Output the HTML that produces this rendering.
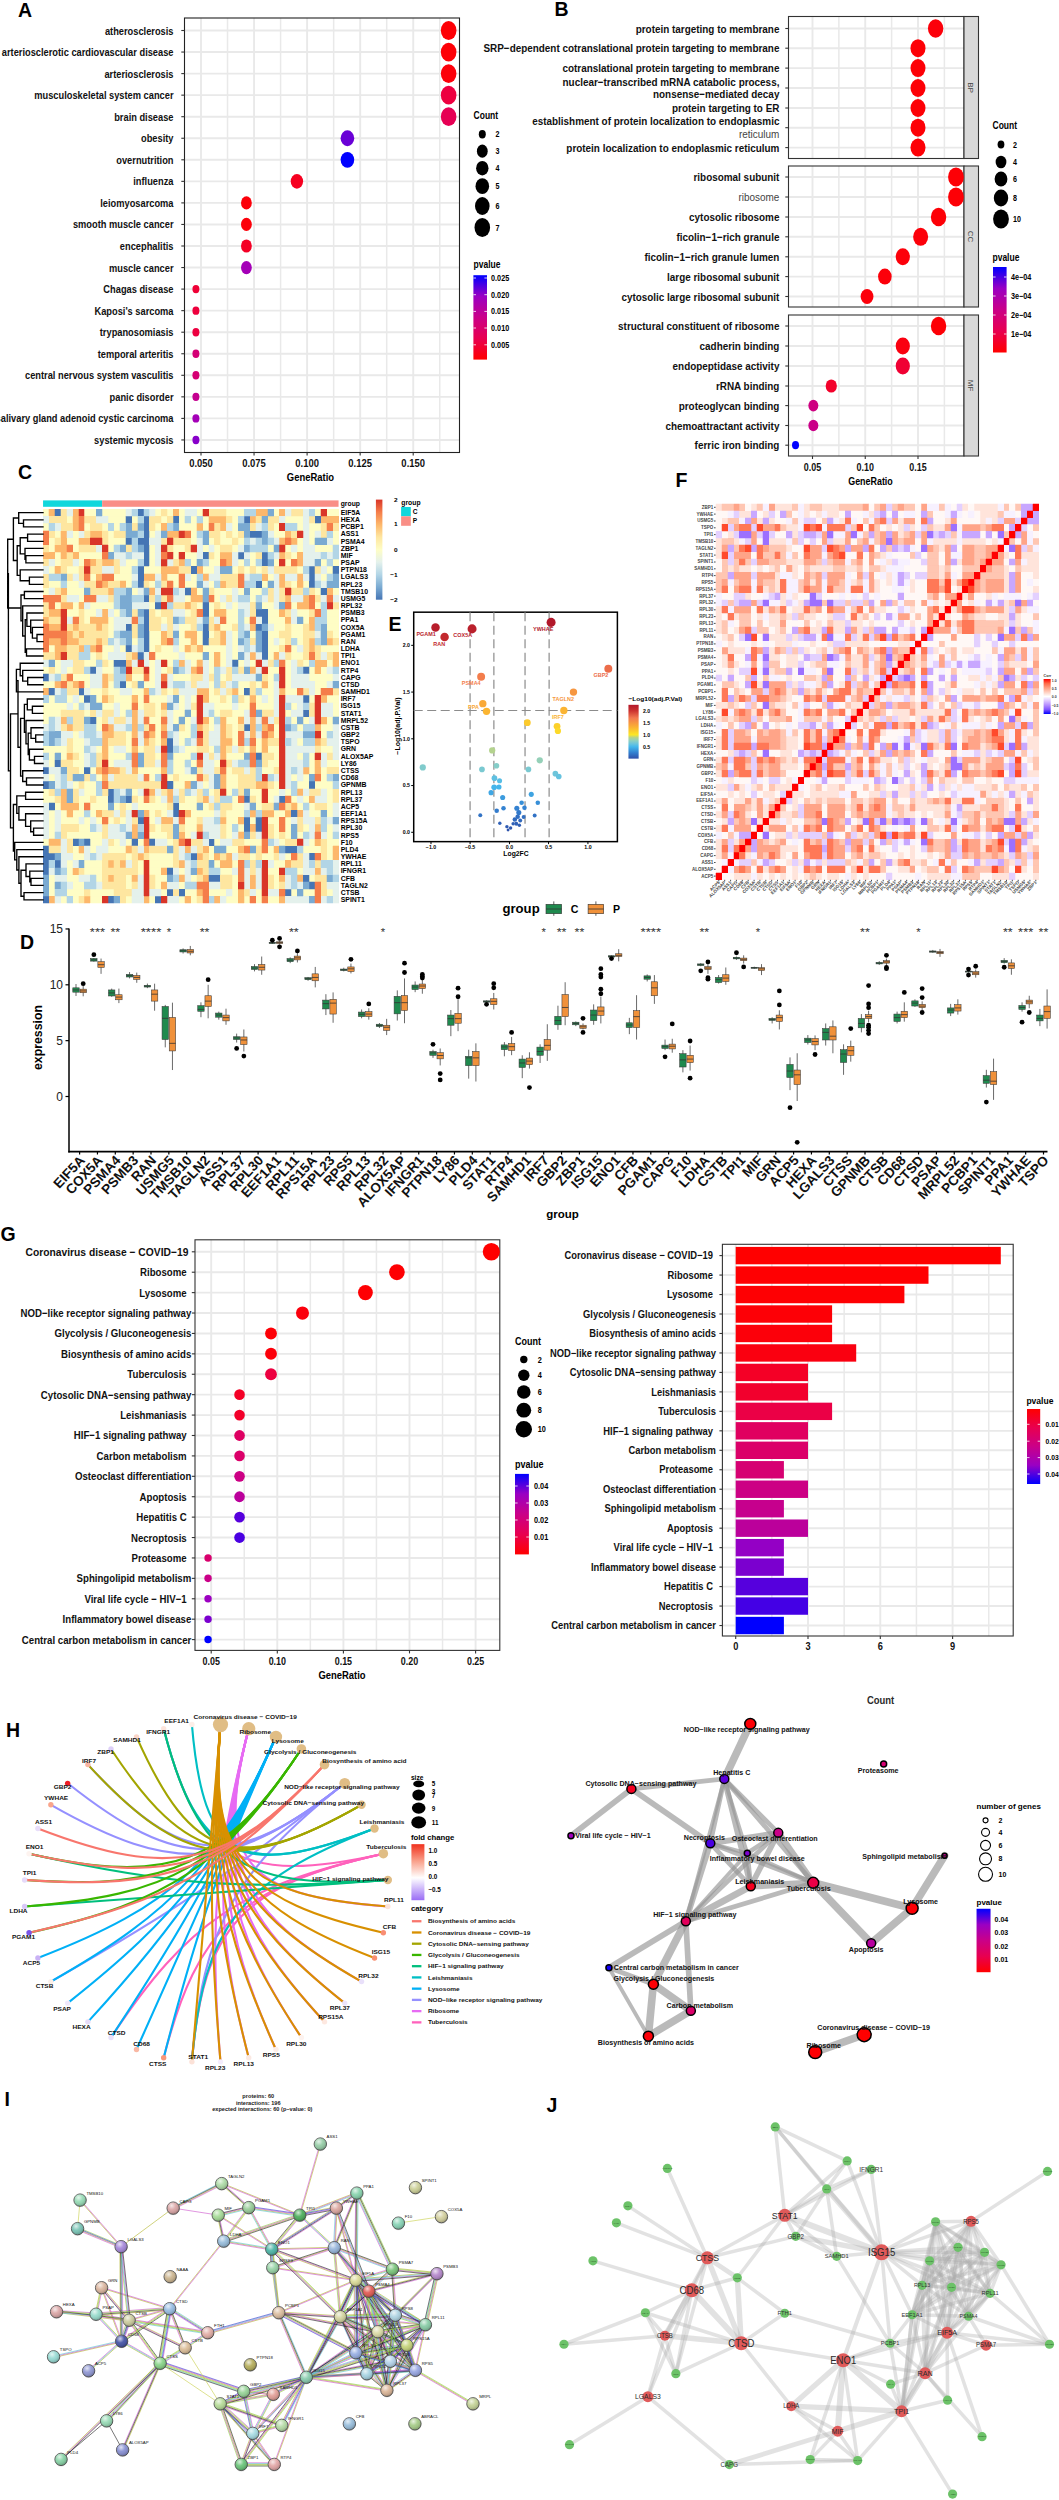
<!DOCTYPE html>
<html><head><meta charset="utf-8"><title>Figure</title>
<style>
html,body{margin:0;padding:0;background:#fff;}
body{width:1059px;height:2500px;overflow:hidden;font-family:"Liberation Sans",sans-serif;}
svg{display:block;font-family:"Liberation Sans",sans-serif;}
</style></head><body>
<svg width="1059" height="2500" viewBox="0 0 1059 2500">
<defs>
<linearGradient id="gpv" x1="0" y1="0" x2="0" y2="1"><stop offset="0" stop-color="#0000ff"/><stop offset="0.25" stop-color="#9a00c3"/><stop offset="0.5" stop-color="#ca0088"/><stop offset="0.75" stop-color="#e80050"/><stop offset="1" stop-color="#ff0000"/></linearGradient>
<linearGradient id="gpvr" x1="0" y1="0" x2="0" y2="1"><stop offset="0" stop-color="#ff0000"/><stop offset="0.25" stop-color="#e80050"/><stop offset="0.5" stop-color="#ca0088"/><stop offset="0.75" stop-color="#9a00c3"/><stop offset="1" stop-color="#0000ff"/></linearGradient>
<linearGradient id="ghm" x1="0" y1="1" x2="0" y2="0"><stop offset="0.0" stop-color="#4575b4"/><stop offset="0.125" stop-color="#7aaad2"/><stop offset="0.25" stop-color="#b2d5e6"/><stop offset="0.375" stop-color="#e4f1ec"/><stop offset="0.5" stop-color="#fefdc5"/><stop offset="0.625" stop-color="#fee6a0"/><stop offset="0.75" stop-color="#fdb76b"/><stop offset="0.875" stop-color="#f57d4a"/><stop offset="1.0" stop-color="#d93528"/></linearGradient>
<linearGradient id="gvol" x1="0" y1="1" x2="0" y2="0"><stop offset="0.000" stop-color="#2f4fa8"/><stop offset="0.111" stop-color="#3380d0"/><stop offset="0.222" stop-color="#45b8ec"/><stop offset="0.276" stop-color="#6cc4dc"/><stop offset="0.333" stop-color="#8fd0c0"/><stop offset="0.391" stop-color="#b5d38c"/><stop offset="0.444" stop-color="#fde725"/><stop offset="0.578" stop-color="#fbb432"/><stop offset="0.756" stop-color="#f2784f"/><stop offset="0.889" stop-color="#cc3230"/><stop offset="1.000" stop-color="#b2182b"/></linearGradient>
<linearGradient id="gcorr" x1="0" y1="1" x2="0" y2="0"><stop offset="0" stop-color="#0000ff"/><stop offset="0.125" stop-color="#7e52ff"/><stop offset="0.25" stop-color="#b38bff"/><stop offset="0.375" stop-color="#dcc4ff"/><stop offset="0.5" stop-color="#fff"/><stop offset="0.625" stop-color="#ffcfbf"/><stop offset="0.75" stop-color="#ff9e81"/><stop offset="0.875" stop-color="#ff6846"/><stop offset="1" stop-color="#ff0000"/></linearGradient>
<linearGradient id="gfc" x1="0" y1="0" x2="0" y2="1"><stop offset="0" stop-color="#f0321f"/><stop offset="0.3" stop-color="#f9a08a"/><stop offset="0.6" stop-color="#ffffff"/><stop offset="1" stop-color="#9a6cf5"/></linearGradient>
<radialGradient id="gloss" cx="0.38" cy="0.3" r="0.75"><stop offset="0" stop-color="#fff" stop-opacity="0.75"/><stop offset="0.45" stop-color="#fff" stop-opacity="0.12"/><stop offset="1" stop-color="#000" stop-opacity="0.28"/></radialGradient>
</defs>
<rect x="0" y="0" width="1059" height="2500" fill="#fff"/>
<!-- p_a.py -->
<text transform="translate(18.00,16.50)" text-anchor="start" font-size="19.5" font-weight="bold" fill="#000">A</text>
<rect x="184.50" y="18.00" width="275.00" height="434.50" fill="#fff" stroke="none" stroke-width="1" />
<line x1="184.50" y1="30.50" x2="459.50" y2="30.50" stroke="#e9e9e9" stroke-width="1.9" />
<line x1="184.50" y1="52.05" x2="459.50" y2="52.05" stroke="#e9e9e9" stroke-width="1.9" />
<line x1="184.50" y1="73.60" x2="459.50" y2="73.60" stroke="#e9e9e9" stroke-width="1.9" />
<line x1="184.50" y1="95.15" x2="459.50" y2="95.15" stroke="#e9e9e9" stroke-width="1.9" />
<line x1="184.50" y1="116.70" x2="459.50" y2="116.70" stroke="#e9e9e9" stroke-width="1.9" />
<line x1="184.50" y1="138.25" x2="459.50" y2="138.25" stroke="#e9e9e9" stroke-width="1.9" />
<line x1="184.50" y1="159.80" x2="459.50" y2="159.80" stroke="#e9e9e9" stroke-width="1.9" />
<line x1="184.50" y1="181.35" x2="459.50" y2="181.35" stroke="#e9e9e9" stroke-width="1.9" />
<line x1="184.50" y1="202.90" x2="459.50" y2="202.90" stroke="#e9e9e9" stroke-width="1.9" />
<line x1="184.50" y1="224.45" x2="459.50" y2="224.45" stroke="#e9e9e9" stroke-width="1.9" />
<line x1="184.50" y1="246.00" x2="459.50" y2="246.00" stroke="#e9e9e9" stroke-width="1.9" />
<line x1="184.50" y1="267.55" x2="459.50" y2="267.55" stroke="#e9e9e9" stroke-width="1.9" />
<line x1="184.50" y1="289.10" x2="459.50" y2="289.10" stroke="#e9e9e9" stroke-width="1.9" />
<line x1="184.50" y1="310.65" x2="459.50" y2="310.65" stroke="#e9e9e9" stroke-width="1.9" />
<line x1="184.50" y1="332.20" x2="459.50" y2="332.20" stroke="#e9e9e9" stroke-width="1.9" />
<line x1="184.50" y1="353.75" x2="459.50" y2="353.75" stroke="#e9e9e9" stroke-width="1.9" />
<line x1="184.50" y1="375.30" x2="459.50" y2="375.30" stroke="#e9e9e9" stroke-width="1.9" />
<line x1="184.50" y1="396.85" x2="459.50" y2="396.85" stroke="#e9e9e9" stroke-width="1.9" />
<line x1="184.50" y1="418.40" x2="459.50" y2="418.40" stroke="#e9e9e9" stroke-width="1.9" />
<line x1="184.50" y1="439.95" x2="459.50" y2="439.95" stroke="#e9e9e9" stroke-width="1.9" />
<line x1="201.00" y1="18.00" x2="201.00" y2="452.50" stroke="#e9e9e9" stroke-width="1.9" />
<line x1="227.53" y1="18.00" x2="227.53" y2="452.50" stroke="#e9e9e9" stroke-width="1.5" />
<line x1="254.06" y1="18.00" x2="254.06" y2="452.50" stroke="#e9e9e9" stroke-width="1.9" />
<line x1="280.59" y1="18.00" x2="280.59" y2="452.50" stroke="#e9e9e9" stroke-width="1.5" />
<line x1="307.12" y1="18.00" x2="307.12" y2="452.50" stroke="#e9e9e9" stroke-width="1.9" />
<line x1="333.65" y1="18.00" x2="333.65" y2="452.50" stroke="#e9e9e9" stroke-width="1.5" />
<line x1="360.18" y1="18.00" x2="360.18" y2="452.50" stroke="#e9e9e9" stroke-width="1.9" />
<line x1="386.71" y1="18.00" x2="386.71" y2="452.50" stroke="#e9e9e9" stroke-width="1.5" />
<line x1="413.24" y1="18.00" x2="413.24" y2="452.50" stroke="#e9e9e9" stroke-width="1.9" />
<line x1="439.77" y1="18.00" x2="439.77" y2="452.50" stroke="#e9e9e9" stroke-width="1.5" />
<rect x="184.50" y="18.00" width="275.00" height="434.50" fill="none" stroke="#222" stroke-width="1.1" />
<text transform="translate(173.50,34.50) scale(0.800,1)" text-anchor="end" font-size="11.6" font-weight="bold" fill="#111">atherosclerosis</text>
<line x1="181.30" y1="30.50" x2="184.50" y2="30.50" stroke="#333" stroke-width="1.1" />
<text transform="translate(173.50,56.05) scale(0.800,1)" text-anchor="end" font-size="11.6" font-weight="bold" fill="#111">arteriosclerotic cardiovascular disease</text>
<line x1="181.30" y1="52.05" x2="184.50" y2="52.05" stroke="#333" stroke-width="1.1" />
<text transform="translate(173.50,77.60) scale(0.800,1)" text-anchor="end" font-size="11.6" font-weight="bold" fill="#111">arteriosclerosis</text>
<line x1="181.30" y1="73.60" x2="184.50" y2="73.60" stroke="#333" stroke-width="1.1" />
<text transform="translate(173.50,99.15) scale(0.800,1)" text-anchor="end" font-size="11.6" font-weight="bold" fill="#111">musculoskeletal system cancer</text>
<line x1="181.30" y1="95.15" x2="184.50" y2="95.15" stroke="#333" stroke-width="1.1" />
<text transform="translate(173.50,120.70) scale(0.800,1)" text-anchor="end" font-size="11.6" font-weight="bold" fill="#111">brain disease</text>
<line x1="181.30" y1="116.70" x2="184.50" y2="116.70" stroke="#333" stroke-width="1.1" />
<text transform="translate(173.50,142.25) scale(0.800,1)" text-anchor="end" font-size="11.6" font-weight="bold" fill="#111">obesity</text>
<line x1="181.30" y1="138.25" x2="184.50" y2="138.25" stroke="#333" stroke-width="1.1" />
<text transform="translate(173.50,163.80) scale(0.800,1)" text-anchor="end" font-size="11.6" font-weight="bold" fill="#111">overnutrition</text>
<line x1="181.30" y1="159.80" x2="184.50" y2="159.80" stroke="#333" stroke-width="1.1" />
<text transform="translate(173.50,185.35) scale(0.800,1)" text-anchor="end" font-size="11.6" font-weight="bold" fill="#111">influenza </text>
<line x1="181.30" y1="181.35" x2="184.50" y2="181.35" stroke="#333" stroke-width="1.1" />
<text transform="translate(173.50,206.90) scale(0.800,1)" text-anchor="end" font-size="11.6" font-weight="bold" fill="#111">leiomyosarcoma</text>
<line x1="181.30" y1="202.90" x2="184.50" y2="202.90" stroke="#333" stroke-width="1.1" />
<text transform="translate(173.50,228.45) scale(0.800,1)" text-anchor="end" font-size="11.6" font-weight="bold" fill="#111">smooth muscle cancer</text>
<line x1="181.30" y1="224.45" x2="184.50" y2="224.45" stroke="#333" stroke-width="1.1" />
<text transform="translate(173.50,250.00) scale(0.800,1)" text-anchor="end" font-size="11.6" font-weight="bold" fill="#111">encephalitis</text>
<line x1="181.30" y1="246.00" x2="184.50" y2="246.00" stroke="#333" stroke-width="1.1" />
<text transform="translate(173.50,271.55) scale(0.800,1)" text-anchor="end" font-size="11.6" font-weight="bold" fill="#111">muscle cancer</text>
<line x1="181.30" y1="267.55" x2="184.50" y2="267.55" stroke="#333" stroke-width="1.1" />
<text transform="translate(173.50,293.10) scale(0.800,1)" text-anchor="end" font-size="11.6" font-weight="bold" fill="#111">Chagas disease</text>
<line x1="181.30" y1="289.10" x2="184.50" y2="289.10" stroke="#333" stroke-width="1.1" />
<text transform="translate(173.50,314.65) scale(0.800,1)" text-anchor="end" font-size="11.6" font-weight="bold" fill="#111">Kaposi's sarcoma</text>
<line x1="181.30" y1="310.65" x2="184.50" y2="310.65" stroke="#333" stroke-width="1.1" />
<text transform="translate(173.50,336.20) scale(0.800,1)" text-anchor="end" font-size="11.6" font-weight="bold" fill="#111">trypanosomiasis</text>
<line x1="181.30" y1="332.20" x2="184.50" y2="332.20" stroke="#333" stroke-width="1.1" />
<text transform="translate(173.50,357.75) scale(0.800,1)" text-anchor="end" font-size="11.6" font-weight="bold" fill="#111">temporal arteritis</text>
<line x1="181.30" y1="353.75" x2="184.50" y2="353.75" stroke="#333" stroke-width="1.1" />
<text transform="translate(173.50,379.30) scale(0.800,1)" text-anchor="end" font-size="11.6" font-weight="bold" fill="#111">central nervous system vasculitis</text>
<line x1="181.30" y1="375.30" x2="184.50" y2="375.30" stroke="#333" stroke-width="1.1" />
<text transform="translate(173.50,400.85) scale(0.800,1)" text-anchor="end" font-size="11.6" font-weight="bold" fill="#111">panic disorder</text>
<line x1="181.30" y1="396.85" x2="184.50" y2="396.85" stroke="#333" stroke-width="1.1" />
<text transform="translate(173.50,422.40) scale(0.800,1)" text-anchor="end" font-size="11.6" font-weight="bold" fill="#111">salivary gland adenoid cystic carcinoma</text>
<line x1="181.30" y1="418.40" x2="184.50" y2="418.40" stroke="#333" stroke-width="1.1" />
<text transform="translate(173.50,443.95) scale(0.800,1)" text-anchor="end" font-size="11.6" font-weight="bold" fill="#111">systemic mycosis</text>
<line x1="181.30" y1="439.95" x2="184.50" y2="439.95" stroke="#333" stroke-width="1.1" />
<ellipse cx="448.64" cy="30.50" rx="7.80" ry="9.40" fill="#fd0006" stroke="none" stroke-width="1" />
<ellipse cx="448.64" cy="52.05" rx="7.80" ry="9.40" fill="#fd0006" stroke="none" stroke-width="1" />
<ellipse cx="448.64" cy="73.60" rx="7.80" ry="9.40" fill="#fc000a" stroke="none" stroke-width="1" />
<ellipse cx="448.64" cy="95.15" rx="7.80" ry="9.40" fill="#ed0040" stroke="none" stroke-width="1" />
<ellipse cx="448.64" cy="116.70" rx="7.80" ry="9.40" fill="#e60054" stroke="none" stroke-width="1" />
<ellipse cx="347.42" cy="138.25" rx="6.80" ry="7.90" fill="#6900d6" stroke="none" stroke-width="1" />
<ellipse cx="347.42" cy="159.80" rx="6.80" ry="7.90" fill="#0000ff" stroke="none" stroke-width="1" />
<ellipse cx="296.91" cy="181.35" rx="6.20" ry="7.30" fill="#f60020" stroke="none" stroke-width="1" />
<ellipse cx="246.41" cy="202.90" rx="5.40" ry="6.60" fill="#fc000a" stroke="none" stroke-width="1" />
<ellipse cx="246.41" cy="224.45" rx="5.40" ry="6.60" fill="#fc000a" stroke="none" stroke-width="1" />
<ellipse cx="246.41" cy="246.00" rx="5.40" ry="6.60" fill="#f40026" stroke="none" stroke-width="1" />
<ellipse cx="246.41" cy="267.55" rx="5.40" ry="6.60" fill="#a400b7" stroke="none" stroke-width="1" />
<ellipse cx="195.91" cy="289.10" rx="3.50" ry="4.20" fill="#ef0036" stroke="none" stroke-width="1" />
<ellipse cx="195.91" cy="310.65" rx="3.50" ry="4.20" fill="#ee003d" stroke="none" stroke-width="1" />
<ellipse cx="195.91" cy="332.20" rx="3.50" ry="4.20" fill="#ed0040" stroke="none" stroke-width="1" />
<ellipse cx="195.91" cy="353.75" rx="3.50" ry="4.20" fill="#d40076" stroke="none" stroke-width="1" />
<ellipse cx="195.91" cy="375.30" rx="3.50" ry="4.20" fill="#d50074" stroke="none" stroke-width="1" />
<ellipse cx="195.91" cy="396.85" rx="3.50" ry="4.20" fill="#c4008f" stroke="none" stroke-width="1" />
<ellipse cx="195.91" cy="418.40" rx="3.50" ry="4.20" fill="#a400b7" stroke="none" stroke-width="1" />
<ellipse cx="195.91" cy="439.95" rx="3.50" ry="4.20" fill="#8800ca" stroke="none" stroke-width="1" />
<line x1="201.00" y1="452.50" x2="201.00" y2="455.50" stroke="#333" stroke-width="1.1" />
<text transform="translate(201.00,466.80) scale(0.860,1)" text-anchor="middle" font-size="11" font-weight="bold" fill="#111">0.050</text>
<line x1="254.05" y1="452.50" x2="254.05" y2="455.50" stroke="#333" stroke-width="1.1" />
<text transform="translate(254.05,466.80) scale(0.860,1)" text-anchor="middle" font-size="11" font-weight="bold" fill="#111">0.075</text>
<line x1="307.10" y1="452.50" x2="307.10" y2="455.50" stroke="#333" stroke-width="1.1" />
<text transform="translate(307.10,466.80) scale(0.860,1)" text-anchor="middle" font-size="11" font-weight="bold" fill="#111">0.100</text>
<line x1="360.15" y1="452.50" x2="360.15" y2="455.50" stroke="#333" stroke-width="1.1" />
<text transform="translate(360.15,466.80) scale(0.860,1)" text-anchor="middle" font-size="11" font-weight="bold" fill="#111">0.125</text>
<line x1="413.20" y1="452.50" x2="413.20" y2="455.50" stroke="#333" stroke-width="1.1" />
<text transform="translate(413.20,466.80) scale(0.860,1)" text-anchor="middle" font-size="11" font-weight="bold" fill="#111">0.150</text>
<text transform="translate(310.50,481.30) scale(0.860,1)" text-anchor="middle" font-size="11" font-weight="bold" fill="#000">GeneRatio</text>
<text transform="translate(473.60,119.00) scale(0.850,1)" text-anchor="start" font-size="10" font-weight="bold" fill="#000">Count</text>
<ellipse cx="482.30" cy="134.30" rx="3.50" ry="4.20" fill="#000" stroke="none" stroke-width="1" />
<text transform="translate(495.50,137.30) scale(0.830,1)" text-anchor="start" font-size="8.6" font-weight="bold" fill="#000">2</text>
<ellipse cx="482.30" cy="151.20" rx="5.40" ry="6.60" fill="#000" stroke="none" stroke-width="1" />
<text transform="translate(495.50,154.20) scale(0.830,1)" text-anchor="start" font-size="8.6" font-weight="bold" fill="#000">3</text>
<ellipse cx="482.30" cy="168.20" rx="6.20" ry="7.30" fill="#000" stroke="none" stroke-width="1" />
<text transform="translate(495.50,171.20) scale(0.830,1)" text-anchor="start" font-size="8.6" font-weight="bold" fill="#000">4</text>
<ellipse cx="482.30" cy="186.20" rx="6.80" ry="7.90" fill="#000" stroke="none" stroke-width="1" />
<text transform="translate(495.50,189.20) scale(0.830,1)" text-anchor="start" font-size="8.6" font-weight="bold" fill="#000">5</text>
<ellipse cx="482.30" cy="206.00" rx="7.30" ry="9.00" fill="#000" stroke="none" stroke-width="1" />
<text transform="translate(495.50,209.00) scale(0.830,1)" text-anchor="start" font-size="8.6" font-weight="bold" fill="#000">6</text>
<ellipse cx="482.30" cy="227.50" rx="7.80" ry="9.40" fill="#000" stroke="none" stroke-width="1" />
<text transform="translate(495.50,230.50) scale(0.830,1)" text-anchor="start" font-size="8.6" font-weight="bold" fill="#000">7</text>
<text transform="translate(473.60,268.20) scale(0.850,1)" text-anchor="start" font-size="10" font-weight="bold" fill="#000">pvalue</text>
<rect x="473.40" y="275.20" width="13.60" height="84.40" fill="url(#gpv)" stroke="none" stroke-width="1" />
<line x1="473.40" y1="278.00" x2="476.00" y2="278.00" stroke="#fff" stroke-width="0.8" />
<line x1="484.40" y1="278.00" x2="487.00" y2="278.00" stroke="#fff" stroke-width="0.8" />
<text transform="translate(491.10,281.00) scale(0.840,1)" text-anchor="start" font-size="8.6" font-weight="bold" fill="#000">0.025</text>
<line x1="473.40" y1="294.70" x2="476.00" y2="294.70" stroke="#fff" stroke-width="0.8" />
<line x1="484.40" y1="294.70" x2="487.00" y2="294.70" stroke="#fff" stroke-width="0.8" />
<text transform="translate(491.10,297.70) scale(0.840,1)" text-anchor="start" font-size="8.6" font-weight="bold" fill="#000">0.020</text>
<line x1="473.40" y1="311.40" x2="476.00" y2="311.40" stroke="#fff" stroke-width="0.8" />
<line x1="484.40" y1="311.40" x2="487.00" y2="311.40" stroke="#fff" stroke-width="0.8" />
<text transform="translate(491.10,314.40) scale(0.840,1)" text-anchor="start" font-size="8.6" font-weight="bold" fill="#000">0.015</text>
<line x1="473.40" y1="328.00" x2="476.00" y2="328.00" stroke="#fff" stroke-width="0.8" />
<line x1="484.40" y1="328.00" x2="487.00" y2="328.00" stroke="#fff" stroke-width="0.8" />
<text transform="translate(491.10,331.00) scale(0.840,1)" text-anchor="start" font-size="8.6" font-weight="bold" fill="#000">0.010</text>
<line x1="473.40" y1="344.80" x2="476.00" y2="344.80" stroke="#fff" stroke-width="0.8" />
<line x1="484.40" y1="344.80" x2="487.00" y2="344.80" stroke="#fff" stroke-width="0.8" />
<text transform="translate(491.10,347.80) scale(0.840,1)" text-anchor="start" font-size="8.6" font-weight="bold" fill="#000">0.005</text>
<!-- p_b.py -->
<text transform="translate(554.50,16.30)" text-anchor="start" font-size="19.5" font-weight="bold" fill="#000">B</text>
<rect x="788.50" y="16.50" width="175.50" height="142.00" fill="#fff" stroke="none" stroke-width="1" />
<line x1="812.50" y1="16.50" x2="812.50" y2="158.50" stroke="#e9e9e9" stroke-width="1.9" />
<line x1="838.88" y1="16.50" x2="838.88" y2="158.50" stroke="#e9e9e9" stroke-width="1.5" />
<line x1="865.25" y1="16.50" x2="865.25" y2="158.50" stroke="#e9e9e9" stroke-width="1.9" />
<line x1="891.62" y1="16.50" x2="891.62" y2="158.50" stroke="#e9e9e9" stroke-width="1.5" />
<line x1="918.00" y1="16.50" x2="918.00" y2="158.50" stroke="#e9e9e9" stroke-width="1.9" />
<line x1="944.38" y1="16.50" x2="944.38" y2="158.50" stroke="#e9e9e9" stroke-width="1.5" />
<line x1="788.50" y1="28.50" x2="964.00" y2="28.50" stroke="#e9e9e9" stroke-width="1.9" />
<line x1="788.50" y1="48.20" x2="964.00" y2="48.20" stroke="#e9e9e9" stroke-width="1.9" />
<line x1="788.50" y1="68.10" x2="964.00" y2="68.10" stroke="#e9e9e9" stroke-width="1.9" />
<line x1="788.50" y1="88.00" x2="964.00" y2="88.00" stroke="#e9e9e9" stroke-width="1.9" />
<line x1="788.50" y1="108.00" x2="964.00" y2="108.00" stroke="#e9e9e9" stroke-width="1.9" />
<line x1="788.50" y1="127.70" x2="964.00" y2="127.70" stroke="#e9e9e9" stroke-width="1.9" />
<line x1="788.50" y1="147.60" x2="964.00" y2="147.60" stroke="#e9e9e9" stroke-width="1.9" />
<rect x="788.50" y="16.50" width="175.50" height="142.00" fill="none" stroke="#333" stroke-width="1.1" />
<rect x="964.00" y="16.50" width="14.50" height="142.00" fill="#d9d9d9" stroke="#333" stroke-width="1.1" />
<text transform="translate(968.20,87.50) rotate(90)" text-anchor="middle" font-size="8" fill="#444">BP</text>
<rect x="788.50" y="166.00" width="175.50" height="141.00" fill="#fff" stroke="none" stroke-width="1" />
<line x1="812.50" y1="166.00" x2="812.50" y2="307.00" stroke="#e9e9e9" stroke-width="1.9" />
<line x1="838.88" y1="166.00" x2="838.88" y2="307.00" stroke="#e9e9e9" stroke-width="1.5" />
<line x1="865.25" y1="166.00" x2="865.25" y2="307.00" stroke="#e9e9e9" stroke-width="1.9" />
<line x1="891.62" y1="166.00" x2="891.62" y2="307.00" stroke="#e9e9e9" stroke-width="1.5" />
<line x1="918.00" y1="166.00" x2="918.00" y2="307.00" stroke="#e9e9e9" stroke-width="1.9" />
<line x1="944.38" y1="166.00" x2="944.38" y2="307.00" stroke="#e9e9e9" stroke-width="1.5" />
<line x1="788.50" y1="177.00" x2="964.00" y2="177.00" stroke="#e9e9e9" stroke-width="1.9" />
<line x1="788.50" y1="197.00" x2="964.00" y2="197.00" stroke="#e9e9e9" stroke-width="1.9" />
<line x1="788.50" y1="217.00" x2="964.00" y2="217.00" stroke="#e9e9e9" stroke-width="1.9" />
<line x1="788.50" y1="236.80" x2="964.00" y2="236.80" stroke="#e9e9e9" stroke-width="1.9" />
<line x1="788.50" y1="256.80" x2="964.00" y2="256.80" stroke="#e9e9e9" stroke-width="1.9" />
<line x1="788.50" y1="276.60" x2="964.00" y2="276.60" stroke="#e9e9e9" stroke-width="1.9" />
<line x1="788.50" y1="296.50" x2="964.00" y2="296.50" stroke="#e9e9e9" stroke-width="1.9" />
<rect x="788.50" y="166.00" width="175.50" height="141.00" fill="none" stroke="#333" stroke-width="1.1" />
<rect x="964.00" y="166.00" width="14.50" height="141.00" fill="#d9d9d9" stroke="#333" stroke-width="1.1" />
<text transform="translate(968.20,236.50) rotate(90)" text-anchor="middle" font-size="8" fill="#444">CC</text>
<rect x="788.50" y="315.00" width="175.50" height="141.00" fill="#fff" stroke="none" stroke-width="1" />
<line x1="812.50" y1="315.00" x2="812.50" y2="456.00" stroke="#e9e9e9" stroke-width="1.9" />
<line x1="838.88" y1="315.00" x2="838.88" y2="456.00" stroke="#e9e9e9" stroke-width="1.5" />
<line x1="865.25" y1="315.00" x2="865.25" y2="456.00" stroke="#e9e9e9" stroke-width="1.9" />
<line x1="891.62" y1="315.00" x2="891.62" y2="456.00" stroke="#e9e9e9" stroke-width="1.5" />
<line x1="918.00" y1="315.00" x2="918.00" y2="456.00" stroke="#e9e9e9" stroke-width="1.9" />
<line x1="944.38" y1="315.00" x2="944.38" y2="456.00" stroke="#e9e9e9" stroke-width="1.5" />
<line x1="788.50" y1="326.00" x2="964.00" y2="326.00" stroke="#e9e9e9" stroke-width="1.9" />
<line x1="788.50" y1="346.00" x2="964.00" y2="346.00" stroke="#e9e9e9" stroke-width="1.9" />
<line x1="788.50" y1="366.00" x2="964.00" y2="366.00" stroke="#e9e9e9" stroke-width="1.9" />
<line x1="788.50" y1="386.00" x2="964.00" y2="386.00" stroke="#e9e9e9" stroke-width="1.9" />
<line x1="788.50" y1="405.60" x2="964.00" y2="405.60" stroke="#e9e9e9" stroke-width="1.9" />
<line x1="788.50" y1="425.50" x2="964.00" y2="425.50" stroke="#e9e9e9" stroke-width="1.9" />
<line x1="788.50" y1="445.20" x2="964.00" y2="445.20" stroke="#e9e9e9" stroke-width="1.9" />
<rect x="788.50" y="315.00" width="175.50" height="141.00" fill="none" stroke="#333" stroke-width="1.1" />
<rect x="964.00" y="315.00" width="14.50" height="141.00" fill="#d9d9d9" stroke="#333" stroke-width="1.1" />
<text transform="translate(968.20,385.50) rotate(90)" text-anchor="middle" font-size="8" fill="#444">MF</text>
<text transform="translate(779.40,32.50) scale(0.855,1)" text-anchor="end" font-size="11.6" font-weight="bold" fill="#111">protein targeting to membrane</text>
<line x1="785.30" y1="28.50" x2="788.50" y2="28.50" stroke="#333" stroke-width="1.1" />
<ellipse cx="935.62" cy="28.50" rx="7.70" ry="9.20" fill="#fc000a" stroke="none" stroke-width="1" />
<text transform="translate(779.40,52.20) scale(0.855,1)" text-anchor="end" font-size="11.6" font-weight="bold" fill="#111">SRP−dependent cotranslational protein targeting to membrane</text>
<line x1="785.30" y1="48.20" x2="788.50" y2="48.20" stroke="#333" stroke-width="1.1" />
<ellipse cx="918.00" cy="48.20" rx="7.50" ry="9.00" fill="#fd0006" stroke="none" stroke-width="1" />
<text transform="translate(779.40,72.10) scale(0.855,1)" text-anchor="end" font-size="11.6" font-weight="bold" fill="#111">cotranslational protein targeting to membrane</text>
<line x1="785.30" y1="68.10" x2="788.50" y2="68.10" stroke="#333" stroke-width="1.1" />
<ellipse cx="918.00" cy="68.10" rx="7.50" ry="9.00" fill="#fd0006" stroke="none" stroke-width="1" />
<text transform="translate(779.40,85.70) scale(0.855,1)" text-anchor="end" font-size="11.6" font-weight="bold" fill="#111">nuclear−transcribed mRNA catabolic process,</text>
<text transform="translate(779.40,98.30) scale(0.855,1)" text-anchor="end" font-size="11.6" font-weight="bold" fill="#111">nonsense−mediated decay</text>
<line x1="785.30" y1="88.00" x2="788.50" y2="88.00" stroke="#333" stroke-width="1.1" />
<ellipse cx="918.00" cy="88.00" rx="7.50" ry="9.00" fill="#fd0006" stroke="none" stroke-width="1" />
<text transform="translate(779.40,112.00) scale(0.855,1)" text-anchor="end" font-size="11.6" font-weight="bold" fill="#111">protein targeting to ER</text>
<line x1="785.30" y1="108.00" x2="788.50" y2="108.00" stroke="#333" stroke-width="1.1" />
<ellipse cx="918.00" cy="108.00" rx="7.50" ry="9.00" fill="#fd0006" stroke="none" stroke-width="1" />
<text transform="translate(779.40,125.40) scale(0.855,1)" text-anchor="end" font-size="11.6" font-weight="bold" fill="#111">establishment of protein localization to endoplasmic</text>
<text transform="translate(779.40,138.00) scale(0.860,1)" text-anchor="end" font-size="11.6" fill="#444">reticulum</text>
<line x1="785.30" y1="127.70" x2="788.50" y2="127.70" stroke="#333" stroke-width="1.1" />
<ellipse cx="918.00" cy="127.70" rx="7.50" ry="9.00" fill="#fd0006" stroke="none" stroke-width="1" />
<text transform="translate(779.40,151.60) scale(0.855,1)" text-anchor="end" font-size="11.6" font-weight="bold" fill="#111">protein localization to endoplasmic reticulum</text>
<line x1="785.30" y1="147.60" x2="788.50" y2="147.60" stroke="#333" stroke-width="1.1" />
<ellipse cx="918.00" cy="147.60" rx="7.50" ry="9.00" fill="#fd0006" stroke="none" stroke-width="1" />
<text transform="translate(779.40,181.00) scale(0.855,1)" text-anchor="end" font-size="11.6" font-weight="bold" fill="#111">ribosomal subunit</text>
<line x1="785.30" y1="177.00" x2="788.50" y2="177.00" stroke="#333" stroke-width="1.1" />
<ellipse cx="955.98" cy="177.00" rx="7.90" ry="9.40" fill="#fd0006" stroke="none" stroke-width="1" />
<text transform="translate(779.40,201.00) scale(0.860,1)" text-anchor="end" font-size="11.6" fill="#444">ribosome</text>
<line x1="785.30" y1="197.00" x2="788.50" y2="197.00" stroke="#333" stroke-width="1.1" />
<ellipse cx="955.98" cy="197.00" rx="7.90" ry="9.40" fill="#fd0006" stroke="none" stroke-width="1" />
<text transform="translate(779.40,221.00) scale(0.855,1)" text-anchor="end" font-size="11.6" font-weight="bold" fill="#111">cytosolic ribosome</text>
<line x1="785.30" y1="217.00" x2="788.50" y2="217.00" stroke="#333" stroke-width="1.1" />
<ellipse cx="938.57" cy="217.00" rx="7.70" ry="9.20" fill="#fd0006" stroke="none" stroke-width="1" />
<text transform="translate(779.40,240.80) scale(0.855,1)" text-anchor="end" font-size="11.6" font-weight="bold" fill="#111">ficolin−1−rich granule</text>
<line x1="785.30" y1="236.80" x2="788.50" y2="236.80" stroke="#333" stroke-width="1.1" />
<ellipse cx="920.64" cy="236.80" rx="7.50" ry="9.00" fill="#fc000a" stroke="none" stroke-width="1" />
<text transform="translate(779.40,260.80) scale(0.855,1)" text-anchor="end" font-size="11.6" font-weight="bold" fill="#111">ficolin−1−rich granule lumen</text>
<line x1="785.30" y1="256.80" x2="788.50" y2="256.80" stroke="#333" stroke-width="1.1" />
<ellipse cx="902.81" cy="256.80" rx="7.10" ry="8.50" fill="#fc000a" stroke="none" stroke-width="1" />
<text transform="translate(779.40,280.60) scale(0.855,1)" text-anchor="end" font-size="11.6" font-weight="bold" fill="#111">large ribosomal subunit</text>
<line x1="785.30" y1="276.60" x2="788.50" y2="276.60" stroke="#333" stroke-width="1.1" />
<ellipse cx="884.87" cy="276.60" rx="6.80" ry="8.00" fill="#fc000a" stroke="none" stroke-width="1" />
<text transform="translate(779.40,300.50) scale(0.855,1)" text-anchor="end" font-size="11.6" font-weight="bold" fill="#111">cytosolic large ribosomal subunit</text>
<line x1="785.30" y1="296.50" x2="788.50" y2="296.50" stroke="#333" stroke-width="1.1" />
<ellipse cx="867.04" cy="296.50" rx="6.40" ry="7.60" fill="#fc000a" stroke="none" stroke-width="1" />
<text transform="translate(779.40,330.00) scale(0.855,1)" text-anchor="end" font-size="11.6" font-weight="bold" fill="#111">structural constituent of ribosome</text>
<line x1="785.30" y1="326.00" x2="788.50" y2="326.00" stroke="#333" stroke-width="1.1" />
<ellipse cx="938.57" cy="326.00" rx="7.70" ry="9.20" fill="#fd0006" stroke="none" stroke-width="1" />
<text transform="translate(779.40,350.00) scale(0.855,1)" text-anchor="end" font-size="11.6" font-weight="bold" fill="#111">cadherin binding</text>
<line x1="785.30" y1="346.00" x2="788.50" y2="346.00" stroke="#333" stroke-width="1.1" />
<ellipse cx="902.81" cy="346.00" rx="7.10" ry="8.50" fill="#fa0010" stroke="none" stroke-width="1" />
<text transform="translate(779.40,370.00) scale(0.855,1)" text-anchor="end" font-size="11.6" font-weight="bold" fill="#111">endopeptidase activity</text>
<line x1="785.30" y1="366.00" x2="788.50" y2="366.00" stroke="#333" stroke-width="1.1" />
<ellipse cx="902.81" cy="366.00" rx="7.10" ry="8.50" fill="#f00033" stroke="none" stroke-width="1" />
<text transform="translate(779.40,390.00) scale(0.855,1)" text-anchor="end" font-size="11.6" font-weight="bold" fill="#111">rRNA binding</text>
<line x1="785.30" y1="386.00" x2="788.50" y2="386.00" stroke="#333" stroke-width="1.1" />
<ellipse cx="831.28" cy="386.00" rx="5.60" ry="6.60" fill="#f3002a" stroke="none" stroke-width="1" />
<text transform="translate(779.40,409.60) scale(0.855,1)" text-anchor="end" font-size="11.6" font-weight="bold" fill="#111">proteoglycan binding</text>
<line x1="785.30" y1="405.60" x2="788.50" y2="405.60" stroke="#333" stroke-width="1.1" />
<ellipse cx="813.34" cy="405.60" rx="5.00" ry="5.80" fill="#ce0081" stroke="none" stroke-width="1" />
<text transform="translate(779.40,429.50) scale(0.855,1)" text-anchor="end" font-size="11.6" font-weight="bold" fill="#111">chemoattractant activity</text>
<line x1="785.30" y1="425.50" x2="788.50" y2="425.50" stroke="#333" stroke-width="1.1" />
<ellipse cx="813.34" cy="425.50" rx="5.00" ry="5.80" fill="#ca0088" stroke="none" stroke-width="1" />
<text transform="translate(779.40,449.20) scale(0.855,1)" text-anchor="end" font-size="11.6" font-weight="bold" fill="#111">ferric iron binding</text>
<line x1="785.30" y1="445.20" x2="788.50" y2="445.20" stroke="#333" stroke-width="1.1" />
<ellipse cx="795.51" cy="445.20" rx="3.50" ry="4.10" fill="#0000ff" stroke="none" stroke-width="1" />
<line x1="812.50" y1="456.00" x2="812.50" y2="459.00" stroke="#333" stroke-width="1.1" />
<text transform="translate(812.50,470.50) scale(0.850,1)" text-anchor="middle" font-size="10.5" font-weight="bold" fill="#111">0.05</text>
<line x1="865.25" y1="456.00" x2="865.25" y2="459.00" stroke="#333" stroke-width="1.1" />
<text transform="translate(865.25,470.50) scale(0.850,1)" text-anchor="middle" font-size="10.5" font-weight="bold" fill="#111">0.10</text>
<line x1="918.00" y1="456.00" x2="918.00" y2="459.00" stroke="#333" stroke-width="1.1" />
<text transform="translate(918.00,470.50) scale(0.850,1)" text-anchor="middle" font-size="10.5" font-weight="bold" fill="#111">0.15</text>
<text transform="translate(870.50,485.00) scale(0.850,1)" text-anchor="middle" font-size="10.5" font-weight="bold" fill="#000">GeneRatio</text>
<text transform="translate(992.50,129.00) scale(0.850,1)" text-anchor="start" font-size="10" font-weight="bold" fill="#000">Count</text>
<ellipse cx="1001.00" cy="144.50" rx="3.40" ry="4.00" fill="#000" stroke="none" stroke-width="1" />
<text transform="translate(1013.00,147.50) scale(0.830,1)" text-anchor="start" font-size="8.6" font-weight="bold" fill="#000">2</text>
<ellipse cx="1001.00" cy="162.00" rx="5.40" ry="6.30" fill="#000" stroke="none" stroke-width="1" />
<text transform="translate(1013.00,165.00) scale(0.830,1)" text-anchor="start" font-size="8.6" font-weight="bold" fill="#000">4</text>
<ellipse cx="1001.00" cy="179.00" rx="6.40" ry="7.50" fill="#000" stroke="none" stroke-width="1" />
<text transform="translate(1013.00,182.00) scale(0.830,1)" text-anchor="start" font-size="8.6" font-weight="bold" fill="#000">6</text>
<ellipse cx="1001.00" cy="198.00" rx="7.20" ry="8.50" fill="#000" stroke="none" stroke-width="1" />
<text transform="translate(1013.00,201.00) scale(0.830,1)" text-anchor="start" font-size="8.6" font-weight="bold" fill="#000">8</text>
<ellipse cx="1001.00" cy="219.00" rx="7.90" ry="9.40" fill="#000" stroke="none" stroke-width="1" />
<text transform="translate(1013.00,222.00) scale(0.830,1)" text-anchor="start" font-size="8.6" font-weight="bold" fill="#000">10</text>
<text transform="translate(992.50,261.00) scale(0.850,1)" text-anchor="start" font-size="10" font-weight="bold" fill="#000">pvalue</text>
<rect x="993.00" y="267.00" width="13.60" height="85.50" fill="url(#gpv)" stroke="none" stroke-width="1" />
<line x1="993.00" y1="277.00" x2="995.60" y2="277.00" stroke="#fff" stroke-width="0.8" />
<line x1="1004.00" y1="277.00" x2="1006.60" y2="277.00" stroke="#fff" stroke-width="0.8" />
<text transform="translate(1011.00,280.00) scale(0.840,1)" text-anchor="start" font-size="8.6" font-weight="bold" fill="#000">4e−04</text>
<line x1="993.00" y1="296.00" x2="995.60" y2="296.00" stroke="#fff" stroke-width="0.8" />
<line x1="1004.00" y1="296.00" x2="1006.60" y2="296.00" stroke="#fff" stroke-width="0.8" />
<text transform="translate(1011.00,299.00) scale(0.840,1)" text-anchor="start" font-size="8.6" font-weight="bold" fill="#000">3e−04</text>
<line x1="993.00" y1="315.00" x2="995.60" y2="315.00" stroke="#fff" stroke-width="0.8" />
<line x1="1004.00" y1="315.00" x2="1006.60" y2="315.00" stroke="#fff" stroke-width="0.8" />
<text transform="translate(1011.00,318.00) scale(0.840,1)" text-anchor="start" font-size="8.6" font-weight="bold" fill="#000">2e−04</text>
<line x1="993.00" y1="334.00" x2="995.60" y2="334.00" stroke="#fff" stroke-width="0.8" />
<line x1="1004.00" y1="334.00" x2="1006.60" y2="334.00" stroke="#fff" stroke-width="0.8" />
<text transform="translate(1011.00,337.00) scale(0.840,1)" text-anchor="start" font-size="8.6" font-weight="bold" fill="#000">1e−04</text>
<!-- p_c.py -->
<text transform="translate(18.00,479.00)" text-anchor="start" font-size="19.5" font-weight="bold" fill="#000">C</text>
<g transform="translate(43.06,509.00) scale(5.9100,7.1700)" shape-rendering="crispEdges" stroke-width="0.04"><path fill="#fefdc5" stroke="#fefdc5" d="M0 0h1v1h-1zM7 0h2v1h-2zM10 0h4v1h-4zM19 0h1v1h-1zM21 0h1v1h-1zM23 0h1v1h-1zM26 0h1v1h-1zM31 0h3v1h-3zM39 0h1v1h-1zM46 0h1v1h-1zM48 0h2v1h-2zM4 1h1v1h-1zM11 1h3v1h-3zM15 1h1v1h-1zM20 1h1v1h-1zM23 1h1v1h-1zM25 1h1v1h-1zM27 1h1v1h-1zM32 1h1v1h-1zM41 1h3v1h-3zM0 2h1v1h-1zM7 2h1v1h-1zM10 2h1v1h-1zM12 2h1v1h-1zM19 2h1v1h-1zM23 2h3v1h-3zM27 2h1v1h-1zM32 2h1v1h-1zM39 2h1v1h-1zM43 2h1v1h-1zM45 2h2v1h-2zM2 3h1v1h-1zM5 3h1v1h-1zM11 3h1v1h-1zM18 3h1v1h-1zM25 3h1v1h-1zM30 3h1v1h-1zM32 3h1v1h-1zM39 3h2v1h-2zM45 3h1v1h-1zM49 3h1v1h-1zM1 4h1v1h-1zM4 4h2v1h-2zM11 4h3v1h-3zM25 4h1v1h-1zM28 4h1v1h-1zM30 4h2v1h-2zM33 4h1v1h-1zM43 4h1v1h-1zM45 4h1v1h-1zM49 4h1v1h-1zM1 5h1v1h-1zM5 5h1v1h-1zM11 5h1v1h-1zM18 5h1v1h-1zM22 5h2v1h-2zM27 5h1v1h-1zM29 5h1v1h-1zM32 5h1v1h-1zM38 5h1v1h-1zM41 5h1v1h-1zM43 5h1v1h-1zM46 5h3v1h-3zM2 6h1v1h-1zM6 6h4v1h-4zM18 6h1v1h-1zM22 6h1v1h-1zM24 6h2v1h-2zM29 6h1v1h-1zM35 6h1v1h-1zM42 6h1v1h-1zM2 7h1v1h-1zM6 7h1v1h-1zM14 7h2v1h-2zM18 7h1v1h-1zM25 7h1v1h-1zM28 7h2v1h-2zM33 7h1v1h-1zM35 7h1v1h-1zM39 7h1v1h-1zM41 7h1v1h-1zM47 7h1v1h-1zM49 7h1v1h-1zM1 8h1v1h-1zM4 8h2v1h-2zM13 8h2v1h-2zM17 8h3v1h-3zM27 8h2v1h-2zM32 8h1v1h-1zM34 8h1v1h-1zM36 8h1v1h-1zM43 8h1v1h-1zM48 8h1v1h-1zM8 9h1v1h-1zM12 9h3v1h-3zM21 9h2v1h-2zM25 9h1v1h-1zM38 9h1v1h-1zM47 9h1v1h-1zM1 10h2v1h-2zM4 10h2v1h-2zM14 10h1v1h-1zM18 10h1v1h-1zM22 10h1v1h-1zM24 10h2v1h-2zM28 10h1v1h-1zM37 10h1v1h-1zM42 10h1v1h-1zM44 10h1v1h-1zM0 11h1v1h-1zM4 11h3v1h-3zM15 11h1v1h-1zM26 11h1v1h-1zM29 11h3v1h-3zM33 11h1v1h-1zM35 11h2v1h-2zM46 11h1v1h-1zM49 11h1v1h-1zM6 12h1v1h-1zM24 12h1v1h-1zM29 12h1v1h-1zM35 12h1v1h-1zM2 13h1v1h-1zM5 13h1v1h-1zM8 13h4v1h-4zM18 13h1v1h-1zM26 13h1v1h-1zM28 13h1v1h-1zM30 13h1v1h-1zM32 13h1v1h-1zM37 13h2v1h-2zM42 13h1v1h-1zM46 13h1v1h-1zM4 14h2v1h-2zM7 14h2v1h-2zM12 14h1v1h-1zM19 14h1v1h-1zM24 14h1v1h-1zM28 14h1v1h-1zM31 14h2v1h-2zM38 14h2v1h-2zM43 14h2v1h-2zM48 14h2v1h-2zM7 15h1v1h-1zM11 15h1v1h-1zM20 15h1v1h-1zM31 15h2v1h-2zM34 15h1v1h-1zM38 15h3v1h-3zM44 15h1v1h-1zM48 15h2v1h-2zM11 16h1v1h-1zM23 16h2v1h-2zM30 16h2v1h-2zM39 16h2v1h-2zM42 16h2v1h-2zM48 16h2v1h-2zM11 17h1v1h-1zM18 17h2v1h-2zM23 17h1v1h-1zM26 17h1v1h-1zM28 17h1v1h-1zM32 17h1v1h-1zM35 17h1v1h-1zM38 17h2v1h-2zM42 17h2v1h-2zM49 17h1v1h-1zM15 18h1v1h-1zM18 18h2v1h-2zM23 18h2v1h-2zM26 18h1v1h-1zM32 18h1v1h-1zM38 18h1v1h-1zM40 18h1v1h-1zM43 18h1v1h-1zM1 19h1v1h-1zM10 19h2v1h-2zM13 19h1v1h-1zM18 19h1v1h-1zM20 19h2v1h-2zM23 19h1v1h-1zM27 19h4v1h-4zM32 19h1v1h-1zM38 19h2v1h-2zM42 19h1v1h-1zM47 19h3v1h-3zM8 20h1v1h-1zM10 20h1v1h-1zM19 20h4v1h-4zM24 20h3v1h-3zM28 20h1v1h-1zM30 20h1v1h-1zM32 20h1v1h-1zM38 20h1v1h-1zM42 20h2v1h-2zM2 21h1v1h-1zM7 21h2v1h-2zM11 21h1v1h-1zM18 21h1v1h-1zM21 21h1v1h-1zM25 21h1v1h-1zM28 21h1v1h-1zM30 21h1v1h-1zM33 21h1v1h-1zM35 21h1v1h-1zM41 21h1v1h-1zM44 21h1v1h-1zM48 21h1v1h-1zM0 22h1v1h-1zM2 22h1v1h-1zM4 22h1v1h-1zM10 22h2v1h-2zM18 22h1v1h-1zM20 22h1v1h-1zM28 22h1v1h-1zM38 22h2v1h-2zM41 22h1v1h-1zM45 22h1v1h-1zM47 22h1v1h-1zM5 23h3v1h-3zM15 23h2v1h-2zM18 23h1v1h-1zM22 23h3v1h-3zM30 23h1v1h-1zM38 23h1v1h-1zM41 23h1v1h-1zM45 23h4v1h-4zM0 24h2v1h-2zM7 24h1v1h-1zM11 24h1v1h-1zM14 24h1v1h-1zM17 24h2v1h-2zM28 24h1v1h-1zM33 24h2v1h-2zM36 24h1v1h-1zM38 24h1v1h-1zM41 24h1v1h-1zM46 24h2v1h-2zM8 25h2v1h-2zM11 25h2v1h-2zM15 25h2v1h-2zM21 25h1v1h-1zM28 25h1v1h-1zM33 25h1v1h-1zM37 25h2v1h-2zM41 25h2v1h-2zM46 25h1v1h-1zM1 26h1v1h-1zM4 26h1v1h-1zM6 26h1v1h-1zM9 26h1v1h-1zM12 26h3v1h-3zM16 26h1v1h-1zM18 26h3v1h-3zM23 26h1v1h-1zM25 26h1v1h-1zM28 26h2v1h-2zM31 26h1v1h-1zM34 26h1v1h-1zM36 26h1v1h-1zM38 26h1v1h-1zM45 26h1v1h-1zM48 26h2v1h-2zM0 27h4v1h-4zM5 27h1v1h-1zM10 27h2v1h-2zM13 27h2v1h-2zM16 27h1v1h-1zM19 27h1v1h-1zM23 27h1v1h-1zM29 27h3v1h-3zM33 27h2v1h-2zM36 27h3v1h-3zM42 27h1v1h-1zM49 27h1v1h-1zM0 28h3v1h-3zM7 28h1v1h-1zM13 28h1v1h-1zM19 28h1v1h-1zM22 28h2v1h-2zM25 28h1v1h-1zM29 28h1v1h-1zM32 28h2v1h-2zM41 28h1v1h-1zM49 28h1v1h-1zM0 29h1v1h-1zM9 29h1v1h-1zM18 29h2v1h-2zM22 29h1v1h-1zM24 29h1v1h-1zM28 29h1v1h-1zM31 29h2v1h-2zM42 29h1v1h-1zM44 29h1v1h-1zM48 29h1v1h-1zM9 30h1v1h-1zM19 30h1v1h-1zM24 30h1v1h-1zM28 30h1v1h-1zM32 30h1v1h-1zM39 30h1v1h-1zM43 30h1v1h-1zM47 30h2v1h-2zM5 31h1v1h-1zM14 31h1v1h-1zM19 31h1v1h-1zM23 31h2v1h-2zM32 31h1v1h-1zM39 31h1v1h-1zM47 31h1v1h-1zM5 32h2v1h-2zM14 32h1v1h-1zM19 32h1v1h-1zM23 32h1v1h-1zM32 32h1v1h-1zM36 32h1v1h-1zM43 32h1v1h-1zM0 33h4v1h-4zM5 33h2v1h-2zM9 33h1v1h-1zM11 33h1v1h-1zM14 33h1v1h-1zM16 33h1v1h-1zM24 33h2v1h-2zM28 33h1v1h-1zM34 33h1v1h-1zM36 33h1v1h-1zM38 33h2v1h-2zM47 33h2v1h-2zM1 34h1v1h-1zM3 34h1v1h-1zM6 34h1v1h-1zM11 34h3v1h-3zM19 34h1v1h-1zM22 34h3v1h-3zM31 34h3v1h-3zM39 34h1v1h-1zM43 34h1v1h-1zM45 34h1v1h-1zM1 35h1v1h-1zM5 35h2v1h-2zM11 35h1v1h-1zM22 35h2v1h-2zM25 35h1v1h-1zM29 35h1v1h-1zM38 35h2v1h-2zM45 35h1v1h-1zM48 35h2v1h-2zM6 36h1v1h-1zM8 36h1v1h-1zM16 36h4v1h-4zM22 36h2v1h-2zM31 36h1v1h-1zM37 36h2v1h-2zM45 36h1v1h-1zM47 36h1v1h-1zM1 37h1v1h-1zM9 37h1v1h-1zM18 37h1v1h-1zM21 37h1v1h-1zM23 37h3v1h-3zM31 37h2v1h-2zM42 37h1v1h-1zM44 37h1v1h-1zM47 37h1v1h-1zM5 38h1v1h-1zM7 38h2v1h-2zM22 38h2v1h-2zM27 38h1v1h-1zM31 38h2v1h-2zM39 38h1v1h-1zM43 38h2v1h-2zM46 38h3v1h-3zM0 39h1v1h-1zM7 39h2v1h-2zM15 39h1v1h-1zM28 39h1v1h-1zM31 39h1v1h-1zM35 39h2v1h-2zM38 39h2v1h-2zM41 39h1v1h-1zM48 39h1v1h-1zM0 40h2v1h-2zM6 40h2v1h-2zM9 40h2v1h-2zM16 40h1v1h-1zM19 40h1v1h-1zM24 40h2v1h-2zM32 40h1v1h-1zM36 40h1v1h-1zM38 40h1v1h-1zM42 40h1v1h-1zM44 40h1v1h-1zM48 40h1v1h-1zM2 41h1v1h-1zM6 41h1v1h-1zM8 41h3v1h-3zM12 41h1v1h-1zM14 41h1v1h-1zM16 41h5v1h-5zM23 41h3v1h-3zM27 41h1v1h-1zM32 41h2v1h-2zM36 41h1v1h-1zM43 41h1v1h-1zM45 41h1v1h-1zM48 41h1v1h-1zM1 42h1v1h-1zM3 42h1v1h-1zM5 42h2v1h-2zM8 42h1v1h-1zM18 42h1v1h-1zM20 42h1v1h-1zM25 42h4v1h-4zM31 42h3v1h-3zM39 42h2v1h-2zM45 42h2v1h-2zM48 42h1v1h-1zM1 43h1v1h-1zM3 43h3v1h-3zM7 43h1v1h-1zM9 43h1v1h-1zM11 43h1v1h-1zM13 43h1v1h-1zM18 43h1v1h-1zM24 43h2v1h-2zM31 43h2v1h-2zM35 43h1v1h-1zM38 43h2v1h-2zM41 43h1v1h-1zM1 44h1v1h-1zM6 44h2v1h-2zM19 44h1v1h-1zM24 44h2v1h-2zM31 44h1v1h-1zM33 44h1v1h-1zM39 44h1v1h-1zM41 44h1v1h-1zM44 44h1v1h-1zM48 44h1v1h-1zM1 45h1v1h-1zM4 45h6v1h-6zM18 45h3v1h-3zM24 45h1v1h-1zM31 45h1v1h-1zM39 45h1v1h-1zM41 45h1v1h-1zM43 45h1v1h-1zM48 45h1v1h-1zM0 46h1v1h-1zM8 46h2v1h-2zM12 46h1v1h-1zM14 46h1v1h-1zM16 46h1v1h-1zM21 46h1v1h-1zM29 46h1v1h-1zM34 46h3v1h-3zM40 46h1v1h-1zM45 46h1v1h-1zM48 46h2v1h-2zM5 47h1v1h-1zM8 47h1v1h-1zM11 47h3v1h-3zM28 47h1v1h-1zM31 47h2v1h-2zM38 47h1v1h-1zM44 47h3v1h-3zM48 47h1v1h-1zM5 48h2v1h-2zM14 48h1v1h-1zM18 48h4v1h-4zM28 48h1v1h-1zM35 48h1v1h-1zM37 48h2v1h-2zM41 48h1v1h-1zM48 48h1v1h-1zM4 49h1v1h-1zM7 49h3v1h-3zM16 49h1v1h-1zM18 49h4v1h-4zM29 49h1v1h-1zM32 49h1v1h-1zM39 49h2v1h-2zM4 50h1v1h-1zM7 50h3v1h-3zM16 50h1v1h-1zM18 50h2v1h-2zM23 50h1v1h-1zM30 50h2v1h-2zM38 50h2v1h-2zM43 50h1v1h-1zM1 51h1v1h-1zM4 51h2v1h-2zM9 51h1v1h-1zM14 51h1v1h-1zM19 51h2v1h-2zM25 51h1v1h-1zM32 51h1v1h-1zM39 51h1v1h-1zM45 51h1v1h-1zM1 52h1v1h-1zM5 52h2v1h-2zM14 52h1v1h-1zM19 52h1v1h-1zM23 52h1v1h-1zM32 52h1v1h-1zM39 52h1v1h-1zM1 53h1v1h-1zM4 53h3v1h-3zM8 53h4v1h-4zM20 53h1v1h-1zM24 53h2v1h-2zM28 53h3v1h-3zM32 53h1v1h-1zM36 53h1v1h-1zM42 53h1v1h-1zM44 53h2v1h-2zM48 53h1v1h-1zM3 54h1v1h-1zM5 54h1v1h-1zM8 54h2v1h-2zM14 54h1v1h-1zM18 54h1v1h-1zM23 54h1v1h-1zM25 54h1v1h-1zM31 54h2v1h-2zM34 54h1v1h-1zM36 54h1v1h-1zM38 54h2v1h-2z"/><path fill="#fdb76b" stroke="#fdb76b" d="M1 0h1v1h-1zM5 0h1v1h-1zM22 0h1v1h-1zM36 0h2v1h-2zM40 0h1v1h-1zM5 1h1v1h-1zM28 1h3v1h-3zM35 1h1v1h-1zM47 1h3v1h-3zM5 2h1v1h-1zM20 2h1v1h-1zM26 2h1v1h-1zM30 2h1v1h-1zM3 3h1v1h-1zM8 3h2v1h-2zM21 3h2v1h-2zM41 3h1v1h-1zM3 4h1v1h-1zM6 4h2v1h-2zM40 4h1v1h-1zM42 4h1v1h-1zM2 5h2v1h-2zM0 6h2v1h-2zM3 6h1v1h-1zM5 6h1v1h-1zM30 6h2v1h-2zM40 6h1v1h-1zM43 6h1v1h-1zM8 7h1v1h-1zM10 7h2v1h-2zM23 7h1v1h-1zM31 7h1v1h-1zM43 7h1v1h-1zM2 8h1v1h-1zM20 8h3v1h-3zM26 8h1v1h-1zM9 9h1v1h-1zM17 9h2v1h-2zM20 9h1v1h-1zM27 9h1v1h-1zM37 9h1v1h-1zM40 9h1v1h-1zM43 9h1v1h-1zM10 10h1v1h-1zM13 10h1v1h-1zM30 10h1v1h-1zM40 10h1v1h-1zM43 10h1v1h-1zM3 11h1v1h-1zM11 11h1v1h-1zM18 11h1v1h-1zM25 11h1v1h-1zM48 11h1v1h-1zM25 12h2v1h-2zM41 12h1v1h-1zM44 12h1v1h-1zM3 13h2v1h-2zM6 13h1v1h-1zM24 13h1v1h-1zM43 13h2v1h-2zM1 14h2v1h-2zM10 14h1v1h-1zM29 14h2v1h-2zM40 14h1v1h-1zM0 15h1v1h-1zM8 15h3v1h-3zM41 15h1v1h-1zM45 15h1v1h-1zM1 16h2v1h-2zM5 16h1v1h-1zM9 16h1v1h-1zM29 16h1v1h-1zM35 16h1v1h-1zM45 16h1v1h-1zM4 17h1v1h-1zM6 17h1v1h-1zM20 17h1v1h-1zM24 17h2v1h-2zM30 17h1v1h-1zM1 18h2v1h-2zM4 18h2v1h-2zM9 18h1v1h-1zM20 18h1v1h-1zM25 18h1v1h-1zM30 18h1v1h-1zM45 18h1v1h-1zM48 18h1v1h-1zM2 19h2v1h-2zM6 19h1v1h-1zM8 19h1v1h-1zM24 19h1v1h-1zM26 19h1v1h-1zM45 19h1v1h-1zM2 20h1v1h-1zM15 20h1v1h-1zM29 20h1v1h-1zM35 20h1v1h-1zM39 20h1v1h-1zM49 20h1v1h-1zM14 21h1v1h-1zM23 21h1v1h-1zM26 21h1v1h-1zM29 21h1v1h-1zM46 21h2v1h-2zM49 21h1v1h-1zM25 22h1v1h-1zM35 22h1v1h-1zM46 22h1v1h-1zM10 23h1v1h-1zM14 23h1v1h-1zM2 24h1v1h-1zM5 24h1v1h-1zM10 24h1v1h-1zM37 24h1v1h-1zM0 25h1v1h-1zM17 25h1v1h-1zM26 25h2v1h-2zM32 25h1v1h-1zM40 25h1v1h-1zM10 26h1v1h-1zM15 26h1v1h-1zM27 26h1v1h-1zM35 26h1v1h-1zM47 26h1v1h-1zM20 27h1v1h-1zM15 28h1v1h-1zM3 29h1v1h-1zM15 29h1v1h-1zM27 29h1v1h-1zM30 29h1v1h-1zM33 29h1v1h-1zM35 29h1v1h-1zM47 29h1v1h-1zM4 30h1v1h-1zM11 30h1v1h-1zM15 30h1v1h-1zM20 30h1v1h-1zM26 30h1v1h-1zM30 30h1v1h-1zM35 30h1v1h-1zM37 30h1v1h-1zM46 30h1v1h-1zM10 31h2v1h-2zM15 31h1v1h-1zM18 31h1v1h-1zM30 31h1v1h-1zM35 31h1v1h-1zM38 31h1v1h-1zM10 32h1v1h-1zM17 32h1v1h-1zM20 32h1v1h-1zM30 32h2v1h-2zM37 32h1v1h-1zM46 32h1v1h-1zM10 33h1v1h-1zM15 33h1v1h-1zM30 33h1v1h-1zM35 33h1v1h-1zM37 33h1v1h-1zM4 34h1v1h-1zM10 34h1v1h-1zM30 34h1v1h-1zM46 35h1v1h-1zM9 36h1v1h-1zM11 36h2v1h-2zM15 36h1v1h-1zM20 36h1v1h-1zM44 36h1v1h-1zM46 36h1v1h-1zM10 37h1v1h-1zM30 37h1v1h-1zM24 38h1v1h-1zM30 38h1v1h-1zM36 38h2v1h-2zM3 39h1v1h-1zM18 39h1v1h-1zM21 39h1v1h-1zM43 39h1v1h-1zM3 40h1v1h-1zM21 40h1v1h-1zM27 40h1v1h-1zM45 40h1v1h-1zM3 41h3v1h-3zM42 41h1v1h-1zM4 42h1v1h-1zM9 42h1v1h-1zM17 42h1v1h-1zM24 42h1v1h-1zM35 42h1v1h-1zM37 42h2v1h-2zM41 42h1v1h-1zM43 42h1v1h-1zM20 43h2v1h-2zM30 43h1v1h-1zM33 43h1v1h-1zM15 44h1v1h-1zM26 44h1v1h-1zM35 44h1v1h-1zM46 44h1v1h-1zM15 45h1v1h-1zM23 45h1v1h-1zM33 45h1v1h-1zM1 46h2v1h-2zM46 46h1v1h-1zM6 47h1v1h-1zM14 47h1v1h-1zM17 47h1v1h-1zM24 47h1v1h-1zM27 47h1v1h-1zM33 47h1v1h-1zM39 47h1v1h-1zM49 47h1v1h-1zM16 48h1v1h-1zM26 48h1v1h-1zM29 48h1v1h-1zM31 48h1v1h-1zM49 48h1v1h-1zM11 49h1v1h-1zM13 49h1v1h-1zM23 49h1v1h-1zM30 49h2v1h-2zM41 49h1v1h-1zM5 50h1v1h-1zM20 50h1v1h-1zM26 50h1v1h-1zM46 50h1v1h-1zM11 51h1v1h-1zM15 51h1v1h-1zM23 51h1v1h-1zM27 51h1v1h-1zM35 51h1v1h-1zM40 51h1v1h-1zM43 51h1v1h-1zM20 52h1v1h-1zM35 52h1v1h-1zM26 53h1v1h-1zM33 53h1v1h-1zM1 54h1v1h-1zM7 54h1v1h-1zM17 54h1v1h-1zM24 54h1v1h-1zM29 54h1v1h-1zM33 54h1v1h-1zM40 54h1v1h-1z"/><path fill="#4575b4" stroke="#4575b4" d="M2 0h1v1h-1zM16 0h1v1h-1zM14 1h1v1h-1zM17 1h1v1h-1zM22 1h1v1h-1zM34 1h1v1h-1zM46 1h1v1h-1zM17 2h1v1h-1zM17 3h1v1h-1zM35 3h2v1h-2zM14 4h1v1h-1zM16 4h2v1h-2zM17 5h1v1h-1zM17 6h1v1h-1zM27 6h1v1h-1zM33 6h1v1h-1zM37 6h1v1h-1zM17 7h1v1h-1zM37 7h1v1h-1zM16 8h1v1h-1zM25 8h1v1h-1zM45 8h1v1h-1zM49 8h1v1h-1zM16 9h1v1h-1zM45 9h1v1h-1zM16 10h1v1h-1zM36 10h1v1h-1zM45 10h1v1h-1zM24 11h1v1h-1zM47 11h1v1h-1zM17 12h1v1h-1zM19 13h1v1h-1zM27 13h1v1h-1zM17 14h1v1h-1zM27 14h1v1h-1zM36 14h2v1h-2zM17 15h1v1h-1zM37 15h1v1h-1zM14 16h1v1h-1zM17 16h1v1h-1zM27 16h1v1h-1zM36 16h1v1h-1zM17 17h1v1h-1zM27 17h1v1h-1zM37 17h1v1h-1zM17 18h1v1h-1zM27 18h1v1h-1zM37 18h1v1h-1zM14 19h1v1h-1zM17 19h1v1h-1zM37 19h1v1h-1zM16 20h1v1h-1zM37 20h1v1h-1zM12 21h2v1h-2zM32 21h1v1h-1zM8 22h1v1h-1zM44 22h1v1h-1zM0 23h1v1h-1zM13 24h1v1h-1zM1 25h1v1h-1zM6 25h1v1h-1zM34 25h1v1h-1zM7 26h1v1h-1zM44 26h1v1h-1zM44 28h1v1h-1zM8 29h1v1h-1zM34 30h1v1h-1zM21 32h1v1h-1zM21 33h1v1h-1zM36 34h1v1h-1zM2 35h1v1h-1zM0 36h1v1h-1zM7 36h1v1h-1zM0 38h1v1h-1zM21 38h1v1h-1zM45 38h1v1h-1zM11 39h1v1h-1zM11 40h1v1h-1zM14 40h1v1h-1zM34 40h1v1h-1zM40 40h1v1h-1zM1 41h1v1h-1zM22 41h1v1h-1zM22 42h1v1h-1zM42 42h1v1h-1zM16 43h1v1h-1zM34 43h1v1h-1zM36 43h1v1h-1zM34 44h1v1h-1zM36 44h1v1h-1zM5 46h1v1h-1zM7 46h1v1h-1zM15 46h1v1h-1zM18 46h1v1h-1zM28 46h1v1h-1zM0 47h1v1h-1zM41 47h2v1h-2zM0 48h2v1h-2zM25 48h1v1h-1zM45 48h1v1h-1zM0 49h1v1h-1zM2 49h1v1h-1zM0 50h1v1h-1zM21 50h1v1h-1zM28 51h2v1h-2zM44 51h1v1h-1zM45 52h1v1h-1zM21 53h1v1h-1zM23 53h1v1h-1zM41 53h1v1h-1zM0 54h1v1h-1zM11 54h1v1h-1zM19 54h1v1h-1z"/><path fill="#fee6a0" stroke="#fee6a0" d="M3 0h1v1h-1zM20 0h1v1h-1zM28 0h3v1h-3zM42 0h2v1h-2zM1 1h3v1h-3zM7 1h2v1h-2zM18 1h2v1h-2zM21 1h1v1h-1zM31 1h1v1h-1zM36 1h1v1h-1zM38 1h2v1h-2zM45 1h1v1h-1zM3 2h2v1h-2zM8 2h2v1h-2zM15 2h1v1h-1zM18 2h1v1h-1zM29 2h1v1h-1zM35 2h1v1h-1zM38 2h1v1h-1zM47 2h1v1h-1zM49 2h1v1h-1zM1 3h1v1h-1zM7 3h1v1h-1zM10 3h1v1h-1zM12 3h2v1h-2zM28 3h2v1h-2zM31 3h1v1h-1zM33 3h1v1h-1zM42 3h1v1h-1zM47 3h1v1h-1zM2 4h1v1h-1zM10 4h1v1h-1zM20 4h1v1h-1zM22 4h3v1h-3zM29 4h1v1h-1zM32 4h1v1h-1zM0 5h1v1h-1zM6 5h3v1h-3zM14 5h1v1h-1zM21 5h1v1h-1zM24 5h1v1h-1zM30 5h2v1h-2zM4 6h1v1h-1zM28 6h1v1h-1zM36 6h1v1h-1zM41 6h1v1h-1zM0 7h1v1h-1zM3 7h2v1h-2zM9 7h1v1h-1zM12 7h1v1h-1zM22 7h1v1h-1zM3 8h1v1h-1zM6 8h1v1h-1zM8 8h2v1h-2zM12 8h1v1h-1zM23 8h2v1h-2zM33 8h1v1h-1zM35 8h1v1h-1zM37 8h1v1h-1zM39 8h4v1h-4zM46 8h1v1h-1zM0 9h1v1h-1zM4 9h1v1h-1zM6 9h1v1h-1zM30 9h3v1h-3zM0 10h1v1h-1zM7 10h2v1h-2zM11 10h2v1h-2zM17 10h1v1h-1zM20 10h1v1h-1zM31 10h2v1h-2zM41 10h1v1h-1zM2 11h1v1h-1zM8 11h3v1h-3zM28 11h1v1h-1zM38 11h1v1h-1zM40 11h1v1h-1zM42 11h2v1h-2zM45 11h1v1h-1zM3 12h1v1h-1zM11 12h1v1h-1zM18 12h1v1h-1zM20 12h1v1h-1zM31 12h1v1h-1zM38 12h1v1h-1zM40 12h1v1h-1zM46 12h1v1h-1zM0 13h1v1h-1zM22 13h2v1h-2zM25 13h1v1h-1zM29 13h1v1h-1zM35 13h1v1h-1zM49 13h1v1h-1zM0 14h1v1h-1zM6 14h1v1h-1zM15 14h1v1h-1zM18 14h1v1h-1zM20 14h2v1h-2zM25 14h1v1h-1zM35 14h1v1h-1zM41 14h1v1h-1zM45 14h1v1h-1zM1 15h2v1h-2zM6 15h1v1h-1zM18 15h2v1h-2zM21 15h1v1h-1zM24 15h2v1h-2zM28 15h1v1h-1zM4 16h1v1h-1zM6 16h3v1h-3zM10 16h1v1h-1zM15 16h1v1h-1zM18 16h2v1h-2zM21 16h1v1h-1zM25 16h1v1h-1zM28 16h1v1h-1zM32 16h1v1h-1zM41 16h1v1h-1zM44 16h1v1h-1zM5 17h1v1h-1zM7 17h4v1h-4zM15 17h1v1h-1zM21 17h1v1h-1zM29 17h1v1h-1zM40 17h2v1h-2zM44 17h2v1h-2zM48 17h1v1h-1zM6 18h3v1h-3zM10 18h1v1h-1zM28 18h2v1h-2zM35 18h1v1h-1zM41 18h1v1h-1zM44 18h1v1h-1zM49 18h1v1h-1zM4 19h2v1h-2zM19 19h1v1h-1zM25 19h1v1h-1zM40 19h1v1h-1zM44 19h1v1h-1zM46 19h1v1h-1zM0 20h2v1h-2zM4 20h2v1h-2zM9 20h1v1h-1zM14 20h1v1h-1zM41 20h1v1h-1zM44 20h1v1h-1zM46 20h1v1h-1zM48 20h1v1h-1zM5 21h2v1h-2zM10 21h1v1h-1zM38 21h1v1h-1zM43 21h1v1h-1zM1 22h1v1h-1zM5 22h2v1h-2zM15 22h2v1h-2zM21 22h1v1h-1zM31 22h1v1h-1zM33 22h1v1h-1zM3 23h1v1h-1zM11 23h1v1h-1zM25 23h2v1h-2zM28 23h1v1h-1zM31 23h1v1h-1zM37 23h1v1h-1zM4 24h1v1h-1zM15 24h1v1h-1zM25 24h1v1h-1zM30 24h1v1h-1zM35 24h1v1h-1zM4 25h2v1h-2zM10 25h1v1h-1zM20 25h1v1h-1zM22 25h1v1h-1zM29 25h1v1h-1zM31 25h1v1h-1zM35 25h1v1h-1zM44 25h1v1h-1zM49 25h1v1h-1zM11 26h1v1h-1zM30 26h1v1h-1zM33 26h1v1h-1zM17 27h2v1h-2zM25 27h1v1h-1zM45 27h1v1h-1zM3 28h4v1h-4zM8 28h1v1h-1zM10 28h2v1h-2zM17 28h2v1h-2zM20 28h1v1h-1zM30 28h2v1h-2zM37 28h2v1h-2zM45 28h1v1h-1zM5 29h2v1h-2zM10 29h1v1h-1zM12 29h2v1h-2zM39 29h1v1h-1zM3 30h1v1h-1zM5 30h2v1h-2zM17 30h1v1h-1zM23 30h1v1h-1zM27 30h1v1h-1zM31 30h1v1h-1zM33 30h1v1h-1zM12 31h2v1h-2zM27 31h1v1h-1zM31 31h1v1h-1zM4 32h1v1h-1zM11 32h3v1h-3zM18 32h1v1h-1zM27 32h1v1h-1zM38 32h2v1h-2zM47 32h1v1h-1zM4 33h1v1h-1zM17 33h2v1h-2zM26 33h2v1h-2zM31 33h1v1h-1zM33 33h1v1h-1zM46 33h1v1h-1zM5 34h1v1h-1zM9 34h1v1h-1zM17 34h2v1h-2zM28 34h1v1h-1zM37 34h2v1h-2zM48 34h1v1h-1zM3 35h2v1h-2zM9 35h1v1h-1zM17 35h2v1h-2zM31 35h1v1h-1zM37 35h1v1h-1zM4 36h2v1h-2zM13 36h1v1h-1zM26 36h1v1h-1zM29 36h1v1h-1zM32 36h2v1h-2zM35 36h1v1h-1zM39 36h1v1h-1zM48 36h2v1h-2zM4 37h1v1h-1zM7 37h1v1h-1zM12 37h4v1h-4zM22 37h1v1h-1zM27 37h1v1h-1zM33 37h3v1h-3zM6 38h1v1h-1zM11 38h9v1h-9zM33 38h3v1h-3zM38 38h1v1h-1zM1 39h1v1h-1zM5 39h1v1h-1zM10 39h1v1h-1zM20 39h1v1h-1zM23 39h1v1h-1zM26 39h1v1h-1zM29 39h1v1h-1zM33 39h1v1h-1zM45 39h2v1h-2zM49 39h1v1h-1zM2 40h1v1h-1zM5 40h1v1h-1zM8 40h1v1h-1zM15 40h1v1h-1zM18 40h1v1h-1zM23 40h1v1h-1zM26 40h1v1h-1zM29 40h1v1h-1zM35 40h1v1h-1zM49 40h1v1h-1zM13 41h1v1h-1zM21 41h1v1h-1zM28 41h1v1h-1zM30 41h2v1h-2zM37 41h2v1h-2zM41 41h1v1h-1zM46 41h2v1h-2zM10 42h2v1h-2zM13 42h1v1h-1zM19 42h1v1h-1zM30 42h1v1h-1zM12 43h1v1h-1zM15 43h1v1h-1zM26 43h1v1h-1zM43 43h1v1h-1zM46 43h1v1h-1zM3 44h3v1h-3zM10 44h1v1h-1zM18 44h1v1h-1zM20 44h2v1h-2zM23 44h1v1h-1zM30 44h1v1h-1zM38 44h1v1h-1zM43 44h1v1h-1zM3 45h1v1h-1zM10 45h1v1h-1zM21 45h1v1h-1zM30 45h1v1h-1zM35 45h1v1h-1zM38 45h1v1h-1zM40 45h1v1h-1zM4 46h1v1h-1zM11 46h1v1h-1zM22 46h1v1h-1zM25 46h2v1h-2zM32 46h2v1h-2zM41 46h2v1h-2zM47 46h1v1h-1zM1 47h2v1h-2zM4 47h1v1h-1zM15 47h1v1h-1zM18 47h3v1h-3zM22 47h1v1h-1zM26 47h1v1h-1zM36 47h1v1h-1zM47 47h1v1h-1zM10 48h4v1h-4zM15 48h1v1h-1zM17 48h1v1h-1zM22 48h1v1h-1zM27 48h1v1h-1zM30 48h1v1h-1zM33 48h2v1h-2zM36 48h1v1h-1zM39 48h1v1h-1zM43 48h1v1h-1zM47 48h1v1h-1zM10 49h1v1h-1zM12 49h1v1h-1zM15 49h1v1h-1zM22 49h1v1h-1zM26 49h2v1h-2zM35 49h1v1h-1zM42 49h2v1h-2zM46 49h1v1h-1zM6 50h1v1h-1zM10 50h6v1h-6zM27 50h1v1h-1zM35 50h1v1h-1zM10 51h1v1h-1zM12 51h2v1h-2zM18 51h1v1h-1zM26 51h1v1h-1zM30 51h2v1h-2zM38 51h1v1h-1zM46 51h2v1h-2zM10 52h4v1h-4zM15 52h1v1h-1zM18 52h1v1h-1zM30 52h2v1h-2zM38 52h1v1h-1zM40 52h1v1h-1zM47 52h1v1h-1zM7 53h1v1h-1zM12 53h3v1h-3zM22 53h1v1h-1zM34 53h1v1h-1zM47 53h1v1h-1zM6 54h1v1h-1zM13 54h1v1h-1zM26 54h1v1h-1z"/><path fill="#e4f1ec" stroke="#e4f1ec" d="M4 0h1v1h-1zM14 0h1v1h-1zM18 0h1v1h-1zM24 0h2v1h-2zM41 0h1v1h-1zM44 0h1v1h-1zM0 1h1v1h-1zM9 1h2v1h-2zM40 1h1v1h-1zM44 1h1v1h-1zM2 2h1v1h-1zM31 2h1v1h-1zM36 2h1v1h-1zM44 2h1v1h-1zM4 3h1v1h-1zM6 3h1v1h-1zM19 3h1v1h-1zM38 3h1v1h-1zM44 3h1v1h-1zM46 3h1v1h-1zM18 4h2v1h-2zM26 4h1v1h-1zM35 4h1v1h-1zM39 4h1v1h-1zM44 4h1v1h-1zM48 4h1v1h-1zM9 5h1v1h-1zM19 5h1v1h-1zM26 5h1v1h-1zM28 5h1v1h-1zM33 5h1v1h-1zM42 5h1v1h-1zM44 5h2v1h-2zM12 6h2v1h-2zM15 6h2v1h-2zM19 6h1v1h-1zM26 6h1v1h-1zM32 6h1v1h-1zM34 6h1v1h-1zM39 6h1v1h-1zM44 6h3v1h-3zM48 6h1v1h-1zM1 7h1v1h-1zM5 7h1v1h-1zM13 7h1v1h-1zM19 7h1v1h-1zM21 7h1v1h-1zM32 7h1v1h-1zM44 7h2v1h-2zM0 8h1v1h-1zM10 8h2v1h-2zM29 8h1v1h-1zM38 8h1v1h-1zM47 8h1v1h-1zM5 9h1v1h-1zM15 9h1v1h-1zM19 9h1v1h-1zM24 9h1v1h-1zM28 9h2v1h-2zM34 9h1v1h-1zM39 9h1v1h-1zM41 9h2v1h-2zM44 9h1v1h-1zM46 9h1v1h-1zM6 10h1v1h-1zM27 10h1v1h-1zM39 10h1v1h-1zM47 10h1v1h-1zM1 11h1v1h-1zM16 11h1v1h-1zM19 11h1v1h-1zM23 11h1v1h-1zM32 11h1v1h-1zM39 11h1v1h-1zM4 12h2v1h-2zM9 12h2v1h-2zM22 12h2v1h-2zM30 12h1v1h-1zM32 12h1v1h-1zM37 12h1v1h-1zM39 12h1v1h-1zM42 12h2v1h-2zM47 12h1v1h-1zM49 12h1v1h-1zM7 13h1v1h-1zM15 13h3v1h-3zM31 13h1v1h-1zM33 13h2v1h-2zM39 13h1v1h-1zM9 14h1v1h-1zM11 14h1v1h-1zM22 14h2v1h-2zM34 14h1v1h-1zM42 14h1v1h-1zM4 15h1v1h-1zM12 15h3v1h-3zM26 15h1v1h-1zM29 15h1v1h-1zM36 15h1v1h-1zM42 15h1v1h-1zM12 16h2v1h-2zM20 16h1v1h-1zM22 16h1v1h-1zM34 16h1v1h-1zM38 16h1v1h-1zM31 17h1v1h-1zM46 17h1v1h-1zM12 18h1v1h-1zM31 18h1v1h-1zM39 18h1v1h-1zM12 19h1v1h-1zM15 19h1v1h-1zM22 19h1v1h-1zM31 19h1v1h-1zM33 19h1v1h-1zM35 19h1v1h-1zM43 19h1v1h-1zM11 20h3v1h-3zM17 20h1v1h-1zM23 20h1v1h-1zM31 20h1v1h-1zM34 20h1v1h-1zM36 20h1v1h-1zM40 20h1v1h-1zM47 20h1v1h-1zM0 21h1v1h-1zM3 21h2v1h-2zM15 21h1v1h-1zM17 21h1v1h-1zM19 21h1v1h-1zM24 21h1v1h-1zM27 21h1v1h-1zM31 21h1v1h-1zM34 21h1v1h-1zM37 21h1v1h-1zM42 21h1v1h-1zM3 22h1v1h-1zM9 22h1v1h-1zM19 22h1v1h-1zM24 22h1v1h-1zM27 22h1v1h-1zM30 22h1v1h-1zM36 22h1v1h-1zM42 22h1v1h-1zM48 22h1v1h-1zM1 23h1v1h-1zM8 23h2v1h-2zM19 23h1v1h-1zM21 23h1v1h-1zM27 23h1v1h-1zM32 23h4v1h-4zM42 23h3v1h-3zM49 23h1v1h-1zM8 24h2v1h-2zM19 24h1v1h-1zM21 24h1v1h-1zM24 24h1v1h-1zM26 24h2v1h-2zM31 24h1v1h-1zM39 24h1v1h-1zM42 24h4v1h-4zM48 24h1v1h-1zM2 25h1v1h-1zM7 25h1v1h-1zM13 25h2v1h-2zM19 25h1v1h-1zM23 25h3v1h-3zM30 25h1v1h-1zM39 25h1v1h-1zM45 25h1v1h-1zM5 26h1v1h-1zM21 26h1v1h-1zM24 26h1v1h-1zM37 26h1v1h-1zM39 26h1v1h-1zM41 26h3v1h-3zM4 27h1v1h-1zM7 27h1v1h-1zM12 27h1v1h-1zM22 27h1v1h-1zM24 27h1v1h-1zM27 27h2v1h-2zM32 27h1v1h-1zM39 27h1v1h-1zM43 27h1v1h-1zM47 27h2v1h-2zM9 28h1v1h-1zM12 28h1v1h-1zM16 28h1v1h-1zM21 28h1v1h-1zM27 28h1v1h-1zM34 28h1v1h-1zM39 28h1v1h-1zM42 28h2v1h-2zM47 28h2v1h-2zM2 29h1v1h-1zM11 29h1v1h-1zM14 29h1v1h-1zM16 29h1v1h-1zM21 29h1v1h-1zM25 29h1v1h-1zM34 29h1v1h-1zM36 29h1v1h-1zM38 29h1v1h-1zM45 29h1v1h-1zM0 30h1v1h-1zM2 30h1v1h-1zM12 30h2v1h-2zM21 30h1v1h-1zM29 30h1v1h-1zM49 30h1v1h-1zM3 31h2v1h-2zM6 31h1v1h-1zM9 31h1v1h-1zM16 31h1v1h-1zM22 31h1v1h-1zM28 31h2v1h-2zM34 31h1v1h-1zM36 31h1v1h-1zM41 31h3v1h-3zM49 31h1v1h-1zM3 32h1v1h-1zM7 32h1v1h-1zM16 32h1v1h-1zM22 32h1v1h-1zM25 32h1v1h-1zM28 32h2v1h-2zM42 32h1v1h-1zM48 32h2v1h-2zM8 33h1v1h-1zM12 33h2v1h-2zM19 33h1v1h-1zM23 33h1v1h-1zM32 33h1v1h-1zM41 33h5v1h-5zM49 33h1v1h-1zM7 34h1v1h-1zM27 34h1v1h-1zM29 34h1v1h-1zM41 34h2v1h-2zM47 34h1v1h-1zM49 34h1v1h-1zM0 35h1v1h-1zM7 35h1v1h-1zM12 35h3v1h-3zM19 35h1v1h-1zM27 35h2v1h-2zM32 35h1v1h-1zM41 35h3v1h-3zM47 35h1v1h-1zM1 36h2v1h-2zM14 36h1v1h-1zM24 36h1v1h-1zM27 36h2v1h-2zM34 36h1v1h-1zM41 36h1v1h-1zM43 36h1v1h-1zM0 37h1v1h-1zM2 37h1v1h-1zM11 37h1v1h-1zM16 37h1v1h-1zM28 37h1v1h-1zM39 37h1v1h-1zM41 37h1v1h-1zM43 37h1v1h-1zM2 38h1v1h-1zM4 38h1v1h-1zM26 38h1v1h-1zM28 38h1v1h-1zM41 38h1v1h-1zM6 39h1v1h-1zM13 39h1v1h-1zM16 39h1v1h-1zM19 39h1v1h-1zM22 39h1v1h-1zM25 39h1v1h-1zM40 39h1v1h-1zM44 39h1v1h-1zM47 39h1v1h-1zM20 40h1v1h-1zM28 40h1v1h-1zM39 40h1v1h-1zM43 40h1v1h-1zM46 40h2v1h-2zM0 41h1v1h-1zM15 41h1v1h-1zM34 41h1v1h-1zM49 41h1v1h-1zM0 42h1v1h-1zM2 42h1v1h-1zM12 42h1v1h-1zM14 42h1v1h-1zM21 42h1v1h-1zM29 42h1v1h-1zM44 42h1v1h-1zM49 42h1v1h-1zM0 43h1v1h-1zM2 43h1v1h-1zM6 43h1v1h-1zM8 43h1v1h-1zM14 43h1v1h-1zM19 43h1v1h-1zM22 43h1v1h-1zM27 43h2v1h-2zM42 43h1v1h-1zM44 43h2v1h-2zM48 43h1v1h-1zM0 44h1v1h-1zM2 44h1v1h-1zM9 44h1v1h-1zM11 44h2v1h-2zM14 44h1v1h-1zM27 44h3v1h-3zM45 44h1v1h-1zM49 44h1v1h-1zM0 45h1v1h-1zM11 45h3v1h-3zM25 45h1v1h-1zM28 45h2v1h-2zM32 45h1v1h-1zM36 45h1v1h-1zM45 45h1v1h-1zM47 45h1v1h-1zM3 46h1v1h-1zM10 46h1v1h-1zM13 46h1v1h-1zM19 46h2v1h-2zM27 46h1v1h-1zM30 46h2v1h-2zM39 46h1v1h-1zM44 46h1v1h-1zM3 47h1v1h-1zM7 47h1v1h-1zM9 47h2v1h-2zM16 47h1v1h-1zM23 47h1v1h-1zM25 47h1v1h-1zM3 48h2v1h-2zM7 48h1v1h-1zM9 48h1v1h-1zM23 48h1v1h-1zM32 48h1v1h-1zM40 48h1v1h-1zM44 48h1v1h-1zM3 49h1v1h-1zM5 49h1v1h-1zM14 49h1v1h-1zM24 49h1v1h-1zM38 49h1v1h-1zM44 49h1v1h-1zM49 49h1v1h-1zM1 50h1v1h-1zM22 50h1v1h-1zM24 50h1v1h-1zM32 50h1v1h-1zM34 50h1v1h-1zM36 50h1v1h-1zM44 50h2v1h-2zM47 50h1v1h-1zM49 50h1v1h-1zM2 51h2v1h-2zM6 51h2v1h-2zM16 51h1v1h-1zM24 51h1v1h-1zM34 51h1v1h-1zM36 51h1v1h-1zM41 51h1v1h-1zM4 52h1v1h-1zM9 52h1v1h-1zM16 52h1v1h-1zM21 52h2v1h-2zM28 52h2v1h-2zM34 52h1v1h-1zM36 52h1v1h-1zM41 52h1v1h-1zM43 52h1v1h-1zM48 52h2v1h-2zM15 53h2v1h-2zM18 53h2v1h-2zM31 53h1v1h-1zM35 53h1v1h-1zM38 53h2v1h-2zM49 53h1v1h-1zM2 54h1v1h-1zM15 54h2v1h-2zM21 54h2v1h-2zM30 54h1v1h-1zM41 54h4v1h-4zM47 54h1v1h-1zM49 54h1v1h-1z"/><path fill="#d93528" stroke="#d93528" d="M6 0h1v1h-1zM27 0h1v1h-1zM47 0h1v1h-1zM40 2h1v1h-1zM23 3h1v1h-1zM43 3h1v1h-1zM8 4h2v1h-2zM21 4h1v1h-1zM10 5h1v1h-1zM20 5h1v1h-1zM25 5h1v1h-1zM40 5h1v1h-1zM21 6h1v1h-1zM23 6h1v1h-1zM20 7h1v1h-1zM40 7h1v1h-1zM7 8h1v1h-1zM20 11h2v1h-2zM41 11h1v1h-1zM20 13h1v1h-1zM48 13h1v1h-1zM3 14h1v1h-1zM3 15h1v1h-1zM3 16h1v1h-1zM3 20h1v1h-1zM16 21h1v1h-1zM20 21h1v1h-1zM36 21h1v1h-1zM14 22h1v1h-1zM17 22h1v1h-1zM37 22h1v1h-1zM40 22h1v1h-1zM40 23h1v1h-1zM20 24h1v1h-1zM40 24h1v1h-1zM26 26h1v1h-1zM40 26h1v1h-1zM46 26h1v1h-1zM26 27h1v1h-1zM40 27h1v1h-1zM46 27h1v1h-1zM26 28h1v1h-1zM40 28h1v1h-1zM46 28h1v1h-1zM26 29h1v1h-1zM40 29h1v1h-1zM46 29h1v1h-1zM40 30h1v1h-1zM26 31h1v1h-1zM40 31h1v1h-1zM46 31h1v1h-1zM40 32h1v1h-1zM20 33h1v1h-1zM40 33h1v1h-1zM26 34h1v1h-1zM40 34h1v1h-1zM46 34h1v1h-1zM10 35h1v1h-1zM30 35h1v1h-1zM40 35h1v1h-1zM40 36h1v1h-1zM20 37h1v1h-1zM37 37h1v1h-1zM40 37h1v1h-1zM20 38h1v1h-1zM40 38h1v1h-1zM17 39h1v1h-1zM30 39h1v1h-1zM37 39h1v1h-1zM37 40h1v1h-1zM15 42h1v1h-1zM23 42h1v1h-1zM17 43h1v1h-1zM37 43h1v1h-1zM17 44h1v1h-1zM37 44h1v1h-1zM17 45h1v1h-1zM26 45h1v1h-1zM37 45h1v1h-1zM24 46h1v1h-1zM43 46h1v1h-1zM17 49h1v1h-1zM37 49h1v1h-1zM17 50h1v1h-1zM37 50h1v1h-1zM40 50h1v1h-1zM17 51h1v1h-1zM37 51h1v1h-1zM17 52h1v1h-1zM33 52h1v1h-1zM37 52h1v1h-1zM17 53h1v1h-1zM37 53h1v1h-1zM10 54h1v1h-1zM20 54h1v1h-1z"/><path fill="#7aaad2" stroke="#7aaad2" d="M9 0h1v1h-1zM38 0h1v1h-1zM37 1h1v1h-1zM14 2h1v1h-1zM16 2h1v1h-1zM22 2h1v1h-1zM33 2h2v1h-2zM14 3h2v1h-2zM20 3h1v1h-1zM27 3h1v1h-1zM34 3h1v1h-1zM37 3h1v1h-1zM27 4h1v1h-1zM37 4h1v1h-1zM46 4h2v1h-2zM13 5h1v1h-1zM16 5h1v1h-1zM34 5h1v1h-1zM39 5h1v1h-1zM11 6h1v1h-1zM26 7h1v1h-1zM38 7h1v1h-1zM46 7h1v1h-1zM30 8h2v1h-2zM3 9h1v1h-1zM49 9h1v1h-1zM26 10h1v1h-1zM38 10h1v1h-1zM48 10h2v1h-2zM7 11h1v1h-1zM14 11h1v1h-1zM17 11h1v1h-1zM27 11h1v1h-1zM34 11h1v1h-1zM13 12h2v1h-2zM27 12h1v1h-1zM13 13h2v1h-2zM36 13h1v1h-1zM40 13h1v1h-1zM14 14h1v1h-1zM16 14h1v1h-1zM22 15h1v1h-1zM27 15h1v1h-1zM43 15h1v1h-1zM16 16h1v1h-1zM37 16h1v1h-1zM47 16h1v1h-1zM13 17h2v1h-2zM16 17h1v1h-1zM22 17h1v1h-1zM34 17h1v1h-1zM36 17h1v1h-1zM47 17h1v1h-1zM14 18h1v1h-1zM33 18h1v1h-1zM36 18h1v1h-1zM47 18h1v1h-1zM36 19h1v1h-1zM27 20h1v1h-1zM33 20h1v1h-1zM1 21h1v1h-1zM13 22h1v1h-1zM22 22h1v1h-1zM34 22h1v1h-1zM36 23h1v1h-1zM16 24h1v1h-1zM49 24h1v1h-1zM8 26h1v1h-1zM22 26h1v1h-1zM8 27h2v1h-2zM21 27h1v1h-1zM24 28h1v1h-1zM36 28h1v1h-1zM7 29h1v1h-1zM23 29h1v1h-1zM43 29h1v1h-1zM49 29h1v1h-1zM22 30h1v1h-1zM41 30h1v1h-1zM1 31h2v1h-2zM44 31h2v1h-2zM1 32h1v1h-1zM2 34h1v1h-1zM16 34h1v1h-1zM21 34h1v1h-1zM34 34h1v1h-1zM16 35h1v1h-1zM36 35h1v1h-1zM3 36h1v1h-1zM25 36h1v1h-1zM5 37h2v1h-2zM29 37h1v1h-1zM45 37h1v1h-1zM49 37h1v1h-1zM1 38h1v1h-1zM25 38h1v1h-1zM29 38h1v1h-1zM4 39h1v1h-1zM14 39h1v1h-1zM34 39h1v1h-1zM4 40h1v1h-1zM13 40h1v1h-1zM11 41h1v1h-1zM26 41h1v1h-1zM35 41h1v1h-1zM39 41h1v1h-1zM16 42h1v1h-1zM47 42h1v1h-1zM49 43h1v1h-1zM22 44h1v1h-1zM42 44h1v1h-1zM14 45h1v1h-1zM16 45h1v1h-1zM22 45h1v1h-1zM34 45h1v1h-1zM42 45h1v1h-1zM6 46h1v1h-1zM21 47h1v1h-1zM29 47h2v1h-2zM35 47h1v1h-1zM40 47h1v1h-1zM2 48h1v1h-1zM6 49h1v1h-1zM28 49h1v1h-1zM2 50h1v1h-1zM25 50h1v1h-1zM0 51h1v1h-1zM21 51h1v1h-1zM48 51h1v1h-1zM0 52h1v1h-1zM2 52h1v1h-1zM44 52h1v1h-1zM0 53h1v1h-1zM43 53h1v1h-1zM12 54h1v1h-1zM45 54h1v1h-1z"/><path fill="#b2d5e6" stroke="#b2d5e6" d="M15 0h1v1h-1zM17 0h1v1h-1zM34 0h2v1h-2zM45 0h1v1h-1zM16 1h1v1h-1zM24 1h1v1h-1zM26 1h1v1h-1zM33 1h1v1h-1zM1 2h1v1h-1zM11 2h1v1h-1zM13 2h1v1h-1zM21 2h1v1h-1zM37 2h1v1h-1zM41 2h2v1h-2zM16 3h1v1h-1zM26 3h1v1h-1zM48 3h1v1h-1zM15 4h1v1h-1zM34 4h1v1h-1zM36 4h1v1h-1zM38 4h1v1h-1zM12 5h1v1h-1zM15 5h1v1h-1zM35 5h3v1h-3zM49 5h1v1h-1zM14 6h1v1h-1zM38 6h1v1h-1zM47 6h1v1h-1zM49 6h1v1h-1zM16 7h1v1h-1zM24 7h1v1h-1zM27 7h1v1h-1zM34 7h1v1h-1zM36 7h1v1h-1zM48 7h1v1h-1zM15 8h1v1h-1zM44 8h1v1h-1zM1 9h2v1h-2zM26 9h1v1h-1zM35 9h2v1h-2zM48 9h1v1h-1zM3 10h1v1h-1zM15 10h1v1h-1zM19 10h1v1h-1zM29 10h1v1h-1zM34 10h2v1h-2zM46 10h1v1h-1zM12 11h2v1h-2zM22 11h1v1h-1zM37 11h1v1h-1zM44 11h1v1h-1zM12 12h1v1h-1zM15 12h2v1h-2zM19 12h1v1h-1zM33 12h2v1h-2zM36 12h1v1h-1zM12 13h1v1h-1zM21 13h1v1h-1zM47 13h1v1h-1zM13 14h1v1h-1zM33 14h1v1h-1zM47 14h1v1h-1zM16 15h1v1h-1zM23 15h1v1h-1zM33 15h1v1h-1zM46 15h2v1h-2zM26 16h1v1h-1zM33 16h1v1h-1zM46 16h1v1h-1zM12 17h1v1h-1zM33 17h1v1h-1zM11 18h1v1h-1zM13 18h1v1h-1zM16 18h1v1h-1zM22 18h1v1h-1zM34 18h1v1h-1zM42 18h1v1h-1zM46 18h1v1h-1zM7 19h1v1h-1zM16 19h1v1h-1zM34 19h1v1h-1zM6 20h2v1h-2zM9 21h1v1h-1zM22 21h1v1h-1zM39 21h1v1h-1zM45 21h1v1h-1zM7 22h1v1h-1zM12 22h1v1h-1zM23 22h1v1h-1zM29 22h1v1h-1zM32 22h1v1h-1zM43 22h1v1h-1zM49 22h1v1h-1zM2 23h1v1h-1zM12 23h2v1h-2zM29 23h1v1h-1zM39 23h1v1h-1zM12 24h1v1h-1zM22 24h2v1h-2zM29 24h1v1h-1zM32 24h1v1h-1zM3 25h1v1h-1zM18 25h1v1h-1zM36 25h1v1h-1zM0 26h1v1h-1zM2 26h2v1h-2zM32 26h1v1h-1zM6 27h1v1h-1zM41 27h1v1h-1zM44 27h1v1h-1zM14 28h1v1h-1zM28 28h1v1h-1zM1 29h1v1h-1zM4 29h1v1h-1zM29 29h1v1h-1zM41 29h1v1h-1zM1 30h1v1h-1zM7 30h2v1h-2zM14 30h1v1h-1zM16 30h1v1h-1zM25 30h1v1h-1zM36 30h1v1h-1zM42 30h1v1h-1zM44 30h2v1h-2zM0 31h1v1h-1zM7 31h2v1h-2zM21 31h1v1h-1zM25 31h1v1h-1zM48 31h1v1h-1zM0 32h1v1h-1zM2 32h1v1h-1zM8 32h2v1h-2zM24 32h1v1h-1zM34 32h1v1h-1zM41 32h1v1h-1zM44 32h2v1h-2zM7 33h1v1h-1zM22 33h1v1h-1zM29 33h1v1h-1zM0 34h1v1h-1zM8 34h1v1h-1zM14 34h1v1h-1zM25 34h1v1h-1zM44 34h1v1h-1zM8 35h1v1h-1zM21 35h1v1h-1zM24 35h1v1h-1zM33 35h2v1h-2zM44 35h1v1h-1zM21 36h1v1h-1zM36 36h1v1h-1zM42 36h1v1h-1zM3 37h1v1h-1zM8 37h1v1h-1zM19 37h1v1h-1zM36 37h1v1h-1zM38 37h1v1h-1zM48 37h1v1h-1zM3 38h1v1h-1zM9 38h1v1h-1zM42 38h1v1h-1zM49 38h1v1h-1zM2 39h1v1h-1zM9 39h1v1h-1zM12 39h1v1h-1zM24 39h1v1h-1zM27 39h1v1h-1zM32 39h1v1h-1zM42 39h1v1h-1zM12 40h1v1h-1zM22 40h1v1h-1zM30 40h2v1h-2zM29 41h1v1h-1zM44 41h1v1h-1zM7 42h1v1h-1zM34 42h1v1h-1zM36 42h1v1h-1zM29 43h1v1h-1zM47 43h1v1h-1zM8 44h1v1h-1zM13 44h1v1h-1zM16 44h1v1h-1zM32 44h1v1h-1zM47 44h1v1h-1zM2 45h1v1h-1zM27 45h1v1h-1zM44 45h1v1h-1zM49 45h1v1h-1zM38 46h1v1h-1zM43 47h1v1h-1zM8 48h1v1h-1zM24 48h1v1h-1zM1 49h1v1h-1zM25 49h1v1h-1zM34 49h1v1h-1zM36 49h1v1h-1zM45 49h1v1h-1zM47 49h2v1h-2zM3 50h1v1h-1zM28 50h2v1h-2zM41 50h2v1h-2zM48 50h1v1h-1zM8 51h1v1h-1zM22 51h1v1h-1zM42 51h1v1h-1zM49 51h1v1h-1zM3 52h1v1h-1zM7 52h2v1h-2zM24 52h2v1h-2zM42 52h1v1h-1zM2 53h2v1h-2zM4 54h1v1h-1zM28 54h1v1h-1zM48 54h1v1h-1z"/><path fill="#f57d4a" stroke="#f57d4a" d="M6 1h1v1h-1zM6 2h1v1h-1zM28 2h1v1h-1zM48 2h1v1h-1zM0 3h1v1h-1zM24 3h1v1h-1zM0 4h1v1h-1zM41 4h1v1h-1zM4 5h1v1h-1zM10 6h1v1h-1zM20 6h1v1h-1zM7 7h1v1h-1zM30 7h1v1h-1zM42 7h1v1h-1zM7 9h1v1h-1zM10 9h2v1h-2zM23 9h1v1h-1zM33 9h1v1h-1zM9 10h1v1h-1zM21 10h1v1h-1zM23 10h1v1h-1zM33 10h1v1h-1zM0 12h3v1h-3zM7 12h2v1h-2zM21 12h1v1h-1zM28 12h1v1h-1zM45 12h1v1h-1zM48 12h1v1h-1zM1 13h1v1h-1zM41 13h1v1h-1zM45 13h1v1h-1zM26 14h1v1h-1zM46 14h1v1h-1zM5 15h1v1h-1zM15 15h1v1h-1zM30 15h1v1h-1zM35 15h1v1h-1zM0 16h1v1h-1zM0 17h4v1h-4zM0 18h1v1h-1zM3 18h1v1h-1zM21 18h1v1h-1zM0 19h1v1h-1zM9 19h1v1h-1zM41 19h1v1h-1zM18 20h1v1h-1zM45 20h1v1h-1zM40 21h1v1h-1zM26 22h1v1h-1zM4 23h1v1h-1zM17 23h1v1h-1zM20 23h1v1h-1zM3 24h1v1h-1zM6 24h1v1h-1zM43 25h1v1h-1zM47 25h2v1h-2zM17 26h1v1h-1zM15 27h1v1h-1zM35 27h1v1h-1zM35 28h1v1h-1zM17 29h1v1h-1zM20 29h1v1h-1zM37 29h1v1h-1zM10 30h1v1h-1zM18 30h1v1h-1zM38 30h1v1h-1zM17 31h1v1h-1zM20 31h1v1h-1zM33 31h1v1h-1zM37 31h1v1h-1zM15 32h1v1h-1zM26 32h1v1h-1zM33 32h1v1h-1zM35 32h1v1h-1zM15 34h1v1h-1zM20 34h1v1h-1zM35 34h1v1h-1zM15 35h1v1h-1zM20 35h1v1h-1zM26 35h1v1h-1zM35 35h1v1h-1zM10 36h1v1h-1zM30 36h1v1h-1zM17 37h1v1h-1zM26 37h1v1h-1zM46 37h1v1h-1zM10 38h1v1h-1zM17 40h1v1h-1zM33 40h1v1h-1zM41 40h1v1h-1zM7 41h1v1h-1zM40 41h1v1h-1zM10 43h1v1h-1zM23 43h1v1h-1zM40 43h1v1h-1zM40 44h1v1h-1zM46 45h1v1h-1zM17 46h1v1h-1zM23 46h1v1h-1zM37 46h1v1h-1zM34 47h1v1h-1zM37 47h1v1h-1zM42 48h1v1h-1zM46 48h1v1h-1zM33 49h1v1h-1zM33 50h1v1h-1zM33 51h1v1h-1zM26 52h2v1h-2zM46 52h1v1h-1zM27 53h1v1h-1zM40 53h1v1h-1zM46 53h1v1h-1zM27 54h1v1h-1zM35 54h1v1h-1zM37 54h1v1h-1zM46 54h1v1h-1z"/></g>
<rect x="43.06" y="500.40" width="59.10" height="6.40" fill="#10d7dc" stroke="none" stroke-width="1" />
<rect x="102.16" y="500.40" width="236.40" height="6.40" fill="#f98e86" stroke="none" stroke-width="1" />
<text transform="translate(340.70,506.40) scale(1.080,1)" text-anchor="start" font-size="6.3" font-weight="bold" fill="#000">group</text>
<text transform="translate(340.70,514.88) scale(1.100,1)" text-anchor="start" font-size="6.3" font-weight="bold" fill="#000">EIF5A</text>
<text transform="translate(340.70,522.05) scale(1.100,1)" text-anchor="start" font-size="6.3" font-weight="bold" fill="#000">HEXA</text>
<text transform="translate(340.70,529.22) scale(1.100,1)" text-anchor="start" font-size="6.3" font-weight="bold" fill="#000">PCBP1</text>
<text transform="translate(340.70,536.39) scale(1.100,1)" text-anchor="start" font-size="6.3" font-weight="bold" fill="#000">ASS1</text>
<text transform="translate(340.70,543.56) scale(1.100,1)" text-anchor="start" font-size="6.3" font-weight="bold" fill="#000">PSMA4</text>
<text transform="translate(340.70,550.73) scale(1.100,1)" text-anchor="start" font-size="6.3" font-weight="bold" fill="#000">ZBP1</text>
<text transform="translate(340.70,557.90) scale(1.100,1)" text-anchor="start" font-size="6.3" font-weight="bold" fill="#000">MIF</text>
<text transform="translate(340.70,565.07) scale(1.100,1)" text-anchor="start" font-size="6.3" font-weight="bold" fill="#000">PSAP</text>
<text transform="translate(340.70,572.25) scale(1.100,1)" text-anchor="start" font-size="6.3" font-weight="bold" fill="#000">PTPN18</text>
<text transform="translate(340.70,579.41) scale(1.100,1)" text-anchor="start" font-size="6.3" font-weight="bold" fill="#000">LGALS3</text>
<text transform="translate(340.70,586.58) scale(1.100,1)" text-anchor="start" font-size="6.3" font-weight="bold" fill="#000">RPL23</text>
<text transform="translate(340.70,593.75) scale(1.100,1)" text-anchor="start" font-size="6.3" font-weight="bold" fill="#000">TMSB10</text>
<text transform="translate(340.70,600.92) scale(1.100,1)" text-anchor="start" font-size="6.3" font-weight="bold" fill="#000">USMG5</text>
<text transform="translate(340.70,608.09) scale(1.100,1)" text-anchor="start" font-size="6.3" font-weight="bold" fill="#000">RPL32</text>
<text transform="translate(340.70,615.26) scale(1.100,1)" text-anchor="start" font-size="6.3" font-weight="bold" fill="#000">PSMB3</text>
<text transform="translate(340.70,622.43) scale(1.100,1)" text-anchor="start" font-size="6.3" font-weight="bold" fill="#000">PPA1</text>
<text transform="translate(340.70,629.60) scale(1.100,1)" text-anchor="start" font-size="6.3" font-weight="bold" fill="#000">COX5A</text>
<text transform="translate(340.70,636.77) scale(1.100,1)" text-anchor="start" font-size="6.3" font-weight="bold" fill="#000">PGAM1</text>
<text transform="translate(340.70,643.94) scale(1.100,1)" text-anchor="start" font-size="6.3" font-weight="bold" fill="#000">RAN</text>
<text transform="translate(340.70,651.12) scale(1.100,1)" text-anchor="start" font-size="6.3" font-weight="bold" fill="#000">LDHA</text>
<text transform="translate(340.70,658.28) scale(1.100,1)" text-anchor="start" font-size="6.3" font-weight="bold" fill="#000">TPI1</text>
<text transform="translate(340.70,665.45) scale(1.100,1)" text-anchor="start" font-size="6.3" font-weight="bold" fill="#000">ENO1</text>
<text transform="translate(340.70,672.62) scale(1.100,1)" text-anchor="start" font-size="6.3" font-weight="bold" fill="#000">RTP4</text>
<text transform="translate(340.70,679.79) scale(1.100,1)" text-anchor="start" font-size="6.3" font-weight="bold" fill="#000">CAPG</text>
<text transform="translate(340.70,686.96) scale(1.100,1)" text-anchor="start" font-size="6.3" font-weight="bold" fill="#000">CTSD</text>
<text transform="translate(340.70,694.13) scale(1.100,1)" text-anchor="start" font-size="6.3" font-weight="bold" fill="#000">SAMHD1</text>
<text transform="translate(340.70,701.30) scale(1.100,1)" text-anchor="start" font-size="6.3" font-weight="bold" fill="#000">IRF7</text>
<text transform="translate(340.70,708.47) scale(1.100,1)" text-anchor="start" font-size="6.3" font-weight="bold" fill="#000">ISG15</text>
<text transform="translate(340.70,715.64) scale(1.100,1)" text-anchor="start" font-size="6.3" font-weight="bold" fill="#000">STAT1</text>
<text transform="translate(340.70,722.81) scale(1.100,1)" text-anchor="start" font-size="6.3" font-weight="bold" fill="#000">MRPL52</text>
<text transform="translate(340.70,729.98) scale(1.100,1)" text-anchor="start" font-size="6.3" font-weight="bold" fill="#000">CSTB</text>
<text transform="translate(340.70,737.15) scale(1.100,1)" text-anchor="start" font-size="6.3" font-weight="bold" fill="#000">GBP2</text>
<text transform="translate(340.70,744.32) scale(1.100,1)" text-anchor="start" font-size="6.3" font-weight="bold" fill="#000">TSPO</text>
<text transform="translate(340.70,751.49) scale(1.100,1)" text-anchor="start" font-size="6.3" font-weight="bold" fill="#000">GRN</text>
<text transform="translate(340.70,758.66) scale(1.100,1)" text-anchor="start" font-size="6.3" font-weight="bold" fill="#000">ALOX5AP</text>
<text transform="translate(340.70,765.83) scale(1.100,1)" text-anchor="start" font-size="6.3" font-weight="bold" fill="#000">LY86</text>
<text transform="translate(340.70,773.00) scale(1.100,1)" text-anchor="start" font-size="6.3" font-weight="bold" fill="#000">CTSS</text>
<text transform="translate(340.70,780.17) scale(1.100,1)" text-anchor="start" font-size="6.3" font-weight="bold" fill="#000">CD68</text>
<text transform="translate(340.70,787.35) scale(1.100,1)" text-anchor="start" font-size="6.3" font-weight="bold" fill="#000">GPNMB</text>
<text transform="translate(340.70,794.51) scale(1.100,1)" text-anchor="start" font-size="6.3" font-weight="bold" fill="#000">RPL13</text>
<text transform="translate(340.70,801.68) scale(1.100,1)" text-anchor="start" font-size="6.3" font-weight="bold" fill="#000">RPL37</text>
<text transform="translate(340.70,808.86) scale(1.100,1)" text-anchor="start" font-size="6.3" font-weight="bold" fill="#000">ACP5</text>
<text transform="translate(340.70,816.02) scale(1.100,1)" text-anchor="start" font-size="6.3" font-weight="bold" fill="#000">EEF1A1</text>
<text transform="translate(340.70,823.19) scale(1.100,1)" text-anchor="start" font-size="6.3" font-weight="bold" fill="#000">RPS15A</text>
<text transform="translate(340.70,830.37) scale(1.100,1)" text-anchor="start" font-size="6.3" font-weight="bold" fill="#000">RPL30</text>
<text transform="translate(340.70,837.53) scale(1.100,1)" text-anchor="start" font-size="6.3" font-weight="bold" fill="#000">RPS5</text>
<text transform="translate(340.70,844.70) scale(1.100,1)" text-anchor="start" font-size="6.3" font-weight="bold" fill="#000">F10</text>
<text transform="translate(340.70,851.88) scale(1.100,1)" text-anchor="start" font-size="6.3" font-weight="bold" fill="#000">PLD4</text>
<text transform="translate(340.70,859.04) scale(1.100,1)" text-anchor="start" font-size="6.3" font-weight="bold" fill="#000">YWHAE</text>
<text transform="translate(340.70,866.21) scale(1.100,1)" text-anchor="start" font-size="6.3" font-weight="bold" fill="#000">RPL11</text>
<text transform="translate(340.70,873.38) scale(1.100,1)" text-anchor="start" font-size="6.3" font-weight="bold" fill="#000">IFNGR1</text>
<text transform="translate(340.70,880.55) scale(1.100,1)" text-anchor="start" font-size="6.3" font-weight="bold" fill="#000">CFB</text>
<text transform="translate(340.70,887.72) scale(1.100,1)" text-anchor="start" font-size="6.3" font-weight="bold" fill="#000">TAGLN2</text>
<text transform="translate(340.70,894.89) scale(1.100,1)" text-anchor="start" font-size="6.3" font-weight="bold" fill="#000">CTSB</text>
<text transform="translate(340.70,902.06) scale(1.100,1)" text-anchor="start" font-size="6.3" font-weight="bold" fill="#000">SPINT1</text>
<rect x="375.90" y="499.60" width="6.50" height="100.10" fill="url(#ghm)" stroke="none" stroke-width="1" />
<text transform="translate(397.60,502.20) scale(1.050,1)" text-anchor="end" font-size="6.2" font-weight="bold" fill="#000">2</text>
<text transform="translate(397.60,526.20) scale(1.050,1)" text-anchor="end" font-size="6.2" font-weight="bold" fill="#000">1</text>
<text transform="translate(397.60,551.90) scale(1.050,1)" text-anchor="end" font-size="6.2" font-weight="bold" fill="#000">0</text>
<text transform="translate(397.60,576.80) scale(1.050,1)" text-anchor="end" font-size="6.2" font-weight="bold" fill="#000">−1</text>
<text transform="translate(397.60,601.90) scale(1.050,1)" text-anchor="end" font-size="6.2" font-weight="bold" fill="#000">−2</text>
<text transform="translate(401.30,504.60) scale(1.080,1)" text-anchor="start" font-size="6.3" font-weight="bold" fill="#000">group</text>
<rect x="401.10" y="507.00" width="9.70" height="9.30" fill="#10d7dc" stroke="none" stroke-width="1" />
<rect x="401.10" y="516.30" width="9.70" height="9.50" fill="#f98e86" stroke="none" stroke-width="1" />
<text transform="translate(412.70,513.70) scale(1.050,1)" text-anchor="start" font-size="6.3" font-weight="bold" fill="#000">C</text>
<text transform="translate(412.70,523.00) scale(1.050,1)" text-anchor="start" font-size="6.3" font-weight="bold" fill="#000">P</text>
<path d="M23.5 519.8L43.0 519.8M23.5 526.9L43.0 526.9M23.5 519.8L23.5 526.9M18.7 512.6L43.0 512.6M18.7 523.3L23.5 523.3M18.7 512.6L18.7 523.3M27.6 534.1L43.0 534.1M27.6 541.3L43.0 541.3M27.6 534.1L27.6 541.3M25.9 555.6L43.0 555.6M25.9 562.8L43.0 562.8M25.9 555.6L25.9 562.8M25.0 548.4L43.0 548.4M25.0 559.2L25.9 559.2M25.0 548.4L25.0 559.2M20.2 537.7L27.6 537.7M20.2 553.8L25.0 553.8M20.2 537.7L20.2 553.8M29.4 577.1L43.0 577.1M29.4 584.3L43.0 584.3M29.4 577.1L29.4 584.3M20.2 569.9L43.0 569.9M20.2 580.7L29.4 580.7M20.2 569.9L20.2 580.7M17.2 545.7L20.2 545.7M17.2 575.3L20.2 575.3M17.2 545.7L17.2 575.3M13.4 518.0L18.7 518.0M13.4 560.5L17.2 560.5M13.4 518.0L13.4 560.5M24.4 591.5L43.0 591.5M24.4 598.6L43.0 598.6M24.4 591.5L24.4 598.6M37.0 634.5L43.0 634.5M37.0 641.6L43.0 641.6M37.0 634.5L37.0 641.6M32.4 627.3L43.0 627.3M32.4 638.1L37.0 638.1M32.4 627.3L32.4 638.1M30.7 620.1L43.0 620.1M30.7 632.7L32.4 632.7M30.7 620.1L30.7 632.7M26.9 613.0L43.0 613.0M26.9 626.4L30.7 626.4M26.9 613.0L26.9 626.4M26.5 648.8L43.0 648.8M26.5 656.0L43.0 656.0M26.5 648.8L26.5 656.0M25.2 619.7L26.9 619.7M25.2 652.4L26.5 652.4M25.2 619.7L25.2 652.4M22.7 605.8L43.0 605.8M22.7 636.0L25.2 636.0M22.7 605.8L22.7 636.0M21.0 595.0L24.4 595.0M21.0 620.9L22.7 620.9M21.0 595.0L21.0 620.9M7.7 539.2L13.4 539.2M7.7 608.0L21.0 608.0M7.7 539.2L7.7 608.0M27.7 677.5L43.0 677.5M27.7 684.7L43.0 684.7M27.7 677.5L27.7 684.7M22.7 670.3L43.0 670.3M22.7 681.1L27.7 681.1M22.7 670.3L22.7 681.1M20.2 663.2L43.0 663.2M20.2 675.7L22.7 675.7M20.2 663.2L20.2 675.7M16.4 669.4L20.2 669.4M16.4 691.8L43.0 691.8M16.4 669.4L16.4 691.8M32.4 706.2L43.0 706.2M32.4 713.3L43.0 713.3M32.4 706.2L32.4 713.3M27.3 699.0L43.0 699.0M27.3 709.8L32.4 709.8M27.3 699.0L27.3 709.8M35.7 734.9L43.0 734.9M35.7 742.0L43.0 742.0M35.7 734.9L35.7 742.0M31.0 727.7L43.0 727.7M31.0 738.4L35.7 738.4M31.0 727.7L31.0 738.4M34.5 756.4L43.0 756.4M34.5 763.5L43.0 763.5M34.5 756.4L34.5 763.5M29.4 749.2L43.0 749.2M29.4 760.0L34.5 760.0M29.4 749.2L29.4 760.0M28.2 733.1L31.0 733.1M28.2 754.6L29.4 754.6M28.2 733.1L28.2 754.6M26.0 720.5L43.0 720.5M26.0 743.8L28.2 743.8M26.0 720.5L26.0 743.8M24.4 704.4L27.3 704.4M24.4 732.2L26.0 732.2M24.4 704.4L24.4 732.2M26.5 777.9L43.0 777.9M26.5 785.0L43.0 785.0M26.5 777.9L26.5 785.0M22.7 770.7L43.0 770.7M22.7 781.5L26.5 781.5M22.7 770.7L22.7 781.5M20.6 718.3L24.4 718.3M20.6 776.1L22.7 776.1M20.6 718.3L20.6 776.1M18.0 680.6L16.4 680.6M18.0 747.2L20.6 747.2M18.0 680.6L18.0 747.2M25.6 792.2L43.0 792.2M25.6 799.4L43.0 799.4M25.6 792.2L25.6 799.4M33.6 828.1L43.0 828.1M33.6 835.2L43.0 835.2M33.6 828.1L33.6 835.2M30.7 820.9L43.0 820.9M30.7 831.7L33.6 831.7M30.7 820.9L30.7 831.7M25.6 813.7L43.0 813.7M25.6 826.3L30.7 826.3M25.6 813.7L25.6 826.3M18.9 806.6L43.0 806.6M18.9 820.0L25.6 820.0M18.9 806.6L18.9 820.0M16.8 795.8L25.6 795.8M16.8 813.3L18.9 813.3M16.8 795.8L16.8 813.3M31.0 878.3L43.0 878.3M31.0 885.4L43.0 885.4M31.0 878.3L31.0 885.4M29.8 871.1L43.0 871.1M29.8 881.8L31.0 881.8M29.8 871.1L29.8 881.8M26.0 863.9L43.0 863.9M26.0 876.5L29.8 876.5M26.0 863.9L26.0 876.5M24.0 892.6L43.0 892.6M24.0 899.8L43.0 899.8M24.0 892.6L24.0 899.8M21.0 870.2L26.0 870.2M21.0 896.2L24.0 896.2M21.0 870.2L21.0 896.2M18.9 856.7L43.0 856.7M18.9 883.2L21.0 883.2M18.9 856.7L18.9 883.2M16.8 849.6L43.0 849.6M16.8 870.0L18.9 870.0M16.8 849.6L16.8 870.0M14.7 842.4L43.0 842.4M14.7 859.8L16.8 859.8M14.7 842.4L14.7 859.8M13.4 804.5L16.8 804.5M13.4 851.1L14.7 851.1M13.4 804.5L13.4 851.1M10.5 713.9L18.0 713.9M10.5 827.8L13.4 827.8M10.5 713.9L10.5 827.8M8.4 573.6L7.7 573.6M8.4 770.9L10.5 770.9M8.4 573.6L8.4 770.9" stroke="#000" stroke-width="1.35" fill="none" stroke-linecap="square"/>
<!-- p_d.py -->
<text transform="translate(20.00,949.00)" text-anchor="start" font-size="19.5" font-weight="bold" fill="#000">D</text>
<line x1="76.00" y1="984.02" x2="76.00" y2="995.97" stroke="#444" stroke-width="0.8" />
<rect x="72.80" y="987.82" width="6.40" height="4.36" fill="#1f8a4e" stroke="#3a3a3a" stroke-width="0.55" />
<line x1="72.80" y1="989.94" x2="79.20" y2="989.94" stroke="#333" stroke-width="0.8" />
<line x1="83.20" y1="985.92" x2="83.20" y2="996.31" stroke="#444" stroke-width="0.8" />
<rect x="80.00" y="989.16" width="6.40" height="3.57" fill="#f0913a" stroke="#3a3a3a" stroke-width="0.55" />
<line x1="80.00" y1="990.94" x2="86.40" y2="990.94" stroke="#333" stroke-width="0.8" />
<circle cx="83.20" cy="983.68" r="2.40" fill="#000" stroke="none" stroke-width="1" />
<line x1="79.60" y1="1151.00" x2="79.60" y2="1154.50" stroke="#000" stroke-width="1.2" />
<text transform="translate(85.60,1161.00) rotate(-47)" text-anchor="end" font-size="13.6" font-weight="bold" fill="#111">EIF5A</text>
<line x1="93.85" y1="957.99" x2="93.85" y2="961.68" stroke="#444" stroke-width="0.8" />
<rect x="90.65" y="958.55" width="6.40" height="2.57" fill="#1f8a4e" stroke="#3a3a3a" stroke-width="0.55" />
<line x1="90.65" y1="959.89" x2="97.05" y2="959.89" stroke="#333" stroke-width="0.8" />
<circle cx="93.85" cy="954.64" r="2.40" fill="#000" stroke="none" stroke-width="1" />
<line x1="101.05" y1="958.55" x2="101.05" y2="973.85" stroke="#444" stroke-width="0.8" />
<rect x="97.85" y="961.68" width="6.40" height="5.81" fill="#f0913a" stroke="#3a3a3a" stroke-width="0.55" />
<line x1="97.85" y1="964.69" x2="104.25" y2="964.69" stroke="#333" stroke-width="0.8" />
<text transform="translate(97.45,935.50) scale(1.183,1)" text-anchor="middle" font-size="11" fill="#333">***</text>
<line x1="97.45" y1="1151.00" x2="97.45" y2="1154.50" stroke="#000" stroke-width="1.2" />
<text transform="translate(103.45,1161.00) rotate(-47)" text-anchor="end" font-size="13.6" font-weight="bold" fill="#111">COX5A</text>
<line x1="111.70" y1="988.60" x2="111.70" y2="996.75" stroke="#444" stroke-width="0.8" />
<rect x="108.50" y="989.94" width="6.40" height="6.03" fill="#1f8a4e" stroke="#3a3a3a" stroke-width="0.55" />
<line x1="108.50" y1="992.95" x2="114.90" y2="992.95" stroke="#333" stroke-width="0.8" />
<line x1="118.90" y1="988.60" x2="118.90" y2="1003.12" stroke="#444" stroke-width="0.8" />
<rect x="115.70" y="994.74" width="6.40" height="5.03" fill="#f0913a" stroke="#3a3a3a" stroke-width="0.55" />
<line x1="115.70" y1="997.09" x2="122.10" y2="997.09" stroke="#333" stroke-width="0.8" />
<text transform="translate(115.30,935.50) scale(1.144,1)" text-anchor="middle" font-size="11" fill="#333">**</text>
<line x1="115.30" y1="1151.00" x2="115.30" y2="1154.50" stroke="#000" stroke-width="1.2" />
<text transform="translate(121.30,1161.00) rotate(-47)" text-anchor="end" font-size="13.6" font-weight="bold" fill="#111">PSMA4</text>
<line x1="129.55" y1="972.07" x2="129.55" y2="978.43" stroke="#444" stroke-width="0.8" />
<rect x="126.35" y="974.41" width="6.40" height="2.57" fill="#1f8a4e" stroke="#3a3a3a" stroke-width="0.55" />
<line x1="126.35" y1="975.64" x2="132.75" y2="975.64" stroke="#333" stroke-width="0.8" />
<line x1="136.75" y1="972.62" x2="136.75" y2="982.79" stroke="#444" stroke-width="0.8" />
<rect x="133.55" y="975.42" width="6.40" height="4.02" fill="#f0913a" stroke="#3a3a3a" stroke-width="0.55" />
<line x1="133.55" y1="977.43" x2="139.95" y2="977.43" stroke="#333" stroke-width="0.8" />
<line x1="133.15" y1="1151.00" x2="133.15" y2="1154.50" stroke="#000" stroke-width="1.2" />
<text transform="translate(139.15,1161.00) rotate(-47)" text-anchor="end" font-size="13.6" font-weight="bold" fill="#111">PSMB3</text>
<line x1="147.40" y1="983.57" x2="147.40" y2="988.15" stroke="#444" stroke-width="0.8" />
<rect x="144.20" y="985.36" width="6.40" height="1.68" fill="#1f8a4e" stroke="#3a3a3a" stroke-width="0.55" />
<line x1="144.20" y1="986.14" x2="150.60" y2="986.14" stroke="#333" stroke-width="0.8" />
<line x1="154.60" y1="983.68" x2="154.60" y2="1010.71" stroke="#444" stroke-width="0.8" />
<rect x="151.40" y="989.94" width="6.40" height="11.17" fill="#f0913a" stroke="#3a3a3a" stroke-width="0.55" />
<line x1="151.40" y1="994.18" x2="157.80" y2="994.18" stroke="#333" stroke-width="0.8" />
<text transform="translate(151.00,935.50) scale(1.203,1)" text-anchor="middle" font-size="11" fill="#333">****</text>
<line x1="151.00" y1="1151.00" x2="151.00" y2="1154.50" stroke="#000" stroke-width="1.2" />
<text transform="translate(157.00,1161.00) rotate(-47)" text-anchor="end" font-size="13.6" font-weight="bold" fill="#111">RAN</text>
<line x1="165.25" y1="1004.91" x2="165.25" y2="1047.35" stroke="#444" stroke-width="0.8" />
<rect x="162.05" y="1006.47" width="6.40" height="33.06" fill="#1f8a4e" stroke="#3a3a3a" stroke-width="0.55" />
<line x1="162.05" y1="1018.31" x2="168.45" y2="1018.31" stroke="#333" stroke-width="0.8" />
<line x1="172.45" y1="1002.67" x2="172.45" y2="1070.03" stroke="#444" stroke-width="0.8" />
<rect x="169.25" y="1017.42" width="6.40" height="33.51" fill="#f0913a" stroke="#3a3a3a" stroke-width="0.55" />
<line x1="169.25" y1="1043.33" x2="175.65" y2="1043.33" stroke="#333" stroke-width="0.8" />
<text transform="translate(168.85,935.50) scale(1.028,1)" text-anchor="middle" font-size="11" fill="#333">*</text>
<line x1="168.85" y1="1151.00" x2="168.85" y2="1154.50" stroke="#000" stroke-width="1.2" />
<text transform="translate(174.85,1161.00) rotate(-47)" text-anchor="end" font-size="13.6" font-weight="bold" fill="#111">USMG5</text>
<line x1="183.10" y1="948.39" x2="183.10" y2="953.52" stroke="#444" stroke-width="0.8" />
<rect x="179.90" y="949.73" width="6.40" height="2.23" fill="#1f8a4e" stroke="#3a3a3a" stroke-width="0.55" />
<line x1="179.90" y1="950.73" x2="186.30" y2="950.73" stroke="#333" stroke-width="0.8" />
<line x1="190.30" y1="945.93" x2="190.30" y2="955.31" stroke="#444" stroke-width="0.8" />
<rect x="187.10" y="949.39" width="6.40" height="3.57" fill="#f0913a" stroke="#3a3a3a" stroke-width="0.55" />
<line x1="187.10" y1="951.29" x2="193.50" y2="951.29" stroke="#333" stroke-width="0.8" />
<line x1="186.70" y1="1151.00" x2="186.70" y2="1154.50" stroke="#000" stroke-width="1.2" />
<text transform="translate(192.70,1161.00) rotate(-47)" text-anchor="end" font-size="13.6" font-weight="bold" fill="#111">TMSB10</text>
<line x1="200.95" y1="1002.34" x2="200.95" y2="1017.19" stroke="#444" stroke-width="0.8" />
<rect x="197.75" y="1005.69" width="6.40" height="5.59" fill="#1f8a4e" stroke="#3a3a3a" stroke-width="0.55" />
<line x1="197.75" y1="1009.37" x2="204.15" y2="1009.37" stroke="#333" stroke-width="0.8" />
<line x1="208.15" y1="984.80" x2="208.15" y2="1018.31" stroke="#444" stroke-width="0.8" />
<rect x="204.95" y="995.75" width="6.40" height="10.72" fill="#f0913a" stroke="#3a3a3a" stroke-width="0.55" />
<line x1="204.95" y1="1001.11" x2="211.35" y2="1001.11" stroke="#333" stroke-width="0.8" />
<circle cx="208.15" cy="979.66" r="2.40" fill="#000" stroke="none" stroke-width="1" />
<text transform="translate(204.55,935.50) scale(1.144,1)" text-anchor="middle" font-size="11" fill="#333">**</text>
<line x1="204.55" y1="1151.00" x2="204.55" y2="1154.50" stroke="#000" stroke-width="1.2" />
<text transform="translate(210.55,1161.00) rotate(-47)" text-anchor="end" font-size="13.6" font-weight="bold" fill="#111">TAGLN2</text>
<line x1="218.80" y1="1011.61" x2="218.80" y2="1019.65" stroke="#444" stroke-width="0.8" />
<rect x="215.60" y="1013.06" width="6.40" height="4.13" fill="#1f8a4e" stroke="#3a3a3a" stroke-width="0.55" />
<line x1="215.60" y1="1015.07" x2="222.00" y2="1015.07" stroke="#333" stroke-width="0.8" />
<line x1="226.00" y1="1008.70" x2="226.00" y2="1024.79" stroke="#444" stroke-width="0.8" />
<rect x="222.80" y="1015.07" width="6.40" height="5.81" fill="#f0913a" stroke="#3a3a3a" stroke-width="0.55" />
<line x1="222.80" y1="1017.64" x2="229.20" y2="1017.64" stroke="#333" stroke-width="0.8" />
<line x1="222.40" y1="1151.00" x2="222.40" y2="1154.50" stroke="#000" stroke-width="1.2" />
<text transform="translate(228.40,1161.00) rotate(-47)" text-anchor="end" font-size="13.6" font-weight="bold" fill="#111">ASS1</text>
<line x1="236.65" y1="1033.61" x2="236.65" y2="1042.55" stroke="#444" stroke-width="0.8" />
<rect x="233.45" y="1036.74" width="6.40" height="2.79" fill="#1f8a4e" stroke="#3a3a3a" stroke-width="0.55" />
<line x1="233.45" y1="1037.97" x2="239.85" y2="1037.97" stroke="#333" stroke-width="0.8" />
<circle cx="236.65" cy="1048.47" r="2.40" fill="#000" stroke="none" stroke-width="1" />
<line x1="243.85" y1="1029.48" x2="243.85" y2="1051.48" stroke="#444" stroke-width="0.8" />
<rect x="240.65" y="1036.96" width="6.40" height="7.60" fill="#f0913a" stroke="#3a3a3a" stroke-width="0.55" />
<line x1="240.65" y1="1039.98" x2="247.05" y2="1039.98" stroke="#333" stroke-width="0.8" />
<circle cx="243.85" cy="1056.06" r="2.40" fill="#000" stroke="none" stroke-width="1" />
<line x1="240.25" y1="1151.00" x2="240.25" y2="1154.50" stroke="#000" stroke-width="1.2" />
<text transform="translate(246.25,1161.00) rotate(-47)" text-anchor="end" font-size="13.6" font-weight="bold" fill="#111">RPL37</text>
<line x1="254.50" y1="964.14" x2="254.50" y2="971.40" stroke="#444" stroke-width="0.8" />
<rect x="251.30" y="966.48" width="6.40" height="3.02" fill="#1f8a4e" stroke="#3a3a3a" stroke-width="0.55" />
<line x1="251.30" y1="968.04" x2="257.70" y2="968.04" stroke="#333" stroke-width="0.8" />
<line x1="261.70" y1="956.54" x2="261.70" y2="974.75" stroke="#444" stroke-width="0.8" />
<rect x="258.50" y="964.47" width="6.40" height="5.59" fill="#f0913a" stroke="#3a3a3a" stroke-width="0.55" />
<line x1="258.50" y1="967.26" x2="264.90" y2="967.26" stroke="#333" stroke-width="0.8" />
<line x1="258.10" y1="1151.00" x2="258.10" y2="1154.50" stroke="#000" stroke-width="1.2" />
<text transform="translate(264.10,1161.00) rotate(-47)" text-anchor="end" font-size="13.6" font-weight="bold" fill="#111">RPL30</text>
<line x1="272.35" y1="941.24" x2="272.35" y2="943.92" stroke="#444" stroke-width="0.8" />
<rect x="269.15" y="942.35" width="6.40" height="1.12" fill="#1f8a4e" stroke="#3a3a3a" stroke-width="0.55" />
<line x1="269.15" y1="942.80" x2="275.55" y2="942.80" stroke="#333" stroke-width="0.8" />
<circle cx="272.35" cy="940.23" r="2.40" fill="#000" stroke="none" stroke-width="1" />
<line x1="279.55" y1="940.79" x2="279.55" y2="944.59" stroke="#444" stroke-width="0.8" />
<rect x="276.35" y="941.80" width="6.40" height="1.68" fill="#f0913a" stroke="#3a3a3a" stroke-width="0.55" />
<line x1="276.35" y1="942.58" x2="282.75" y2="942.58" stroke="#333" stroke-width="0.8" />
<circle cx="279.55" cy="938.44" r="2.40" fill="#000" stroke="none" stroke-width="1" />
<circle cx="279.55" cy="946.82" r="2.40" fill="#000" stroke="none" stroke-width="1" />
<line x1="275.95" y1="1151.00" x2="275.95" y2="1154.50" stroke="#000" stroke-width="1.2" />
<text transform="translate(281.95,1161.00) rotate(-47)" text-anchor="end" font-size="13.6" font-weight="bold" fill="#111">EEF1A1</text>
<line x1="290.20" y1="957.32" x2="290.20" y2="963.13" stroke="#444" stroke-width="0.8" />
<rect x="287.00" y="958.55" width="6.40" height="3.13" fill="#1f8a4e" stroke="#3a3a3a" stroke-width="0.55" />
<line x1="287.00" y1="960.23" x2="293.40" y2="960.23" stroke="#333" stroke-width="0.8" />
<line x1="297.40" y1="952.97" x2="297.40" y2="962.46" stroke="#444" stroke-width="0.8" />
<rect x="294.20" y="956.09" width="6.40" height="3.80" fill="#f0913a" stroke="#3a3a3a" stroke-width="0.55" />
<line x1="294.20" y1="957.88" x2="300.60" y2="957.88" stroke="#333" stroke-width="0.8" />
<circle cx="297.40" cy="950.95" r="2.40" fill="#000" stroke="none" stroke-width="1" />
<text transform="translate(293.80,935.50) scale(1.144,1)" text-anchor="middle" font-size="11" fill="#333">**</text>
<line x1="293.80" y1="1151.00" x2="293.80" y2="1154.50" stroke="#000" stroke-width="1.2" />
<text transform="translate(299.80,1161.00) rotate(-47)" text-anchor="end" font-size="13.6" font-weight="bold" fill="#111">RPL11</text>
<line x1="308.05" y1="976.98" x2="308.05" y2="980.78" stroke="#444" stroke-width="0.8" />
<rect x="304.85" y="977.65" width="6.40" height="2.01" fill="#1f8a4e" stroke="#3a3a3a" stroke-width="0.55" />
<line x1="304.85" y1="978.66" x2="311.25" y2="978.66" stroke="#333" stroke-width="0.8" />
<line x1="315.25" y1="966.93" x2="315.25" y2="987.37" stroke="#444" stroke-width="0.8" />
<rect x="312.05" y="973.85" width="6.40" height="6.93" fill="#f0913a" stroke="#3a3a3a" stroke-width="0.55" />
<line x1="312.05" y1="977.43" x2="318.45" y2="977.43" stroke="#333" stroke-width="0.8" />
<line x1="311.65" y1="1151.00" x2="311.65" y2="1154.50" stroke="#000" stroke-width="1.2" />
<text transform="translate(317.65,1161.00) rotate(-47)" text-anchor="end" font-size="13.6" font-weight="bold" fill="#111">RPS15A</text>
<line x1="325.90" y1="994.18" x2="325.90" y2="1015.07" stroke="#444" stroke-width="0.8" />
<rect x="322.70" y="1000.10" width="6.40" height="8.82" fill="#1f8a4e" stroke="#3a3a3a" stroke-width="0.55" />
<line x1="322.70" y1="1003.68" x2="329.10" y2="1003.68" stroke="#333" stroke-width="0.8" />
<line x1="333.10" y1="992.40" x2="333.10" y2="1022.78" stroke="#444" stroke-width="0.8" />
<rect x="329.90" y="999.32" width="6.40" height="14.74" fill="#f0913a" stroke="#3a3a3a" stroke-width="0.55" />
<line x1="329.90" y1="1003.12" x2="336.30" y2="1003.12" stroke="#333" stroke-width="0.8" />
<line x1="329.50" y1="1151.00" x2="329.50" y2="1154.50" stroke="#000" stroke-width="1.2" />
<text transform="translate(335.50,1161.00) rotate(-47)" text-anchor="end" font-size="13.6" font-weight="bold" fill="#111">RPL23</text>
<line x1="343.75" y1="967.71" x2="343.75" y2="971.40" stroke="#444" stroke-width="0.8" />
<rect x="340.55" y="969.05" width="6.40" height="1.45" fill="#1f8a4e" stroke="#3a3a3a" stroke-width="0.55" />
<line x1="340.55" y1="969.83" x2="346.95" y2="969.83" stroke="#333" stroke-width="0.8" />
<line x1="350.95" y1="963.58" x2="350.95" y2="973.41" stroke="#444" stroke-width="0.8" />
<rect x="347.75" y="966.93" width="6.40" height="4.69" fill="#f0913a" stroke="#3a3a3a" stroke-width="0.55" />
<line x1="347.75" y1="968.83" x2="354.15" y2="968.83" stroke="#333" stroke-width="0.8" />
<circle cx="350.95" cy="959.33" r="2.40" fill="#000" stroke="none" stroke-width="1" />
<line x1="347.35" y1="1151.00" x2="347.35" y2="1154.50" stroke="#000" stroke-width="1.2" />
<text transform="translate(353.35,1161.00) rotate(-47)" text-anchor="end" font-size="13.6" font-weight="bold" fill="#111">RPS5</text>
<line x1="361.60" y1="1009.49" x2="361.60" y2="1018.31" stroke="#444" stroke-width="0.8" />
<rect x="358.40" y="1012.05" width="6.40" height="4.58" fill="#1f8a4e" stroke="#3a3a3a" stroke-width="0.55" />
<line x1="358.40" y1="1014.29" x2="364.80" y2="1014.29" stroke="#333" stroke-width="0.8" />
<line x1="368.80" y1="1008.26" x2="368.80" y2="1019.65" stroke="#444" stroke-width="0.8" />
<rect x="365.60" y="1011.61" width="6.40" height="5.03" fill="#f0913a" stroke="#3a3a3a" stroke-width="0.55" />
<line x1="365.60" y1="1014.07" x2="372.00" y2="1014.07" stroke="#333" stroke-width="0.8" />
<circle cx="368.80" cy="1003.90" r="2.40" fill="#000" stroke="none" stroke-width="1" />
<line x1="365.20" y1="1151.00" x2="365.20" y2="1154.50" stroke="#000" stroke-width="1.2" />
<text transform="translate(371.20,1161.00) rotate(-47)" text-anchor="end" font-size="13.6" font-weight="bold" fill="#111">RPL13</text>
<line x1="379.45" y1="1023.00" x2="379.45" y2="1028.03" stroke="#444" stroke-width="0.8" />
<rect x="376.25" y="1024.23" width="6.40" height="2.35" fill="#1f8a4e" stroke="#3a3a3a" stroke-width="0.55" />
<line x1="376.25" y1="1025.46" x2="382.65" y2="1025.46" stroke="#333" stroke-width="0.8" />
<line x1="386.65" y1="1018.87" x2="386.65" y2="1035.07" stroke="#444" stroke-width="0.8" />
<rect x="383.45" y="1025.24" width="6.40" height="5.14" fill="#f0913a" stroke="#3a3a3a" stroke-width="0.55" />
<line x1="383.45" y1="1027.25" x2="389.85" y2="1027.25" stroke="#333" stroke-width="0.8" />
<text transform="translate(383.05,935.50) scale(1.028,1)" text-anchor="middle" font-size="11" fill="#333">*</text>
<line x1="383.05" y1="1151.00" x2="383.05" y2="1154.50" stroke="#000" stroke-width="1.2" />
<text transform="translate(389.05,1161.00) rotate(-47)" text-anchor="end" font-size="13.6" font-weight="bold" fill="#111">RPL32</text>
<line x1="397.30" y1="990.38" x2="397.30" y2="1020.54" stroke="#444" stroke-width="0.8" />
<rect x="394.10" y="996.31" width="6.40" height="17.54" fill="#1f8a4e" stroke="#3a3a3a" stroke-width="0.55" />
<line x1="394.10" y1="1002.67" x2="400.50" y2="1002.67" stroke="#333" stroke-width="0.8" />
<line x1="404.50" y1="978.43" x2="404.50" y2="1023.22" stroke="#444" stroke-width="0.8" />
<rect x="401.30" y="995.52" width="6.40" height="14.97" fill="#f0913a" stroke="#3a3a3a" stroke-width="0.55" />
<line x1="401.30" y1="1002.67" x2="407.70" y2="1002.67" stroke="#333" stroke-width="0.8" />
<circle cx="404.50" cy="963.13" r="2.40" fill="#000" stroke="none" stroke-width="1" />
<circle cx="404.50" cy="972.51" r="2.40" fill="#000" stroke="none" stroke-width="1" />
<line x1="400.90" y1="1151.00" x2="400.90" y2="1154.50" stroke="#000" stroke-width="1.2" />
<text transform="translate(406.90,1161.00) rotate(-47)" text-anchor="end" font-size="13.6" font-weight="bold" fill="#111">ALOX5AP</text>
<line x1="415.15" y1="981.45" x2="415.15" y2="992.17" stroke="#444" stroke-width="0.8" />
<rect x="411.95" y="985.02" width="6.40" height="4.58" fill="#1f8a4e" stroke="#3a3a3a" stroke-width="0.55" />
<line x1="411.95" y1="987.03" x2="418.35" y2="987.03" stroke="#333" stroke-width="0.8" />
<line x1="422.35" y1="980.33" x2="422.35" y2="993.74" stroke="#444" stroke-width="0.8" />
<rect x="419.15" y="984.02" width="6.40" height="4.58" fill="#f0913a" stroke="#3a3a3a" stroke-width="0.55" />
<line x1="419.15" y1="986.03" x2="425.55" y2="986.03" stroke="#333" stroke-width="0.8" />
<circle cx="422.35" cy="974.41" r="2.40" fill="#000" stroke="none" stroke-width="1" />
<circle cx="422.35" cy="976.42" r="2.40" fill="#000" stroke="none" stroke-width="1" />
<circle cx="422.35" cy="978.10" r="2.40" fill="#000" stroke="none" stroke-width="1" />
<line x1="418.75" y1="1151.00" x2="418.75" y2="1154.50" stroke="#000" stroke-width="1.2" />
<text transform="translate(424.75,1161.00) rotate(-47)" text-anchor="end" font-size="13.6" font-weight="bold" fill="#111">IFNGR1</text>
<line x1="433.00" y1="1049.70" x2="433.00" y2="1057.85" stroke="#444" stroke-width="0.8" />
<rect x="429.80" y="1051.48" width="6.40" height="3.80" fill="#1f8a4e" stroke="#3a3a3a" stroke-width="0.55" />
<line x1="429.80" y1="1052.94" x2="436.20" y2="1052.94" stroke="#333" stroke-width="0.8" />
<circle cx="433.00" cy="1044.34" r="2.40" fill="#000" stroke="none" stroke-width="1" />
<line x1="440.20" y1="1048.47" x2="440.20" y2="1065.45" stroke="#444" stroke-width="0.8" />
<rect x="437.00" y="1052.71" width="6.40" height="6.14" fill="#f0913a" stroke="#3a3a3a" stroke-width="0.55" />
<line x1="437.00" y1="1055.51" x2="443.40" y2="1055.51" stroke="#333" stroke-width="0.8" />
<circle cx="440.20" cy="1073.60" r="2.40" fill="#000" stroke="none" stroke-width="1" />
<circle cx="440.20" cy="1079.97" r="2.40" fill="#000" stroke="none" stroke-width="1" />
<line x1="436.60" y1="1151.00" x2="436.60" y2="1154.50" stroke="#000" stroke-width="1.2" />
<text transform="translate(442.60,1161.00) rotate(-47)" text-anchor="end" font-size="13.6" font-weight="bold" fill="#111">PTPN18</text>
<line x1="450.85" y1="1010.04" x2="450.85" y2="1036.18" stroke="#444" stroke-width="0.8" />
<rect x="447.65" y="1015.07" width="6.40" height="10.16" fill="#1f8a4e" stroke="#3a3a3a" stroke-width="0.55" />
<line x1="447.65" y1="1018.65" x2="454.05" y2="1018.65" stroke="#333" stroke-width="0.8" />
<line x1="458.05" y1="999.32" x2="458.05" y2="1031.16" stroke="#444" stroke-width="0.8" />
<rect x="454.85" y="1013.28" width="6.40" height="9.94" fill="#f0913a" stroke="#3a3a3a" stroke-width="0.55" />
<line x1="454.85" y1="1018.65" x2="461.25" y2="1018.65" stroke="#333" stroke-width="0.8" />
<circle cx="458.05" cy="988.15" r="2.40" fill="#000" stroke="none" stroke-width="1" />
<circle cx="458.05" cy="996.75" r="2.40" fill="#000" stroke="none" stroke-width="1" />
<line x1="454.45" y1="1151.00" x2="454.45" y2="1154.50" stroke="#000" stroke-width="1.2" />
<text transform="translate(460.45,1161.00) rotate(-47)" text-anchor="end" font-size="13.6" font-weight="bold" fill="#111">LY86</text>
<line x1="468.70" y1="1049.70" x2="468.70" y2="1078.63" stroke="#444" stroke-width="0.8" />
<rect x="465.50" y="1056.29" width="6.40" height="9.38" fill="#1f8a4e" stroke="#3a3a3a" stroke-width="0.55" />
<line x1="465.50" y1="1057.85" x2="471.90" y2="1057.85" stroke="#333" stroke-width="0.8" />
<line x1="475.90" y1="1043.33" x2="475.90" y2="1081.53" stroke="#444" stroke-width="0.8" />
<rect x="472.70" y="1051.48" width="6.40" height="14.19" fill="#f0913a" stroke="#3a3a3a" stroke-width="0.55" />
<line x1="472.70" y1="1057.85" x2="479.10" y2="1057.85" stroke="#333" stroke-width="0.8" />
<line x1="472.30" y1="1151.00" x2="472.30" y2="1154.50" stroke="#000" stroke-width="1.2" />
<text transform="translate(478.30,1161.00) rotate(-47)" text-anchor="end" font-size="13.6" font-weight="bold" fill="#111">PLD4</text>
<line x1="486.55" y1="1000.33" x2="486.55" y2="1002.67" stroke="#444" stroke-width="0.8" />
<rect x="483.35" y="1000.88" width="6.40" height="1.23" fill="#1f8a4e" stroke="#3a3a3a" stroke-width="0.55" />
<line x1="483.35" y1="1001.33" x2="489.75" y2="1001.33" stroke="#333" stroke-width="0.8" />
<circle cx="486.55" cy="1004.35" r="2.40" fill="#000" stroke="none" stroke-width="1" />
<line x1="493.75" y1="992.95" x2="493.75" y2="1009.49" stroke="#444" stroke-width="0.8" />
<rect x="490.55" y="998.76" width="6.40" height="5.92" fill="#f0913a" stroke="#3a3a3a" stroke-width="0.55" />
<line x1="490.55" y1="1001.33" x2="496.95" y2="1001.33" stroke="#333" stroke-width="0.8" />
<circle cx="493.75" cy="983.68" r="2.40" fill="#000" stroke="none" stroke-width="1" />
<circle cx="493.75" cy="987.82" r="2.40" fill="#000" stroke="none" stroke-width="1" />
<line x1="490.15" y1="1151.00" x2="490.15" y2="1154.50" stroke="#000" stroke-width="1.2" />
<text transform="translate(496.15,1161.00) rotate(-47)" text-anchor="end" font-size="13.6" font-weight="bold" fill="#111">STAT1</text>
<line x1="504.40" y1="1042.10" x2="504.40" y2="1056.29" stroke="#444" stroke-width="0.8" />
<rect x="501.20" y="1044.89" width="6.40" height="4.80" fill="#1f8a4e" stroke="#3a3a3a" stroke-width="0.55" />
<line x1="501.20" y1="1046.91" x2="507.60" y2="1046.91" stroke="#333" stroke-width="0.8" />
<line x1="511.60" y1="1036.96" x2="511.60" y2="1055.17" stroke="#444" stroke-width="0.8" />
<rect x="508.40" y="1043.55" width="6.40" height="6.93" fill="#f0913a" stroke="#3a3a3a" stroke-width="0.55" />
<line x1="508.40" y1="1046.68" x2="514.80" y2="1046.68" stroke="#333" stroke-width="0.8" />
<circle cx="511.60" cy="1032.38" r="2.40" fill="#000" stroke="none" stroke-width="1" />
<line x1="508.00" y1="1151.00" x2="508.00" y2="1154.50" stroke="#000" stroke-width="1.2" />
<text transform="translate(514.00,1161.00) rotate(-47)" text-anchor="end" font-size="13.6" font-weight="bold" fill="#111">RTP4</text>
<line x1="522.25" y1="1055.28" x2="522.25" y2="1078.18" stroke="#444" stroke-width="0.8" />
<rect x="519.05" y="1059.08" width="6.40" height="8.38" fill="#1f8a4e" stroke="#3a3a3a" stroke-width="0.55" />
<line x1="519.05" y1="1062.99" x2="525.45" y2="1062.99" stroke="#333" stroke-width="0.8" />
<line x1="529.45" y1="1052.27" x2="529.45" y2="1068.58" stroke="#444" stroke-width="0.8" />
<rect x="526.25" y="1058.08" width="6.40" height="6.59" fill="#f0913a" stroke="#3a3a3a" stroke-width="0.55" />
<line x1="526.25" y1="1061.09" x2="532.65" y2="1061.09" stroke="#333" stroke-width="0.8" />
<circle cx="529.45" cy="1087.56" r="2.40" fill="#000" stroke="none" stroke-width="1" />
<line x1="525.85" y1="1151.00" x2="525.85" y2="1154.50" stroke="#000" stroke-width="1.2" />
<text transform="translate(531.85,1161.00) rotate(-47)" text-anchor="end" font-size="13.6" font-weight="bold" fill="#111">SAMHD1</text>
<line x1="540.10" y1="1044.34" x2="540.10" y2="1062.99" stroke="#444" stroke-width="0.8" />
<rect x="536.90" y="1047.13" width="6.40" height="8.15" fill="#1f8a4e" stroke="#3a3a3a" stroke-width="0.55" />
<line x1="536.90" y1="1051.48" x2="543.30" y2="1051.48" stroke="#333" stroke-width="0.8" />
<line x1="547.30" y1="1024.23" x2="547.30" y2="1060.87" stroke="#444" stroke-width="0.8" />
<rect x="544.10" y="1039.53" width="6.40" height="10.61" fill="#f0913a" stroke="#3a3a3a" stroke-width="0.55" />
<line x1="544.10" y1="1045.34" x2="550.50" y2="1045.34" stroke="#333" stroke-width="0.8" />
<text transform="translate(543.70,935.50) scale(1.028,1)" text-anchor="middle" font-size="11" fill="#333">*</text>
<line x1="543.70" y1="1151.00" x2="543.70" y2="1154.50" stroke="#000" stroke-width="1.2" />
<text transform="translate(549.70,1161.00) rotate(-47)" text-anchor="end" font-size="13.6" font-weight="bold" fill="#111">IRF7</text>
<line x1="557.95" y1="1005.69" x2="557.95" y2="1029.82" stroke="#444" stroke-width="0.8" />
<rect x="554.75" y="1016.30" width="6.40" height="8.49" fill="#1f8a4e" stroke="#3a3a3a" stroke-width="0.55" />
<line x1="554.75" y1="1020.54" x2="561.15" y2="1020.54" stroke="#333" stroke-width="0.8" />
<line x1="565.15" y1="982.23" x2="565.15" y2="1025.24" stroke="#444" stroke-width="0.8" />
<rect x="561.95" y="994.52" width="6.40" height="22.12" fill="#f0913a" stroke="#3a3a3a" stroke-width="0.55" />
<line x1="561.95" y1="1007.48" x2="568.35" y2="1007.48" stroke="#333" stroke-width="0.8" />
<text transform="translate(561.55,935.50) scale(1.144,1)" text-anchor="middle" font-size="11" fill="#333">**</text>
<line x1="561.55" y1="1151.00" x2="561.55" y2="1154.50" stroke="#000" stroke-width="1.2" />
<text transform="translate(567.55,1161.00) rotate(-47)" text-anchor="end" font-size="13.6" font-weight="bold" fill="#111">GBP2</text>
<line x1="575.80" y1="1021.44" x2="575.80" y2="1026.13" stroke="#444" stroke-width="0.8" />
<rect x="572.60" y="1022.22" width="6.40" height="2.57" fill="#1f8a4e" stroke="#3a3a3a" stroke-width="0.55" />
<line x1="572.60" y1="1023.45" x2="579.00" y2="1023.45" stroke="#333" stroke-width="0.8" />
<line x1="583.00" y1="1023.45" x2="583.00" y2="1029.48" stroke="#444" stroke-width="0.8" />
<rect x="579.80" y="1025.24" width="6.40" height="3.13" fill="#f0913a" stroke="#3a3a3a" stroke-width="0.55" />
<line x1="579.80" y1="1026.80" x2="586.20" y2="1026.80" stroke="#333" stroke-width="0.8" />
<circle cx="583.00" cy="1018.31" r="2.40" fill="#000" stroke="none" stroke-width="1" />
<circle cx="583.00" cy="1032.38" r="2.40" fill="#000" stroke="none" stroke-width="1" />
<text transform="translate(579.40,935.50) scale(1.144,1)" text-anchor="middle" font-size="11" fill="#333">**</text>
<line x1="579.40" y1="1151.00" x2="579.40" y2="1154.50" stroke="#000" stroke-width="1.2" />
<text transform="translate(585.40,1161.00) rotate(-47)" text-anchor="end" font-size="13.6" font-weight="bold" fill="#111">ZBP1</text>
<line x1="593.65" y1="1004.35" x2="593.65" y2="1024.79" stroke="#444" stroke-width="0.8" />
<rect x="590.45" y="1010.04" width="6.40" height="10.61" fill="#1f8a4e" stroke="#3a3a3a" stroke-width="0.55" />
<line x1="590.45" y1="1015.07" x2="596.85" y2="1015.07" stroke="#333" stroke-width="0.8" />
<line x1="600.85" y1="996.75" x2="600.85" y2="1023.45" stroke="#444" stroke-width="0.8" />
<rect x="597.65" y="1006.92" width="6.40" height="8.38" fill="#f0913a" stroke="#3a3a3a" stroke-width="0.55" />
<line x1="597.65" y1="1011.05" x2="604.05" y2="1011.05" stroke="#333" stroke-width="0.8" />
<circle cx="600.85" cy="968.72" r="2.40" fill="#000" stroke="none" stroke-width="1" />
<circle cx="600.85" cy="974.41" r="2.40" fill="#000" stroke="none" stroke-width="1" />
<circle cx="600.85" cy="976.98" r="2.40" fill="#000" stroke="none" stroke-width="1" />
<circle cx="600.85" cy="989.27" r="2.40" fill="#000" stroke="none" stroke-width="1" />
<circle cx="600.85" cy="993.74" r="2.40" fill="#000" stroke="none" stroke-width="1" />
<line x1="597.25" y1="1151.00" x2="597.25" y2="1154.50" stroke="#000" stroke-width="1.2" />
<text transform="translate(603.25,1161.00) rotate(-47)" text-anchor="end" font-size="13.6" font-weight="bold" fill="#111">ISG15</text>
<line x1="611.50" y1="955.31" x2="611.50" y2="957.55" stroke="#444" stroke-width="0.8" />
<rect x="608.30" y="955.76" width="6.40" height="1.34" fill="#1f8a4e" stroke="#3a3a3a" stroke-width="0.55" />
<line x1="608.30" y1="956.32" x2="614.70" y2="956.32" stroke="#333" stroke-width="0.8" />
<circle cx="611.50" cy="958.55" r="2.40" fill="#000" stroke="none" stroke-width="1" />
<line x1="618.70" y1="949.17" x2="618.70" y2="961.34" stroke="#444" stroke-width="0.8" />
<rect x="615.50" y="953.75" width="6.40" height="2.79" fill="#f0913a" stroke="#3a3a3a" stroke-width="0.55" />
<line x1="615.50" y1="955.31" x2="621.90" y2="955.31" stroke="#333" stroke-width="0.8" />
<line x1="615.10" y1="1151.00" x2="615.10" y2="1154.50" stroke="#000" stroke-width="1.2" />
<text transform="translate(621.10,1161.00) rotate(-47)" text-anchor="end" font-size="13.6" font-weight="bold" fill="#111">ENO1</text>
<line x1="629.35" y1="1017.86" x2="629.35" y2="1034.17" stroke="#444" stroke-width="0.8" />
<rect x="626.15" y="1022.78" width="6.40" height="4.80" fill="#1f8a4e" stroke="#3a3a3a" stroke-width="0.55" />
<line x1="626.15" y1="1025.01" x2="632.55" y2="1025.01" stroke="#333" stroke-width="0.8" />
<line x1="636.55" y1="995.19" x2="636.55" y2="1039.53" stroke="#444" stroke-width="0.8" />
<rect x="633.35" y="1010.71" width="6.40" height="16.87" fill="#f0913a" stroke="#3a3a3a" stroke-width="0.55" />
<line x1="633.35" y1="1016.63" x2="639.75" y2="1016.63" stroke="#333" stroke-width="0.8" />
<line x1="632.95" y1="1151.00" x2="632.95" y2="1154.50" stroke="#000" stroke-width="1.2" />
<text transform="translate(638.95,1161.00) rotate(-47)" text-anchor="end" font-size="13.6" font-weight="bold" fill="#111">CFB</text>
<line x1="647.20" y1="974.41" x2="647.20" y2="981.45" stroke="#444" stroke-width="0.8" />
<rect x="644.00" y="975.86" width="6.40" height="3.35" fill="#1f8a4e" stroke="#3a3a3a" stroke-width="0.55" />
<line x1="644.00" y1="977.43" x2="650.40" y2="977.43" stroke="#333" stroke-width="0.8" />
<line x1="654.40" y1="975.08" x2="654.40" y2="1003.90" stroke="#444" stroke-width="0.8" />
<rect x="651.20" y="981.78" width="6.40" height="13.96" fill="#f0913a" stroke="#3a3a3a" stroke-width="0.55" />
<line x1="651.20" y1="987.82" x2="657.60" y2="987.82" stroke="#333" stroke-width="0.8" />
<text transform="translate(650.80,935.50) scale(1.203,1)" text-anchor="middle" font-size="11" fill="#333">****</text>
<line x1="650.80" y1="1151.00" x2="650.80" y2="1154.50" stroke="#000" stroke-width="1.2" />
<text transform="translate(656.80,1161.00) rotate(-47)" text-anchor="end" font-size="13.6" font-weight="bold" fill="#111">PGAM1</text>
<line x1="665.05" y1="1039.53" x2="665.05" y2="1050.14" stroke="#444" stroke-width="0.8" />
<rect x="661.85" y="1045.12" width="6.40" height="3.35" fill="#1f8a4e" stroke="#3a3a3a" stroke-width="0.55" />
<line x1="661.85" y1="1046.68" x2="668.25" y2="1046.68" stroke="#333" stroke-width="0.8" />
<circle cx="665.05" cy="1056.85" r="2.40" fill="#000" stroke="none" stroke-width="1" />
<line x1="672.25" y1="1038.75" x2="672.25" y2="1052.71" stroke="#444" stroke-width="0.8" />
<rect x="669.05" y="1044.11" width="6.40" height="4.80" fill="#f0913a" stroke="#3a3a3a" stroke-width="0.55" />
<line x1="669.05" y1="1046.23" x2="675.45" y2="1046.23" stroke="#333" stroke-width="0.8" />
<circle cx="672.25" cy="1023.89" r="2.40" fill="#000" stroke="none" stroke-width="1" />
<line x1="668.65" y1="1151.00" x2="668.65" y2="1154.50" stroke="#000" stroke-width="1.2" />
<text transform="translate(674.65,1161.00) rotate(-47)" text-anchor="end" font-size="13.6" font-weight="bold" fill="#111">CAPG</text>
<line x1="682.90" y1="1050.14" x2="682.90" y2="1072.37" stroke="#444" stroke-width="0.8" />
<rect x="679.70" y="1053.72" width="6.40" height="13.29" fill="#1f8a4e" stroke="#3a3a3a" stroke-width="0.55" />
<line x1="679.70" y1="1059.86" x2="686.10" y2="1059.86" stroke="#333" stroke-width="0.8" />
<line x1="690.10" y1="1045.56" x2="690.10" y2="1070.59" stroke="#444" stroke-width="0.8" />
<rect x="686.90" y="1055.28" width="6.40" height="7.37" fill="#f0913a" stroke="#3a3a3a" stroke-width="0.55" />
<line x1="686.90" y1="1059.08" x2="693.30" y2="1059.08" stroke="#333" stroke-width="0.8" />
<circle cx="690.10" cy="1040.99" r="2.40" fill="#000" stroke="none" stroke-width="1" />
<circle cx="690.10" cy="1078.18" r="2.40" fill="#000" stroke="none" stroke-width="1" />
<line x1="686.50" y1="1151.00" x2="686.50" y2="1154.50" stroke="#000" stroke-width="1.2" />
<text transform="translate(692.50,1161.00) rotate(-47)" text-anchor="end" font-size="13.6" font-weight="bold" fill="#111">F10</text>
<line x1="700.75" y1="963.13" x2="700.75" y2="966.26" stroke="#444" stroke-width="0.8" />
<rect x="697.55" y="963.91" width="6.40" height="1.56" fill="#1f8a4e" stroke="#3a3a3a" stroke-width="0.55" />
<line x1="697.55" y1="964.69" x2="703.95" y2="964.69" stroke="#333" stroke-width="0.8" />
<circle cx="700.75" cy="970.84" r="2.40" fill="#000" stroke="none" stroke-width="1" />
<line x1="707.95" y1="963.58" x2="707.95" y2="973.85" stroke="#444" stroke-width="0.8" />
<rect x="704.75" y="966.70" width="6.40" height="2.79" fill="#f0913a" stroke="#3a3a3a" stroke-width="0.55" />
<line x1="704.75" y1="968.04" x2="711.15" y2="968.04" stroke="#333" stroke-width="0.8" />
<circle cx="707.95" cy="961.90" r="2.40" fill="#000" stroke="none" stroke-width="1" />
<circle cx="707.95" cy="977.65" r="2.40" fill="#000" stroke="none" stroke-width="1" />
<circle cx="707.95" cy="979.22" r="2.40" fill="#000" stroke="none" stroke-width="1" />
<text transform="translate(704.35,935.50) scale(1.144,1)" text-anchor="middle" font-size="11" fill="#333">**</text>
<line x1="704.35" y1="1151.00" x2="704.35" y2="1154.50" stroke="#000" stroke-width="1.2" />
<text transform="translate(710.35,1161.00) rotate(-47)" text-anchor="end" font-size="13.6" font-weight="bold" fill="#111">LDHA</text>
<line x1="718.60" y1="975.08" x2="718.60" y2="983.57" stroke="#444" stroke-width="0.8" />
<rect x="715.40" y="977.43" width="6.40" height="5.14" fill="#1f8a4e" stroke="#3a3a3a" stroke-width="0.55" />
<line x1="715.40" y1="979.66" x2="721.80" y2="979.66" stroke="#333" stroke-width="0.8" />
<line x1="725.80" y1="967.49" x2="725.80" y2="984.80" stroke="#444" stroke-width="0.8" />
<rect x="722.60" y="974.75" width="6.40" height="6.70" fill="#f0913a" stroke="#3a3a3a" stroke-width="0.55" />
<line x1="722.60" y1="978.10" x2="729.00" y2="978.10" stroke="#333" stroke-width="0.8" />
<line x1="722.20" y1="1151.00" x2="722.20" y2="1154.50" stroke="#000" stroke-width="1.2" />
<text transform="translate(728.20,1161.00) rotate(-47)" text-anchor="end" font-size="13.6" font-weight="bold" fill="#111">CSTB</text>
<line x1="736.45" y1="956.54" x2="736.45" y2="959.89" stroke="#444" stroke-width="0.8" />
<rect x="733.25" y="957.32" width="6.40" height="1.56" fill="#1f8a4e" stroke="#3a3a3a" stroke-width="0.55" />
<line x1="733.25" y1="958.10" x2="739.65" y2="958.10" stroke="#333" stroke-width="0.8" />
<circle cx="736.45" cy="952.74" r="2.40" fill="#000" stroke="none" stroke-width="1" />
<line x1="743.65" y1="955.31" x2="743.65" y2="963.58" stroke="#444" stroke-width="0.8" />
<rect x="740.45" y="958.10" width="6.40" height="2.57" fill="#f0913a" stroke="#3a3a3a" stroke-width="0.55" />
<line x1="740.45" y1="959.33" x2="746.85" y2="959.33" stroke="#333" stroke-width="0.8" />
<circle cx="743.65" cy="966.93" r="2.40" fill="#000" stroke="none" stroke-width="1" />
<line x1="740.05" y1="1151.00" x2="740.05" y2="1154.50" stroke="#000" stroke-width="1.2" />
<text transform="translate(746.05,1161.00) rotate(-47)" text-anchor="end" font-size="13.6" font-weight="bold" fill="#111">TPI1</text>
<line x1="754.30" y1="966.70" x2="754.30" y2="968.72" stroke="#444" stroke-width="0.8" />
<rect x="751.10" y="967.26" width="6.40" height="1.01" fill="#1f8a4e" stroke="#3a3a3a" stroke-width="0.55" />
<line x1="751.10" y1="967.71" x2="757.50" y2="967.71" stroke="#333" stroke-width="0.8" />
<line x1="761.50" y1="964.14" x2="761.50" y2="975.08" stroke="#444" stroke-width="0.8" />
<rect x="758.30" y="967.71" width="6.40" height="2.79" fill="#f0913a" stroke="#3a3a3a" stroke-width="0.55" />
<line x1="758.30" y1="968.83" x2="764.70" y2="968.83" stroke="#333" stroke-width="0.8" />
<text transform="translate(757.90,935.50) scale(1.028,1)" text-anchor="middle" font-size="11" fill="#333">*</text>
<line x1="757.90" y1="1151.00" x2="757.90" y2="1154.50" stroke="#000" stroke-width="1.2" />
<text transform="translate(763.90,1161.00) rotate(-47)" text-anchor="end" font-size="13.6" font-weight="bold" fill="#111">MIF</text>
<line x1="772.15" y1="1017.19" x2="772.15" y2="1023.45" stroke="#444" stroke-width="0.8" />
<rect x="768.95" y="1018.42" width="6.40" height="2.01" fill="#1f8a4e" stroke="#3a3a3a" stroke-width="0.55" />
<line x1="768.95" y1="1019.43" x2="775.35" y2="1019.43" stroke="#333" stroke-width="0.8" />
<line x1="779.35" y1="1010.27" x2="779.35" y2="1029.48" stroke="#444" stroke-width="0.8" />
<rect x="776.15" y="1015.07" width="6.40" height="6.37" fill="#f0913a" stroke="#3a3a3a" stroke-width="0.55" />
<line x1="776.15" y1="1017.64" x2="782.55" y2="1017.64" stroke="#333" stroke-width="0.8" />
<circle cx="779.35" cy="990.94" r="2.40" fill="#000" stroke="none" stroke-width="1" />
<circle cx="779.35" cy="1004.91" r="2.40" fill="#000" stroke="none" stroke-width="1" />
<line x1="775.75" y1="1151.00" x2="775.75" y2="1154.50" stroke="#000" stroke-width="1.2" />
<text transform="translate(781.75,1161.00) rotate(-47)" text-anchor="end" font-size="13.6" font-weight="bold" fill="#111">GRN</text>
<line x1="790.00" y1="1057.40" x2="790.00" y2="1090.13" stroke="#444" stroke-width="0.8" />
<rect x="786.80" y="1064.44" width="6.40" height="13.07" fill="#1f8a4e" stroke="#3a3a3a" stroke-width="0.55" />
<line x1="786.80" y1="1071.03" x2="793.20" y2="1071.03" stroke="#333" stroke-width="0.8" />
<circle cx="790.00" cy="1107.67" r="2.40" fill="#000" stroke="none" stroke-width="1" />
<line x1="797.20" y1="1053.27" x2="797.20" y2="1100.97" stroke="#444" stroke-width="0.8" />
<rect x="794.00" y="1070.03" width="6.40" height="14.52" fill="#f0913a" stroke="#3a3a3a" stroke-width="0.55" />
<line x1="794.00" y1="1074.83" x2="800.40" y2="1074.83" stroke="#333" stroke-width="0.8" />
<circle cx="797.20" cy="1142.30" r="2.40" fill="#000" stroke="none" stroke-width="1" />
<line x1="793.60" y1="1151.00" x2="793.60" y2="1154.50" stroke="#000" stroke-width="1.2" />
<text transform="translate(799.60,1161.00) rotate(-47)" text-anchor="end" font-size="13.6" font-weight="bold" fill="#111">ACP5</text>
<line x1="807.85" y1="1035.07" x2="807.85" y2="1044.56" stroke="#444" stroke-width="0.8" />
<rect x="804.65" y="1038.19" width="6.40" height="4.36" fill="#1f8a4e" stroke="#3a3a3a" stroke-width="0.55" />
<line x1="804.65" y1="1039.98" x2="811.05" y2="1039.98" stroke="#333" stroke-width="0.8" />
<line x1="815.05" y1="1035.40" x2="815.05" y2="1050.14" stroke="#444" stroke-width="0.8" />
<rect x="811.85" y="1038.53" width="6.40" height="6.37" fill="#f0913a" stroke="#3a3a3a" stroke-width="0.55" />
<line x1="811.85" y1="1041.54" x2="818.25" y2="1041.54" stroke="#333" stroke-width="0.8" />
<circle cx="815.05" cy="1054.50" r="2.40" fill="#000" stroke="none" stroke-width="1" />
<line x1="811.45" y1="1151.00" x2="811.45" y2="1154.50" stroke="#000" stroke-width="1.2" />
<text transform="translate(817.45,1161.00) rotate(-47)" text-anchor="end" font-size="13.6" font-weight="bold" fill="#111">HEXA</text>
<line x1="825.70" y1="1023.45" x2="825.70" y2="1045.56" stroke="#444" stroke-width="0.8" />
<rect x="822.50" y="1028.59" width="6.40" height="11.39" fill="#1f8a4e" stroke="#3a3a3a" stroke-width="0.55" />
<line x1="822.50" y1="1032.38" x2="828.90" y2="1032.38" stroke="#333" stroke-width="0.8" />
<line x1="832.90" y1="1020.43" x2="832.90" y2="1053.27" stroke="#444" stroke-width="0.8" />
<rect x="829.70" y="1026.80" width="6.40" height="13.18" fill="#f0913a" stroke="#3a3a3a" stroke-width="0.55" />
<line x1="829.70" y1="1036.18" x2="836.10" y2="1036.18" stroke="#333" stroke-width="0.8" />
<line x1="829.30" y1="1151.00" x2="829.30" y2="1154.50" stroke="#000" stroke-width="1.2" />
<text transform="translate(835.30,1161.00) rotate(-47)" text-anchor="end" font-size="13.6" font-weight="bold" fill="#111">LGALS3</text>
<line x1="843.55" y1="1044.34" x2="843.55" y2="1074.83" stroke="#444" stroke-width="0.8" />
<rect x="840.35" y="1049.70" width="6.40" height="12.73" fill="#1f8a4e" stroke="#3a3a3a" stroke-width="0.55" />
<line x1="840.35" y1="1054.05" x2="846.75" y2="1054.05" stroke="#333" stroke-width="0.8" />
<line x1="850.75" y1="1040.65" x2="850.75" y2="1061.65" stroke="#444" stroke-width="0.8" />
<rect x="847.55" y="1046.35" width="6.40" height="8.94" fill="#f0913a" stroke="#3a3a3a" stroke-width="0.55" />
<line x1="847.55" y1="1050.70" x2="853.95" y2="1050.70" stroke="#333" stroke-width="0.8" />
<circle cx="850.75" cy="1028.59" r="2.40" fill="#000" stroke="none" stroke-width="1" />
<line x1="847.15" y1="1151.00" x2="847.15" y2="1154.50" stroke="#000" stroke-width="1.2" />
<text transform="translate(853.15,1161.00) rotate(-47)" text-anchor="end" font-size="13.6" font-weight="bold" fill="#111">CTSS</text>
<line x1="861.40" y1="1014.07" x2="861.40" y2="1032.38" stroke="#444" stroke-width="0.8" />
<rect x="858.20" y="1018.42" width="6.40" height="9.38" fill="#1f8a4e" stroke="#3a3a3a" stroke-width="0.55" />
<line x1="858.20" y1="1023.45" x2="864.60" y2="1023.45" stroke="#333" stroke-width="0.8" />
<line x1="868.60" y1="1010.71" x2="868.60" y2="1022.22" stroke="#444" stroke-width="0.8" />
<rect x="865.40" y="1014.62" width="6.40" height="4.02" fill="#f0913a" stroke="#3a3a3a" stroke-width="0.55" />
<line x1="865.40" y1="1016.63" x2="871.80" y2="1016.63" stroke="#333" stroke-width="0.8" />
<circle cx="868.60" cy="985.58" r="2.40" fill="#000" stroke="none" stroke-width="1" />
<circle cx="868.60" cy="1003.90" r="2.40" fill="#000" stroke="none" stroke-width="1" />
<circle cx="868.60" cy="1007.70" r="2.40" fill="#000" stroke="none" stroke-width="1" />
<circle cx="868.60" cy="1025.24" r="2.40" fill="#000" stroke="none" stroke-width="1" />
<circle cx="868.60" cy="1027.25" r="2.40" fill="#000" stroke="none" stroke-width="1" />
<circle cx="868.60" cy="1030.37" r="2.40" fill="#000" stroke="none" stroke-width="1" />
<circle cx="868.60" cy="1033.61" r="2.40" fill="#000" stroke="none" stroke-width="1" />
<text transform="translate(865.00,935.50) scale(1.144,1)" text-anchor="middle" font-size="11" fill="#333">**</text>
<line x1="865.00" y1="1151.00" x2="865.00" y2="1154.50" stroke="#000" stroke-width="1.2" />
<text transform="translate(871.00,1161.00) rotate(-47)" text-anchor="end" font-size="13.6" font-weight="bold" fill="#111">GPNMB</text>
<line x1="879.25" y1="961.12" x2="879.25" y2="964.92" stroke="#444" stroke-width="0.8" />
<rect x="876.05" y="962.46" width="6.40" height="1.45" fill="#1f8a4e" stroke="#3a3a3a" stroke-width="0.55" />
<line x1="876.05" y1="963.13" x2="882.45" y2="963.13" stroke="#333" stroke-width="0.8" />
<line x1="886.45" y1="958.55" x2="886.45" y2="965.81" stroke="#444" stroke-width="0.8" />
<rect x="883.25" y="960.67" width="6.40" height="2.46" fill="#f0913a" stroke="#3a3a3a" stroke-width="0.55" />
<line x1="883.25" y1="961.90" x2="889.65" y2="961.90" stroke="#333" stroke-width="0.8" />
<circle cx="886.45" cy="955.31" r="2.40" fill="#000" stroke="none" stroke-width="1" />
<circle cx="886.45" cy="967.49" r="2.40" fill="#000" stroke="none" stroke-width="1" />
<circle cx="886.45" cy="968.72" r="2.40" fill="#000" stroke="none" stroke-width="1" />
<line x1="882.85" y1="1151.00" x2="882.85" y2="1154.50" stroke="#000" stroke-width="1.2" />
<text transform="translate(888.85,1161.00) rotate(-47)" text-anchor="end" font-size="13.6" font-weight="bold" fill="#111">CTSB</text>
<line x1="897.10" y1="1011.61" x2="897.10" y2="1023.45" stroke="#444" stroke-width="0.8" />
<rect x="893.90" y="1014.07" width="6.40" height="7.37" fill="#1f8a4e" stroke="#3a3a3a" stroke-width="0.55" />
<line x1="893.90" y1="1017.64" x2="900.30" y2="1017.64" stroke="#333" stroke-width="0.8" />
<line x1="904.30" y1="1002.34" x2="904.30" y2="1021.66" stroke="#444" stroke-width="0.8" />
<rect x="901.10" y="1011.27" width="6.40" height="6.37" fill="#f0913a" stroke="#3a3a3a" stroke-width="0.55" />
<line x1="901.10" y1="1014.62" x2="907.50" y2="1014.62" stroke="#333" stroke-width="0.8" />
<circle cx="904.30" cy="992.40" r="2.40" fill="#000" stroke="none" stroke-width="1" />
<line x1="900.70" y1="1151.00" x2="900.70" y2="1154.50" stroke="#000" stroke-width="1.2" />
<text transform="translate(906.70,1161.00) rotate(-47)" text-anchor="end" font-size="13.6" font-weight="bold" fill="#111">CD68</text>
<line x1="914.95" y1="999.32" x2="914.95" y2="1006.92" stroke="#444" stroke-width="0.8" />
<rect x="911.75" y="1000.88" width="6.40" height="5.14" fill="#1f8a4e" stroke="#3a3a3a" stroke-width="0.55" />
<line x1="911.75" y1="1003.12" x2="918.15" y2="1003.12" stroke="#333" stroke-width="0.8" />
<line x1="922.15" y1="1001.33" x2="922.15" y2="1010.04" stroke="#444" stroke-width="0.8" />
<rect x="918.95" y="1004.35" width="6.40" height="3.35" fill="#f0913a" stroke="#3a3a3a" stroke-width="0.55" />
<line x1="918.95" y1="1006.13" x2="925.35" y2="1006.13" stroke="#333" stroke-width="0.8" />
<circle cx="922.15" cy="988.60" r="2.40" fill="#000" stroke="none" stroke-width="1" />
<circle cx="922.15" cy="997.53" r="2.40" fill="#000" stroke="none" stroke-width="1" />
<circle cx="922.15" cy="1012.50" r="2.40" fill="#000" stroke="none" stroke-width="1" />
<text transform="translate(918.55,935.50) scale(1.028,1)" text-anchor="middle" font-size="11" fill="#333">*</text>
<line x1="918.55" y1="1151.00" x2="918.55" y2="1154.50" stroke="#000" stroke-width="1.2" />
<text transform="translate(924.55,1161.00) rotate(-47)" text-anchor="end" font-size="13.6" font-weight="bold" fill="#111">CTSD</text>
<line x1="932.80" y1="949.95" x2="932.80" y2="952.74" stroke="#444" stroke-width="0.8" />
<rect x="929.60" y="950.95" width="6.40" height="1.23" fill="#1f8a4e" stroke="#3a3a3a" stroke-width="0.55" />
<line x1="929.60" y1="951.51" x2="936.00" y2="951.51" stroke="#333" stroke-width="0.8" />
<line x1="940.00" y1="948.94" x2="940.00" y2="956.88" stroke="#444" stroke-width="0.8" />
<rect x="936.80" y="951.51" width="6.40" height="2.23" fill="#f0913a" stroke="#3a3a3a" stroke-width="0.55" />
<line x1="936.80" y1="952.52" x2="943.20" y2="952.52" stroke="#333" stroke-width="0.8" />
<line x1="936.40" y1="1151.00" x2="936.40" y2="1154.50" stroke="#000" stroke-width="1.2" />
<text transform="translate(942.40,1161.00) rotate(-47)" text-anchor="end" font-size="13.6" font-weight="bold" fill="#111">PSAP</text>
<line x1="950.65" y1="1003.90" x2="950.65" y2="1016.08" stroke="#444" stroke-width="0.8" />
<rect x="947.45" y="1007.92" width="6.40" height="5.14" fill="#1f8a4e" stroke="#3a3a3a" stroke-width="0.55" />
<line x1="947.45" y1="1010.04" x2="953.85" y2="1010.04" stroke="#333" stroke-width="0.8" />
<line x1="957.85" y1="999.32" x2="957.85" y2="1014.62" stroke="#444" stroke-width="0.8" />
<rect x="954.65" y="1004.68" width="6.40" height="6.37" fill="#f0913a" stroke="#3a3a3a" stroke-width="0.55" />
<line x1="954.65" y1="1007.92" x2="961.05" y2="1007.92" stroke="#333" stroke-width="0.8" />
<line x1="954.25" y1="1151.00" x2="954.25" y2="1154.50" stroke="#000" stroke-width="1.2" />
<text transform="translate(960.25,1161.00) rotate(-47)" text-anchor="end" font-size="13.6" font-weight="bold" fill="#111">MRPL52</text>
<line x1="968.50" y1="970.50" x2="968.50" y2="972.62" stroke="#444" stroke-width="0.8" />
<rect x="965.30" y="971.06" width="6.40" height="1.01" fill="#1f8a4e" stroke="#3a3a3a" stroke-width="0.55" />
<line x1="965.30" y1="971.62" x2="971.70" y2="971.62" stroke="#333" stroke-width="0.8" />
<circle cx="968.50" cy="969.05" r="2.40" fill="#000" stroke="none" stroke-width="1" />
<circle cx="968.50" cy="975.08" r="2.40" fill="#000" stroke="none" stroke-width="1" />
<line x1="975.70" y1="969.50" x2="975.70" y2="977.65" stroke="#444" stroke-width="0.8" />
<rect x="972.50" y="971.62" width="6.40" height="3.13" fill="#f0913a" stroke="#3a3a3a" stroke-width="0.55" />
<line x1="972.50" y1="973.07" x2="978.90" y2="973.07" stroke="#333" stroke-width="0.8" />
<circle cx="975.70" cy="966.26" r="2.40" fill="#000" stroke="none" stroke-width="1" />
<line x1="972.10" y1="1151.00" x2="972.10" y2="1154.50" stroke="#000" stroke-width="1.2" />
<text transform="translate(978.10,1161.00) rotate(-47)" text-anchor="end" font-size="13.6" font-weight="bold" fill="#111">PCBP1</text>
<line x1="986.35" y1="1069.80" x2="986.35" y2="1087.56" stroke="#444" stroke-width="0.8" />
<rect x="983.15" y="1075.61" width="6.40" height="7.71" fill="#1f8a4e" stroke="#3a3a3a" stroke-width="0.55" />
<line x1="983.15" y1="1080.19" x2="989.55" y2="1080.19" stroke="#333" stroke-width="0.8" />
<circle cx="986.35" cy="1102.09" r="2.40" fill="#000" stroke="none" stroke-width="1" />
<line x1="993.55" y1="1058.63" x2="993.55" y2="1099.85" stroke="#444" stroke-width="0.8" />
<rect x="990.35" y="1071.59" width="6.40" height="12.96" fill="#f0913a" stroke="#3a3a3a" stroke-width="0.55" />
<line x1="990.35" y1="1081.20" x2="996.75" y2="1081.20" stroke="#333" stroke-width="0.8" />
<line x1="989.95" y1="1151.00" x2="989.95" y2="1154.50" stroke="#000" stroke-width="1.2" />
<text transform="translate(995.95,1161.00) rotate(-47)" text-anchor="end" font-size="13.6" font-weight="bold" fill="#111">SPINT1</text>
<line x1="1004.20" y1="958.10" x2="1004.20" y2="963.58" stroke="#444" stroke-width="0.8" />
<rect x="1001.00" y="960.34" width="6.40" height="2.35" fill="#1f8a4e" stroke="#3a3a3a" stroke-width="0.55" />
<line x1="1001.00" y1="961.45" x2="1007.40" y2="961.45" stroke="#333" stroke-width="0.8" />
<circle cx="1004.20" cy="967.26" r="2.40" fill="#000" stroke="none" stroke-width="1" />
<line x1="1011.40" y1="959.33" x2="1011.40" y2="974.75" stroke="#444" stroke-width="0.8" />
<rect x="1008.20" y="962.91" width="6.40" height="5.59" fill="#f0913a" stroke="#3a3a3a" stroke-width="0.55" />
<line x1="1008.20" y1="965.81" x2="1014.60" y2="965.81" stroke="#333" stroke-width="0.8" />
<text transform="translate(1007.80,935.50) scale(1.144,1)" text-anchor="middle" font-size="11" fill="#333">**</text>
<line x1="1007.80" y1="1151.00" x2="1007.80" y2="1154.50" stroke="#000" stroke-width="1.2" />
<text transform="translate(1013.80,1161.00) rotate(-47)" text-anchor="end" font-size="13.6" font-weight="bold" fill="#111">PPA1</text>
<line x1="1022.05" y1="1002.34" x2="1022.05" y2="1011.61" stroke="#444" stroke-width="0.8" />
<rect x="1018.85" y="1005.46" width="6.40" height="4.02" fill="#1f8a4e" stroke="#3a3a3a" stroke-width="0.55" />
<line x1="1018.85" y1="1007.48" x2="1025.25" y2="1007.48" stroke="#333" stroke-width="0.8" />
<circle cx="1022.05" cy="1022.22" r="2.40" fill="#000" stroke="none" stroke-width="1" />
<line x1="1029.25" y1="995.75" x2="1029.25" y2="1008.26" stroke="#444" stroke-width="0.8" />
<rect x="1026.05" y="1000.10" width="6.40" height="3.80" fill="#f0913a" stroke="#3a3a3a" stroke-width="0.55" />
<line x1="1026.05" y1="1001.89" x2="1032.45" y2="1001.89" stroke="#333" stroke-width="0.8" />
<circle cx="1029.25" cy="1012.50" r="2.40" fill="#000" stroke="none" stroke-width="1" />
<text transform="translate(1025.65,935.50) scale(1.183,1)" text-anchor="middle" font-size="11" fill="#333">***</text>
<line x1="1025.65" y1="1151.00" x2="1025.65" y2="1154.50" stroke="#000" stroke-width="1.2" />
<text transform="translate(1031.65,1161.00) rotate(-47)" text-anchor="end" font-size="13.6" font-weight="bold" fill="#111">YWHAE</text>
<line x1="1039.90" y1="1008.93" x2="1039.90" y2="1026.13" stroke="#444" stroke-width="0.8" />
<rect x="1036.70" y="1015.07" width="6.40" height="5.81" fill="#1f8a4e" stroke="#3a3a3a" stroke-width="0.55" />
<line x1="1036.70" y1="1018.42" x2="1043.10" y2="1018.42" stroke="#333" stroke-width="0.8" />
<line x1="1047.10" y1="989.38" x2="1047.10" y2="1028.59" stroke="#444" stroke-width="0.8" />
<rect x="1043.90" y="1006.02" width="6.40" height="12.40" fill="#f0913a" stroke="#3a3a3a" stroke-width="0.55" />
<line x1="1043.90" y1="1011.61" x2="1050.30" y2="1011.61" stroke="#333" stroke-width="0.8" />
<text transform="translate(1043.50,935.50) scale(1.144,1)" text-anchor="middle" font-size="11" fill="#333">**</text>
<line x1="1043.50" y1="1151.00" x2="1043.50" y2="1154.50" stroke="#000" stroke-width="1.2" />
<text transform="translate(1049.50,1161.00) rotate(-47)" text-anchor="end" font-size="13.6" font-weight="bold" fill="#111">TSPO</text>
<line x1="69.00" y1="928.50" x2="69.00" y2="1152.40" stroke="#000" stroke-width="1.5" />
<line x1="68.30" y1="1151.60" x2="1047.50" y2="1151.60" stroke="#000" stroke-width="1.6" />
<line x1="65.50" y1="928.95" x2="69.00" y2="928.95" stroke="#000" stroke-width="1.2" />
<text transform="translate(63.00,933.15)" text-anchor="end" font-size="12" fill="#222">15</text>
<line x1="65.50" y1="984.80" x2="69.00" y2="984.80" stroke="#000" stroke-width="1.2" />
<text transform="translate(63.00,989.00)" text-anchor="end" font-size="12" fill="#222">10</text>
<line x1="65.50" y1="1040.65" x2="69.00" y2="1040.65" stroke="#000" stroke-width="1.2" />
<text transform="translate(63.00,1044.85)" text-anchor="end" font-size="12" fill="#222">5</text>
<line x1="65.50" y1="1096.50" x2="69.00" y2="1096.50" stroke="#000" stroke-width="1.2" />
<text transform="translate(63.00,1100.70)" text-anchor="end" font-size="12" fill="#222">0</text>
<text transform="translate(41.50,1037.50) rotate(-90)" text-anchor="middle" font-size="12.3" font-weight="bold" fill="#000">expression</text>
<text transform="translate(562.50,1218.00)" text-anchor="middle" font-size="11.5" font-weight="bold" fill="#000">group</text>
<text transform="translate(502.40,913.30) scale(1.071,1)" text-anchor="start" font-size="12.3" font-weight="bold" fill="#000">group</text>
<line x1="553.80" y1="901.40" x2="553.80" y2="915.80" stroke="#333" stroke-width="0.8" />
<rect x="546.00" y="904.30" width="15.60" height="9.40" fill="#1f8a4e" stroke="#333" stroke-width="0.6" />
<line x1="546.00" y1="909.00" x2="561.60" y2="909.00" stroke="#333" stroke-width="0.8" />
<text transform="translate(570.80,913.30)" text-anchor="start" font-size="10.6" font-weight="bold" fill="#000">C</text>
<line x1="595.90" y1="901.40" x2="595.90" y2="915.80" stroke="#333" stroke-width="0.8" />
<rect x="588.10" y="904.30" width="15.60" height="9.40" fill="#f0913a" stroke="#333" stroke-width="0.6" />
<line x1="588.10" y1="909.00" x2="603.70" y2="909.00" stroke="#333" stroke-width="0.8" />
<text transform="translate(613.00,913.30)" text-anchor="start" font-size="10.6" font-weight="bold" fill="#000">P</text>
<!-- p_e.py -->
<text transform="translate(388.50,631.20)" text-anchor="start" font-size="19.5" font-weight="bold" fill="#000">E</text>
<rect x="413.71" y="612.18" width="203.68" height="229.46" fill="#fff" stroke="#000" stroke-width="1.5" />
<line x1="470.08" y1="612.18" x2="470.08" y2="841.64" stroke="#8c8c8c" stroke-width="1.2" stroke-dasharray="9 4.5"/>
<line x1="493.88" y1="612.18" x2="493.88" y2="841.64" stroke="#8c8c8c" stroke-width="1.2" stroke-dasharray="9 4.5"/>
<line x1="525.04" y1="612.18" x2="525.04" y2="841.64" stroke="#8c8c8c" stroke-width="1.2" stroke-dasharray="9 4.5"/>
<line x1="549.12" y1="612.18" x2="549.12" y2="841.64" stroke="#8c8c8c" stroke-width="1.2" stroke-dasharray="9 4.5"/>
<line x1="413.71" y1="710.48" x2="617.39" y2="710.48" stroke="#8c8c8c" stroke-width="1.2" stroke-dasharray="9 4.5"/>
<circle cx="435.52" cy="627.48" r="4.25" fill="#b81e2c" stroke="none" stroke-width="1" />
<circle cx="444.59" cy="637.11" r="4.25" fill="#c3292e" stroke="none" stroke-width="1" />
<circle cx="472.07" cy="628.90" r="4.53" fill="#ba202c" stroke="none" stroke-width="1" />
<circle cx="551.10" cy="622.38" r="4.53" fill="#b2182b" stroke="none" stroke-width="1" />
<circle cx="608.33" cy="668.84" r="3.97" fill="#ec6d4a" stroke="none" stroke-width="1" />
<circle cx="481.13" cy="676.77" r="3.97" fill="#f37d4c" stroke="none" stroke-width="1" />
<circle cx="573.48" cy="692.07" r="3.68" fill="#f69640" stroke="none" stroke-width="1" />
<circle cx="482.83" cy="703.68" r="3.68" fill="#f9a937" stroke="none" stroke-width="1" />
<circle cx="486.52" cy="711.33" r="3.68" fill="#fbb532" stroke="none" stroke-width="1" />
<circle cx="563.85" cy="710.48" r="3.68" fill="#fbb432" stroke="none" stroke-width="1" />
<circle cx="527.31" cy="722.66" r="3.40" fill="#fcca2c" stroke="none" stroke-width="1" />
<circle cx="557.05" cy="726.35" r="3.40" fill="#fcd02b" stroke="none" stroke-width="1" />
<circle cx="557.90" cy="730.88" r="3.12" fill="#fcd929" stroke="none" stroke-width="1" />
<circle cx="492.18" cy="750.42" r="3.12" fill="#b4d38e" stroke="none" stroke-width="1" />
<circle cx="539.77" cy="760.34" r="3.12" fill="#95d0b8" stroke="none" stroke-width="1" />
<circle cx="422.78" cy="767.42" r="3.12" fill="#80cbcc" stroke="none" stroke-width="1" />
<circle cx="481.98" cy="769.41" r="2.83" fill="#7ac9d1" stroke="none" stroke-width="1" />
<circle cx="496.43" cy="765.72" r="2.83" fill="#85cdc8" stroke="none" stroke-width="1" />
<circle cx="528.44" cy="769.41" r="2.83" fill="#7ac9d1" stroke="none" stroke-width="1" />
<circle cx="555.35" cy="773.65" r="2.83" fill="#6ec5da" stroke="none" stroke-width="1" />
<circle cx="558.75" cy="776.49" r="2.83" fill="#65c2df" stroke="none" stroke-width="1" />
<circle cx="494.45" cy="778.19" r="2.83" fill="#5fc0e1" stroke="none" stroke-width="1" />
<circle cx="499.55" cy="780.74" r="2.55" fill="#56bde5" stroke="none" stroke-width="1" />
<circle cx="494.16" cy="787.25" r="2.83" fill="#44b4ea" stroke="none" stroke-width="1" />
<circle cx="498.98" cy="786.97" r="2.55" fill="#44b5ea" stroke="none" stroke-width="1" />
<circle cx="491.05" cy="792.63" r="2.55" fill="#40a7e4" stroke="none" stroke-width="1" />
<circle cx="502.66" cy="797.45" r="2.55" fill="#3c9bde" stroke="none" stroke-width="1" />
<circle cx="531.27" cy="794.33" r="2.55" fill="#3ea3e1" stroke="none" stroke-width="1" />
<circle cx="537.79" cy="802.83" r="2.27" fill="#388fd7" stroke="none" stroke-width="1" />
<circle cx="521.64" cy="802.83" r="2.27" fill="#388fd7" stroke="none" stroke-width="1" />
<circle cx="503.51" cy="808.22" r="2.27" fill="#3482d1" stroke="none" stroke-width="1" />
<circle cx="496.71" cy="810.76" r="2.27" fill="#337ccd" stroke="none" stroke-width="1" />
<circle cx="480.28" cy="815.30" r="1.98" fill="#3273c5" stroke="none" stroke-width="1" />
<circle cx="516.83" cy="808.22" r="2.55" fill="#3482d1" stroke="none" stroke-width="1" />
<circle cx="524.48" cy="807.65" r="2.27" fill="#3483d2" stroke="none" stroke-width="1" />
<circle cx="518.81" cy="812.46" r="2.55" fill="#3279ca" stroke="none" stroke-width="1" />
<circle cx="534.67" cy="815.58" r="1.98" fill="#3272c5" stroke="none" stroke-width="1" />
<circle cx="517.68" cy="816.71" r="2.27" fill="#3270c3" stroke="none" stroke-width="1" />
<circle cx="523.63" cy="817.00" r="1.98" fill="#326fc2" stroke="none" stroke-width="1" />
<circle cx="514.84" cy="819.55" r="2.27" fill="#316abe" stroke="none" stroke-width="1" />
<circle cx="516.26" cy="823.80" r="1.98" fill="#3061b7" stroke="none" stroke-width="1" />
<circle cx="499.83" cy="823.23" r="1.70" fill="#3162b8" stroke="none" stroke-width="1" />
<circle cx="519.38" cy="825.21" r="1.70" fill="#305eb4" stroke="none" stroke-width="1" />
<circle cx="506.91" cy="826.63" r="1.70" fill="#305bb2" stroke="none" stroke-width="1" />
<circle cx="510.59" cy="828.05" r="1.70" fill="#3058af" stroke="none" stroke-width="1" />
<circle cx="508.05" cy="830.03" r="1.42" fill="#2f54ac" stroke="none" stroke-width="1" />
<circle cx="513.14" cy="823.80" r="1.70" fill="#3061b7" stroke="none" stroke-width="1" />
<circle cx="520.23" cy="820.40" r="1.98" fill="#3168bc" stroke="none" stroke-width="1" />
<text transform="translate(426.18,636.08) scale(1.050,1)" text-anchor="middle" font-size="5.2" font-weight="bold" fill="#b81e2c">PGAM1</text>
<text transform="translate(439.21,645.71) scale(1.050,1)" text-anchor="middle" font-size="5.2" font-weight="bold" fill="#c3292e">RAN</text>
<text transform="translate(462.72,637.49) scale(1.050,1)" text-anchor="middle" font-size="5.2" font-weight="bold" fill="#ba202c">COX5A</text>
<text transform="translate(543.17,630.98) scale(1.050,1)" text-anchor="middle" font-size="5.2" font-weight="bold" fill="#b2182b">YWHAE</text>
<text transform="translate(600.96,677.44) scale(1.050,1)" text-anchor="middle" font-size="5.2" font-weight="bold" fill="#ec6d4a">GBP2</text>
<text transform="translate(471.22,685.09) scale(1.050,1)" text-anchor="middle" font-size="5.2" font-weight="bold" fill="#f37d4c">PSMA4</text>
<text transform="translate(563.29,700.67) scale(1.050,1)" text-anchor="middle" font-size="5.2" font-weight="bold" fill="#f69640">TAGLN2</text>
<text transform="translate(473.48,709.45) scale(1.050,1)" text-anchor="middle" font-size="5.2" font-weight="bold" fill="#f9a937">PPA</text>
<text transform="translate(557.90,718.80) scale(1.050,1)" text-anchor="middle" font-size="5.2" font-weight="bold" fill="#fbb432">IRF7</text>
<line x1="430.99" y1="841.64" x2="430.99" y2="844.14" stroke="#000" stroke-width="1" />
<text transform="translate(430.99,848.83) scale(1.050,1)" text-anchor="middle" font-size="5" font-weight="bold" fill="#000">−1.0</text>
<line x1="470.08" y1="841.64" x2="470.08" y2="844.14" stroke="#000" stroke-width="1" />
<text transform="translate(470.08,848.83) scale(1.050,1)" text-anchor="middle" font-size="5" font-weight="bold" fill="#000">−0.5</text>
<line x1="509.46" y1="841.64" x2="509.46" y2="844.14" stroke="#000" stroke-width="1" />
<text transform="translate(509.46,848.83) scale(1.050,1)" text-anchor="middle" font-size="5" font-weight="bold" fill="#000">0.0</text>
<line x1="548.56" y1="841.64" x2="548.56" y2="844.14" stroke="#000" stroke-width="1" />
<text transform="translate(548.56,848.83) scale(1.050,1)" text-anchor="middle" font-size="5" font-weight="bold" fill="#000">0.5</text>
<line x1="587.93" y1="841.64" x2="587.93" y2="844.14" stroke="#000" stroke-width="1" />
<text transform="translate(587.93,848.83) scale(1.050,1)" text-anchor="middle" font-size="5" font-weight="bold" fill="#000">1.0</text>
<line x1="411.21" y1="645.33" x2="413.71" y2="645.33" stroke="#000" stroke-width="1" />
<text transform="translate(410.03,647.13) scale(1.050,1)" text-anchor="end" font-size="5" font-weight="bold" fill="#000">2.0</text>
<line x1="411.21" y1="692.07" x2="413.71" y2="692.07" stroke="#000" stroke-width="1" />
<text transform="translate(410.03,693.87) scale(1.050,1)" text-anchor="end" font-size="5" font-weight="bold" fill="#000">1.5</text>
<line x1="411.21" y1="738.81" x2="413.71" y2="738.81" stroke="#000" stroke-width="1" />
<text transform="translate(410.03,740.61) scale(1.050,1)" text-anchor="end" font-size="5" font-weight="bold" fill="#000">1.0</text>
<line x1="411.21" y1="785.55" x2="413.71" y2="785.55" stroke="#000" stroke-width="1" />
<text transform="translate(410.03,787.35) scale(1.050,1)" text-anchor="end" font-size="5" font-weight="bold" fill="#000">0.5</text>
<line x1="411.21" y1="832.29" x2="413.71" y2="832.29" stroke="#000" stroke-width="1" />
<text transform="translate(410.03,834.09) scale(1.050,1)" text-anchor="end" font-size="5" font-weight="bold" fill="#000">0.0</text>
<text transform="translate(515.98,856.02) scale(1.080,1)" text-anchor="middle" font-size="6.3" font-weight="bold" fill="#000">Log2FC</text>
<text transform="translate(399.96,726.06) rotate(-90) scale(1.080,1)" text-anchor="middle" font-size="6.5" font-weight="bold" fill="#000">−Log10(adj.P.Val)</text>
<text transform="translate(628.44,700.68) scale(1.080,1)" text-anchor="start" font-size="6.1" font-weight="bold" fill="#000">−Log10(adj.P.Val)</text>
<rect x="628.44" y="704.82" width="10.20" height="53.82" fill="url(#gvol)" stroke="none" stroke-width="1" />
<text transform="translate(642.89,712.56) scale(1.050,1)" text-anchor="start" font-size="5" font-weight="bold" fill="#000">2.0</text>
<text transform="translate(642.89,724.75) scale(1.050,1)" text-anchor="start" font-size="5" font-weight="bold" fill="#000">1.5</text>
<text transform="translate(642.89,736.93) scale(1.050,1)" text-anchor="start" font-size="5" font-weight="bold" fill="#000">1.0</text>
<text transform="translate(642.89,748.83) scale(1.050,1)" text-anchor="start" font-size="5" font-weight="bold" fill="#000">0.5</text>
<!-- p_f.py -->
<text transform="translate(675.50,487.20)" text-anchor="start" font-size="19.5" font-weight="bold" fill="#000">F</text>
<g transform="translate(715.90,503.90) scale(5.8700,6.8300)" shape-rendering="crispEdges" stroke-width="0.04"><path fill="#ffe4db" stroke="#ffe4db" d="M0 0h1v1h-1zM6 0h1v1h-1zM10 0h3v1h-3zM15 0h1v1h-1zM18 0h3v1h-3zM42 0h1v1h-1zM44 0h4v1h-4zM4 1h2v1h-2zM8 1h1v1h-1zM15 1h1v1h-1zM17 1h1v1h-1zM19 1h2v1h-2zM26 1h1v1h-1zM45 1h3v1h-3zM1 2h1v1h-1zM7 2h1v1h-1zM9 2h1v1h-1zM21 2h1v1h-1zM31 2h1v1h-1zM39 2h1v1h-1zM45 2h1v1h-1zM47 2h1v1h-1zM12 3h2v1h-2zM29 3h1v1h-1zM31 3h1v1h-1zM33 3h1v1h-1zM37 3h2v1h-2zM2 4h1v1h-1zM13 4h1v1h-1zM31 4h1v1h-1zM0 5h1v1h-1zM3 5h1v1h-1zM9 5h3v1h-3zM20 5h2v1h-2zM37 5h4v1h-4zM42 5h4v1h-4zM47 5h1v1h-1zM0 6h1v1h-1zM12 6h1v1h-1zM38 6h1v1h-1zM0 7h1v1h-1zM28 7h1v1h-1zM49 7h1v1h-1zM52 7h3v1h-3zM12 8h3v1h-3zM29 8h1v1h-1zM41 8h1v1h-1zM53 8h2v1h-2zM2 9h1v1h-1zM4 9h2v1h-2zM7 9h1v1h-1zM9 9h1v1h-1zM13 9h1v1h-1zM16 9h4v1h-4zM22 9h2v1h-2zM28 9h1v1h-1zM38 9h1v1h-1zM49 9h1v1h-1zM52 9h3v1h-3zM10 10h1v1h-1zM13 10h1v1h-1zM29 10h1v1h-1zM38 10h1v1h-1zM49 10h1v1h-1zM54 10h1v1h-1zM10 11h1v1h-1zM16 11h1v1h-1zM23 11h1v1h-1zM27 11h1v1h-1zM29 11h1v1h-1zM33 11h1v1h-1zM40 11h1v1h-1zM49 11h1v1h-1zM8 12h1v1h-1zM10 12h1v1h-1zM27 12h1v1h-1zM33 12h1v1h-1zM41 12h1v1h-1zM49 12h1v1h-1zM54 12h1v1h-1zM5 13h1v1h-1zM11 13h1v1h-1zM13 13h1v1h-1zM42 13h1v1h-1zM46 13h1v1h-1zM11 14h1v1h-1zM14 14h1v1h-1zM37 14h1v1h-1zM39 14h1v1h-1zM43 14h1v1h-1zM49 14h1v1h-1zM0 15h1v1h-1zM8 15h1v1h-1zM13 15h2v1h-2zM27 15h2v1h-2zM33 15h1v1h-1zM38 15h1v1h-1zM40 15h1v1h-1zM49 15h1v1h-1zM52 15h1v1h-1zM0 16h1v1h-1zM3 16h1v1h-1zM7 16h1v1h-1zM9 16h2v1h-2zM12 16h1v1h-1zM15 16h2v1h-2zM19 16h1v1h-1zM24 16h1v1h-1zM37 16h1v1h-1zM39 16h1v1h-1zM44 16h2v1h-2zM48 16h2v1h-2zM51 16h1v1h-1zM0 17h1v1h-1zM9 17h2v1h-2zM17 17h1v1h-1zM20 17h2v1h-2zM23 17h2v1h-2zM26 17h1v1h-1zM33 17h1v1h-1zM38 17h1v1h-1zM40 17h1v1h-1zM49 17h1v1h-1zM51 17h1v1h-1zM0 18h1v1h-1zM3 18h1v1h-1zM10 18h1v1h-1zM16 18h2v1h-2zM20 18h2v1h-2zM24 18h1v1h-1zM1 19h1v1h-1zM9 19h3v1h-3zM13 19h1v1h-1zM24 19h1v1h-1zM2 20h1v1h-1zM6 20h1v1h-1zM10 20h3v1h-3zM16 20h1v1h-1zM19 20h1v1h-1zM22 20h4v1h-4zM31 20h2v1h-2zM2 21h3v1h-3zM9 21h1v1h-1zM15 21h1v1h-1zM17 21h1v1h-1zM26 21h1v1h-1zM37 21h1v1h-1zM39 21h1v1h-1zM42 21h2v1h-2zM51 21h1v1h-1zM1 22h1v1h-1zM9 22h2v1h-2zM12 22h2v1h-2zM23 22h2v1h-2zM27 22h1v1h-1zM34 22h1v1h-1zM1 23h1v1h-1zM3 23h1v1h-1zM12 23h2v1h-2zM16 23h1v1h-1zM23 23h2v1h-2zM30 23h1v1h-1zM34 23h1v1h-1zM50 23h3v1h-3zM2 24h1v1h-1zM9 24h1v1h-1zM24 24h1v1h-1zM31 24h1v1h-1zM12 25h1v1h-1zM17 25h1v1h-1zM26 25h1v1h-1zM43 25h2v1h-2zM46 25h1v1h-1zM51 25h1v1h-1zM3 26h1v1h-1zM7 26h1v1h-1zM13 26h1v1h-1zM17 26h1v1h-1zM21 26h1v1h-1zM39 26h1v1h-1zM45 26h1v1h-1zM47 26h1v1h-1zM4 27h1v1h-1zM12 27h1v1h-1zM16 27h1v1h-1zM18 27h1v1h-1zM23 27h1v1h-1zM32 27h1v1h-1zM39 27h1v1h-1zM42 27h2v1h-2zM12 28h1v1h-1zM29 28h1v1h-1zM33 28h1v1h-1zM37 28h1v1h-1zM53 28h1v1h-1zM0 29h2v1h-2zM3 29h1v1h-1zM10 29h2v1h-2zM23 29h2v1h-2zM34 29h1v1h-1zM6 30h1v1h-1zM8 30h1v1h-1zM25 30h1v1h-1zM30 30h3v1h-3zM34 30h5v1h-5zM0 31h1v1h-1zM2 31h1v1h-1zM25 31h1v1h-1zM27 31h1v1h-1zM31 31h2v1h-2zM34 31h1v1h-1zM37 31h1v1h-1zM43 31h1v1h-1zM45 31h1v1h-1zM10 32h1v1h-1zM34 32h1v1h-1zM45 32h1v1h-1zM28 33h1v1h-1zM36 33h2v1h-2zM49 33h1v1h-1zM52 33h1v1h-1zM0 34h1v1h-1zM12 34h2v1h-2zM36 34h2v1h-2zM49 34h1v1h-1zM53 34h2v1h-2zM0 35h1v1h-1zM12 35h2v1h-2zM34 35h1v1h-1zM38 35h1v1h-1zM45 35h1v1h-1zM53 35h2v1h-2zM2 36h1v1h-1zM11 36h2v1h-2zM27 36h1v1h-1zM45 36h1v1h-1zM54 36h1v1h-1zM0 37h1v1h-1zM12 37h1v1h-1zM28 37h2v1h-2zM33 37h1v1h-1zM36 37h2v1h-2zM45 37h1v1h-1zM53 37h1v1h-1zM11 38h3v1h-3zM27 38h1v1h-1zM31 38h1v1h-1zM34 38h1v1h-1zM36 38h1v1h-1zM38 38h1v1h-1zM43 38h1v1h-1zM45 38h1v1h-1zM0 39h1v1h-1zM33 39h1v1h-1zM38 39h1v1h-1zM53 39h2v1h-2zM2 40h1v1h-1zM12 40h1v1h-1zM39 40h2v1h-2zM46 40h1v1h-1zM0 41h2v1h-2zM4 41h1v1h-1zM6 41h1v1h-1zM10 41h3v1h-3zM16 41h1v1h-1zM19 41h2v1h-2zM28 41h1v1h-1zM31 41h2v1h-2zM35 41h1v1h-1zM39 41h1v1h-1zM41 41h1v1h-1zM44 41h3v1h-3zM50 41h2v1h-2zM2 42h1v1h-1zM4 42h1v1h-1zM8 42h2v1h-2zM13 42h2v1h-2zM16 42h5v1h-5zM26 42h2v1h-2zM29 42h1v1h-1zM31 42h2v1h-2zM34 42h1v1h-1zM38 42h1v1h-1zM46 42h1v1h-1zM48 42h1v1h-1zM51 42h1v1h-1zM54 42h1v1h-1zM0 43h1v1h-1zM3 43h2v1h-2zM6 43h1v1h-1zM9 43h1v1h-1zM13 43h1v1h-1zM16 43h1v1h-1zM18 43h1v1h-1zM25 43h1v1h-1zM34 43h2v1h-2zM40 43h2v1h-2zM49 43h1v1h-1zM54 43h1v1h-1zM6 44h1v1h-1zM8 44h1v1h-1zM13 44h1v1h-1zM22 44h1v1h-1zM25 44h1v1h-1zM32 44h1v1h-1zM34 44h5v1h-5zM42 44h3v1h-3zM49 44h1v1h-1zM54 44h1v1h-1zM0 45h1v1h-1zM5 45h1v1h-1zM8 45h1v1h-1zM11 45h2v1h-2zM30 45h1v1h-1zM32 45h2v1h-2zM35 45h1v1h-1zM37 45h2v1h-2zM45 45h1v1h-1zM49 45h1v1h-1zM52 45h1v1h-1zM1 46h1v1h-1zM7 46h1v1h-1zM9 46h2v1h-2zM12 46h1v1h-1zM24 46h1v1h-1zM39 46h1v1h-1zM42 46h1v1h-1zM53 46h1v1h-1zM0 47h1v1h-1zM8 47h1v1h-1zM28 47h1v1h-1zM38 47h1v1h-1zM45 47h1v1h-1zM52 47h1v1h-1zM10 48h2v1h-2zM13 48h1v1h-1zM24 48h1v1h-1zM34 48h1v1h-1zM54 48h1v1h-1zM0 49h1v1h-1zM3 49h1v1h-1zM9 49h1v1h-1zM41 49h1v1h-1zM45 49h1v1h-1zM53 49h1v1h-1zM0 50h1v1h-1zM11 50h3v1h-3zM27 50h1v1h-1zM33 50h1v1h-1zM45 50h1v1h-1zM53 50h1v1h-1zM0 51h1v1h-1zM5 51h1v1h-1zM11 51h1v1h-1zM25 51h1v1h-1zM28 51h1v1h-1zM31 51h1v1h-1zM33 51h1v1h-1zM36 51h1v1h-1zM38 51h1v1h-1zM49 51h1v1h-1zM12 52h1v1h-1zM14 52h1v1h-1zM18 52h1v1h-1zM23 52h1v1h-1zM30 52h1v1h-1zM33 52h2v1h-2zM45 52h1v1h-1zM50 52h1v1h-1zM8 53h1v1h-1zM13 53h1v1h-1zM25 53h1v1h-1zM31 53h2v1h-2zM35 53h1v1h-1zM52 53h1v1h-1zM3 54h3v1h-3zM7 54h1v1h-1zM9 54h1v1h-1zM11 54h1v1h-1zM13 54h1v1h-1zM15 54h1v1h-1zM17 54h1v1h-1zM19 54h2v1h-2zM23 54h1v1h-1zM25 54h1v1h-1zM36 54h4v1h-4zM47 54h3v1h-3zM54 54h1v1h-1z"/><path fill="#ffc6b2" stroke="#ffc6b2" d="M1 0h2v1h-2zM4 0h1v1h-1zM7 0h1v1h-1zM13 0h1v1h-1zM16 0h2v1h-2zM21 0h4v1h-4zM27 0h1v1h-1zM30 0h1v1h-1zM32 0h2v1h-2zM38 0h1v1h-1zM49 0h1v1h-1zM51 0h1v1h-1zM12 1h1v1h-1zM36 1h1v1h-1zM48 1h1v1h-1zM2 2h2v1h-2zM13 2h1v1h-1zM18 2h1v1h-1zM25 2h1v1h-1zM11 3h1v1h-1zM23 3h1v1h-1zM27 3h1v1h-1zM36 3h1v1h-1zM45 3h1v1h-1zM54 3h1v1h-1zM25 4h1v1h-1zM27 4h1v1h-1zM32 4h1v1h-1zM40 4h1v1h-1zM49 4h1v1h-1zM1 5h2v1h-2zM13 5h1v1h-1zM24 5h1v1h-1zM27 5h1v1h-1zM31 5h1v1h-1zM50 5h1v1h-1zM54 5h1v1h-1zM3 6h1v1h-1zM9 6h3v1h-3zM29 6h1v1h-1zM37 6h1v1h-1zM44 6h2v1h-2zM53 6h1v1h-1zM8 7h2v1h-2zM11 7h1v1h-1zM13 7h1v1h-1zM27 7h1v1h-1zM33 7h1v1h-1zM36 7h2v1h-2zM44 7h2v1h-2zM1 8h1v1h-1zM3 8h1v1h-1zM5 8h1v1h-1zM9 8h3v1h-3zM17 8h1v1h-1zM19 8h1v1h-1zM23 8h1v1h-1zM36 8h2v1h-2zM44 8h1v1h-1zM1 9h1v1h-1zM3 9h1v1h-1zM10 9h1v1h-1zM15 9h1v1h-1zM20 9h2v1h-2zM24 9h1v1h-1zM26 9h2v1h-2zM36 9h2v1h-2zM39 9h1v1h-1zM42 9h3v1h-3zM47 9h2v1h-2zM51 9h1v1h-1zM0 10h2v1h-2zM16 10h1v1h-1zM36 10h2v1h-2zM45 10h4v1h-4zM0 11h1v1h-1zM3 11h1v1h-1zM8 11h2v1h-2zM14 11h1v1h-1zM21 11h1v1h-1zM24 11h1v1h-1zM38 11h1v1h-1zM45 11h1v1h-1zM0 12h1v1h-1zM9 12h1v1h-1zM14 12h1v1h-1zM20 12h2v1h-2zM45 12h1v1h-1zM36 13h1v1h-1zM2 14h1v1h-1zM18 14h1v1h-1zM22 14h1v1h-1zM25 14h1v1h-1zM30 14h1v1h-1zM32 14h2v1h-2zM50 14h1v1h-1zM10 15h1v1h-1zM16 15h1v1h-1zM23 15h1v1h-1zM45 15h1v1h-1zM4 16h2v1h-2zM11 16h1v1h-1zM14 16h1v1h-1zM25 16h1v1h-1zM34 16h1v1h-1zM43 16h1v1h-1zM54 16h1v1h-1zM1 17h1v1h-1zM4 17h2v1h-2zM7 17h1v1h-1zM15 17h1v1h-1zM19 17h1v1h-1zM44 17h5v1h-5zM1 18h1v1h-1zM7 18h2v1h-2zM11 18h1v1h-1zM26 18h1v1h-1zM41 18h1v1h-1zM44 18h4v1h-4zM51 18h1v1h-1zM53 18h1v1h-1zM2 19h1v1h-1zM31 19h1v1h-1zM38 20h1v1h-1zM11 21h1v1h-1zM13 21h1v1h-1zM18 21h1v1h-1zM20 21h1v1h-1zM25 21h1v1h-1zM31 21h2v1h-2zM40 21h1v1h-1zM47 21h1v1h-1zM54 21h1v1h-1zM30 22h1v1h-1zM33 22h1v1h-1zM40 22h1v1h-1zM50 22h1v1h-1zM54 22h1v1h-1zM9 23h2v1h-2zM17 23h2v1h-2zM22 23h1v1h-1zM27 23h1v1h-1zM33 23h1v1h-1zM35 23h1v1h-1zM49 23h1v1h-1zM10 24h2v1h-2zM25 24h1v1h-1zM27 24h1v1h-1zM32 24h1v1h-1zM40 24h1v1h-1zM54 24h1v1h-1zM5 25h1v1h-1zM8 25h1v1h-1zM15 25h2v1h-2zM23 25h1v1h-1zM48 25h1v1h-1zM1 26h2v1h-2zM24 26h1v1h-1zM27 26h1v1h-1zM3 27h1v1h-1zM13 27h1v1h-1zM15 27h1v1h-1zM25 27h2v1h-2zM28 27h1v1h-1zM30 27h2v1h-2zM45 27h1v1h-1zM47 27h1v1h-1zM49 27h3v1h-3zM54 27h1v1h-1zM3 28h1v1h-1zM11 28h1v1h-1zM23 28h1v1h-1zM27 28h1v1h-1zM36 28h1v1h-1zM45 28h1v1h-1zM2 29h1v1h-1zM6 29h1v1h-1zM9 29h1v1h-1zM13 29h1v1h-1zM18 29h1v1h-1zM22 29h1v1h-1zM27 29h1v1h-1zM30 29h1v1h-1zM33 29h1v1h-1zM38 29h1v1h-1zM40 29h1v1h-1zM50 29h1v1h-1zM52 29h1v1h-1zM11 30h1v1h-1zM23 30h1v1h-1zM28 30h1v1h-1zM43 30h1v1h-1zM45 30h1v1h-1zM49 30h1v1h-1zM54 30h1v1h-1zM1 31h1v1h-1zM3 31h1v1h-1zM7 31h1v1h-1zM9 31h3v1h-3zM15 31h3v1h-3zM19 31h1v1h-1zM24 31h1v1h-1zM26 31h1v1h-1zM29 31h1v1h-1zM39 31h1v1h-1zM46 31h1v1h-1zM51 31h1v1h-1zM54 31h1v1h-1zM2 32h1v1h-1zM18 32h1v1h-1zM25 32h1v1h-1zM31 32h1v1h-1zM40 32h1v1h-1zM54 32h1v1h-1zM5 33h1v1h-1zM8 33h1v1h-1zM11 33h1v1h-1zM13 33h1v1h-1zM16 33h1v1h-1zM42 33h2v1h-2zM45 33h1v1h-1zM54 33h1v1h-1zM11 34h1v1h-1zM16 34h1v1h-1zM33 34h1v1h-1zM42 34h1v1h-1zM45 34h1v1h-1zM11 35h1v1h-1zM23 35h1v1h-1zM37 35h1v1h-1zM46 35h1v1h-1zM6 36h1v1h-1zM22 36h1v1h-1zM25 36h1v1h-1zM31 36h1v1h-1zM33 36h1v1h-1zM40 36h1v1h-1zM52 36h1v1h-1zM11 37h1v1h-1zM13 37h1v1h-1zM23 37h1v1h-1zM31 37h1v1h-1zM46 37h1v1h-1zM54 37h1v1h-1zM0 38h1v1h-1zM5 38h1v1h-1zM8 38h1v1h-1zM20 38h2v1h-2zM23 38h1v1h-1zM29 38h1v1h-1zM39 38h1v1h-1zM44 38h1v1h-1zM54 38h1v1h-1zM8 39h1v1h-1zM11 39h1v1h-1zM23 39h1v1h-1zM27 39h1v1h-1zM29 39h1v1h-1zM37 39h1v1h-1zM45 39h1v1h-1zM38 40h1v1h-1zM42 40h2v1h-2zM7 41h1v1h-1zM9 41h1v1h-1zM17 41h1v1h-1zM21 41h1v1h-1zM25 41h1v1h-1zM27 41h1v1h-1zM33 41h1v1h-1zM47 41h1v1h-1zM49 41h1v1h-1zM52 41h1v1h-1zM54 41h1v1h-1zM53 42h1v1h-1zM10 43h1v1h-1zM15 43h1v1h-1zM17 43h1v1h-1zM19 43h3v1h-3zM23 43h2v1h-2zM26 43h1v1h-1zM30 43h1v1h-1zM33 43h1v1h-1zM36 43h1v1h-1zM38 43h1v1h-1zM46 43h3v1h-3zM51 43h1v1h-1zM5 44h1v1h-1zM11 44h1v1h-1zM23 44h1v1h-1zM30 44h2v1h-2zM39 44h1v1h-1zM45 44h2v1h-2zM48 44h1v1h-1zM13 45h1v1h-1zM23 45h1v1h-1zM25 45h1v1h-1zM31 45h1v1h-1zM42 45h2v1h-2zM46 45h3v1h-3zM3 46h1v1h-1zM5 46h1v1h-1zM15 46h2v1h-2zM21 46h1v1h-1zM29 46h1v1h-1zM36 46h1v1h-1zM43 46h1v1h-1zM47 46h1v1h-1zM13 47h1v1h-1zM23 47h1v1h-1zM36 47h2v1h-2zM54 47h1v1h-1zM2 48h1v1h-1zM18 48h1v1h-1zM25 48h1v1h-1zM8 49h1v1h-1zM10 49h1v1h-1zM16 49h1v1h-1zM21 49h1v1h-1zM29 49h1v1h-1zM37 49h2v1h-2zM46 49h1v1h-1zM37 50h2v1h-2zM54 50h1v1h-1zM8 51h1v1h-1zM23 51h1v1h-1zM26 51h2v1h-2zM43 51h1v1h-1zM45 51h2v1h-2zM48 51h1v1h-1zM52 51h1v1h-1zM6 52h1v1h-1zM22 52h1v1h-1zM25 52h1v1h-1zM28 52h1v1h-1zM35 52h1v1h-1zM40 52h1v1h-1zM49 52h1v1h-1zM52 52h1v1h-1zM54 52h1v1h-1zM23 53h1v1h-1zM28 53h1v1h-1zM36 53h2v1h-2zM44 53h3v1h-3zM49 53h1v1h-1zM54 53h1v1h-1zM16 54h1v1h-1zM42 54h3v1h-3z"/><path fill="#ffa488" stroke="#ffa488" d="M3 0h1v1h-1zM9 0h1v1h-1zM25 0h1v1h-1zM28 0h1v1h-1zM31 0h1v1h-1zM35 0h1v1h-1zM6 2h1v1h-1zM27 2h1v1h-1zM30 2h1v1h-1zM32 2h2v1h-2zM40 2h1v1h-1zM49 2h2v1h-2zM3 3h1v1h-1zM8 3h2v1h-2zM39 3h1v1h-1zM42 3h3v1h-3zM46 3h1v1h-1zM6 4h1v1h-1zM18 4h1v1h-1zM22 4h1v1h-1zM28 4h1v1h-1zM30 4h1v1h-1zM33 4h1v1h-1zM35 4h1v1h-1zM52 4h1v1h-1zM6 5h1v1h-1zM18 5h1v1h-1zM22 5h1v1h-1zM25 5h1v1h-1zM28 5h1v1h-1zM30 5h1v1h-1zM32 5h2v1h-2zM35 5h1v1h-1zM52 5h1v1h-1zM1 6h1v1h-1zM8 6h1v1h-1zM16 6h2v1h-2zM21 6h1v1h-1zM23 6h2v1h-2zM36 6h1v1h-1zM39 6h1v1h-1zM42 6h2v1h-2zM46 6h2v1h-2zM3 7h3v1h-3zM16 7h2v1h-2zM19 7h1v1h-1zM26 7h1v1h-1zM39 7h1v1h-1zM42 7h2v1h-2zM46 7h1v1h-1zM48 7h1v1h-1zM7 8h2v1h-2zM15 8h2v1h-2zM20 8h2v1h-2zM24 8h1v1h-1zM26 8h1v1h-1zM39 8h1v1h-1zM42 8h2v1h-2zM45 8h1v1h-1zM47 8h2v1h-2zM51 8h1v1h-1zM12 9h1v1h-1zM46 9h1v1h-1zM3 10h3v1h-3zM7 10h3v1h-3zM15 10h1v1h-1zM17 10h1v1h-1zM19 10h3v1h-3zM24 10h1v1h-1zM26 10h1v1h-1zM39 10h1v1h-1zM42 10h2v1h-2zM51 10h1v1h-1zM1 11h1v1h-1zM4 11h2v1h-2zM7 11h1v1h-1zM15 11h1v1h-1zM17 11h1v1h-1zM19 11h2v1h-2zM26 11h1v1h-1zM41 11h1v1h-1zM44 11h1v1h-1zM46 11h3v1h-3zM51 11h1v1h-1zM3 12h1v1h-1zM16 12h2v1h-2zM26 12h1v1h-1zM38 12h1v1h-1zM44 12h1v1h-1zM46 12h3v1h-3zM51 12h1v1h-1zM37 13h1v1h-1zM39 13h2v1h-2zM43 13h1v1h-1zM6 14h1v1h-1zM28 14h1v1h-1zM35 14h1v1h-1zM41 14h1v1h-1zM52 14h1v1h-1zM3 15h3v1h-3zM9 15h1v1h-1zM17 15h1v1h-1zM20 15h2v1h-2zM26 15h1v1h-1zM36 15h1v1h-1zM41 15h1v1h-1zM44 15h1v1h-1zM46 15h3v1h-3zM51 15h1v1h-1zM31 16h2v1h-2zM36 16h1v1h-1zM42 16h1v1h-1zM11 17h1v1h-1zM36 17h1v1h-1zM41 17h1v1h-1zM4 18h1v1h-1zM14 18h1v1h-1zM23 18h1v1h-1zM37 18h3v1h-3zM48 18h1v1h-1zM27 19h1v1h-1zM32 19h1v1h-1zM40 19h1v1h-1zM49 19h2v1h-2zM54 19h1v1h-1zM1 21h1v1h-1zM7 21h1v1h-1zM10 21h1v1h-1zM21 21h1v1h-1zM24 21h1v1h-1zM27 21h1v1h-1zM30 21h1v1h-1zM49 21h2v1h-2zM52 21h1v1h-1zM18 22h1v1h-1zM22 22h1v1h-1zM25 22h1v1h-1zM28 22h1v1h-1zM31 22h1v1h-1zM35 22h1v1h-1zM38 22h1v1h-1zM49 22h1v1h-1zM52 22h1v1h-1zM2 23h1v1h-1zM6 23h1v1h-1zM25 23h1v1h-1zM28 23h1v1h-1zM32 23h1v1h-1zM38 23h1v1h-1zM54 23h1v1h-1zM18 24h1v1h-1zM33 24h1v1h-1zM49 24h2v1h-2zM52 24h1v1h-1zM19 25h1v1h-1zM9 26h3v1h-3zM18 26h1v1h-1zM25 26h1v1h-1zM31 26h2v1h-2zM40 26h1v1h-1zM49 26h2v1h-2zM54 26h1v1h-1zM6 27h2v1h-2zM9 27h1v1h-1zM11 27h1v1h-1zM17 27h1v1h-1zM20 27h1v1h-1zM24 27h1v1h-1zM33 27h1v1h-1zM35 27h1v1h-1zM52 27h1v1h-1zM5 28h1v1h-1zM9 28h2v1h-2zM16 28h1v1h-1zM24 28h1v1h-1zM39 28h1v1h-1zM42 28h3v1h-3zM46 28h2v1h-2zM28 29h1v1h-1zM31 29h2v1h-2zM49 29h1v1h-1zM54 29h1v1h-1zM3 30h1v1h-1zM5 30h1v1h-1zM9 30h1v1h-1zM16 30h1v1h-1zM19 30h2v1h-2zM26 30h2v1h-2zM33 30h1v1h-1zM44 30h1v1h-1zM46 30h1v1h-1zM48 30h1v1h-1zM4 31h2v1h-2zM12 31h1v1h-1zM36 31h1v1h-1zM48 31h1v1h-1zM6 32h1v1h-1zM32 32h1v1h-1zM49 32h2v1h-2zM3 33h2v1h-2zM7 33h1v1h-1zM9 33h2v1h-2zM19 33h1v1h-1zM33 33h1v1h-1zM39 33h1v1h-1zM44 33h1v1h-1zM46 33h1v1h-1zM48 33h1v1h-1zM3 34h3v1h-3zM7 34h4v1h-4zM19 34h1v1h-1zM24 34h1v1h-1zM27 34h1v1h-1zM39 34h1v1h-1zM43 34h2v1h-2zM46 34h1v1h-1zM9 35h2v1h-2zM20 35h2v1h-2zM24 35h1v1h-1zM29 35h1v1h-1zM43 35h2v1h-2zM47 35h1v1h-1zM28 36h1v1h-1zM30 36h1v1h-1zM32 36h1v1h-1zM49 36h2v1h-2zM5 37h1v1h-1zM8 37h1v1h-1zM10 37h1v1h-1zM27 37h1v1h-1zM39 37h1v1h-1zM42 37h3v1h-3zM47 37h2v1h-2zM1 38h1v1h-1zM7 38h1v1h-1zM9 38h2v1h-2zM15 38h1v1h-1zM24 38h1v1h-1zM26 38h1v1h-1zM42 38h1v1h-1zM46 38h3v1h-3zM3 39h1v1h-1zM9 39h2v1h-2zM16 39h1v1h-1zM43 39h2v1h-2zM46 39h1v1h-1zM36 40h1v1h-1zM3 41h1v1h-1zM23 42h1v1h-1zM45 42h1v1h-1zM1 43h1v1h-1zM5 43h1v1h-1zM7 43h1v1h-1zM27 43h2v1h-2zM37 43h1v1h-1zM3 44h2v1h-2zM7 44h1v1h-1zM9 44h1v1h-1zM15 44h3v1h-3zM19 44h3v1h-3zM26 44h1v1h-1zM28 44h1v1h-1zM33 44h1v1h-1zM1 45h1v1h-1zM4 45h1v1h-1zM7 45h1v1h-1zM10 45h1v1h-1zM15 45h2v1h-2zM19 45h3v1h-3zM24 45h1v1h-1zM26 45h3v1h-3zM39 45h1v1h-1zM44 45h1v1h-1zM51 45h1v1h-1zM54 45h1v1h-1zM4 46h1v1h-1zM17 46h1v1h-1zM20 46h1v1h-1zM44 46h1v1h-1zM46 46h1v1h-1zM48 46h1v1h-1zM51 46h1v1h-1zM3 47h3v1h-3zM9 47h3v1h-3zM16 47h1v1h-1zM20 47h2v1h-2zM27 47h1v1h-1zM33 47h1v1h-1zM43 47h2v1h-2zM46 47h1v1h-1zM22 48h1v1h-1zM27 48h1v1h-1zM31 48h1v1h-1zM40 48h1v1h-1zM49 48h2v1h-2zM52 48h1v1h-1zM1 49h1v1h-1zM4 49h1v1h-1zM7 49h1v1h-1zM11 49h1v1h-1zM17 49h1v1h-1zM20 49h1v1h-1zM23 49h2v1h-2zM26 49h1v1h-1zM39 49h1v1h-1zM43 49h2v1h-2zM47 49h1v1h-1zM5 50h1v1h-1zM7 50h4v1h-4zM20 50h2v1h-2zM23 50h1v1h-1zM36 50h1v1h-1zM39 50h1v1h-1zM43 50h2v1h-2zM47 50h1v1h-1zM1 51h1v1h-1zM7 51h1v1h-1zM10 51h1v1h-1zM13 51h1v1h-1zM15 51h1v1h-1zM20 51h2v1h-2zM24 51h1v1h-1zM39 51h1v1h-1zM42 51h1v1h-1zM44 51h1v1h-1zM47 51h1v1h-1zM51 51h1v1h-1zM54 51h1v1h-1zM31 52h1v1h-1zM3 53h1v1h-1zM5 53h1v1h-1zM9 53h1v1h-1zM11 53h1v1h-1zM16 53h1v1h-1zM33 53h1v1h-1zM43 53h1v1h-1zM48 53h1v1h-1z"/><path fill="#fff8f6" stroke="#fff8f6" d="M5 0h1v1h-1zM26 0h1v1h-1zM34 0h1v1h-1zM40 0h1v1h-1zM43 0h1v1h-1zM50 0h1v1h-1zM0 1h2v1h-2zM7 1h1v1h-1zM10 1h1v1h-1zM13 1h1v1h-1zM16 1h1v1h-1zM21 1h1v1h-1zM23 1h2v1h-2zM29 1h1v1h-1zM31 1h1v1h-1zM34 1h1v1h-1zM37 1h2v1h-2zM42 1h1v1h-1zM44 1h1v1h-1zM51 1h1v1h-1zM0 2h1v1h-1zM10 2h2v1h-2zM17 2h1v1h-1zM24 2h1v1h-1zM34 2h1v1h-1zM37 2h2v1h-2zM41 2h4v1h-4zM0 3h1v1h-1zM25 3h1v1h-1zM28 3h1v1h-1zM30 3h1v1h-1zM34 3h1v1h-1zM49 3h1v1h-1zM53 3h1v1h-1zM1 4h1v1h-1zM10 4h2v1h-2zM45 4h1v1h-1zM47 4h1v1h-1zM54 4h1v1h-1zM7 5h1v1h-1zM15 5h1v1h-1zM17 5h1v1h-1zM23 5h1v1h-1zM34 5h1v1h-1zM46 5h1v1h-1zM51 5h1v1h-1zM13 6h2v1h-2zM27 6h1v1h-1zM34 6h1v1h-1zM41 6h1v1h-1zM6 7h1v1h-1zM14 7h1v1h-1zM22 7h2v1h-2zM25 7h1v1h-1zM30 7h3v1h-3zM35 7h1v1h-1zM38 7h1v1h-1zM50 7h1v1h-1zM0 8h1v1h-1zM25 8h1v1h-1zM27 8h1v1h-1zM33 8h2v1h-2zM38 8h1v1h-1zM49 8h1v1h-1zM0 9h1v1h-1zM6 9h1v1h-1zM8 9h1v1h-1zM11 9h1v1h-1zM14 9h1v1h-1zM25 9h1v1h-1zM32 9h4v1h-4zM40 9h2v1h-2zM50 9h1v1h-1zM14 10h1v1h-1zM23 10h1v1h-1zM27 10h1v1h-1zM33 10h1v1h-1zM41 10h1v1h-1zM52 10h2v1h-2zM28 11h1v1h-1zM34 11h2v1h-2zM52 11h1v1h-1zM54 11h1v1h-1zM2 12h1v1h-1zM28 12h2v1h-2zM32 12h1v1h-1zM34 12h2v1h-2zM40 12h1v1h-1zM52 12h2v1h-2zM1 13h2v1h-2zM6 13h2v1h-2zM14 13h2v1h-2zM18 13h3v1h-3zM22 13h1v1h-1zM24 13h1v1h-1zM26 13h1v1h-1zM28 13h3v1h-3zM32 13h4v1h-4zM38 13h1v1h-1zM44 13h2v1h-2zM48 13h1v1h-1zM52 13h1v1h-1zM27 14h1v1h-1zM34 14h1v1h-1zM38 14h1v1h-1zM42 14h1v1h-1zM45 14h1v1h-1zM54 14h1v1h-1zM6 15h1v1h-1zM12 15h1v1h-1zM18 15h1v1h-1zM25 15h1v1h-1zM29 15h2v1h-2zM34 15h2v1h-2zM1 16h1v1h-1zM6 16h1v1h-1zM17 16h2v1h-2zM22 16h1v1h-1zM26 16h1v1h-1zM28 16h1v1h-1zM33 16h1v1h-1zM35 16h1v1h-1zM40 16h2v1h-2zM46 16h2v1h-2zM52 16h2v1h-2zM3 17h1v1h-1zM6 17h1v1h-1zM8 17h1v1h-1zM12 17h3v1h-3zM16 17h1v1h-1zM18 17h1v1h-1zM25 17h1v1h-1zM27 17h4v1h-4zM32 17h1v1h-1zM34 17h2v1h-2zM52 17h2v1h-2zM2 18h1v1h-1zM9 18h1v1h-1zM12 18h1v1h-1zM29 18h1v1h-1zM34 18h1v1h-1zM0 19h1v1h-1zM3 19h1v1h-1zM7 19h1v1h-1zM34 19h1v1h-1zM37 19h3v1h-3zM41 19h3v1h-3zM45 19h1v1h-1zM47 19h1v1h-1zM1 20h1v1h-1zM3 20h3v1h-3zM7 20h1v1h-1zM9 20h1v1h-1zM14 20h2v1h-2zM17 20h2v1h-2zM26 20h5v1h-5zM35 20h3v1h-3zM39 20h5v1h-5zM45 20h2v1h-2zM48 20h2v1h-2zM51 20h4v1h-4zM0 21h1v1h-1zM16 21h1v1h-1zM23 21h1v1h-1zM38 21h1v1h-1zM41 21h1v1h-1zM44 21h3v1h-3zM0 22h1v1h-1zM3 22h2v1h-2zM11 22h1v1h-1zM14 22h1v1h-1zM37 22h1v1h-1zM41 22h2v1h-2zM45 22h1v1h-1zM47 22h1v1h-1zM0 23h1v1h-1zM4 23h1v1h-1zM7 23h1v1h-1zM11 23h1v1h-1zM15 23h1v1h-1zM21 23h1v1h-1zM47 23h1v1h-1zM53 23h1v1h-1zM0 24h2v1h-2zM3 24h1v1h-1zM13 24h1v1h-1zM17 24h1v1h-1zM20 24h2v1h-2zM34 24h1v1h-1zM37 24h1v1h-1zM39 24h1v1h-1zM41 24h1v1h-1zM47 24h1v1h-1zM51 24h1v1h-1zM1 25h1v1h-1zM3 25h2v1h-2zM7 25h1v1h-1zM11 25h1v1h-1zM13 25h2v1h-2zM20 25h2v1h-2zM24 25h1v1h-1zM34 25h1v1h-1zM36 25h2v1h-2zM39 25h1v1h-1zM41 25h2v1h-2zM53 25h1v1h-1zM0 26h1v1h-1zM4 26h1v1h-1zM20 26h1v1h-1zM34 26h1v1h-1zM37 26h2v1h-2zM41 26h3v1h-3zM51 26h1v1h-1zM0 27h1v1h-1zM2 27h1v1h-1zM5 27h1v1h-1zM19 27h1v1h-1zM34 27h1v1h-1zM37 27h1v1h-1zM40 27h1v1h-1zM44 27h1v1h-1zM46 27h1v1h-1zM48 27h1v1h-1zM0 28h1v1h-1zM13 28h2v1h-2zM34 28h1v1h-1zM38 28h1v1h-1zM41 28h1v1h-1zM54 28h1v1h-1zM4 29h1v1h-1zM7 29h1v1h-1zM12 29h1v1h-1zM16 29h2v1h-2zM21 29h1v1h-1zM37 29h1v1h-1zM39 29h1v1h-1zM45 29h3v1h-3zM51 29h1v1h-1zM0 30h1v1h-1zM12 30h2v1h-2zM18 30h1v1h-1zM22 30h1v1h-1zM29 30h1v1h-1zM41 30h1v1h-1zM52 30h2v1h-2zM8 31h1v1h-1zM13 31h1v1h-1zM20 31h2v1h-2zM33 31h1v1h-1zM44 31h1v1h-1zM47 31h1v1h-1zM49 31h1v1h-1zM53 31h1v1h-1zM1 32h1v1h-1zM3 32h1v1h-1zM7 32h1v1h-1zM9 32h1v1h-1zM11 32h1v1h-1zM13 32h1v1h-1zM21 32h1v1h-1zM24 32h1v1h-1zM38 32h1v1h-1zM41 32h1v1h-1zM47 32h1v1h-1zM0 33h1v1h-1zM6 33h1v1h-1zM14 33h1v1h-1zM22 33h2v1h-2zM25 33h1v1h-1zM29 33h3v1h-3zM53 33h1v1h-1zM14 34h1v1h-1zM23 34h1v1h-1zM28 34h3v1h-3zM41 34h1v1h-1zM14 35h1v1h-1zM27 35h1v1h-1zM41 35h1v1h-1zM0 36h2v1h-2zM7 36h1v1h-1zM9 36h2v1h-2zM13 36h1v1h-1zM24 36h1v1h-1zM34 36h1v1h-1zM37 36h3v1h-3zM41 36h1v1h-1zM25 37h1v1h-1zM30 37h1v1h-1zM34 37h1v1h-1zM38 37h1v1h-1zM49 37h1v1h-1zM52 37h1v1h-1zM14 38h1v1h-1zM25 38h1v1h-1zM33 38h1v1h-1zM37 38h1v1h-1zM53 38h1v1h-1zM12 39h3v1h-3zM31 39h1v1h-1zM34 39h1v1h-1zM41 39h1v1h-1zM49 39h1v1h-1zM0 40h1v1h-1zM3 40h3v1h-3zM8 40h1v1h-1zM11 40h1v1h-1zM15 40h2v1h-2zM19 40h3v1h-3zM26 40h1v1h-1zM29 40h1v1h-1zM32 40h1v1h-1zM34 40h1v1h-1zM37 40h1v1h-1zM41 40h1v1h-1zM44 40h2v1h-2zM47 40h2v1h-2zM8 41h1v1h-1zM15 41h1v1h-1zM18 41h1v1h-1zM22 41h3v1h-3zM26 41h1v1h-1zM29 41h2v1h-2zM37 41h1v1h-1zM48 41h1v1h-1zM53 41h1v1h-1zM0 42h2v1h-2zM3 42h1v1h-1zM5 42h1v1h-1zM7 42h1v1h-1zM10 42h1v1h-1zM15 42h1v1h-1zM24 42h2v1h-2zM36 42h2v1h-2zM39 42h1v1h-1zM2 43h1v1h-1zM14 43h1v1h-1zM22 43h1v1h-1zM29 43h1v1h-1zM31 43h2v1h-2zM45 43h1v1h-1zM50 43h1v1h-1zM52 43h1v1h-1zM0 44h1v1h-1zM2 44h1v1h-1zM12 44h1v1h-1zM18 44h1v1h-1zM50 44h1v1h-1zM52 44h2v1h-2zM6 45h1v1h-1zM18 45h1v1h-1zM22 45h1v1h-1zM34 45h1v1h-1zM36 45h1v1h-1zM0 46h1v1h-1zM13 46h2v1h-2zM23 46h1v1h-1zM37 46h1v1h-1zM45 46h1v1h-1zM6 47h1v1h-1zM12 47h1v1h-1zM18 47h1v1h-1zM22 47h1v1h-1zM25 47h1v1h-1zM29 47h1v1h-1zM31 47h1v1h-1zM34 47h2v1h-2zM41 47h1v1h-1zM49 47h1v1h-1zM53 47h1v1h-1zM1 48h1v1h-1zM7 48h1v1h-1zM9 48h1v1h-1zM21 48h1v1h-1zM37 48h3v1h-3zM41 48h1v1h-1zM45 48h1v1h-1zM47 48h1v1h-1zM12 49h1v1h-1zM14 49h1v1h-1zM27 49h1v1h-1zM34 49h1v1h-1zM54 49h1v1h-1zM14 50h1v1h-1zM25 50h1v1h-1zM28 50h2v1h-2zM31 50h2v1h-2zM34 50h1v1h-1zM12 51h1v1h-1zM14 51h1v1h-1zM22 51h1v1h-1zM29 51h2v1h-2zM32 51h1v1h-1zM34 51h2v1h-2zM37 51h1v1h-1zM0 52h1v1h-1zM10 52h2v1h-2zM27 52h1v1h-1zM36 52h1v1h-1zM41 52h2v1h-2zM0 53h1v1h-1zM6 53h1v1h-1zM12 53h1v1h-1zM18 53h1v1h-1zM22 53h1v1h-1zM29 53h2v1h-2zM34 53h1v1h-1zM38 53h1v1h-1zM41 53h1v1h-1zM50 53h1v1h-1zM53 53h1v1h-1zM1 54h2v1h-2zM8 54h1v1h-1zM10 54h1v1h-1zM12 54h1v1h-1zM14 54h1v1h-1zM18 54h1v1h-1zM21 54h1v1h-1zM24 54h1v1h-1zM26 54h3v1h-3zM30 54h4v1h-4zM35 54h1v1h-1zM45 54h2v1h-2zM51 54h3v1h-3z"/><path fill="#f7f1ff" stroke="#f7f1ff" d="M8 0h1v1h-1zM14 0h1v1h-1zM36 0h2v1h-2zM39 0h1v1h-1zM48 0h1v1h-1zM2 1h1v1h-1zM14 1h1v1h-1zM18 1h1v1h-1zM25 1h1v1h-1zM32 1h2v1h-2zM39 1h1v1h-1zM41 1h1v1h-1zM43 1h1v1h-1zM49 1h2v1h-2zM4 2h1v1h-1zM12 2h1v1h-1zM14 2h1v1h-1zM20 2h1v1h-1zM23 2h1v1h-1zM26 2h1v1h-1zM46 2h1v1h-1zM14 3h1v1h-1zM18 3h1v1h-1zM41 3h1v1h-1zM20 4h2v1h-2zM24 4h1v1h-1zM41 4h1v1h-1zM53 4h1v1h-1zM4 5h1v1h-1zM12 5h1v1h-1zM26 5h1v1h-1zM36 5h1v1h-1zM41 5h1v1h-1zM48 5h1v1h-1zM53 5h1v1h-1zM33 6h1v1h-1zM49 6h1v1h-1zM54 6h1v1h-1zM12 7h1v1h-1zM18 7h1v1h-1zM29 7h1v1h-1zM40 7h2v1h-2zM22 8h1v1h-1zM28 8h1v1h-1zM31 8h2v1h-2zM52 8h1v1h-1zM29 9h3v1h-3zM11 10h2v1h-2zM22 10h1v1h-1zM28 10h1v1h-1zM30 10h1v1h-1zM40 10h1v1h-1zM2 11h1v1h-1zM6 11h1v1h-1zM12 11h2v1h-2zM18 11h1v1h-1zM22 11h1v1h-1zM25 11h1v1h-1zM30 11h1v1h-1zM32 11h1v1h-1zM53 11h1v1h-1zM6 12h1v1h-1zM12 12h2v1h-2zM18 12h1v1h-1zM22 12h1v1h-1zM25 12h1v1h-1zM30 12h2v1h-2zM0 13h1v1h-1zM8 13h1v1h-1zM12 13h1v1h-1zM21 13h1v1h-1zM23 13h1v1h-1zM27 13h1v1h-1zM47 13h1v1h-1zM49 13h3v1h-3zM53 13h1v1h-1zM0 14h1v1h-1zM9 14h2v1h-2zM13 14h1v1h-1zM31 14h1v1h-1zM36 14h1v1h-1zM44 14h1v1h-1zM47 14h1v1h-1zM2 15h1v1h-1zM22 15h1v1h-1zM32 15h1v1h-1zM53 15h2v1h-2zM8 16h1v1h-1zM30 16h1v1h-1zM2 17h1v1h-1zM54 17h1v1h-1zM31 18h2v1h-2zM40 18h1v1h-1zM49 18h1v1h-1zM54 18h1v1h-1zM17 19h1v1h-1zM20 19h2v1h-2zM0 20h1v1h-1zM8 20h1v1h-1zM13 20h1v1h-1zM33 20h1v1h-1zM5 21h1v1h-1zM19 21h1v1h-1zM34 21h1v1h-1zM48 21h1v1h-1zM53 21h1v1h-1zM7 22h1v1h-1zM21 22h1v1h-1zM36 22h1v1h-1zM39 22h1v1h-1zM43 22h1v1h-1zM46 22h1v1h-1zM53 22h1v1h-1zM5 23h1v1h-1zM19 23h2v1h-2zM26 23h1v1h-1zM36 23h1v1h-1zM40 23h1v1h-1zM42 23h1v1h-1zM45 23h2v1h-2zM7 24h1v1h-1zM15 24h2v1h-2zM26 24h1v1h-1zM38 24h1v1h-1zM42 24h4v1h-4zM9 25h2v1h-2zM27 25h1v1h-1zM45 25h1v1h-1zM47 25h1v1h-1zM15 26h2v1h-2zM26 26h1v1h-1zM44 26h1v1h-1zM46 26h1v1h-1zM29 27h1v1h-1zM41 27h1v1h-1zM22 28h1v1h-1zM28 28h1v1h-1zM30 28h2v1h-2zM49 28h1v1h-1zM52 28h1v1h-1zM14 29h1v1h-1zM20 29h1v1h-1zM42 29h2v1h-2zM53 29h1v1h-1zM2 30h1v1h-1zM14 30h1v1h-1zM50 30h1v1h-1zM14 31h1v1h-1zM18 31h1v1h-1zM41 31h1v1h-1zM52 31h1v1h-1zM0 32h1v1h-1zM12 32h1v1h-1zM17 32h1v1h-1zM20 32h1v1h-1zM26 32h1v1h-1zM39 32h1v1h-1zM42 32h3v1h-3zM46 32h1v1h-1zM12 33h1v1h-1zM18 33h1v1h-1zM32 33h1v1h-1zM35 33h1v1h-1zM41 33h1v1h-1zM50 33h1v1h-1zM6 34h1v1h-1zM22 34h1v1h-1zM25 34h1v1h-1zM31 34h1v1h-1zM35 34h1v1h-1zM50 34h1v1h-1zM52 34h1v1h-1zM31 35h1v1h-1zM33 35h1v1h-1zM21 36h1v1h-1zM23 36h1v1h-1zM42 36h2v1h-2zM47 36h1v1h-1zM51 36h1v1h-1zM53 36h1v1h-1zM14 37h1v1h-1zM22 37h1v1h-1zM35 37h1v1h-1zM2 38h1v1h-1zM28 38h1v1h-1zM30 38h1v1h-1zM28 39h1v1h-1zM30 39h1v1h-1zM1 40h1v1h-1zM7 40h1v1h-1zM13 40h1v1h-1zM17 40h1v1h-1zM23 40h3v1h-3zM51 40h4v1h-4zM5 41h1v1h-1zM14 41h1v1h-1zM34 41h1v1h-1zM40 41h1v1h-1zM42 41h2v1h-2zM21 42h2v1h-2zM41 42h4v1h-4zM47 42h1v1h-1zM49 42h1v1h-1zM52 42h1v1h-1zM8 43h1v1h-1zM44 43h1v1h-1zM29 44h1v1h-1zM40 44h1v1h-1zM29 45h1v1h-1zM40 45h1v1h-1zM11 46h1v1h-1zM34 46h1v1h-1zM38 46h1v1h-1zM41 46h1v1h-1zM54 46h1v1h-1zM2 47h1v1h-1zM14 47h1v1h-1zM30 47h1v1h-1zM32 47h1v1h-1zM0 48h1v1h-1zM3 48h1v1h-1zM20 48h1v1h-1zM42 48h2v1h-2zM13 49h1v1h-1zM31 49h1v1h-1zM33 49h1v1h-1zM49 50h1v1h-1zM52 50h1v1h-1zM2 51h1v1h-1zM6 51h1v1h-1zM1 52h1v1h-1zM3 52h1v1h-1zM7 52h1v1h-1zM16 52h1v1h-1zM24 52h1v1h-1zM37 52h1v1h-1zM39 52h1v1h-1zM43 52h1v1h-1zM53 52h1v1h-1zM2 53h1v1h-1zM14 53h1v1h-1zM6 54h1v1h-1zM22 54h1v1h-1zM34 54h1v1h-1zM40 54h2v1h-2z"/><path fill="#e3d0ff" stroke="#e3d0ff" d="M29 0h1v1h-1zM41 0h1v1h-1zM3 1h1v1h-1zM9 1h1v1h-1zM27 1h1v1h-1zM15 2h2v1h-2zM29 2h1v1h-1zM48 2h1v1h-1zM51 2h1v1h-1zM2 3h1v1h-1zM6 3h1v1h-1zM22 3h1v1h-1zM32 3h1v1h-1zM35 3h1v1h-1zM52 3h1v1h-1zM0 4h1v1h-1zM3 4h1v1h-1zM7 4h1v1h-1zM9 4h1v1h-1zM14 4h1v1h-1zM17 4h1v1h-1zM34 4h1v1h-1zM37 4h1v1h-1zM39 4h1v1h-1zM5 5h1v1h-1zM14 5h1v1h-1zM16 5h1v1h-1zM19 5h1v1h-1zM18 6h1v1h-1zM31 6h1v1h-1zM52 6h1v1h-1zM2 7h1v1h-1zM34 7h1v1h-1zM2 8h1v1h-1zM6 8h1v1h-1zM18 8h1v1h-1zM30 8h1v1h-1zM35 8h1v1h-1zM6 10h1v1h-1zM18 10h1v1h-1zM25 10h1v1h-1zM32 10h1v1h-1zM34 10h2v1h-2zM3 13h2v1h-2zM9 13h1v1h-1zM17 13h1v1h-1zM25 13h1v1h-1zM54 13h1v1h-1zM1 14h1v1h-1zM3 14h1v1h-1zM7 14h1v1h-1zM12 14h1v1h-1zM20 14h2v1h-2zM23 14h2v1h-2zM31 15h1v1h-1zM50 15h1v1h-1zM13 16h1v1h-1zM20 16h2v1h-2zM27 16h1v1h-1zM22 17h1v1h-1zM31 17h1v1h-1zM50 17h1v1h-1zM6 18h1v1h-1zM25 18h1v1h-1zM33 18h1v1h-1zM4 19h1v1h-1zM12 19h1v1h-1zM14 19h1v1h-1zM23 19h1v1h-1zM26 19h1v1h-1zM44 19h1v1h-1zM46 19h1v1h-1zM51 19h1v1h-1zM20 20h2v1h-2zM44 20h1v1h-1zM47 20h1v1h-1zM50 20h1v1h-1zM12 21h1v1h-1zM14 21h1v1h-1zM36 21h1v1h-1zM16 22h2v1h-2zM26 22h1v1h-1zM44 22h1v1h-1zM51 22h1v1h-1zM14 23h1v1h-1zM37 23h1v1h-1zM39 23h1v1h-1zM48 23h1v1h-1zM4 24h2v1h-2zM23 24h1v1h-1zM29 24h1v1h-1zM46 24h1v1h-1zM0 25h1v1h-1zM30 25h1v1h-1zM52 25h1v1h-1zM54 25h1v1h-1zM12 26h1v1h-1zM14 26h1v1h-1zM23 26h1v1h-1zM8 27h1v1h-1zM38 27h1v1h-1zM53 27h1v1h-1zM6 28h1v1h-1zM18 28h1v1h-1zM25 28h1v1h-1zM32 28h1v1h-1zM35 28h1v1h-1zM5 29h1v1h-1zM15 29h1v1h-1zM26 29h1v1h-1zM36 29h1v1h-1zM41 29h1v1h-1zM44 29h1v1h-1zM40 30h1v1h-1zM6 31h1v1h-1zM22 31h1v1h-1zM28 31h1v1h-1zM30 31h1v1h-1zM35 31h1v1h-1zM40 31h1v1h-1zM4 32h1v1h-1zM14 32h2v1h-2zM23 32h1v1h-1zM37 32h1v1h-1zM51 32h1v1h-1zM2 33h1v1h-1zM34 33h1v1h-1zM38 33h1v1h-1zM40 33h1v1h-1zM2 34h1v1h-1zM18 34h1v1h-1zM34 34h1v1h-1zM38 34h1v1h-1zM40 34h1v1h-1zM2 35h1v1h-1zM49 35h1v1h-1zM3 36h1v1h-1zM5 36h1v1h-1zM15 36h1v1h-1zM17 36h1v1h-1zM20 36h1v1h-1zM26 36h1v1h-1zM44 36h1v1h-1zM46 36h1v1h-1zM48 36h1v1h-1zM2 37h1v1h-1zM6 37h1v1h-1zM18 37h1v1h-1zM32 37h1v1h-1zM41 37h1v1h-1zM50 37h1v1h-1zM6 38h1v1h-1zM32 38h1v1h-1zM49 38h1v1h-1zM52 38h1v1h-1zM6 39h1v1h-1zM18 39h1v1h-1zM22 39h1v1h-1zM25 39h1v1h-1zM52 39h1v1h-1zM6 40h1v1h-1zM9 40h2v1h-2zM22 40h1v1h-1zM28 40h1v1h-1zM31 40h1v1h-1zM33 40h1v1h-1zM35 40h1v1h-1zM49 40h2v1h-2zM2 41h1v1h-1zM38 41h1v1h-1zM6 42h1v1h-1zM11 42h1v1h-1zM28 42h1v1h-1zM33 42h1v1h-1zM35 42h1v1h-1zM40 42h1v1h-1zM12 43h1v1h-1zM14 44h1v1h-1zM2 45h1v1h-1zM14 45h1v1h-1zM41 45h1v1h-1zM50 45h1v1h-1zM53 45h1v1h-1zM27 46h1v1h-1zM40 47h1v1h-1zM50 47h1v1h-1zM12 48h1v1h-1zM14 48h4v1h-4zM23 48h1v1h-1zM26 48h1v1h-1zM36 48h1v1h-1zM44 48h1v1h-1zM46 48h1v1h-1zM51 48h1v1h-1zM2 49h1v1h-1zM18 49h1v1h-1zM25 49h1v1h-1zM30 49h1v1h-1zM49 49h1v1h-1zM2 50h1v1h-1zM22 50h1v1h-1zM30 50h1v1h-1zM35 50h1v1h-1zM41 50h1v1h-1zM18 51h1v1h-1zM40 51h2v1h-2zM50 51h1v1h-1zM53 51h1v1h-1zM4 52h2v1h-2zM9 52h1v1h-1zM13 52h1v1h-1zM17 52h1v1h-1zM19 52h3v1h-3zM46 52h2v1h-2zM51 52h1v1h-1zM40 53h1v1h-1zM29 54h1v1h-1zM50 54h1v1h-1z"/><path fill="#c8a7ff" stroke="#c8a7ff" d="M52 0h2v1h-2zM6 1h1v1h-1zM11 1h1v1h-1zM22 1h1v1h-1zM28 1h1v1h-1zM30 1h1v1h-1zM35 1h1v1h-1zM40 1h1v1h-1zM52 1h1v1h-1zM54 1h1v1h-1zM5 2h1v1h-1zM8 2h1v1h-1zM19 2h1v1h-1zM36 2h1v1h-1zM53 2h2v1h-2zM50 3h1v1h-1zM12 4h1v1h-1zM15 4h2v1h-2zM26 4h1v1h-1zM29 4h1v1h-1zM38 4h1v1h-1zM42 4h3v1h-3zM46 4h1v1h-1zM51 4h1v1h-1zM2 6h1v1h-1zM6 6h1v1h-1zM22 6h1v1h-1zM25 6h1v1h-1zM28 6h1v1h-1zM30 6h1v1h-1zM32 6h1v1h-1zM40 6h1v1h-1zM40 8h1v1h-1zM50 8h1v1h-1zM2 10h1v1h-1zM31 10h1v1h-1zM50 10h1v1h-1zM31 11h1v1h-1zM50 11h1v1h-1zM50 12h1v1h-1zM10 13h1v1h-1zM31 13h1v1h-1zM4 14h2v1h-2zM15 14h1v1h-1zM26 14h1v1h-1zM29 14h1v1h-1zM46 14h1v1h-1zM48 14h1v1h-1zM53 14h1v1h-1zM29 16h1v1h-1zM50 16h1v1h-1zM13 18h1v1h-1zM18 18h1v1h-1zM22 18h1v1h-1zM27 18h2v1h-2zM30 18h1v1h-1zM35 18h1v1h-1zM52 18h1v1h-1zM15 19h2v1h-2zM29 19h1v1h-1zM36 19h1v1h-1zM53 19h1v1h-1zM8 21h1v1h-1zM29 21h1v1h-1zM5 22h1v1h-1zM15 22h1v1h-1zM20 22h1v1h-1zM48 22h1v1h-1zM8 23h1v1h-1zM29 23h1v1h-1zM41 23h1v1h-1zM43 23h2v1h-2zM12 24h1v1h-1zM36 24h1v1h-1zM48 24h1v1h-1zM53 24h1v1h-1zM2 25h1v1h-1zM6 25h1v1h-1zM18 25h1v1h-1zM22 25h1v1h-1zM25 25h1v1h-1zM28 25h1v1h-1zM31 25h1v1h-1zM33 25h1v1h-1zM35 25h1v1h-1zM38 25h1v1h-1zM40 25h1v1h-1zM50 25h1v1h-1zM5 26h1v1h-1zM19 26h1v1h-1zM29 26h1v1h-1zM36 26h1v1h-1zM48 26h1v1h-1zM53 26h1v1h-1zM14 27h1v1h-1zM36 27h1v1h-1zM2 28h1v1h-1zM40 28h1v1h-1zM50 28h1v1h-1zM19 29h1v1h-1zM29 29h1v1h-1zM48 29h1v1h-1zM5 32h1v1h-1zM8 32h1v1h-1zM16 32h1v1h-1zM19 32h1v1h-1zM29 32h1v1h-1zM36 32h1v1h-1zM48 32h1v1h-1zM53 32h1v1h-1zM32 34h1v1h-1zM6 35h1v1h-1zM18 35h1v1h-1zM22 35h1v1h-1zM25 35h1v1h-1zM28 35h1v1h-1zM52 35h1v1h-1zM4 36h1v1h-1zM14 36h1v1h-1zM16 36h1v1h-1zM19 36h1v1h-1zM29 36h1v1h-1zM36 36h1v1h-1zM18 38h1v1h-1zM22 38h1v1h-1zM35 38h1v1h-1zM50 38h1v1h-1zM2 39h1v1h-1zM32 39h1v1h-1zM35 39h1v1h-1zM40 39h1v1h-1zM50 39h1v1h-1zM18 40h1v1h-1zM27 40h1v1h-1zM36 41h1v1h-1zM30 42h1v1h-1zM50 42h1v1h-1zM53 43h1v1h-1zM41 44h1v1h-1zM2 46h1v1h-1zM22 46h1v1h-1zM31 46h1v1h-1zM33 46h1v1h-1zM52 46h1v1h-1zM4 48h2v1h-2zM19 48h1v1h-1zM29 48h1v1h-1zM48 48h1v1h-1zM53 48h1v1h-1zM6 49h1v1h-1zM22 49h1v1h-1zM28 49h1v1h-1zM32 49h1v1h-1zM40 49h1v1h-1zM52 49h1v1h-1zM6 50h1v1h-1zM18 50h1v1h-1zM40 50h1v1h-1zM8 52h1v1h-1zM15 52h1v1h-1zM26 52h1v1h-1zM29 52h1v1h-1zM44 52h1v1h-1zM48 52h1v1h-1z"/><path fill="#ff0000" stroke="#ff0000" d="M54 0h1v1h-1zM53 1h1v1h-1zM52 2h1v1h-1zM51 3h1v1h-1zM50 4h1v1h-1zM49 5h1v1h-1zM48 6h1v1h-1zM47 7h1v1h-1zM46 8h1v1h-1zM45 9h1v1h-1zM44 10h1v1h-1zM43 11h1v1h-1zM42 12h1v1h-1zM41 13h1v1h-1zM40 14h1v1h-1zM39 15h1v1h-1zM38 16h1v1h-1zM37 17h1v1h-1zM36 18h1v1h-1zM35 19h1v1h-1zM34 20h1v1h-1zM33 21h1v1h-1zM32 22h1v1h-1zM31 23h1v1h-1zM30 24h1v1h-1zM29 25h1v1h-1zM28 26h1v1h-1zM27 27h1v1h-1zM26 28h1v1h-1zM25 29h1v1h-1zM24 30h1v1h-1zM23 31h1v1h-1zM22 32h1v1h-1zM21 33h1v1h-1zM20 34h1v1h-1zM19 35h1v1h-1zM18 36h1v1h-1zM17 37h1v1h-1zM16 38h1v1h-1zM15 39h1v1h-1zM14 40h1v1h-1zM13 41h1v1h-1zM12 42h1v1h-1zM11 43h1v1h-1zM10 44h1v1h-1zM9 45h1v1h-1zM8 46h1v1h-1zM7 47h1v1h-1zM6 48h1v1h-1zM5 49h1v1h-1zM4 50h1v1h-1zM3 51h1v1h-1zM2 52h1v1h-1zM1 53h1v1h-1zM0 54h1v1h-1z"/><path fill="#ff7857" stroke="#ff7857" d="M22 2h1v1h-1zM28 2h1v1h-1zM35 2h1v1h-1zM4 3h2v1h-2zM10 3h1v1h-1zM16 3h1v1h-1zM19 3h3v1h-3zM26 3h1v1h-1zM47 3h2v1h-2zM4 6h1v1h-1zM7 6h1v1h-1zM20 6h1v1h-1zM26 6h1v1h-1zM51 6h1v1h-1zM7 7h1v1h-1zM10 7h1v1h-1zM15 7h1v1h-1zM20 7h1v1h-1zM24 7h1v1h-1zM51 7h1v1h-1zM4 8h1v1h-1zM11 11h1v1h-1zM36 11h2v1h-2zM1 12h1v1h-1zM4 12h2v1h-2zM7 12h1v1h-1zM11 12h1v1h-1zM15 12h1v1h-1zM19 12h1v1h-1zM23 12h2v1h-2zM36 12h2v1h-2zM1 15h1v1h-1zM7 15h1v1h-1zM11 15h1v1h-1zM15 15h1v1h-1zM19 15h1v1h-1zM24 15h1v1h-1zM37 15h1v1h-1zM2 16h1v1h-1zM23 16h1v1h-1zM39 17h1v1h-1zM42 17h2v1h-2zM5 18h1v1h-1zM15 18h1v1h-1zM19 18h1v1h-1zM42 18h2v1h-2zM18 19h1v1h-1zM22 19h1v1h-1zM25 19h1v1h-1zM30 19h1v1h-1zM33 19h1v1h-1zM52 19h1v1h-1zM6 21h1v1h-1zM22 21h1v1h-1zM28 21h1v1h-1zM35 21h1v1h-1zM2 22h1v1h-1zM6 22h1v1h-1zM22 24h1v1h-1zM28 24h1v1h-1zM35 24h1v1h-1zM22 26h1v1h-1zM30 26h1v1h-1zM33 26h1v1h-1zM52 26h1v1h-1zM1 27h1v1h-1zM10 27h1v1h-1zM21 27h2v1h-2zM1 28h1v1h-1zM4 28h1v1h-1zM7 28h2v1h-2zM15 28h1v1h-1zM17 28h1v1h-1zM19 28h3v1h-3zM48 28h1v1h-1zM51 28h1v1h-1zM35 29h1v1h-1zM4 30h1v1h-1zM7 30h1v1h-1zM10 30h1v1h-1zM15 30h1v1h-1zM17 30h1v1h-1zM21 30h1v1h-1zM39 30h1v1h-1zM42 30h1v1h-1zM47 30h1v1h-1zM38 31h1v1h-1zM42 31h1v1h-1zM27 32h2v1h-2zM30 32h1v1h-1zM33 32h1v1h-1zM35 32h1v1h-1zM52 32h1v1h-1zM1 33h1v1h-1zM15 33h1v1h-1zM17 33h1v1h-1zM20 33h1v1h-1zM24 33h1v1h-1zM26 33h2v1h-2zM51 33h1v1h-1zM1 34h1v1h-1zM15 34h1v1h-1zM17 34h1v1h-1zM21 34h1v1h-1zM26 34h1v1h-1zM47 34h2v1h-2zM51 34h1v1h-1zM1 35h1v1h-1zM3 35h3v1h-3zM7 35h2v1h-2zM16 35h2v1h-2zM26 35h1v1h-1zM36 35h1v1h-1zM39 35h1v1h-1zM42 35h1v1h-1zM51 35h1v1h-1zM35 36h1v1h-1zM1 37h1v1h-1zM3 37h2v1h-2zM7 37h1v1h-1zM9 37h1v1h-1zM15 37h2v1h-2zM19 37h3v1h-3zM24 37h1v1h-1zM26 37h1v1h-1zM3 38h2v1h-2zM17 38h1v1h-1zM19 38h1v1h-1zM51 38h1v1h-1zM1 39h1v1h-1zM4 39h2v1h-2zM7 39h1v1h-1zM17 39h1v1h-1zM20 39h2v1h-2zM24 39h1v1h-1zM26 39h1v1h-1zM36 39h1v1h-1zM39 39h1v1h-1zM42 39h1v1h-1zM47 39h1v1h-1zM39 43h1v1h-1zM42 43h2v1h-2zM1 44h1v1h-1zM24 44h1v1h-1zM27 44h1v1h-1zM47 44h1v1h-1zM51 44h1v1h-1zM3 45h1v1h-1zM17 45h1v1h-1zM19 46h1v1h-1zM26 46h1v1h-1zM1 47h1v1h-1zM15 47h1v1h-1zM17 47h1v1h-1zM19 47h1v1h-1zM24 47h1v1h-1zM26 47h1v1h-1zM39 47h1v1h-1zM42 47h1v1h-1zM47 47h2v1h-2zM32 48h2v1h-2zM15 49h1v1h-1zM19 49h1v1h-1zM36 49h1v1h-1zM42 49h1v1h-1zM51 49h1v1h-1zM1 50h1v1h-1zM3 50h1v1h-1zM15 50h3v1h-3zM19 50h1v1h-1zM24 50h1v1h-1zM26 50h1v1h-1zM42 50h1v1h-1zM46 50h1v1h-1zM48 50h1v1h-1zM51 50h1v1h-1zM4 51h1v1h-1zM9 51h1v1h-1zM16 51h2v1h-2zM19 51h1v1h-1zM32 52h1v1h-1zM38 52h1v1h-1zM4 53h1v1h-1zM7 53h1v1h-1zM10 53h1v1h-1zM15 53h1v1h-1zM17 53h1v1h-1zM19 53h3v1h-3zM26 53h2v1h-2zM39 53h1v1h-1zM42 53h1v1h-1z"/><path fill="#ff4a2c" stroke="#ff4a2c" d="M1 3h1v1h-1zM7 3h1v1h-1zM15 3h1v1h-1zM17 3h1v1h-1zM24 3h1v1h-1zM5 6h1v1h-1zM15 6h1v1h-1zM19 6h1v1h-1zM1 7h1v1h-1zM21 7h1v1h-1zM39 11h1v1h-1zM42 11h1v1h-1zM39 12h1v1h-1zM43 12h1v1h-1zM42 15h2v1h-2zM6 19h1v1h-1zM28 19h1v1h-1zM6 24h1v1h-1zM6 26h1v1h-1zM35 26h1v1h-1zM1 30h1v1h-1zM51 30h1v1h-1zM47 33h1v1h-1zM15 35h1v1h-1zM48 35h1v1h-1zM51 37h1v1h-1zM19 39h1v1h-1zM48 39h1v1h-1zM51 39h1v1h-1zM51 47h1v1h-1zM28 48h1v1h-1zM30 48h1v1h-1zM35 48h1v1h-1zM48 49h1v1h-1zM24 53h1v1h-1zM47 53h1v1h-1zM51 53h1v1h-1z"/><path fill="#9c70ff" stroke="#9c70ff" d="M40 3h1v1h-1zM4 4h2v1h-2zM8 4h1v1h-1zM19 4h1v1h-1zM23 4h1v1h-1zM36 4h1v1h-1zM48 4h1v1h-1zM8 5h1v1h-1zM29 5h1v1h-1zM35 6h1v1h-1zM50 6h1v1h-1zM16 13h1v1h-1zM8 14h1v1h-1zM16 14h2v1h-2zM19 14h1v1h-1zM51 14h1v1h-1zM50 18h1v1h-1zM5 19h1v1h-1zM8 19h1v1h-1zM19 19h1v1h-1zM48 19h1v1h-1zM8 22h1v1h-1zM19 22h1v1h-1zM29 22h1v1h-1zM8 24h1v1h-1zM14 24h1v1h-1zM19 24h1v1h-1zM32 25h1v1h-1zM49 25h1v1h-1zM8 26h1v1h-1zM8 29h1v1h-1zM50 31h1v1h-1zM30 35h1v1h-1zM32 35h1v1h-1zM35 35h1v1h-1zM40 35h1v1h-1zM50 35h1v1h-1zM8 36h1v1h-1zM40 37h1v1h-1zM40 38h2v1h-2zM30 40h1v1h-1zM6 46h1v1h-1zM18 46h1v1h-1zM25 46h1v1h-1zM28 46h1v1h-1zM30 46h1v1h-1zM32 46h1v1h-1zM35 46h1v1h-1zM40 46h1v1h-1zM49 46h2v1h-2zM8 48h1v1h-1zM35 49h1v1h-1zM50 49h1v1h-1zM50 50h1v1h-1z"/></g>
<path d="M714 876.1h1.6M718.8 879.8v1.6M714 869.3h1.6M724.7 879.8v1.6M714 862.5h1.6M730.6 879.8v1.6M714 855.6h1.6M736.4 879.8v1.6M714 848.8h1.6M742.3 879.8v1.6M714 842.0h1.6M748.2 879.8v1.6M714 835.2h1.6M754.1 879.8v1.6M714 828.3h1.6M759.9 879.8v1.6M714 821.5h1.6M765.8 879.8v1.6M714 814.7h1.6M771.7 879.8v1.6M714 807.8h1.6M777.5 879.8v1.6M714 801.0h1.6M783.4 879.8v1.6M714 794.2h1.6M789.3 879.8v1.6M714 787.3h1.6M795.1 879.8v1.6M714 780.5h1.6M801.0 879.8v1.6M714 773.7h1.6M806.9 879.8v1.6M714 766.9h1.6M812.8 879.8v1.6M714 760.0h1.6M818.6 879.8v1.6M714 753.2h1.6M824.5 879.8v1.6M714 746.4h1.6M830.4 879.8v1.6M714 739.5h1.6M836.2 879.8v1.6M714 732.7h1.6M842.1 879.8v1.6M714 725.9h1.6M848.0 879.8v1.6M714 719.0h1.6M853.8 879.8v1.6M714 712.2h1.6M859.7 879.8v1.6M714 705.4h1.6M865.6 879.8v1.6M714 698.6h1.6M871.5 879.8v1.6M714 691.7h1.6M877.3 879.8v1.6M714 684.9h1.6M883.2 879.8v1.6M714 678.1h1.6M889.1 879.8v1.6M714 671.2h1.6M894.9 879.8v1.6M714 664.4h1.6M900.8 879.8v1.6M714 657.6h1.6M906.7 879.8v1.6M714 650.7h1.6M912.5 879.8v1.6M714 643.9h1.6M918.4 879.8v1.6M714 637.1h1.6M924.3 879.8v1.6M714 630.3h1.6M930.2 879.8v1.6M714 623.4h1.6M936.0 879.8v1.6M714 616.6h1.6M941.9 879.8v1.6M714 609.8h1.6M947.8 879.8v1.6M714 602.9h1.6M953.6 879.8v1.6M714 596.1h1.6M959.5 879.8v1.6M714 589.3h1.6M965.4 879.8v1.6M714 582.4h1.6M971.2 879.8v1.6M714 575.6h1.6M977.1 879.8v1.6M714 568.8h1.6M983.0 879.8v1.6M714 562.0h1.6M988.9 879.8v1.6M714 555.1h1.6M994.7 879.8v1.6M714 548.3h1.6M1000.6 879.8v1.6M714 541.5h1.6M1006.5 879.8v1.6M714 534.6h1.6M1012.3 879.8v1.6M714 527.8h1.6M1018.2 879.8v1.6M714 521.0h1.6M1024.1 879.8v1.6M714 514.1h1.6M1029.9 879.8v1.6M714 507.3h1.6M1035.8 879.8v1.6" stroke="#222" stroke-width="0.8" fill="none"/>
<text transform="translate(713.20,877.53)" text-anchor="end" font-size="4.5" font-weight="bold" fill="#444">ACP5</text>
<text transform="translate(720.03,882.75) rotate(-45)" text-anchor="end" font-size="4.5" font-weight="bold" fill="#444">ACP5</text>
<text transform="translate(713.20,870.71)" text-anchor="end" font-size="4.5" font-weight="bold" fill="#444">ALOX5AP</text>
<text transform="translate(725.90,882.75) rotate(-45)" text-anchor="end" font-size="4.5" font-weight="bold" fill="#444">ALOX5AP</text>
<text transform="translate(713.20,863.87)" text-anchor="end" font-size="4.5" font-weight="bold" fill="#444">ASS1</text>
<text transform="translate(731.77,882.75) rotate(-45)" text-anchor="end" font-size="4.5" font-weight="bold" fill="#444">ASS1</text>
<text transform="translate(713.20,857.04)" text-anchor="end" font-size="4.5" font-weight="bold" fill="#444">CAPG</text>
<text transform="translate(737.64,882.75) rotate(-45)" text-anchor="end" font-size="4.5" font-weight="bold" fill="#444">CAPG</text>
<text transform="translate(713.20,850.22)" text-anchor="end" font-size="4.5" font-weight="bold" fill="#444">CD68</text>
<text transform="translate(743.51,882.75) rotate(-45)" text-anchor="end" font-size="4.5" font-weight="bold" fill="#444">CD68</text>
<text transform="translate(713.20,843.38)" text-anchor="end" font-size="4.5" font-weight="bold" fill="#444">CFB</text>
<text transform="translate(749.38,882.75) rotate(-45)" text-anchor="end" font-size="4.5" font-weight="bold" fill="#444">CFB</text>
<text transform="translate(713.20,836.55)" text-anchor="end" font-size="4.5" font-weight="bold" fill="#444">COX5A</text>
<text transform="translate(755.25,882.75) rotate(-45)" text-anchor="end" font-size="4.5" font-weight="bold" fill="#444">COX5A</text>
<text transform="translate(713.20,829.73)" text-anchor="end" font-size="4.5" font-weight="bold" fill="#444">CSTB</text>
<text transform="translate(761.12,882.75) rotate(-45)" text-anchor="end" font-size="4.5" font-weight="bold" fill="#444">CSTB</text>
<text transform="translate(713.20,822.89)" text-anchor="end" font-size="4.5" font-weight="bold" fill="#444">CTSB</text>
<text transform="translate(767.00,882.75) rotate(-45)" text-anchor="end" font-size="4.5" font-weight="bold" fill="#444">CTSB</text>
<text transform="translate(713.20,816.06)" text-anchor="end" font-size="4.5" font-weight="bold" fill="#444">CTSD</text>
<text transform="translate(772.87,882.75) rotate(-45)" text-anchor="end" font-size="4.5" font-weight="bold" fill="#444">CTSD</text>
<text transform="translate(713.20,809.24)" text-anchor="end" font-size="4.5" font-weight="bold" fill="#444">CTSS</text>
<text transform="translate(778.74,882.75) rotate(-45)" text-anchor="end" font-size="4.5" font-weight="bold" fill="#444">CTSS</text>
<text transform="translate(713.20,802.40)" text-anchor="end" font-size="4.5" font-weight="bold" fill="#444">EEF1A1</text>
<text transform="translate(784.61,882.75) rotate(-45)" text-anchor="end" font-size="4.5" font-weight="bold" fill="#444">EEF1A1</text>
<text transform="translate(713.20,795.57)" text-anchor="end" font-size="4.5" font-weight="bold" fill="#444">EIF5A</text>
<text transform="translate(790.48,882.75) rotate(-45)" text-anchor="end" font-size="4.5" font-weight="bold" fill="#444">EIF5A</text>
<text transform="translate(713.20,788.75)" text-anchor="end" font-size="4.5" font-weight="bold" fill="#444">ENO1</text>
<text transform="translate(796.35,882.75) rotate(-45)" text-anchor="end" font-size="4.5" font-weight="bold" fill="#444">ENO1</text>
<text transform="translate(713.20,781.91)" text-anchor="end" font-size="4.5" font-weight="bold" fill="#444">F10</text>
<text transform="translate(802.22,882.75) rotate(-45)" text-anchor="end" font-size="4.5" font-weight="bold" fill="#444">F10</text>
<text transform="translate(713.20,775.08)" text-anchor="end" font-size="4.5" font-weight="bold" fill="#444">GBP2</text>
<text transform="translate(808.09,882.75) rotate(-45)" text-anchor="end" font-size="4.5" font-weight="bold" fill="#444">GBP2</text>
<text transform="translate(713.20,768.25)" text-anchor="end" font-size="4.5" font-weight="bold" fill="#444">GPNMB</text>
<text transform="translate(813.96,882.75) rotate(-45)" text-anchor="end" font-size="4.5" font-weight="bold" fill="#444">GPNMB</text>
<text transform="translate(713.20,761.42)" text-anchor="end" font-size="4.5" font-weight="bold" fill="#444">GRN</text>
<text transform="translate(819.83,882.75) rotate(-45)" text-anchor="end" font-size="4.5" font-weight="bold" fill="#444">GRN</text>
<text transform="translate(713.20,754.59)" text-anchor="end" font-size="4.5" font-weight="bold" fill="#444">HEXA</text>
<text transform="translate(825.70,882.75) rotate(-45)" text-anchor="end" font-size="4.5" font-weight="bold" fill="#444">HEXA</text>
<text transform="translate(713.20,747.76)" text-anchor="end" font-size="4.5" font-weight="bold" fill="#444">IFNGR1</text>
<text transform="translate(831.57,882.75) rotate(-45)" text-anchor="end" font-size="4.5" font-weight="bold" fill="#444">IFNGR1</text>
<text transform="translate(713.20,740.93)" text-anchor="end" font-size="4.5" font-weight="bold" fill="#444">IRF7</text>
<text transform="translate(837.44,882.75) rotate(-45)" text-anchor="end" font-size="4.5" font-weight="bold" fill="#444">IRF7</text>
<text transform="translate(713.20,734.10)" text-anchor="end" font-size="4.5" font-weight="bold" fill="#444">ISG15</text>
<text transform="translate(843.31,882.75) rotate(-45)" text-anchor="end" font-size="4.5" font-weight="bold" fill="#444">ISG15</text>
<text transform="translate(713.20,727.27)" text-anchor="end" font-size="4.5" font-weight="bold" fill="#444">LDHA</text>
<text transform="translate(849.17,882.75) rotate(-45)" text-anchor="end" font-size="4.5" font-weight="bold" fill="#444">LDHA</text>
<text transform="translate(713.20,720.44)" text-anchor="end" font-size="4.5" font-weight="bold" fill="#444">LGALS3</text>
<text transform="translate(855.05,882.75) rotate(-45)" text-anchor="end" font-size="4.5" font-weight="bold" fill="#444">LGALS3</text>
<text transform="translate(713.20,713.61)" text-anchor="end" font-size="4.5" font-weight="bold" fill="#444">LY86</text>
<text transform="translate(860.91,882.75) rotate(-45)" text-anchor="end" font-size="4.5" font-weight="bold" fill="#444">LY86</text>
<text transform="translate(713.20,706.78)" text-anchor="end" font-size="4.5" font-weight="bold" fill="#444">MIF</text>
<text transform="translate(866.79,882.75) rotate(-45)" text-anchor="end" font-size="4.5" font-weight="bold" fill="#444">MIF</text>
<text transform="translate(713.20,699.95)" text-anchor="end" font-size="4.5" font-weight="bold" fill="#444">MRPL52</text>
<text transform="translate(872.65,882.75) rotate(-45)" text-anchor="end" font-size="4.5" font-weight="bold" fill="#444">MRPL52</text>
<text transform="translate(713.20,693.12)" text-anchor="end" font-size="4.5" font-weight="bold" fill="#444">PCBP1</text>
<text transform="translate(878.53,882.75) rotate(-45)" text-anchor="end" font-size="4.5" font-weight="bold" fill="#444">PCBP1</text>
<text transform="translate(713.20,686.29)" text-anchor="end" font-size="4.5" font-weight="bold" fill="#444">PGAM1</text>
<text transform="translate(884.39,882.75) rotate(-45)" text-anchor="end" font-size="4.5" font-weight="bold" fill="#444">PGAM1</text>
<text transform="translate(713.20,679.46)" text-anchor="end" font-size="4.5" font-weight="bold" fill="#444">PLD4</text>
<text transform="translate(890.26,882.75) rotate(-45)" text-anchor="end" font-size="4.5" font-weight="bold" fill="#444">PLD4</text>
<text transform="translate(713.20,672.63)" text-anchor="end" font-size="4.5" font-weight="bold" fill="#444">PPA1</text>
<text transform="translate(896.13,882.75) rotate(-45)" text-anchor="end" font-size="4.5" font-weight="bold" fill="#444">PPA1</text>
<text transform="translate(713.20,665.80)" text-anchor="end" font-size="4.5" font-weight="bold" fill="#444">PSAP</text>
<text transform="translate(902.00,882.75) rotate(-45)" text-anchor="end" font-size="4.5" font-weight="bold" fill="#444">PSAP</text>
<text transform="translate(713.20,658.98)" text-anchor="end" font-size="4.5" font-weight="bold" fill="#444">PSMA4</text>
<text transform="translate(907.88,882.75) rotate(-45)" text-anchor="end" font-size="4.5" font-weight="bold" fill="#444">PSMA4</text>
<text transform="translate(713.20,652.14)" text-anchor="end" font-size="4.5" font-weight="bold" fill="#444">PSMB3</text>
<text transform="translate(913.75,882.75) rotate(-45)" text-anchor="end" font-size="4.5" font-weight="bold" fill="#444">PSMB3</text>
<text transform="translate(713.20,645.31)" text-anchor="end" font-size="4.5" font-weight="bold" fill="#444">PTPN18</text>
<text transform="translate(919.62,882.75) rotate(-45)" text-anchor="end" font-size="4.5" font-weight="bold" fill="#444">PTPN18</text>
<text transform="translate(713.20,638.49)" text-anchor="end" font-size="4.5" font-weight="bold" fill="#444">RAN</text>
<text transform="translate(925.49,882.75) rotate(-45)" text-anchor="end" font-size="4.5" font-weight="bold" fill="#444">RAN</text>
<text transform="translate(713.20,631.65)" text-anchor="end" font-size="4.5" font-weight="bold" fill="#444">RPL11</text>
<text transform="translate(931.36,882.75) rotate(-45)" text-anchor="end" font-size="4.5" font-weight="bold" fill="#444">RPL11</text>
<text transform="translate(713.20,624.82)" text-anchor="end" font-size="4.5" font-weight="bold" fill="#444">RPL13</text>
<text transform="translate(937.23,882.75) rotate(-45)" text-anchor="end" font-size="4.5" font-weight="bold" fill="#444">RPL13</text>
<text transform="translate(713.20,618.00)" text-anchor="end" font-size="4.5" font-weight="bold" fill="#444">RPL23</text>
<text transform="translate(943.10,882.75) rotate(-45)" text-anchor="end" font-size="4.5" font-weight="bold" fill="#444">RPL23</text>
<text transform="translate(713.20,611.16)" text-anchor="end" font-size="4.5" font-weight="bold" fill="#444">RPL30</text>
<text transform="translate(948.97,882.75) rotate(-45)" text-anchor="end" font-size="4.5" font-weight="bold" fill="#444">RPL30</text>
<text transform="translate(713.20,604.33)" text-anchor="end" font-size="4.5" font-weight="bold" fill="#444">RPL32</text>
<text transform="translate(954.84,882.75) rotate(-45)" text-anchor="end" font-size="4.5" font-weight="bold" fill="#444">RPL32</text>
<text transform="translate(713.20,597.50)" text-anchor="end" font-size="4.5" font-weight="bold" fill="#444">RPL37</text>
<text transform="translate(960.71,882.75) rotate(-45)" text-anchor="end" font-size="4.5" font-weight="bold" fill="#444">RPL37</text>
<text transform="translate(713.20,590.67)" text-anchor="end" font-size="4.5" font-weight="bold" fill="#444">RPS15A</text>
<text transform="translate(966.58,882.75) rotate(-45)" text-anchor="end" font-size="4.5" font-weight="bold" fill="#444">RPS15A</text>
<text transform="translate(713.20,583.84)" text-anchor="end" font-size="4.5" font-weight="bold" fill="#444">RPS5</text>
<text transform="translate(972.45,882.75) rotate(-45)" text-anchor="end" font-size="4.5" font-weight="bold" fill="#444">RPS5</text>
<text transform="translate(713.20,577.01)" text-anchor="end" font-size="4.5" font-weight="bold" fill="#444">RTP4</text>
<text transform="translate(978.32,882.75) rotate(-45)" text-anchor="end" font-size="4.5" font-weight="bold" fill="#444">RTP4</text>
<text transform="translate(713.20,570.18)" text-anchor="end" font-size="4.5" font-weight="bold" fill="#444">SAMHD1</text>
<text transform="translate(984.18,882.75) rotate(-45)" text-anchor="end" font-size="4.5" font-weight="bold" fill="#444">SAMHD1</text>
<text transform="translate(713.20,563.35)" text-anchor="end" font-size="4.5" font-weight="bold" fill="#444">SPINT1</text>
<text transform="translate(990.06,882.75) rotate(-45)" text-anchor="end" font-size="4.5" font-weight="bold" fill="#444">SPINT1</text>
<text transform="translate(713.20,556.52)" text-anchor="end" font-size="4.5" font-weight="bold" fill="#444">STAT1</text>
<text transform="translate(995.92,882.75) rotate(-45)" text-anchor="end" font-size="4.5" font-weight="bold" fill="#444">STAT1</text>
<text transform="translate(713.20,549.69)" text-anchor="end" font-size="4.5" font-weight="bold" fill="#444">TAGLN2</text>
<text transform="translate(1001.80,882.75) rotate(-45)" text-anchor="end" font-size="4.5" font-weight="bold" fill="#444">TAGLN2</text>
<text transform="translate(713.20,542.86)" text-anchor="end" font-size="4.5" font-weight="bold" fill="#444">TMSB10</text>
<text transform="translate(1007.66,882.75) rotate(-45)" text-anchor="end" font-size="4.5" font-weight="bold" fill="#444">TMSB10</text>
<text transform="translate(713.20,536.03)" text-anchor="end" font-size="4.5" font-weight="bold" fill="#444">TPI1</text>
<text transform="translate(1013.54,882.75) rotate(-45)" text-anchor="end" font-size="4.5" font-weight="bold" fill="#444">TPI1</text>
<text transform="translate(713.20,529.20)" text-anchor="end" font-size="4.5" font-weight="bold" fill="#444">TSPO</text>
<text transform="translate(1019.40,882.75) rotate(-45)" text-anchor="end" font-size="4.5" font-weight="bold" fill="#444">TSPO</text>
<text transform="translate(713.20,522.38)" text-anchor="end" font-size="4.5" font-weight="bold" fill="#444">USMG5</text>
<text transform="translate(1025.28,882.75) rotate(-45)" text-anchor="end" font-size="4.5" font-weight="bold" fill="#444">USMG5</text>
<text transform="translate(713.20,515.54)" text-anchor="end" font-size="4.5" font-weight="bold" fill="#444">YWHAE</text>
<text transform="translate(1031.14,882.75) rotate(-45)" text-anchor="end" font-size="4.5" font-weight="bold" fill="#444">YWHAE</text>
<text transform="translate(713.20,508.71)" text-anchor="end" font-size="4.5" font-weight="bold" fill="#444">ZBP1</text>
<text transform="translate(1037.02,882.75) rotate(-45)" text-anchor="end" font-size="4.5" font-weight="bold" fill="#444">ZBP1</text>
<text transform="translate(1043.60,677.20)" text-anchor="start" font-size="3.6" font-weight="bold" fill="#333">Corr</text>
<rect x="1043.60" y="679.00" width="7.10" height="35.00" fill="url(#gcorr)" stroke="none" stroke-width="1" />
<text transform="translate(1051.80,681.50)" text-anchor="start" font-size="3.4" font-weight="bold" fill="#333">1.0</text>
<text transform="translate(1051.80,689.90)" text-anchor="start" font-size="3.4" font-weight="bold" fill="#333">0.5</text>
<text transform="translate(1051.80,698.20)" text-anchor="start" font-size="3.4" font-weight="bold" fill="#333">0.0</text>
<text transform="translate(1051.80,706.50)" text-anchor="start" font-size="3.4" font-weight="bold" fill="#333">−0.5</text>
<text transform="translate(1051.80,714.80)" text-anchor="start" font-size="3.4" font-weight="bold" fill="#333">−1.0</text>
<!-- p_g.py -->
<text transform="translate(0.50,1241.00)" text-anchor="start" font-size="19.5" font-weight="bold" fill="#000">G</text>
<rect x="195.00" y="1239.80" width="304.80" height="410.60" fill="#fff" stroke="none" stroke-width="1" />
<line x1="195.00" y1="1251.80" x2="499.80" y2="1251.80" stroke="#e9e9e9" stroke-width="1.9" />
<line x1="195.00" y1="1272.21" x2="499.80" y2="1272.21" stroke="#e9e9e9" stroke-width="1.9" />
<line x1="195.00" y1="1292.62" x2="499.80" y2="1292.62" stroke="#e9e9e9" stroke-width="1.9" />
<line x1="195.00" y1="1313.03" x2="499.80" y2="1313.03" stroke="#e9e9e9" stroke-width="1.9" />
<line x1="195.00" y1="1333.44" x2="499.80" y2="1333.44" stroke="#e9e9e9" stroke-width="1.9" />
<line x1="195.00" y1="1353.85" x2="499.80" y2="1353.85" stroke="#e9e9e9" stroke-width="1.9" />
<line x1="195.00" y1="1374.26" x2="499.80" y2="1374.26" stroke="#e9e9e9" stroke-width="1.9" />
<line x1="195.00" y1="1394.67" x2="499.80" y2="1394.67" stroke="#e9e9e9" stroke-width="1.9" />
<line x1="195.00" y1="1415.08" x2="499.80" y2="1415.08" stroke="#e9e9e9" stroke-width="1.9" />
<line x1="195.00" y1="1435.49" x2="499.80" y2="1435.49" stroke="#e9e9e9" stroke-width="1.9" />
<line x1="195.00" y1="1455.90" x2="499.80" y2="1455.90" stroke="#e9e9e9" stroke-width="1.9" />
<line x1="195.00" y1="1476.31" x2="499.80" y2="1476.31" stroke="#e9e9e9" stroke-width="1.9" />
<line x1="195.00" y1="1496.72" x2="499.80" y2="1496.72" stroke="#e9e9e9" stroke-width="1.9" />
<line x1="195.00" y1="1517.13" x2="499.80" y2="1517.13" stroke="#e9e9e9" stroke-width="1.9" />
<line x1="195.00" y1="1537.54" x2="499.80" y2="1537.54" stroke="#e9e9e9" stroke-width="1.9" />
<line x1="195.00" y1="1557.95" x2="499.80" y2="1557.95" stroke="#e9e9e9" stroke-width="1.9" />
<line x1="195.00" y1="1578.36" x2="499.80" y2="1578.36" stroke="#e9e9e9" stroke-width="1.9" />
<line x1="195.00" y1="1598.77" x2="499.80" y2="1598.77" stroke="#e9e9e9" stroke-width="1.9" />
<line x1="195.00" y1="1619.18" x2="499.80" y2="1619.18" stroke="#e9e9e9" stroke-width="1.9" />
<line x1="195.00" y1="1639.59" x2="499.80" y2="1639.59" stroke="#e9e9e9" stroke-width="1.9" />
<line x1="211.20" y1="1239.80" x2="211.20" y2="1650.40" stroke="#e9e9e9" stroke-width="1.9" />
<line x1="244.25" y1="1239.80" x2="244.25" y2="1650.40" stroke="#e9e9e9" stroke-width="1.5" />
<line x1="277.30" y1="1239.80" x2="277.30" y2="1650.40" stroke="#e9e9e9" stroke-width="1.9" />
<line x1="310.35" y1="1239.80" x2="310.35" y2="1650.40" stroke="#e9e9e9" stroke-width="1.5" />
<line x1="343.40" y1="1239.80" x2="343.40" y2="1650.40" stroke="#e9e9e9" stroke-width="1.9" />
<line x1="376.45" y1="1239.80" x2="376.45" y2="1650.40" stroke="#e9e9e9" stroke-width="1.5" />
<line x1="409.50" y1="1239.80" x2="409.50" y2="1650.40" stroke="#e9e9e9" stroke-width="1.9" />
<line x1="442.55" y1="1239.80" x2="442.55" y2="1650.40" stroke="#e9e9e9" stroke-width="1.5" />
<line x1="475.60" y1="1239.80" x2="475.60" y2="1650.40" stroke="#e9e9e9" stroke-width="1.9" />
<rect x="195.00" y="1239.80" width="304.80" height="410.60" fill="none" stroke="#333" stroke-width="1.1" />
<text transform="translate(188.40,1255.80) scale(0.895,1)" text-anchor="end" font-size="11.5" font-weight="bold" fill="#111">Coronavirus disease − COVID−19</text>
<line x1="191.80" y1="1251.80" x2="195.00" y2="1251.80" stroke="#333" stroke-width="1.1" />
<ellipse cx="491.34" cy="1251.80" rx="8.60" ry="8.77" fill="#ff0000" stroke="none" stroke-width="1" />
<text transform="translate(186.70,1276.21) scale(0.840,1)" text-anchor="end" font-size="11.5" font-weight="bold" fill="#111">Ribosome</text>
<line x1="191.80" y1="1272.21" x2="195.00" y2="1272.21" stroke="#333" stroke-width="1.1" />
<ellipse cx="396.91" cy="1272.21" rx="7.80" ry="7.96" fill="#fe0003" stroke="none" stroke-width="1" />
<text transform="translate(186.70,1296.62) scale(0.840,1)" text-anchor="end" font-size="11.5" font-weight="bold" fill="#111">Lysosome</text>
<line x1="191.80" y1="1292.62" x2="195.00" y2="1292.62" stroke="#333" stroke-width="1.1" />
<ellipse cx="365.43" cy="1292.62" rx="7.40" ry="7.55" fill="#fe0003" stroke="none" stroke-width="1" />
<text transform="translate(191.30,1317.03) scale(0.840,1)" text-anchor="end" font-size="11.5" font-weight="bold" fill="#111">NOD−like receptor signaling pathway</text>
<line x1="191.80" y1="1313.03" x2="195.00" y2="1313.03" stroke="#333" stroke-width="1.1" />
<ellipse cx="302.48" cy="1313.03" rx="6.50" ry="6.63" fill="#fb000d" stroke="none" stroke-width="1" />
<text transform="translate(191.30,1337.44) scale(0.840,1)" text-anchor="end" font-size="11.5" font-weight="bold" fill="#111">Glycolysis / Gluconeogenesis</text>
<line x1="191.80" y1="1333.44" x2="195.00" y2="1333.44" stroke="#333" stroke-width="1.1" />
<ellipse cx="271.00" cy="1333.44" rx="5.90" ry="6.02" fill="#fd0006" stroke="none" stroke-width="1" />
<text transform="translate(191.30,1357.85) scale(0.840,1)" text-anchor="end" font-size="11.5" font-weight="bold" fill="#111">Biosynthesis of amino acids</text>
<line x1="191.80" y1="1353.85" x2="195.00" y2="1353.85" stroke="#333" stroke-width="1.1" />
<ellipse cx="271.00" cy="1353.85" rx="5.90" ry="6.02" fill="#fc000a" stroke="none" stroke-width="1" />
<text transform="translate(186.70,1378.26) scale(0.840,1)" text-anchor="end" font-size="11.5" font-weight="bold" fill="#111">Tuberculosis</text>
<line x1="191.80" y1="1374.26" x2="195.00" y2="1374.26" stroke="#333" stroke-width="1.1" />
<ellipse cx="271.00" cy="1374.26" rx="5.90" ry="6.02" fill="#ed0040" stroke="none" stroke-width="1" />
<text transform="translate(191.30,1398.67) scale(0.840,1)" text-anchor="end" font-size="11.5" font-weight="bold" fill="#111">Cytosolic DNA−sensing pathway</text>
<line x1="191.80" y1="1394.67" x2="195.00" y2="1394.67" stroke="#333" stroke-width="1.1" />
<ellipse cx="239.53" cy="1394.67" rx="5.30" ry="5.41" fill="#f40026" stroke="none" stroke-width="1" />
<text transform="translate(186.70,1419.08) scale(0.840,1)" text-anchor="end" font-size="11.5" font-weight="bold" fill="#111">Leishmaniasis</text>
<line x1="191.80" y1="1415.08" x2="195.00" y2="1415.08" stroke="#333" stroke-width="1.1" />
<ellipse cx="239.53" cy="1415.08" rx="5.30" ry="5.41" fill="#f3002a" stroke="none" stroke-width="1" />
<text transform="translate(186.70,1439.49) scale(0.840,1)" text-anchor="end" font-size="11.5" font-weight="bold" fill="#111">HIF−1 signaling pathway</text>
<line x1="191.80" y1="1435.49" x2="195.00" y2="1435.49" stroke="#333" stroke-width="1.1" />
<ellipse cx="239.53" cy="1435.49" rx="5.30" ry="5.41" fill="#de0062" stroke="none" stroke-width="1" />
<text transform="translate(186.70,1459.90) scale(0.840,1)" text-anchor="end" font-size="11.5" font-weight="bold" fill="#111">Carbon metabolism</text>
<line x1="191.80" y1="1455.90" x2="195.00" y2="1455.90" stroke="#333" stroke-width="1.1" />
<ellipse cx="239.53" cy="1455.90" rx="5.30" ry="5.41" fill="#db0069" stroke="none" stroke-width="1" />
<text transform="translate(191.30,1480.31) scale(0.840,1)" text-anchor="end" font-size="11.5" font-weight="bold" fill="#111">Osteoclast differentiation</text>
<line x1="191.80" y1="1476.31" x2="195.00" y2="1476.31" stroke="#333" stroke-width="1.1" />
<ellipse cx="239.53" cy="1476.31" rx="5.30" ry="5.41" fill="#cc0084" stroke="none" stroke-width="1" />
<text transform="translate(186.70,1500.72) scale(0.840,1)" text-anchor="end" font-size="11.5" font-weight="bold" fill="#111">Apoptosis</text>
<line x1="191.80" y1="1496.72" x2="195.00" y2="1496.72" stroke="#333" stroke-width="1.1" />
<ellipse cx="239.53" cy="1496.72" rx="5.30" ry="5.41" fill="#bb009b" stroke="none" stroke-width="1" />
<text transform="translate(186.70,1521.13) scale(0.840,1)" text-anchor="end" font-size="11.5" font-weight="bold" fill="#111">Hepatitis C</text>
<line x1="191.80" y1="1517.13" x2="195.00" y2="1517.13" stroke="#333" stroke-width="1.1" />
<ellipse cx="239.53" cy="1517.13" rx="5.30" ry="5.41" fill="#5600dd" stroke="none" stroke-width="1" />
<text transform="translate(186.70,1541.54) scale(0.840,1)" text-anchor="end" font-size="11.5" font-weight="bold" fill="#111">Necroptosis</text>
<line x1="191.80" y1="1537.54" x2="195.00" y2="1537.54" stroke="#333" stroke-width="1.1" />
<ellipse cx="239.53" cy="1537.54" rx="5.30" ry="5.41" fill="#4a00e2" stroke="none" stroke-width="1" />
<text transform="translate(186.70,1561.95) scale(0.840,1)" text-anchor="end" font-size="11.5" font-weight="bold" fill="#111">Proteasome</text>
<line x1="191.80" y1="1557.95" x2="195.00" y2="1557.95" stroke="#333" stroke-width="1.1" />
<ellipse cx="208.05" cy="1557.95" rx="3.70" ry="3.77" fill="#d8006d" stroke="none" stroke-width="1" />
<text transform="translate(191.30,1582.36) scale(0.840,1)" text-anchor="end" font-size="11.5" font-weight="bold" fill="#111">Sphingolipid metabolism</text>
<line x1="191.80" y1="1578.36" x2="195.00" y2="1578.36" stroke="#333" stroke-width="1.1" />
<ellipse cx="208.05" cy="1578.36" rx="3.70" ry="3.77" fill="#ca0088" stroke="none" stroke-width="1" />
<text transform="translate(186.70,1602.77) scale(0.840,1)" text-anchor="end" font-size="11.5" font-weight="bold" fill="#111">Viral life cycle − HIV−1</text>
<line x1="191.80" y1="1598.77" x2="195.00" y2="1598.77" stroke="#333" stroke-width="1.1" />
<ellipse cx="208.05" cy="1598.77" rx="3.70" ry="3.77" fill="#9c00c1" stroke="none" stroke-width="1" />
<text transform="translate(191.30,1623.18) scale(0.840,1)" text-anchor="end" font-size="11.5" font-weight="bold" fill="#111">Inflammatory bowel disease</text>
<line x1="191.80" y1="1619.18" x2="195.00" y2="1619.18" stroke="#333" stroke-width="1.1" />
<ellipse cx="208.05" cy="1619.18" rx="3.70" ry="3.77" fill="#7b00cf" stroke="none" stroke-width="1" />
<text transform="translate(191.30,1643.59) scale(0.840,1)" text-anchor="end" font-size="11.5" font-weight="bold" fill="#111">Central carbon metabolism in cancer</text>
<line x1="191.80" y1="1639.59" x2="195.00" y2="1639.59" stroke="#333" stroke-width="1.1" />
<ellipse cx="208.05" cy="1639.59" rx="3.70" ry="3.77" fill="#0000ff" stroke="none" stroke-width="1" />
<line x1="211.20" y1="1650.40" x2="211.20" y2="1653.40" stroke="#333" stroke-width="1.1" />
<text transform="translate(211.20,1664.50) scale(0.850,1)" text-anchor="middle" font-size="10.5" font-weight="bold" fill="#111">0.05</text>
<line x1="277.30" y1="1650.40" x2="277.30" y2="1653.40" stroke="#333" stroke-width="1.1" />
<text transform="translate(277.30,1664.50) scale(0.850,1)" text-anchor="middle" font-size="10.5" font-weight="bold" fill="#111">0.10</text>
<line x1="343.40" y1="1650.40" x2="343.40" y2="1653.40" stroke="#333" stroke-width="1.1" />
<text transform="translate(343.40,1664.50) scale(0.850,1)" text-anchor="middle" font-size="10.5" font-weight="bold" fill="#111">0.15</text>
<line x1="409.50" y1="1650.40" x2="409.50" y2="1653.40" stroke="#333" stroke-width="1.1" />
<text transform="translate(409.50,1664.50) scale(0.850,1)" text-anchor="middle" font-size="10.5" font-weight="bold" fill="#111">0.20</text>
<line x1="475.60" y1="1650.40" x2="475.60" y2="1653.40" stroke="#333" stroke-width="1.1" />
<text transform="translate(475.60,1664.50) scale(0.850,1)" text-anchor="middle" font-size="10.5" font-weight="bold" fill="#111">0.25</text>
<text transform="translate(342.00,1678.50) scale(0.900,1)" text-anchor="middle" font-size="10.5" font-weight="bold" fill="#000">GeneRatio</text>
<text transform="translate(515.00,1345.30) scale(0.900,1)" text-anchor="start" font-size="10" font-weight="bold" fill="#000">Count</text>
<circle cx="523.80" cy="1359.50" r="3.70" fill="#000" stroke="none" stroke-width="1" />
<text transform="translate(537.70,1362.50) scale(0.850,1)" text-anchor="start" font-size="8.6" font-weight="bold" fill="#000">2</text>
<circle cx="523.80" cy="1375.30" r="5.70" fill="#000" stroke="none" stroke-width="1" />
<text transform="translate(537.70,1378.30) scale(0.850,1)" text-anchor="start" font-size="8.6" font-weight="bold" fill="#000">4</text>
<circle cx="523.80" cy="1392.00" r="6.80" fill="#000" stroke="none" stroke-width="1" />
<text transform="translate(537.70,1395.00) scale(0.850,1)" text-anchor="start" font-size="8.6" font-weight="bold" fill="#000">6</text>
<circle cx="523.80" cy="1410.20" r="7.40" fill="#000" stroke="none" stroke-width="1" />
<text transform="translate(537.70,1413.20) scale(0.850,1)" text-anchor="start" font-size="8.6" font-weight="bold" fill="#000">8</text>
<circle cx="523.80" cy="1429.20" r="8.20" fill="#000" stroke="none" stroke-width="1" />
<text transform="translate(537.70,1432.20) scale(0.850,1)" text-anchor="start" font-size="8.6" font-weight="bold" fill="#000">10</text>
<text transform="translate(515.00,1468.00) scale(0.900,1)" text-anchor="start" font-size="10" font-weight="bold" fill="#000">pvalue</text>
<rect x="515.00" y="1473.90" width="13.90" height="80.50" fill="url(#gpv)" stroke="none" stroke-width="1" />
<line x1="515.00" y1="1486.00" x2="517.60" y2="1486.00" stroke="#fff" stroke-width="0.8" />
<line x1="526.30" y1="1486.00" x2="528.90" y2="1486.00" stroke="#fff" stroke-width="0.8" />
<text transform="translate(534.00,1489.00) scale(0.850,1)" text-anchor="start" font-size="8.6" font-weight="bold" fill="#000">0.04</text>
<line x1="515.00" y1="1503.00" x2="517.60" y2="1503.00" stroke="#fff" stroke-width="0.8" />
<line x1="526.30" y1="1503.00" x2="528.90" y2="1503.00" stroke="#fff" stroke-width="0.8" />
<text transform="translate(534.00,1506.00) scale(0.850,1)" text-anchor="start" font-size="8.6" font-weight="bold" fill="#000">0.03</text>
<line x1="515.00" y1="1520.00" x2="517.60" y2="1520.00" stroke="#fff" stroke-width="0.8" />
<line x1="526.30" y1="1520.00" x2="528.90" y2="1520.00" stroke="#fff" stroke-width="0.8" />
<text transform="translate(534.00,1523.00) scale(0.850,1)" text-anchor="start" font-size="8.6" font-weight="bold" fill="#000">0.02</text>
<line x1="515.00" y1="1537.00" x2="517.60" y2="1537.00" stroke="#fff" stroke-width="0.8" />
<line x1="526.30" y1="1537.00" x2="528.90" y2="1537.00" stroke="#fff" stroke-width="0.8" />
<text transform="translate(534.00,1540.00) scale(0.850,1)" text-anchor="start" font-size="8.6" font-weight="bold" fill="#000">0.01</text>
<rect x="722.40" y="1244.30" width="290.80" height="391.70" fill="#fff" stroke="none" stroke-width="1" />
<line x1="722.40" y1="1255.60" x2="1013.20" y2="1255.60" stroke="#e9e9e9" stroke-width="1.9" />
<line x1="722.40" y1="1275.07" x2="1013.20" y2="1275.07" stroke="#e9e9e9" stroke-width="1.9" />
<line x1="722.40" y1="1294.54" x2="1013.20" y2="1294.54" stroke="#e9e9e9" stroke-width="1.9" />
<line x1="722.40" y1="1314.01" x2="1013.20" y2="1314.01" stroke="#e9e9e9" stroke-width="1.9" />
<line x1="722.40" y1="1333.48" x2="1013.20" y2="1333.48" stroke="#e9e9e9" stroke-width="1.9" />
<line x1="722.40" y1="1352.95" x2="1013.20" y2="1352.95" stroke="#e9e9e9" stroke-width="1.9" />
<line x1="722.40" y1="1372.42" x2="1013.20" y2="1372.42" stroke="#e9e9e9" stroke-width="1.9" />
<line x1="722.40" y1="1391.89" x2="1013.20" y2="1391.89" stroke="#e9e9e9" stroke-width="1.9" />
<line x1="722.40" y1="1411.36" x2="1013.20" y2="1411.36" stroke="#e9e9e9" stroke-width="1.9" />
<line x1="722.40" y1="1430.83" x2="1013.20" y2="1430.83" stroke="#e9e9e9" stroke-width="1.9" />
<line x1="722.40" y1="1450.30" x2="1013.20" y2="1450.30" stroke="#e9e9e9" stroke-width="1.9" />
<line x1="722.40" y1="1469.77" x2="1013.20" y2="1469.77" stroke="#e9e9e9" stroke-width="1.9" />
<line x1="722.40" y1="1489.24" x2="1013.20" y2="1489.24" stroke="#e9e9e9" stroke-width="1.9" />
<line x1="722.40" y1="1508.71" x2="1013.20" y2="1508.71" stroke="#e9e9e9" stroke-width="1.9" />
<line x1="722.40" y1="1528.18" x2="1013.20" y2="1528.18" stroke="#e9e9e9" stroke-width="1.9" />
<line x1="722.40" y1="1547.65" x2="1013.20" y2="1547.65" stroke="#e9e9e9" stroke-width="1.9" />
<line x1="722.40" y1="1567.12" x2="1013.20" y2="1567.12" stroke="#e9e9e9" stroke-width="1.9" />
<line x1="722.40" y1="1586.59" x2="1013.20" y2="1586.59" stroke="#e9e9e9" stroke-width="1.9" />
<line x1="722.40" y1="1606.06" x2="1013.20" y2="1606.06" stroke="#e9e9e9" stroke-width="1.9" />
<line x1="722.40" y1="1625.53" x2="1013.20" y2="1625.53" stroke="#e9e9e9" stroke-width="1.9" />
<line x1="735.70" y1="1244.30" x2="735.70" y2="1636.00" stroke="#e9e9e9" stroke-width="1.9" />
<line x1="771.85" y1="1244.30" x2="771.85" y2="1636.00" stroke="#e9e9e9" stroke-width="1.5" />
<line x1="808.00" y1="1244.30" x2="808.00" y2="1636.00" stroke="#e9e9e9" stroke-width="1.9" />
<line x1="844.15" y1="1244.30" x2="844.15" y2="1636.00" stroke="#e9e9e9" stroke-width="1.5" />
<line x1="880.30" y1="1244.30" x2="880.30" y2="1636.00" stroke="#e9e9e9" stroke-width="1.9" />
<line x1="916.45" y1="1244.30" x2="916.45" y2="1636.00" stroke="#e9e9e9" stroke-width="1.5" />
<line x1="952.60" y1="1244.30" x2="952.60" y2="1636.00" stroke="#e9e9e9" stroke-width="1.9" />
<line x1="988.75" y1="1244.30" x2="988.75" y2="1636.00" stroke="#e9e9e9" stroke-width="1.5" />
<rect x="735.70" y="1246.90" width="265.10" height="17.40" fill="#ff0000" stroke="none" stroke-width="1" />
<text transform="translate(712.90,1259.30) scale(0.885,1)" text-anchor="end" font-size="10.6" font-weight="bold" fill="#111">Coronavirus disease − COVID−19</text>
<line x1="719.40" y1="1255.60" x2="722.40" y2="1255.60" stroke="#333" stroke-width="1.1" />
<rect x="735.70" y="1266.37" width="192.80" height="17.40" fill="#ff0002" stroke="none" stroke-width="1" />
<text transform="translate(712.90,1278.77) scale(0.885,1)" text-anchor="end" font-size="10.6" font-weight="bold" fill="#111">Ribosome</text>
<line x1="719.40" y1="1275.07" x2="722.40" y2="1275.07" stroke="#333" stroke-width="1.1" />
<rect x="735.70" y="1285.84" width="168.70" height="17.40" fill="#fe0003" stroke="none" stroke-width="1" />
<text transform="translate(712.90,1298.24) scale(0.885,1)" text-anchor="end" font-size="10.6" font-weight="bold" fill="#111">Lysosome</text>
<line x1="719.40" y1="1294.54" x2="722.40" y2="1294.54" stroke="#333" stroke-width="1.1" />
<rect x="735.70" y="1305.31" width="96.40" height="17.40" fill="#fd0006" stroke="none" stroke-width="1" />
<text transform="translate(715.90,1317.71) scale(0.885,1)" text-anchor="end" font-size="10.6" font-weight="bold" fill="#111">Glycolysis / Gluconeogenesis</text>
<line x1="719.40" y1="1314.01" x2="722.40" y2="1314.01" stroke="#333" stroke-width="1.1" />
<rect x="735.70" y="1324.78" width="96.40" height="17.40" fill="#fc000a" stroke="none" stroke-width="1" />
<text transform="translate(715.90,1337.18) scale(0.885,1)" text-anchor="end" font-size="10.6" font-weight="bold" fill="#111">Biosynthesis of amino acids</text>
<line x1="719.40" y1="1333.48" x2="722.40" y2="1333.48" stroke="#333" stroke-width="1.1" />
<rect x="735.70" y="1344.25" width="120.50" height="17.40" fill="#fa0010" stroke="none" stroke-width="1" />
<text transform="translate(715.90,1356.65) scale(0.885,1)" text-anchor="end" font-size="10.6" font-weight="bold" fill="#111">NOD−like receptor signaling pathway</text>
<line x1="719.40" y1="1352.95" x2="722.40" y2="1352.95" stroke="#333" stroke-width="1.1" />
<rect x="735.70" y="1363.72" width="72.30" height="17.40" fill="#f40026" stroke="none" stroke-width="1" />
<text transform="translate(715.90,1376.12) scale(0.885,1)" text-anchor="end" font-size="10.6" font-weight="bold" fill="#111">Cytosolic DNA−sensing pathway</text>
<line x1="719.40" y1="1372.42" x2="722.40" y2="1372.42" stroke="#333" stroke-width="1.1" />
<rect x="735.70" y="1383.19" width="72.30" height="17.40" fill="#f2002d" stroke="none" stroke-width="1" />
<text transform="translate(715.90,1395.59) scale(0.885,1)" text-anchor="end" font-size="10.6" font-weight="bold" fill="#111">Leishmaniasis</text>
<line x1="719.40" y1="1391.89" x2="722.40" y2="1391.89" stroke="#333" stroke-width="1.1" />
<rect x="735.70" y="1402.66" width="96.40" height="17.40" fill="#eb0046" stroke="none" stroke-width="1" />
<text transform="translate(715.90,1415.06) scale(0.885,1)" text-anchor="end" font-size="10.6" font-weight="bold" fill="#111">Tuberculosis</text>
<line x1="719.40" y1="1411.36" x2="722.40" y2="1411.36" stroke="#333" stroke-width="1.1" />
<rect x="735.70" y="1422.13" width="72.30" height="17.40" fill="#e00060" stroke="none" stroke-width="1" />
<text transform="translate(712.90,1434.53) scale(0.885,1)" text-anchor="end" font-size="10.6" font-weight="bold" fill="#111">HIF−1 signaling pathway</text>
<line x1="719.40" y1="1430.83" x2="722.40" y2="1430.83" stroke="#333" stroke-width="1.1" />
<rect x="735.70" y="1441.60" width="72.30" height="17.40" fill="#db0069" stroke="none" stroke-width="1" />
<text transform="translate(715.90,1454.00) scale(0.885,1)" text-anchor="end" font-size="10.6" font-weight="bold" fill="#111">Carbon metabolism</text>
<line x1="719.40" y1="1450.30" x2="722.40" y2="1450.30" stroke="#333" stroke-width="1.1" />
<rect x="735.70" y="1461.07" width="48.20" height="17.40" fill="#d60072" stroke="none" stroke-width="1" />
<text transform="translate(712.90,1473.47) scale(0.885,1)" text-anchor="end" font-size="10.6" font-weight="bold" fill="#111">Proteasome</text>
<line x1="719.40" y1="1469.77" x2="722.40" y2="1469.77" stroke="#333" stroke-width="1.1" />
<rect x="735.70" y="1480.54" width="72.30" height="17.40" fill="#cc0084" stroke="none" stroke-width="1" />
<text transform="translate(715.90,1492.94) scale(0.885,1)" text-anchor="end" font-size="10.6" font-weight="bold" fill="#111">Osteoclast differentiation</text>
<line x1="719.40" y1="1489.24" x2="722.40" y2="1489.24" stroke="#333" stroke-width="1.1" />
<rect x="735.70" y="1500.01" width="48.20" height="17.40" fill="#c6008d" stroke="none" stroke-width="1" />
<text transform="translate(715.90,1512.41) scale(0.885,1)" text-anchor="end" font-size="10.6" font-weight="bold" fill="#111">Sphingolipid metabolism</text>
<line x1="719.40" y1="1508.71" x2="722.40" y2="1508.71" stroke="#333" stroke-width="1.1" />
<rect x="735.70" y="1519.48" width="72.30" height="17.40" fill="#bb009b" stroke="none" stroke-width="1" />
<text transform="translate(712.90,1531.88) scale(0.885,1)" text-anchor="end" font-size="10.6" font-weight="bold" fill="#111">Apoptosis</text>
<line x1="719.40" y1="1528.18" x2="722.40" y2="1528.18" stroke="#333" stroke-width="1.1" />
<rect x="735.70" y="1538.95" width="48.20" height="17.40" fill="#9400c5" stroke="none" stroke-width="1" />
<text transform="translate(712.90,1551.35) scale(0.885,1)" text-anchor="end" font-size="10.6" font-weight="bold" fill="#111">Viral life cycle − HIV−1</text>
<line x1="719.40" y1="1547.65" x2="722.40" y2="1547.65" stroke="#333" stroke-width="1.1" />
<rect x="735.70" y="1558.42" width="48.20" height="17.40" fill="#7b00cf" stroke="none" stroke-width="1" />
<text transform="translate(715.90,1570.82) scale(0.885,1)" text-anchor="end" font-size="10.6" font-weight="bold" fill="#111">Inflammatory bowel disease</text>
<line x1="719.40" y1="1567.12" x2="722.40" y2="1567.12" stroke="#333" stroke-width="1.1" />
<rect x="735.70" y="1577.89" width="72.30" height="17.40" fill="#5600dd" stroke="none" stroke-width="1" />
<text transform="translate(712.90,1590.29) scale(0.885,1)" text-anchor="end" font-size="10.6" font-weight="bold" fill="#111">Hepatitis C</text>
<line x1="719.40" y1="1586.59" x2="722.40" y2="1586.59" stroke="#333" stroke-width="1.1" />
<rect x="735.70" y="1597.36" width="72.30" height="17.40" fill="#4400e5" stroke="none" stroke-width="1" />
<text transform="translate(712.90,1609.76) scale(0.885,1)" text-anchor="end" font-size="10.6" font-weight="bold" fill="#111">Necroptosis</text>
<line x1="719.40" y1="1606.06" x2="722.40" y2="1606.06" stroke="#333" stroke-width="1.1" />
<rect x="735.70" y="1616.83" width="48.20" height="17.40" fill="#0000ff" stroke="none" stroke-width="1" />
<text transform="translate(715.90,1629.23) scale(0.885,1)" text-anchor="end" font-size="10.6" font-weight="bold" fill="#111">Central carbon metabolism in cancer</text>
<line x1="719.40" y1="1625.53" x2="722.40" y2="1625.53" stroke="#333" stroke-width="1.1" />
<rect x="722.40" y="1244.30" width="290.80" height="391.70" fill="none" stroke="#333" stroke-width="1.1" />
<line x1="735.70" y1="1636.00" x2="735.70" y2="1639.00" stroke="#333" stroke-width="1.1" />
<text transform="translate(735.70,1649.50) scale(0.880,1)" text-anchor="middle" font-size="10.5" font-weight="bold" fill="#111">0</text>
<line x1="808.00" y1="1636.00" x2="808.00" y2="1639.00" stroke="#333" stroke-width="1.1" />
<text transform="translate(808.00,1649.50) scale(0.880,1)" text-anchor="middle" font-size="10.5" font-weight="bold" fill="#111">3</text>
<line x1="880.30" y1="1636.00" x2="880.30" y2="1639.00" stroke="#333" stroke-width="1.1" />
<text transform="translate(880.30,1649.50) scale(0.880,1)" text-anchor="middle" font-size="10.5" font-weight="bold" fill="#111">6</text>
<line x1="952.60" y1="1636.00" x2="952.60" y2="1639.00" stroke="#333" stroke-width="1.1" />
<text transform="translate(952.60,1649.50) scale(0.880,1)" text-anchor="middle" font-size="10.5" font-weight="bold" fill="#111">9</text>
<text transform="translate(880.50,1704.00) scale(0.900,1)" text-anchor="middle" font-size="10.5" font-weight="bold" fill="#2a2a2a">Count</text>
<text transform="translate(1026.40,1404.00) scale(0.900,1)" text-anchor="start" font-size="9.5" font-weight="bold" fill="#000">pvalue</text>
<rect x="1027.00" y="1409.00" width="13.20" height="75.00" fill="url(#gpvr)" stroke="none" stroke-width="1" />
<line x1="1027.00" y1="1424.30" x2="1029.50" y2="1424.30" stroke="#fff" stroke-width="0.8" />
<line x1="1037.70" y1="1424.30" x2="1040.20" y2="1424.30" stroke="#fff" stroke-width="0.8" />
<text transform="translate(1045.50,1427.10) scale(0.850,1)" text-anchor="start" font-size="8" font-weight="bold" fill="#000">0.01</text>
<line x1="1027.00" y1="1441.20" x2="1029.50" y2="1441.20" stroke="#fff" stroke-width="0.8" />
<line x1="1037.70" y1="1441.20" x2="1040.20" y2="1441.20" stroke="#fff" stroke-width="0.8" />
<text transform="translate(1045.50,1444.00) scale(0.850,1)" text-anchor="start" font-size="8" font-weight="bold" fill="#000">0.02</text>
<line x1="1027.00" y1="1457.60" x2="1029.50" y2="1457.60" stroke="#fff" stroke-width="0.8" />
<line x1="1037.70" y1="1457.60" x2="1040.20" y2="1457.60" stroke="#fff" stroke-width="0.8" />
<text transform="translate(1045.50,1460.40) scale(0.850,1)" text-anchor="start" font-size="8" font-weight="bold" fill="#000">0.03</text>
<line x1="1027.00" y1="1474.00" x2="1029.50" y2="1474.00" stroke="#fff" stroke-width="0.8" />
<line x1="1037.70" y1="1474.00" x2="1040.20" y2="1474.00" stroke="#fff" stroke-width="0.8" />
<text transform="translate(1045.50,1476.80) scale(0.850,1)" text-anchor="start" font-size="8" font-weight="bold" fill="#000">0.04</text>
<!-- p_h.py -->
<text transform="translate(6.00,1737.00)" text-anchor="start" font-size="19.5" font-weight="bold" fill="#000">H</text>
<path d="M383.4 1853.7C241.6 1885.3 197.7 1860.3 163.7 1728.7" stroke="#ff62bc" stroke-width="2.1" fill="none" stroke-linecap="round"/>
<path d="M383.4 1853.7C241.6 1885.3 203.3 1926.9 191.9 2061.9" stroke="#ff62bc" stroke-width="2.1" fill="none" stroke-linecap="round"/>
<path d="M383.4 1853.7C241.6 1885.3 187.2 1922.1 111.0 2037.5" stroke="#ff62bc" stroke-width="2.1" fill="none" stroke-linecap="round"/>
<path d="M383.4 1853.7C241.6 1885.3 197.7 1926.1 163.7 2057.7" stroke="#ff62bc" stroke-width="2.1" fill="none" stroke-linecap="round"/>
<path d="M248.7 1728.7C214.7 1860.3 242.5 1895.9 387.8 1906.5" stroke="#e76bf3" stroke-width="2.1" fill="none" stroke-linecap="round"/>
<path d="M248.7 1728.7C214.7 1860.3 237.3 1910.9 361.5 1981.6" stroke="#e76bf3" stroke-width="2.1" fill="none" stroke-linecap="round"/>
<path d="M248.7 1728.7C214.7 1860.3 233.9 1915.2 344.7 2003.1" stroke="#e76bf3" stroke-width="2.1" fill="none" stroke-linecap="round"/>
<path d="M248.7 1728.7C214.7 1860.3 229.9 1918.9 324.5 2021.9" stroke="#e76bf3" stroke-width="2.1" fill="none" stroke-linecap="round"/>
<path d="M248.7 1728.7C214.7 1860.3 225.2 1922.1 301.4 2037.5" stroke="#e76bf3" stroke-width="2.1" fill="none" stroke-linecap="round"/>
<path d="M248.7 1728.7C214.7 1860.3 220.1 1924.5 275.9 2049.5" stroke="#e76bf3" stroke-width="2.1" fill="none" stroke-linecap="round"/>
<path d="M248.7 1728.7C214.7 1860.3 214.7 1926.1 248.7 2057.7" stroke="#e76bf3" stroke-width="2.1" fill="none" stroke-linecap="round"/>
<path d="M248.7 1728.7C214.7 1860.3 209.1 1926.9 220.5 2061.9" stroke="#e76bf3" stroke-width="2.1" fill="none" stroke-linecap="round"/>
<path d="M344.7 1783.3C233.9 1871.2 178.5 1871.2 67.7 1783.3" stroke="#9590ff" stroke-width="2.1" fill="none" stroke-linecap="round"/>
<path d="M344.7 1783.3C233.9 1871.2 175.1 1875.5 50.9 1804.8" stroke="#9590ff" stroke-width="2.1" fill="none" stroke-linecap="round"/>
<path d="M344.7 1783.3C233.9 1871.2 182.5 1867.5 87.9 1764.6" stroke="#9590ff" stroke-width="2.1" fill="none" stroke-linecap="round"/>
<path d="M344.7 1783.3C233.9 1871.2 203.3 1926.9 191.9 2061.9" stroke="#9590ff" stroke-width="2.1" fill="none" stroke-linecap="round"/>
<path d="M344.7 1783.3C233.9 1871.2 175.1 1910.9 50.9 1981.6" stroke="#9590ff" stroke-width="2.1" fill="none" stroke-linecap="round"/>
<path d="M275.9 1736.9C220.1 1862.0 172.5 1906.2 37.9 1958.0" stroke="#00b0f6" stroke-width="2.1" fill="none" stroke-linecap="round"/>
<path d="M275.9 1736.9C220.1 1862.0 175.1 1910.9 50.9 1981.6" stroke="#00b0f6" stroke-width="2.1" fill="none" stroke-linecap="round"/>
<path d="M275.9 1736.9C220.1 1862.0 178.5 1915.2 67.7 2003.1" stroke="#00b0f6" stroke-width="2.1" fill="none" stroke-linecap="round"/>
<path d="M275.9 1736.9C220.1 1862.0 182.5 1918.9 87.9 2021.9" stroke="#00b0f6" stroke-width="2.1" fill="none" stroke-linecap="round"/>
<path d="M275.9 1736.9C220.1 1862.0 187.2 1922.1 111.0 2037.5" stroke="#00b0f6" stroke-width="2.1" fill="none" stroke-linecap="round"/>
<path d="M275.9 1736.9C220.1 1862.0 192.3 1924.5 136.5 2049.5" stroke="#00b0f6" stroke-width="2.1" fill="none" stroke-linecap="round"/>
<path d="M275.9 1736.9C220.1 1862.0 197.7 1926.1 163.7 2057.7" stroke="#00b0f6" stroke-width="2.1" fill="none" stroke-linecap="round"/>
<path d="M374.5 1828.5C239.9 1880.3 197.7 1860.3 163.7 1728.7" stroke="#00bfc4" stroke-width="2.1" fill="none" stroke-linecap="round"/>
<path d="M374.5 1828.5C239.9 1880.3 203.3 1926.9 191.9 2061.9" stroke="#00bfc4" stroke-width="2.1" fill="none" stroke-linecap="round"/>
<path d="M374.5 1828.5C239.9 1880.3 203.3 1859.5 191.9 1724.6" stroke="#00bfc4" stroke-width="2.1" fill="none" stroke-linecap="round"/>
<path d="M387.8 1879.9C242.5 1890.6 170.8 1885.3 29.1 1853.7" stroke="#00bf7d" stroke-width="2.1" fill="none" stroke-linecap="round"/>
<path d="M387.8 1879.9C242.5 1890.6 169.9 1895.9 24.6 1906.5" stroke="#00bf7d" stroke-width="2.1" fill="none" stroke-linecap="round"/>
<path d="M387.8 1879.9C242.5 1890.6 197.7 1860.3 163.7 1728.7" stroke="#00bf7d" stroke-width="2.1" fill="none" stroke-linecap="round"/>
<path d="M301.4 1749.0C225.2 1864.4 170.8 1885.3 29.1 1853.7" stroke="#39b600" stroke-width="2.1" fill="none" stroke-linecap="round"/>
<path d="M301.4 1749.0C225.2 1864.4 169.9 1890.6 24.6 1879.9" stroke="#39b600" stroke-width="2.1" fill="none" stroke-linecap="round"/>
<path d="M301.4 1749.0C225.2 1864.4 169.9 1895.9 24.6 1906.5" stroke="#39b600" stroke-width="2.1" fill="none" stroke-linecap="round"/>
<path d="M301.4 1749.0C225.2 1864.4 170.8 1901.1 29.1 1932.7" stroke="#39b600" stroke-width="2.1" fill="none" stroke-linecap="round"/>
<path d="M361.5 1804.8C237.3 1875.5 187.2 1864.4 111.0 1749.0" stroke="#a3a500" stroke-width="2.1" fill="none" stroke-linecap="round"/>
<path d="M361.5 1804.8C237.3 1875.5 182.5 1867.5 87.9 1764.6" stroke="#a3a500" stroke-width="2.1" fill="none" stroke-linecap="round"/>
<path d="M361.5 1804.8C237.3 1875.5 192.3 1862.0 136.5 1736.9" stroke="#a3a500" stroke-width="2.1" fill="none" stroke-linecap="round"/>
<path d="M220.5 1724.6C209.1 1859.5 242.5 1895.9 387.8 1906.5" stroke="#d89000" stroke-width="2.1" fill="none" stroke-linecap="round"/>
<path d="M220.5 1724.6C209.1 1859.5 237.3 1910.9 361.5 1981.6" stroke="#d89000" stroke-width="2.1" fill="none" stroke-linecap="round"/>
<path d="M220.5 1724.6C209.1 1859.5 233.9 1915.2 344.7 2003.1" stroke="#d89000" stroke-width="2.1" fill="none" stroke-linecap="round"/>
<path d="M220.5 1724.6C209.1 1859.5 229.9 1918.9 324.5 2021.9" stroke="#d89000" stroke-width="2.1" fill="none" stroke-linecap="round"/>
<path d="M220.5 1724.6C209.1 1859.5 225.2 1922.1 301.4 2037.5" stroke="#d89000" stroke-width="2.1" fill="none" stroke-linecap="round"/>
<path d="M220.5 1724.6C209.1 1859.5 220.1 1924.5 275.9 2049.5" stroke="#d89000" stroke-width="2.1" fill="none" stroke-linecap="round"/>
<path d="M220.5 1724.6C209.1 1859.5 214.7 1926.1 248.7 2057.7" stroke="#d89000" stroke-width="2.1" fill="none" stroke-linecap="round"/>
<path d="M220.5 1724.6C209.1 1859.5 209.1 1926.9 220.5 2061.9" stroke="#d89000" stroke-width="2.1" fill="none" stroke-linecap="round"/>
<path d="M220.5 1724.6C209.1 1859.5 203.3 1926.9 191.9 2061.9" stroke="#d89000" stroke-width="2.1" fill="none" stroke-linecap="round"/>
<path d="M220.5 1724.6C209.1 1859.5 239.9 1906.2 374.5 1958.0" stroke="#d89000" stroke-width="2.1" fill="none" stroke-linecap="round"/>
<path d="M220.5 1724.6C209.1 1859.5 241.6 1901.1 383.4 1932.7" stroke="#d89000" stroke-width="2.1" fill="none" stroke-linecap="round"/>
<path d="M324.5 1764.6C229.9 1867.5 170.8 1885.3 29.1 1853.7" stroke="#f8766d" stroke-width="2.1" fill="none" stroke-linecap="round"/>
<path d="M324.5 1764.6C229.9 1867.5 169.9 1890.6 24.6 1879.9" stroke="#f8766d" stroke-width="2.1" fill="none" stroke-linecap="round"/>
<path d="M324.5 1764.6C229.9 1867.5 170.8 1901.1 29.1 1932.7" stroke="#f8766d" stroke-width="2.1" fill="none" stroke-linecap="round"/>
<path d="M324.5 1764.6C229.9 1867.5 172.5 1880.3 37.9 1828.5" stroke="#f8766d" stroke-width="2.1" fill="none" stroke-linecap="round"/>
<circle cx="220.50" cy="1724.57" r="7.60" fill="#e0bd85" stroke="none" stroke-width="1" />
<circle cx="248.74" cy="1728.72" r="6.60" fill="#e0bd85" stroke="none" stroke-width="1" />
<circle cx="275.92" cy="1736.92" r="6.20" fill="#e0bd85" stroke="none" stroke-width="1" />
<circle cx="301.40" cy="1748.97" r="4.80" fill="#e0bd85" stroke="none" stroke-width="1" />
<circle cx="324.52" cy="1764.58" r="4.80" fill="#e0bd85" stroke="none" stroke-width="1" />
<circle cx="344.74" cy="1783.35" r="5.40" fill="#e0bd85" stroke="none" stroke-width="1" />
<circle cx="361.54" cy="1804.82" r="4.20" fill="#e0bd85" stroke="none" stroke-width="1" />
<circle cx="374.52" cy="1828.47" r="4.20" fill="#e0bd85" stroke="none" stroke-width="1" />
<circle cx="383.35" cy="1853.72" r="4.80" fill="#e0bd85" stroke="none" stroke-width="1" />
<circle cx="387.83" cy="1879.94" r="4.20" fill="#e0bd85" stroke="none" stroke-width="1" />
<circle cx="387.83" cy="1906.49" r="2.70" fill="#fde4db" stroke="none" stroke-width="1" />
<circle cx="383.35" cy="1932.70" r="2.70" fill="#f88e74" stroke="none" stroke-width="1" />
<circle cx="374.52" cy="1957.95" r="2.70" fill="#f78f70" stroke="none" stroke-width="1" />
<circle cx="361.54" cy="1981.60" r="2.70" fill="#e9e0fa" stroke="none" stroke-width="1" />
<circle cx="344.74" cy="2003.08" r="2.70" fill="#ece4fb" stroke="none" stroke-width="1" />
<circle cx="324.52" cy="2021.85" r="2.70" fill="#fde8e0" stroke="none" stroke-width="1" />
<circle cx="301.40" cy="2037.45" r="2.70" fill="#fdf3ef" stroke="none" stroke-width="1" />
<circle cx="275.92" cy="2049.51" r="2.70" fill="#fdeee8" stroke="none" stroke-width="1" />
<circle cx="248.74" cy="2057.71" r="2.70" fill="#fbe9e2" stroke="none" stroke-width="1" />
<circle cx="220.50" cy="2061.86" r="2.70" fill="#f3ecfc" stroke="none" stroke-width="1" />
<circle cx="191.91" cy="2061.86" r="2.70" fill="#fce2d8" stroke="none" stroke-width="1" />
<circle cx="163.68" cy="2057.71" r="2.70" fill="#f7977a" stroke="none" stroke-width="1" />
<circle cx="136.49" cy="2049.51" r="2.70" fill="#f9b8a4" stroke="none" stroke-width="1" />
<circle cx="111.02" cy="2037.45" r="2.70" fill="#e9e0fa" stroke="none" stroke-width="1" />
<circle cx="87.89" cy="2021.85" r="2.70" fill="#e6dcf9" stroke="none" stroke-width="1" />
<circle cx="67.67" cy="2003.08" r="2.70" fill="#efe8fb" stroke="none" stroke-width="1" />
<circle cx="50.87" cy="1981.60" r="2.70" fill="#fbefe9" stroke="none" stroke-width="1" />
<circle cx="37.89" cy="1957.95" r="2.70" fill="#c9b2f5" stroke="none" stroke-width="1" />
<circle cx="29.06" cy="1932.70" r="2.70" fill="#7a55e8" stroke="none" stroke-width="1" />
<circle cx="24.59" cy="1906.49" r="2.70" fill="#d9c8f8" stroke="none" stroke-width="1" />
<circle cx="24.59" cy="1879.94" r="2.70" fill="#e5daf9" stroke="none" stroke-width="1" />
<circle cx="29.06" cy="1853.72" r="2.70" fill="#fdf3ef" stroke="none" stroke-width="1" />
<circle cx="37.89" cy="1828.47" r="2.70" fill="#e8defa" stroke="none" stroke-width="1" />
<circle cx="50.87" cy="1804.82" r="2.70" fill="#f9a58c" stroke="none" stroke-width="1" />
<circle cx="67.67" cy="1783.35" r="2.70" fill="#ee1c25" stroke="none" stroke-width="1" />
<circle cx="87.89" cy="1764.58" r="2.70" fill="#f8b3a0" stroke="none" stroke-width="1" />
<circle cx="111.02" cy="1748.97" r="2.70" fill="#ddd0f8" stroke="none" stroke-width="1" />
<circle cx="136.49" cy="1736.92" r="2.70" fill="#fbd5c8" stroke="none" stroke-width="1" />
<circle cx="163.68" cy="1728.72" r="2.70" fill="#fde4db" stroke="none" stroke-width="1" />
<circle cx="191.91" cy="1724.57" r="2.70" fill="#fdeee8" stroke="none" stroke-width="1" />
<text transform="translate(245.25,1719.14) scale(1.080,1)" text-anchor="middle" font-size="6.05" font-weight="bold" fill="#111">Coronavirus disease − COVID−19</text>
<text transform="translate(255.26,1733.65) scale(1.080,1)" text-anchor="middle" font-size="6.05" font-weight="bold" fill="#111">Ribosome</text>
<text transform="translate(287.79,1743.16) scale(1.080,1)" text-anchor="middle" font-size="6.05" font-weight="bold" fill="#111">Lysosome</text>
<text transform="translate(310.31,1754.17) scale(1.080,1)" text-anchor="middle" font-size="6.05" font-weight="bold" fill="#111">Glycolysis / Gluconeogenesis</text>
<text transform="translate(364.36,1762.68) scale(1.080,1)" text-anchor="middle" font-size="6.05" font-weight="bold" fill="#111">Biosynthesis of amino acid</text>
<text transform="translate(341.84,1788.71) scale(1.080,1)" text-anchor="middle" font-size="6.05" font-weight="bold" fill="#111">NOD−like receptor signaling pathway</text>
<text transform="translate(313.31,1805.22) scale(1.080,1)" text-anchor="middle" font-size="6.05" font-weight="bold" fill="#111">Cytosolic DNA−sensing pathway</text>
<text transform="translate(381.88,1823.74) scale(1.080,1)" text-anchor="middle" font-size="6.05" font-weight="bold" fill="#111">Leishmaniasis</text>
<text transform="translate(386.39,1849.27) scale(1.080,1)" text-anchor="middle" font-size="6.05" font-weight="bold" fill="#111">Tuberculosis</text>
<text transform="translate(350.35,1880.80) scale(1.080,1)" text-anchor="middle" font-size="6.05" font-weight="bold" fill="#111">HIF−1 signaling pathway</text>
<text transform="translate(176.68,1723.14) scale(1.080,1)" text-anchor="middle" font-size="6.05" font-weight="bold" fill="#111">EEF1A1</text>
<text transform="translate(158.16,1733.65) scale(1.080,1)" text-anchor="middle" font-size="6.05" font-weight="bold" fill="#111">IFNGR1</text>
<text transform="translate(127.13,1742.16) scale(1.080,1)" text-anchor="middle" font-size="6.05" font-weight="bold" fill="#111">SAMHD1</text>
<text transform="translate(105.61,1754.17) scale(1.080,1)" text-anchor="middle" font-size="6.05" font-weight="bold" fill="#111">ZBP1</text>
<text transform="translate(89.09,1763.18) scale(1.080,1)" text-anchor="middle" font-size="6.05" font-weight="bold" fill="#111">IRF7</text>
<text transform="translate(62.56,1788.71) scale(1.080,1)" text-anchor="middle" font-size="6.05" font-weight="bold" fill="#111">GBP2</text>
<text transform="translate(56.06,1800.22) scale(1.080,1)" text-anchor="middle" font-size="6.05" font-weight="bold" fill="#111">YWHAE</text>
<text transform="translate(43.54,1823.74) scale(1.080,1)" text-anchor="middle" font-size="6.05" font-weight="bold" fill="#111">ASS1</text>
<text transform="translate(34.53,1849.27) scale(1.080,1)" text-anchor="middle" font-size="6.05" font-weight="bold" fill="#111">ENO1</text>
<text transform="translate(29.53,1875.29) scale(1.080,1)" text-anchor="middle" font-size="6.05" font-weight="bold" fill="#111">TPI1</text>
<text transform="translate(18.52,1912.83) scale(1.080,1)" text-anchor="middle" font-size="6.05" font-weight="bold" fill="#111">LDHA</text>
<text transform="translate(23.52,1939.36) scale(1.080,1)" text-anchor="middle" font-size="6.05" font-weight="bold" fill="#111">PGAM1</text>
<text transform="translate(31.53,1965.38) scale(1.080,1)" text-anchor="middle" font-size="6.05" font-weight="bold" fill="#111">ACP5</text>
<text transform="translate(44.54,1988.41) scale(1.080,1)" text-anchor="middle" font-size="6.05" font-weight="bold" fill="#111">CTSB</text>
<text transform="translate(62.06,2010.93) scale(1.080,1)" text-anchor="middle" font-size="6.05" font-weight="bold" fill="#111">PSAP</text>
<text transform="translate(81.58,2028.95) scale(1.080,1)" text-anchor="middle" font-size="6.05" font-weight="bold" fill="#111">HEXA</text>
<text transform="translate(116.62,2034.95) scale(1.080,1)" text-anchor="middle" font-size="6.05" font-weight="bold" fill="#111">CTSD</text>
<text transform="translate(141.64,2046.46) scale(1.080,1)" text-anchor="middle" font-size="6.05" font-weight="bold" fill="#111">CD68</text>
<text transform="translate(157.66,2065.98) scale(1.080,1)" text-anchor="middle" font-size="6.05" font-weight="bold" fill="#111">CTSS</text>
<text transform="translate(198.20,2058.98) scale(1.080,1)" text-anchor="middle" font-size="6.05" font-weight="bold" fill="#111">STAT1</text>
<text transform="translate(215.22,2069.99) scale(1.080,1)" text-anchor="middle" font-size="6.05" font-weight="bold" fill="#111">RPL23</text>
<text transform="translate(243.74,2065.98) scale(1.080,1)" text-anchor="middle" font-size="6.05" font-weight="bold" fill="#111">RPL13</text>
<text transform="translate(271.27,2057.48) scale(1.080,1)" text-anchor="middle" font-size="6.05" font-weight="bold" fill="#111">RPS5</text>
<text transform="translate(296.30,2045.96) scale(1.080,1)" text-anchor="middle" font-size="6.05" font-weight="bold" fill="#111">RPL30</text>
<text transform="translate(330.83,2018.94) scale(1.080,1)" text-anchor="middle" font-size="6.05" font-weight="bold" fill="#111">RPS15A</text>
<text transform="translate(339.84,2010.43) scale(1.080,1)" text-anchor="middle" font-size="6.05" font-weight="bold" fill="#111">RPL37</text>
<text transform="translate(368.37,1977.90) scale(1.080,1)" text-anchor="middle" font-size="6.05" font-weight="bold" fill="#111">RPL32</text>
<text transform="translate(380.88,1954.37) scale(1.080,1)" text-anchor="middle" font-size="6.05" font-weight="bold" fill="#111">ISG15</text>
<text transform="translate(389.39,1928.85) scale(1.080,1)" text-anchor="middle" font-size="6.05" font-weight="bold" fill="#111">CFB</text>
<text transform="translate(393.89,1902.32) scale(1.080,1)" text-anchor="middle" font-size="6.05" font-weight="bold" fill="#111">RPL11</text>
<text transform="translate(410.91,1780.10) scale(1.050,1)" text-anchor="start" font-size="6.3" font-weight="bold" fill="#000">size</text>
<ellipse cx="418.70" cy="1783.90" rx="5.50" ry="3.30" fill="#000" stroke="none" stroke-width="1" />
<ellipse cx="418.70" cy="1795.00" rx="6.40" ry="5.50" fill="#000" stroke="none" stroke-width="1" />
<ellipse cx="418.70" cy="1808.10" rx="6.80" ry="5.60" fill="#000" stroke="none" stroke-width="1" />
<ellipse cx="418.70" cy="1822.40" rx="7.40" ry="6.20" fill="#000" stroke="none" stroke-width="1" />
<text transform="translate(431.80,1786.20)" text-anchor="start" font-size="6.3" font-weight="bold" fill="#000">5</text>
<text transform="translate(431.80,1793.70)" text-anchor="start" font-size="6.3" font-weight="bold" fill="#000">3</text>
<text transform="translate(431.80,1798.00)" text-anchor="start" font-size="6.3" font-weight="bold" fill="#000">7</text>
<text transform="translate(431.80,1810.70)" text-anchor="start" font-size="6.3" font-weight="bold" fill="#000">9</text>
<text transform="translate(431.80,1824.70)" text-anchor="start" font-size="6.3" font-weight="bold" fill="#000">11</text>
<text transform="translate(410.91,1840.36) scale(1.140,1)" text-anchor="start" font-size="6.8" font-weight="bold" fill="#000">fold change</text>
<rect x="411.41" y="1844.16" width="13.00" height="56.06" fill="url(#gfc)" stroke="none" stroke-width="1" />
<text transform="translate(428.43,1853.37)" text-anchor="start" font-size="6.3" font-weight="bold" fill="#000">1.0</text>
<text transform="translate(428.43,1866.38)" text-anchor="start" font-size="6.3" font-weight="bold" fill="#000">0.5</text>
<text transform="translate(428.43,1878.90)" text-anchor="start" font-size="6.3" font-weight="bold" fill="#000">0.0</text>
<text transform="translate(428.43,1891.91)" text-anchor="start" font-size="6.3" font-weight="bold" fill="#000">−0.5</text>
<text transform="translate(410.91,1911.43) scale(1.140,1)" text-anchor="start" font-size="6.8" font-weight="bold" fill="#000">category</text>
<line x1="411.91" y1="1921.24" x2="421.42" y2="1921.24" stroke="#f8766d" stroke-width="2.3" />
<text transform="translate(427.93,1923.34) scale(1.080,1)" text-anchor="start" font-size="6.0" font-weight="bold" fill="#111">Biosynthesis of amino acids</text>
<line x1="411.91" y1="1932.48" x2="421.42" y2="1932.48" stroke="#d89000" stroke-width="2.3" />
<text transform="translate(427.93,1934.58) scale(1.080,1)" text-anchor="start" font-size="6.0" font-weight="bold" fill="#111">Coronavirus disease − COVID−19</text>
<line x1="411.91" y1="1943.71" x2="421.42" y2="1943.71" stroke="#a3a500" stroke-width="2.3" />
<text transform="translate(427.93,1945.81) scale(1.080,1)" text-anchor="start" font-size="6.0" font-weight="bold" fill="#111">Cytosolic DNA−sensing pathway</text>
<line x1="411.91" y1="1954.95" x2="421.42" y2="1954.95" stroke="#39b600" stroke-width="2.3" />
<text transform="translate(427.93,1957.05) scale(1.080,1)" text-anchor="start" font-size="6.0" font-weight="bold" fill="#111">Glycolysis / Gluconeogenesis</text>
<line x1="411.91" y1="1966.19" x2="421.42" y2="1966.19" stroke="#00bf7d" stroke-width="2.3" />
<text transform="translate(427.93,1968.29) scale(1.080,1)" text-anchor="start" font-size="6.0" font-weight="bold" fill="#111">HIF−1 signaling pathway</text>
<line x1="411.91" y1="1977.42" x2="421.42" y2="1977.42" stroke="#00bfc4" stroke-width="2.3" />
<text transform="translate(427.93,1979.52) scale(1.080,1)" text-anchor="start" font-size="6.0" font-weight="bold" fill="#111">Leishmaniasis</text>
<line x1="411.91" y1="1988.66" x2="421.42" y2="1988.66" stroke="#00b0f6" stroke-width="2.3" />
<text transform="translate(427.93,1990.76) scale(1.080,1)" text-anchor="start" font-size="6.0" font-weight="bold" fill="#111">Lysosome</text>
<line x1="411.91" y1="1999.89" x2="421.42" y2="1999.89" stroke="#9590ff" stroke-width="2.3" />
<text transform="translate(427.93,2001.99) scale(1.080,1)" text-anchor="start" font-size="6.0" font-weight="bold" fill="#111">NOD−like receptor signaling pathway</text>
<line x1="411.91" y1="2011.13" x2="421.42" y2="2011.13" stroke="#e76bf3" stroke-width="2.3" />
<text transform="translate(427.93,2013.23) scale(1.080,1)" text-anchor="start" font-size="6.0" font-weight="bold" fill="#111">Ribosome</text>
<line x1="411.91" y1="2022.37" x2="421.42" y2="2022.37" stroke="#ff62bc" stroke-width="2.3" />
<text transform="translate(427.93,2024.47) scale(1.080,1)" text-anchor="start" font-size="6.0" font-weight="bold" fill="#111">Tuberculosis</text>
<line x1="750.28" y1="1723.96" x2="724.31" y2="1778.90" stroke="#969696" stroke-width="7.6" stroke-linecap="round" stroke-opacity="0.66"/>
<line x1="724.31" y1="1778.90" x2="631.40" y2="1788.89" stroke="#969696" stroke-width="4.745254745254745" stroke-linecap="round" stroke-opacity="0.66"/>
<line x1="631.40" y1="1788.89" x2="570.96" y2="1835.84" stroke="#969696" stroke-width="5.694305694305695" stroke-linecap="round" stroke-opacity="0.66"/>
<line x1="631.40" y1="1788.89" x2="710.32" y2="1843.34" stroke="#969696" stroke-width="5.694305694305695" stroke-linecap="round" stroke-opacity="0.66"/>
<line x1="724.31" y1="1778.90" x2="710.32" y2="1843.34" stroke="#969696" stroke-width="4.745254745254745" stroke-linecap="round" stroke-opacity="0.66"/>
<line x1="724.31" y1="1778.90" x2="778.25" y2="1832.85" stroke="#969696" stroke-width="4.745254745254745" stroke-linecap="round" stroke-opacity="0.66"/>
<line x1="724.31" y1="1778.90" x2="747.28" y2="1853.33" stroke="#969696" stroke-width="3.7962037962037964" stroke-linecap="round" stroke-opacity="0.66"/>
<line x1="724.31" y1="1778.90" x2="750.78" y2="1886.29" stroke="#969696" stroke-width="5.694305694305695" stroke-linecap="round" stroke-opacity="0.66"/>
<line x1="724.31" y1="1778.90" x2="813.22" y2="1882.80" stroke="#969696" stroke-width="4.745254745254745" stroke-linecap="round" stroke-opacity="0.66"/>
<line x1="710.32" y1="1843.34" x2="778.25" y2="1832.85" stroke="#969696" stroke-width="5.694305694305695" stroke-linecap="round" stroke-opacity="0.66"/>
<line x1="710.32" y1="1843.34" x2="747.28" y2="1853.33" stroke="#969696" stroke-width="3.7962037962037964" stroke-linecap="round" stroke-opacity="0.66"/>
<line x1="710.32" y1="1843.34" x2="750.78" y2="1886.29" stroke="#969696" stroke-width="4.745254745254745" stroke-linecap="round" stroke-opacity="0.66"/>
<line x1="710.32" y1="1843.34" x2="813.22" y2="1882.80" stroke="#969696" stroke-width="4.745254745254745" stroke-linecap="round" stroke-opacity="0.66"/>
<line x1="710.32" y1="1843.34" x2="685.84" y2="1921.26" stroke="#969696" stroke-width="5.694305694305695" stroke-linecap="round" stroke-opacity="0.66"/>
<line x1="778.25" y1="1832.85" x2="747.28" y2="1853.33" stroke="#969696" stroke-width="4.745254745254745" stroke-linecap="round" stroke-opacity="0.66"/>
<line x1="778.25" y1="1832.85" x2="750.78" y2="1886.29" stroke="#969696" stroke-width="5.694305694305695" stroke-linecap="round" stroke-opacity="0.66"/>
<line x1="778.25" y1="1832.85" x2="813.22" y2="1882.80" stroke="#969696" stroke-width="6.643356643356643" stroke-linecap="round" stroke-opacity="0.66"/>
<line x1="778.25" y1="1832.85" x2="685.84" y2="1921.26" stroke="#969696" stroke-width="4.745254745254745" stroke-linecap="round" stroke-opacity="0.66"/>
<line x1="747.28" y1="1853.33" x2="750.78" y2="1886.29" stroke="#969696" stroke-width="4.745254745254745" stroke-linecap="round" stroke-opacity="0.66"/>
<line x1="747.28" y1="1853.33" x2="813.22" y2="1882.80" stroke="#969696" stroke-width="3.7962037962037964" stroke-linecap="round" stroke-opacity="0.66"/>
<line x1="747.28" y1="1853.33" x2="685.84" y2="1921.26" stroke="#969696" stroke-width="3.7962037962037964" stroke-linecap="round" stroke-opacity="0.66"/>
<line x1="750.78" y1="1886.29" x2="813.22" y2="1882.80" stroke="#969696" stroke-width="6.643356643356643" stroke-linecap="round" stroke-opacity="0.66"/>
<line x1="750.78" y1="1886.29" x2="685.84" y2="1921.26" stroke="#969696" stroke-width="6.643356643356643" stroke-linecap="round" stroke-opacity="0.66"/>
<line x1="813.22" y1="1882.80" x2="685.84" y2="1921.26" stroke="#969696" stroke-width="4.745254745254745" stroke-linecap="round" stroke-opacity="0.66"/>
<line x1="813.22" y1="1882.80" x2="912.12" y2="1908.27" stroke="#969696" stroke-width="7.592407592407593" stroke-linecap="round" stroke-opacity="0.66"/>
<line x1="813.22" y1="1882.80" x2="871.16" y2="1943.24" stroke="#969696" stroke-width="7.592407592407593" stroke-linecap="round" stroke-opacity="0.66"/>
<line x1="912.12" y1="1908.27" x2="871.16" y2="1943.24" stroke="#969696" stroke-width="7.6" stroke-linecap="round" stroke-opacity="0.66"/>
<line x1="912.12" y1="1908.27" x2="944.59" y2="1855.82" stroke="#969696" stroke-width="7.592407592407593" stroke-linecap="round" stroke-opacity="0.66"/>
<line x1="685.84" y1="1921.26" x2="608.92" y2="1967.71" stroke="#969696" stroke-width="5.694305694305695" stroke-linecap="round" stroke-opacity="0.66"/>
<line x1="685.84" y1="1921.26" x2="653.38" y2="1984.20" stroke="#969696" stroke-width="7.592407592407593" stroke-linecap="round" stroke-opacity="0.66"/>
<line x1="685.84" y1="1921.26" x2="690.84" y2="2010.67" stroke="#969696" stroke-width="5.694305694305695" stroke-linecap="round" stroke-opacity="0.66"/>
<line x1="608.92" y1="1967.71" x2="653.38" y2="1984.20" stroke="#969696" stroke-width="4.745254745254745" stroke-linecap="round" stroke-opacity="0.66"/>
<line x1="608.92" y1="1967.71" x2="648.38" y2="2036.14" stroke="#969696" stroke-width="3.7962037962037964" stroke-linecap="round" stroke-opacity="0.66"/>
<line x1="653.38" y1="1984.20" x2="690.84" y2="2010.67" stroke="#969696" stroke-width="7.6" stroke-linecap="round" stroke-opacity="0.66"/>
<line x1="653.38" y1="1984.20" x2="648.38" y2="2036.14" stroke="#969696" stroke-width="7.6" stroke-linecap="round" stroke-opacity="0.66"/>
<line x1="690.84" y1="2010.67" x2="648.38" y2="2036.14" stroke="#969696" stroke-width="7.6" stroke-linecap="round" stroke-opacity="0.66"/>
<line x1="864.17" y1="2034.65" x2="815.21" y2="2052.13" stroke="#969696" stroke-width="7.6" stroke-linecap="round" stroke-opacity="0.66"/>
<line x1="724.31" y1="1778.90" x2="685.84" y2="1921.26" stroke="#969696" stroke-width="3.7962037962037964" stroke-linecap="round" stroke-opacity="0.66"/>
<circle cx="750.28" cy="1723.96" r="5.49" fill="#fd0006" stroke="#000" stroke-width="1.5" />
<circle cx="724.31" cy="1778.90" r="4.50" fill="#5c00db" stroke="#000" stroke-width="1.5" />
<circle cx="631.40" cy="1788.89" r="4.50" fill="#f60020" stroke="#000" stroke-width="1.5" />
<circle cx="570.96" cy="1835.84" r="3.00" fill="#a000bc" stroke="#000" stroke-width="1.5" />
<circle cx="710.32" cy="1843.34" r="4.50" fill="#4a00e2" stroke="#000" stroke-width="1.5" />
<circle cx="778.25" cy="1832.85" r="4.50" fill="#ca0088" stroke="#000" stroke-width="1.5" />
<circle cx="747.28" cy="1853.33" r="3.00" fill="#7b00cf" stroke="#000" stroke-width="1.5" />
<circle cx="750.78" cy="1886.29" r="4.50" fill="#f60020" stroke="#000" stroke-width="1.5" />
<circle cx="813.22" cy="1882.80" r="5.49" fill="#eb0046" stroke="#000" stroke-width="1.5" />
<circle cx="685.84" cy="1921.26" r="4.50" fill="#e2005b" stroke="#000" stroke-width="1.5" />
<circle cx="912.12" cy="1908.27" r="5.99" fill="#fd0006" stroke="#000" stroke-width="1.5" />
<circle cx="871.16" cy="1943.24" r="4.50" fill="#b700a0" stroke="#000" stroke-width="1.5" />
<circle cx="944.59" cy="1855.82" r="2.50" fill="#c6008d" stroke="#000" stroke-width="1.5" />
<circle cx="883.65" cy="1763.92" r="3.00" fill="#d60072" stroke="#000" stroke-width="1.5" />
<circle cx="608.92" cy="1967.71" r="3.00" fill="#1200f8" stroke="#000" stroke-width="1.5" />
<circle cx="653.38" cy="1984.20" r="5.00" fill="#fd0006" stroke="#000" stroke-width="1.5" />
<circle cx="690.84" cy="2010.67" r="4.50" fill="#db0069" stroke="#000" stroke-width="1.5" />
<circle cx="648.38" cy="2036.14" r="5.00" fill="#fc000a" stroke="#000" stroke-width="1.5" />
<circle cx="864.17" cy="2034.65" r="6.99" fill="#ff0000" stroke="#000" stroke-width="1.5" />
<circle cx="815.21" cy="2052.13" r="6.49" fill="#fe0003" stroke="#000" stroke-width="1.5" />
<text transform="translate(746.78,1732.15) scale(1.080,1)" text-anchor="middle" font-size="6.6" font-weight="bold" fill="#111">NOD−like receptor signaling pathway</text>
<text transform="translate(731.80,1775.11) scale(1.080,1)" text-anchor="middle" font-size="6.6" font-weight="bold" fill="#111">Hepatitis C</text>
<text transform="translate(640.89,1786.10) scale(1.080,1)" text-anchor="middle" font-size="6.6" font-weight="bold" fill="#111">Cytosolic DNA−sensing pathway</text>
<text transform="translate(612.92,1838.04) scale(1.080,1)" text-anchor="middle" font-size="6.6" font-weight="bold" fill="#111">Viral life cycle − HIV−1</text>
<text transform="translate(704.33,1840.04) scale(1.080,1)" text-anchor="middle" font-size="6.6" font-weight="bold" fill="#111">Necroptosis</text>
<text transform="translate(774.76,1841.04) scale(1.080,1)" text-anchor="middle" font-size="6.6" font-weight="bold" fill="#111">Osteoclast differentiation</text>
<text transform="translate(757.27,1861.02) scale(1.080,1)" text-anchor="middle" font-size="6.6" font-weight="bold" fill="#111">Inflammatory bowel disease</text>
<text transform="translate(759.77,1883.50) scale(1.080,1)" text-anchor="middle" font-size="6.6" font-weight="bold" fill="#111">Leishmaniasis</text>
<text transform="translate(808.72,1891.49) scale(1.080,1)" text-anchor="middle" font-size="6.6" font-weight="bold" fill="#111">Tuberculosis</text>
<text transform="translate(694.84,1917.46) scale(1.080,1)" text-anchor="middle" font-size="6.6" font-weight="bold" fill="#111">HIF−1 signaling pathway</text>
<text transform="translate(920.61,1904.48) scale(1.080,1)" text-anchor="middle" font-size="6.6" font-weight="bold" fill="#111">Lysosome</text>
<text transform="translate(866.16,1951.93) scale(1.080,1)" text-anchor="middle" font-size="6.6" font-weight="bold" fill="#111">Apoptosis</text>
<text transform="translate(904.63,1858.52) scale(1.080,1)" text-anchor="middle" font-size="6.6" font-weight="bold" fill="#111">Sphingolipid metabolism</text>
<text transform="translate(878.15,1772.61) scale(1.080,1)" text-anchor="middle" font-size="6.6" font-weight="bold" fill="#111">Proteasome</text>
<text transform="translate(676.35,1969.91) scale(1.080,1)" text-anchor="middle" font-size="6.6" font-weight="bold" fill="#111">Central carbon metabolism in cancer</text>
<text transform="translate(663.87,1980.90) scale(1.080,1)" text-anchor="middle" font-size="6.6" font-weight="bold" fill="#111">Glycolysis / Gluconeogenesis</text>
<text transform="translate(699.83,2007.87) scale(1.080,1)" text-anchor="middle" font-size="6.6" font-weight="bold" fill="#111">Carbon metabolism</text>
<text transform="translate(645.88,2044.84) scale(1.080,1)" text-anchor="middle" font-size="6.6" font-weight="bold" fill="#111">Biosynthesis of amino acids</text>
<text transform="translate(873.66,2029.85) scale(1.080,1)" text-anchor="middle" font-size="6.6" font-weight="bold" fill="#111">Coronavirus disease − COVID−19</text>
<text transform="translate(823.71,2048.33) scale(1.080,1)" text-anchor="middle" font-size="6.6" font-weight="bold" fill="#111">Ribosome</text>
<text transform="translate(976.55,1808.57) scale(1.080,1)" text-anchor="start" font-size="7.4" font-weight="bold" fill="#000">number of genes</text>
<circle cx="985.54" cy="1820.36" r="2.50" fill="#fff" stroke="#000" stroke-width="1.1" />
<text transform="translate(998.53,1822.76)" text-anchor="start" font-size="7" font-weight="bold" fill="#000">2</text>
<circle cx="985.54" cy="1832.35" r="4.00" fill="#fff" stroke="#000" stroke-width="1.1" />
<text transform="translate(998.53,1834.75)" text-anchor="start" font-size="7" font-weight="bold" fill="#000">4</text>
<circle cx="985.54" cy="1845.33" r="5.00" fill="#fff" stroke="#000" stroke-width="1.1" />
<text transform="translate(998.53,1847.73)" text-anchor="start" font-size="7" font-weight="bold" fill="#000">6</text>
<circle cx="985.54" cy="1858.82" r="5.99" fill="#fff" stroke="#000" stroke-width="1.1" />
<text transform="translate(998.53,1861.22)" text-anchor="start" font-size="7" font-weight="bold" fill="#000">8</text>
<circle cx="985.54" cy="1874.31" r="6.99" fill="#fff" stroke="#000" stroke-width="1.1" />
<text transform="translate(998.53,1876.71)" text-anchor="start" font-size="7" font-weight="bold" fill="#000">10</text>
<text transform="translate(976.55,1904.98) scale(1.080,1)" text-anchor="start" font-size="7.4" font-weight="bold" fill="#000">pvalue</text>
<rect x="976.55" y="1908.77" width="14.00" height="63.44" fill="url(#gpv)" stroke="none" stroke-width="1" />
<text transform="translate(994.54,1921.66)" text-anchor="start" font-size="7" font-weight="bold" fill="#000">0.04</text>
<text transform="translate(994.54,1935.15)" text-anchor="start" font-size="7" font-weight="bold" fill="#000">0.03</text>
<text transform="translate(994.54,1948.63)" text-anchor="start" font-size="7" font-weight="bold" fill="#000">0.02</text>
<text transform="translate(994.54,1962.12)" text-anchor="start" font-size="7" font-weight="bold" fill="#000">0.01</text>
<!-- p_i.py -->
<text transform="translate(4.50,2106.00)" text-anchor="start" font-size="19.5" font-weight="bold" fill="#000">I</text>
<text transform="translate(258.26,2098.32) scale(1.080,1)" text-anchor="middle" font-size="5.2" font-weight="bold" fill="#222">proteins: 60</text>
<text transform="translate(258.26,2104.82) scale(1.080,1)" text-anchor="middle" font-size="5.2" font-weight="bold" fill="#222">interactions: 196</text>
<text transform="translate(262.26,2111.33) scale(1.080,1)" text-anchor="middle" font-size="5.2" font-weight="bold" fill="#222">expected interactions: 60 (p−value: 0)</text>
<path d="M79.8 2200.4L120.8 2246.9M77.4 2229.0L121.0 2247.0M121.1 2246.7L173.2 2208.1M119.9 2246.7L120.4 2341.3M119.9 2246.8L127.9 2320.4M173.4 2208.5L221.9 2184.0M221.2 2184.2L248.2 2208.2M221.9 2183.2L299.9 2214.8M248.8 2208.0L218.3 2215.5M249.4 2208.1L224.4 2241.6M248.7 2208.0L299.7 2215.5M248.7 2207.6L271.8 2249.2M217.4 2215.3L222.9 2241.3M218.4 2214.8L272.0 2248.8M223.7 2241.2L271.8 2249.2M223.9 2241.5L299.9 2215.5M223.4 2240.9L169.4 2308.5M299.5 2214.9L271.5 2248.9M300.2 2215.2L320.7 2144.2M299.6 2214.0L336.1 2206.9M300.3 2214.6L334.9 2247.1M299.5 2214.4L356.6 2192.4M272.6 2249.1L273.6 2267.6M271.8 2248.8L334.3 2247.3M271.1 2248.2L335.7 2207.1M272.6 2249.1L279.6 2312.6M271.5 2249.9L355.6 2281.0M272.1 2248.9L340.6 2316.5M337.1 2208.2L335.1 2247.7M335.9 2207.5L356.4 2192.5M336.0 2208.2L355.5 2280.3M334.0 2247.9L355.5 2280.4M334.5 2247.3L392.5 2268.8M335.1 2247.6L341.1 2316.7M335.1 2248.0L357.6 2193.4M357.3 2193.1L356.3 2280.2M272.0 2267.8L278.0 2312.8M272.8 2267.3L355.9 2279.8M272.8 2267.7L334.3 2247.7M278.8 2311.9L340.4 2315.9M278.6 2312.4L355.7 2279.8M279.1 2313.9L208.0 2333.9M278.4 2312.9L305.9 2377.5M279.5 2311.3L356.6 2351.4M278.9 2311.9L378.0 2331.0M392.5 2268.0L437.1 2272.5M392.1 2268.9L368.6 2290.9M436.7 2272.9L368.7 2290.4M392.4 2269.2L355.9 2280.2M438.5 2274.0L427.0 2325.1M436.4 2273.1L394.8 2314.7M392.4 2269.2L395.4 2315.2M368.1 2290.3L339.5 2315.8M100.8 2287.5L95.3 2314.1M102.2 2287.2L129.7 2319.7M101.5 2288.1L169.6 2309.1M101.2 2287.8L121.2 2341.4M56.5 2312.1L96.1 2314.6M56.5 2312.5L129.0 2321.0M96.0 2315.0L129.0 2321.0M96.7 2313.7L122.2 2340.7M96.2 2315.4L169.8 2309.9M129.2 2320.6L169.8 2309.1M127.6 2319.7L120.1 2340.7M128.8 2320.5L159.8 2363.5M129.5 2319.5L185.5 2347.0M129.2 2319.8L207.8 2332.4M169.4 2308.4L121.4 2340.9M168.5 2308.5L159.0 2363.1M169.7 2308.7L185.2 2347.8M169.9 2308.4L207.9 2332.4M121.2 2342.0L159.8 2364.0M121.8 2342.0L53.7 2357.6M122.2 2341.9L89.1 2371.4M159.9 2362.9L185.0 2347.4M159.0 2362.2L105.4 2419.8M160.9 2363.6L123.4 2450.2M160.3 2362.9L243.9 2390.9M159.6 2362.7L60.5 2458.8M185.6 2348.4L208.2 2333.4M244.1 2392.0L220.6 2404.5M243.7 2390.9L306.2 2376.9M243.8 2390.9L273.3 2393.9M243.4 2391.4L252.4 2433.4M220.5 2404.6L306.5 2378.1M220.2 2403.8L252.8 2433.4M220.4 2403.4L281.9 2425.0M220.6 2403.7L241.6 2464.3M220.1 2403.0L273.1 2393.5M219.3 2404.6L273.4 2465.2M272.7 2393.2L305.8 2376.2M274.0 2394.7L253.5 2433.7M306.3 2377.3L252.8 2433.4M305.2 2376.8L280.7 2424.8M306.7 2377.4L274.6 2464.5M306.6 2377.5L241.6 2464.6M252.0 2433.1L240.5 2464.1M252.4 2433.6L273.9 2464.6M252.8 2433.4L281.8 2425.3M241.2 2464.4L274.3 2464.4M304.9 2376.6L354.4 2279.5M415.4 2370.3L473.0 2403.8M335.2 2208.6L367.8 2291.6M334.3 2247.7L368.9 2291.2M356.9 2193.1L392.4 2269.2M334.6 2247.4L395.7 2315.0M355.8 2279.0L436.8 2272.5M340.3 2315.1L395.4 2313.6M340.3 2317.1L425.4 2325.1M340.5 2316.4L378.0 2331.4M340.8 2315.6L407.4 2344.2M340.7 2316.6L356.2 2352.6M340.3 2316.7L390.4 2361.3M341.4 2316.2L368.0 2373.3M340.3 2316.7L415.4 2370.3M340.3 2316.7L386.9 2390.3M339.6 2316.4L355.1 2279.9M340.1 2316.4L368.6 2290.9M395.6 2314.5L425.7 2324.0M394.8 2314.7L377.3 2331.2M395.0 2315.4L406.5 2345.4M394.8 2314.7L355.3 2352.2M395.8 2315.3L390.8 2361.3M395.4 2315.2L366.9 2373.8M394.3 2315.6L414.3 2370.7M394.6 2315.1L386.1 2390.2M394.6 2316.1L355.1 2281.1M395.4 2315.2L368.9 2291.2M425.5 2325.1L377.9 2332.1M424.8 2324.2L406.3 2344.7M425.6 2325.1L356.0 2353.1M425.1 2324.5L390.1 2361.0M425.2 2324.4L366.6 2373.5M425.8 2324.8L415.8 2370.4M424.4 2324.1L385.9 2389.7M426.1 2323.7L356.5 2279.2M426.0 2323.7L369.5 2290.2M377.7 2332.1L406.7 2345.6M377.6 2331.5L355.6 2352.5M377.1 2332.1L389.7 2361.6M379.0 2332.1L368.0 2374.1M378.2 2331.5L415.7 2370.0M378.3 2331.7L387.3 2390.2M378.6 2331.4L356.6 2279.9M378.7 2331.6L369.6 2291.0M406.9 2345.3L355.9 2352.8M406.1 2344.4L389.6 2360.4M406.9 2345.3L366.9 2373.8M406.9 2345.3L415.4 2370.3M406.9 2345.3L386.9 2390.3M407.2 2345.0L356.2 2280.0M406.6 2345.5L368.5 2291.4M355.9 2352.8L390.4 2361.3M356.2 2352.6L367.2 2373.6M356.3 2351.2L415.9 2368.8M354.9 2353.5L386.0 2391.1M354.3 2352.8L354.3 2280.2M355.9 2352.8L368.9 2291.2M391.0 2362.3L367.4 2374.9M390.5 2360.9L415.6 2369.9M391.2 2361.4L387.7 2390.4M390.0 2361.4L355.5 2280.4M390.0 2361.4L368.5 2291.3M366.8 2373.4L415.4 2369.9M366.9 2373.8L386.9 2390.3M366.9 2373.8L355.9 2280.2M366.1 2373.8L368.1 2291.2M416.1 2371.3L387.6 2391.3M415.4 2370.3L355.9 2280.2M415.8 2370.1L369.2 2291.0M386.1 2390.5L355.1 2280.4M386.5 2390.4L368.5 2291.3M355.9 2280.2L368.9 2291.2M306.0 2377.1L340.0 2316.5M306.7 2378.0L356.2 2353.5M306.3 2377.3L366.9 2373.8M306.3 2377.3L386.9 2390.3M306.4 2377.7L390.5 2361.7M306.5 2377.6L378.1 2332.1M306.5 2378.1L407.1 2346.0M306.4 2378.1L415.5 2371.1M306.0 2376.6L425.1 2324.0M307.0 2378.3L396.1 2316.2" stroke="#b3b62c" stroke-width="0.62" fill="none"/>
<path d="M80.4 2199.9L121.4 2246.4M77.1 2229.8L120.7 2247.8M122.3 2246.7L122.8 2341.3M121.5 2246.6L129.5 2320.2M173.7 2209.2L222.3 2184.7M173.2 2208.1L218.2 2215.1M222.3 2183.0L249.3 2207.0M221.6 2184.0L299.7 2215.5M248.7 2207.2L218.1 2214.7M248.1 2207.1L223.1 2240.7M248.8 2207.2L299.9 2214.7M249.4 2207.2L272.5 2248.8M219.0 2215.0L224.5 2241.0M218.0 2215.5L271.6 2249.5M223.6 2242.0L271.6 2250.0M223.6 2240.8L299.7 2214.8M224.0 2241.4L170.0 2309.0M300.7 2215.9L272.7 2249.9M299.4 2215.0L319.9 2144.0M299.9 2215.5L336.4 2208.5M299.3 2215.7L333.8 2248.2M299.8 2215.1L356.9 2193.1M271.0 2249.2L272.0 2267.7M271.8 2249.6L334.3 2248.1M272.4 2250.2L337.0 2209.1M271.8 2249.2L278.8 2312.7M271.8 2249.2L355.9 2280.2M271.5 2249.5L340.1 2317.0M336.3 2208.1L334.3 2247.7M336.8 2208.8L357.3 2193.8M336.7 2208.0L356.2 2280.1M334.7 2247.4L356.2 2280.0M334.2 2248.0L392.3 2269.6M334.3 2247.7L340.3 2316.7M333.6 2247.4L356.1 2192.8M355.7 2193.1L354.7 2280.2M272.8 2267.7L278.8 2312.7M272.7 2268.1L355.8 2280.6M273.0 2268.4L334.6 2248.4M278.8 2312.7L340.3 2316.7M278.9 2313.1L356.0 2280.6M278.9 2313.1L207.8 2333.1M277.7 2313.2L305.2 2377.8M278.4 2313.4L355.5 2353.5M278.8 2312.7L377.9 2331.8M392.4 2269.6L436.9 2274.1M392.7 2269.5L369.1 2291.5M437.1 2274.5L369.1 2292.0M392.2 2268.4L355.6 2279.4M437.7 2273.9L426.2 2324.9M437.5 2274.3L396.0 2315.8M393.2 2269.1L396.2 2315.2M369.1 2291.5L340.6 2317.0M102.4 2287.9L96.9 2314.4M101.6 2287.7L129.1 2320.2M101.7 2287.3L169.8 2308.3M102.0 2287.6L122.0 2341.1M56.6 2310.5L96.2 2313.0M56.6 2311.7L129.1 2320.2M96.2 2313.4L129.3 2319.5M95.5 2314.8L121.0 2341.8M96.0 2313.0L169.6 2307.5M129.0 2319.9L169.6 2308.3M130.6 2320.8L123.1 2341.8M128.2 2320.9L159.2 2364.0M129.1 2320.2L185.2 2347.8M129.3 2319.1L207.9 2331.6M169.0 2307.7L120.9 2340.3M171.6 2309.1L162.1 2363.6M168.9 2309.0L184.4 2348.1M169.0 2309.7L207.1 2333.8M122.0 2340.6L160.6 2362.6M121.6 2341.3L53.6 2356.8M121.1 2340.7L88.1 2370.2M160.8 2364.3L185.8 2348.8M160.2 2363.3L106.6 2420.8M159.4 2363.0L121.9 2449.6M160.5 2362.1L244.1 2390.2M160.2 2363.3L61.1 2459.4M184.7 2347.1L207.3 2332.1M243.7 2391.3L220.2 2403.8M244.0 2392.5L306.6 2378.5M243.7 2391.7L273.2 2394.7M244.9 2391.1L253.9 2433.1M220.2 2403.8L306.3 2377.3M221.3 2402.6L253.8 2432.2M219.8 2405.0L281.4 2426.5M219.8 2404.0L240.9 2464.5M220.2 2403.8L273.3 2394.3M221.1 2403.0L275.2 2463.6M273.5 2394.7L306.5 2377.7M272.6 2393.9L252.0 2433.0M305.7 2376.7L252.2 2432.8M306.0 2377.1L281.4 2425.2M305.9 2377.2L273.9 2464.2M306.0 2377.1L240.9 2464.1M252.8 2433.4L241.2 2464.4M253.1 2433.1L274.6 2464.2M253.0 2434.1L282.0 2426.1M241.2 2462.8L274.3 2462.8M307.7 2378.0L357.3 2280.9M415.0 2371.0L472.6 2404.5M336.0 2208.3L368.5 2291.4M333.7 2248.2L368.2 2291.7M355.4 2193.8L390.9 2269.9M335.2 2246.9L396.3 2314.4M355.9 2280.6L437.0 2274.1M340.4 2317.5L395.4 2316.0M340.4 2316.3L425.5 2324.3M340.2 2317.1L377.7 2332.1M339.9 2317.8L406.4 2346.4M340.0 2316.9L355.5 2352.9M339.8 2317.3L389.9 2361.9M340.7 2316.6L367.2 2373.6M340.8 2316.1L415.9 2369.6M341.0 2316.3L387.6 2389.9M340.3 2316.7L355.9 2280.2M340.6 2317.0L369.1 2291.5M395.4 2315.2L425.4 2324.7M395.4 2315.2L377.9 2331.8M396.5 2314.8L408.0 2344.8M394.3 2314.1L354.8 2351.6M395.0 2315.2L390.0 2361.2M394.7 2314.9L366.1 2373.4M395.0 2315.4L415.0 2370.4M396.2 2315.3L387.7 2390.4M395.1 2315.5L355.6 2280.5M395.9 2314.6L369.4 2290.6M425.6 2325.9L378.1 2332.9M426.0 2325.3L407.5 2345.8M425.0 2323.6L355.4 2351.7M426.3 2325.6L391.3 2362.1M426.2 2325.7L367.6 2374.7M425.0 2324.7L415.0 2370.2M426.5 2325.4L387.9 2390.9M425.2 2325.1L355.6 2280.5M425.2 2325.1L368.7 2291.6M377.4 2332.8L406.4 2346.4M378.7 2332.6L356.7 2353.6M378.6 2331.4L391.1 2361.0M378.3 2331.9L367.3 2373.9M378.7 2330.9L416.3 2369.5M377.5 2331.8L386.5 2390.4M377.9 2331.8L355.9 2280.2M377.9 2331.8L368.9 2291.2M406.7 2343.7L355.6 2351.2M407.2 2345.6L390.7 2361.6M406.4 2344.6L366.4 2373.1M408.4 2344.8L416.9 2369.8M406.2 2344.9L386.2 2390.0M406.0 2346.0L354.9 2280.9M405.9 2346.0L367.9 2291.9M356.0 2352.0L390.6 2360.5M355.5 2353.0L366.5 2374.0M356.1 2352.0L415.6 2369.5M356.2 2352.5L387.2 2390.1M355.1 2352.8L355.1 2280.2M355.1 2352.6L368.1 2291.0M389.8 2360.2L366.3 2372.7M390.3 2361.7L415.3 2370.7M389.6 2361.2L386.1 2390.2M390.8 2361.1L356.2 2280.0M389.2 2361.6L367.7 2291.6M366.8 2372.6L415.3 2369.1M367.4 2373.2L387.4 2389.7M366.1 2373.9L355.1 2280.3M367.7 2373.8L369.7 2291.2M415.2 2370.0L386.7 2390.0M416.8 2369.4L357.2 2279.3M414.4 2370.9L367.8 2291.8M386.9 2390.3L355.9 2280.2M388.1 2390.1L370.0 2291.0M355.3 2280.8L368.4 2291.8M305.3 2376.7L339.3 2316.1M306.3 2377.3L355.9 2352.8M306.4 2378.1L366.9 2374.6M306.2 2378.1L386.8 2391.1M306.1 2376.1L390.2 2360.1M306.1 2377.0L377.7 2331.4M306.1 2376.5L406.7 2344.5M306.3 2376.5L415.4 2369.5M306.6 2378.0L425.7 2325.5M305.6 2376.3L394.7 2314.3" stroke="#cc55cc" stroke-width="0.62" fill="none"/>
<path d="M121.5 2246.7L122.0 2341.3M120.7 2246.7L128.7 2320.3M172.6 2207.1L221.2 2182.5M249.0 2208.8L218.5 2216.3M248.6 2208.8L299.6 2216.3M248.0 2208.0L271.1 2249.6M223.9 2240.4L271.9 2248.4M299.8 2215.1L334.3 2247.7M300.1 2215.9L357.1 2193.9M271.8 2249.2L272.8 2267.7M271.0 2249.3L278.0 2312.8M335.5 2208.1L333.5 2247.6M333.9 2248.8L392.0 2270.3M358.1 2193.1L357.1 2280.2M278.7 2312.3L207.6 2332.4M279.9 2312.3L307.4 2376.8M393.2 2270.1L369.7 2292.1M392.6 2270.0L356.1 2281.0M436.2 2273.5L424.6 2324.6M368.6 2290.9L340.1 2316.4M56.5 2312.9L96.0 2315.4M96.1 2314.2L121.6 2341.3M128.4 2320.0L120.9 2341.0M128.9 2321.4L207.5 2333.9M170.1 2308.8L160.6 2363.4M170.3 2307.7L208.3 2331.7M121.6 2341.3L160.2 2363.3M121.4 2340.5L53.4 2356.0M121.6 2341.3L88.6 2370.8M160.4 2363.6L185.4 2348.1M159.6 2362.7L106.0 2420.3M159.8 2364.4L243.4 2392.4M185.2 2347.8L207.7 2332.8M244.1 2391.2L253.1 2433.3M220.0 2403.1L306.1 2376.5M220.5 2403.6L274.6 2464.1M273.3 2394.3L252.8 2433.4M307.4 2377.8L282.9 2425.9M241.2 2463.6L274.3 2463.6M336.7 2208.0L369.2 2291.1M335.0 2247.2L369.5 2290.7M356.1 2193.5L391.7 2269.5M355.8 2279.8L436.9 2273.3M340.3 2316.7L395.4 2315.2M340.8 2315.6L378.3 2330.6M340.2 2317.1L406.7 2345.6M340.9 2316.1L390.9 2360.7M339.3 2317.2L365.8 2374.3M341.1 2317.0L356.6 2280.5M395.2 2316.0L425.2 2325.5M395.9 2315.8L378.4 2332.3M395.8 2315.1L407.3 2345.1M396.5 2316.4L357.0 2353.9M396.6 2315.4L391.6 2361.4M395.4 2315.2L386.9 2390.3M394.9 2315.8L368.3 2291.8M425.4 2324.7L406.9 2345.3M425.8 2324.9L387.2 2390.5M425.6 2324.4L356.1 2279.9M425.6 2324.4L369.1 2290.9M378.0 2331.4L407.1 2344.9M377.0 2332.6L414.6 2371.1M376.7 2331.9L385.7 2390.5M377.1 2331.9L368.1 2291.4M406.8 2344.5L355.7 2352.0M406.6 2345.0L390.1 2361.0M407.9 2344.5L356.8 2279.5M356.9 2352.2L367.9 2373.2M355.4 2354.3L415.0 2371.8M355.5 2353.0L386.6 2390.6M355.9 2352.8L355.9 2280.2M356.6 2352.9L369.7 2291.4M390.6 2361.6L367.1 2374.1M390.8 2360.2L415.8 2369.2M390.4 2361.3L386.9 2390.3M390.8 2361.2L369.3 2291.1M367.0 2375.0L415.5 2371.5M414.7 2369.3L386.2 2389.3M416.1 2369.8L356.5 2279.8M416.4 2369.7L369.9 2290.6M387.3 2390.2L369.3 2291.1M356.4 2279.6L369.4 2290.6M307.4 2377.9L341.4 2317.3M306.0 2376.6L355.5 2352.1M306.5 2378.5L390.6 2362.5M307.0 2378.3L378.5 2332.8M305.8 2375.8L406.4 2343.7M306.3 2377.3L425.4 2324.7M306.5 2377.6L395.6 2315.6" stroke="#5cc4d2" stroke-width="0.62" fill="none"/>
<path d="M120.7 2246.7L121.2 2341.3M122.3 2246.5L130.3 2320.1M173.0 2207.8L221.5 2183.2M221.7 2183.6L248.7 2207.6M248.5 2206.5L217.9 2214.0M218.2 2215.1L223.7 2241.2M224.1 2242.3L300.2 2216.3M298.9 2214.4L270.8 2248.4M300.0 2216.3L336.6 2209.3M270.2 2249.3L271.2 2267.8M272.0 2249.5L336.6 2208.5M272.0 2248.4L356.1 2279.4M270.9 2250.0L339.5 2317.6M336.3 2208.1L356.9 2193.1M334.8 2246.5L392.8 2268.1M334.3 2247.7L356.9 2193.1M356.5 2193.1L355.5 2280.2M272.5 2266.9L334.1 2246.9M278.7 2313.5L340.3 2317.5M279.1 2312.6L306.7 2377.1M279.1 2312.0L356.2 2352.1M278.6 2313.5L377.7 2332.5M392.3 2270.4L436.8 2274.9M391.6 2268.3L368.0 2290.3M436.9 2273.7L368.9 2291.2M435.4 2273.3L423.9 2324.4M436.9 2273.7L395.4 2315.2M391.6 2269.2L394.6 2315.3M369.7 2292.1L341.1 2317.6M101.0 2288.2L128.5 2320.8M56.6 2310.9L129.2 2319.4M96.1 2314.6L169.7 2309.1M129.1 2320.2L121.6 2341.3M130.1 2319.5L161.1 2362.6M128.8 2321.0L184.8 2348.5M170.3 2309.7L122.3 2342.3M167.7 2308.4L158.2 2362.9M170.4 2308.4L185.9 2347.5M160.7 2363.8L107.2 2421.4M160.2 2363.3L122.6 2449.9M159.5 2365.2L243.1 2393.2M160.7 2363.9L61.6 2460.0M106.6 2420.8L61.1 2459.4M106.6 2420.8L122.6 2449.9M243.8 2391.7L306.4 2377.7M220.7 2405.4L306.8 2378.8M219.7 2404.4L252.2 2433.9M220.1 2404.2L281.6 2425.7M221.4 2403.4L242.4 2464.0M219.9 2404.1L274.0 2464.7M305.3 2376.6L240.3 2463.7M253.5 2433.6L242.0 2464.7M241.2 2466.0L274.3 2466.0M307.0 2377.7L356.6 2280.6M337.5 2207.7L370.0 2290.8M357.6 2192.8L393.1 2268.9M334.0 2247.9L395.1 2315.5M356.0 2281.4L437.0 2274.9M340.4 2318.3L395.4 2316.8M340.5 2316.4L407.1 2344.9M340.0 2316.9L366.5 2374.0M339.9 2317.4L415.0 2370.9M339.7 2317.2L386.2 2390.7M338.9 2316.1L354.4 2279.6M341.1 2317.6L369.7 2292.1M395.9 2313.7L425.9 2323.2M394.3 2315.7L405.8 2345.7M395.4 2315.2L355.9 2352.8M396.1 2315.6L367.6 2374.1M393.8 2315.1L385.3 2390.1M395.7 2314.9L356.1 2279.9M425.3 2323.6L377.7 2330.6M425.9 2325.9L356.3 2353.9M424.6 2323.9L389.5 2360.5M424.7 2323.8L366.1 2372.9M425.1 2324.5L386.5 2390.1M424.8 2325.8L355.2 2281.2M378.4 2330.7L407.4 2344.2M377.0 2330.9L355.0 2351.9M377.9 2331.8L390.4 2361.3M376.7 2331.4L365.7 2373.5M377.6 2332.0L415.1 2370.6M379.1 2331.6L388.1 2390.1M407.0 2346.1L356.0 2353.6M405.4 2345.8L413.9 2370.8M407.6 2345.6L387.6 2390.6M406.6 2345.5L355.5 2280.4M407.2 2345.0L369.2 2291.0M355.7 2353.5L390.2 2362.1M356.7 2352.8L356.7 2280.2M390.0 2362.4L415.0 2371.4M366.9 2374.2L415.4 2370.7M366.4 2374.4L386.4 2390.9M367.7 2373.7L356.7 2280.1M415.6 2370.6L387.1 2390.6M414.7 2370.7L355.2 2280.6M415.1 2370.5L368.5 2291.4M387.7 2390.1L356.6 2280.0M306.7 2377.5L340.7 2316.9M306.2 2376.9L390.3 2360.9M305.7 2376.3L377.2 2330.7M306.8 2378.8L407.4 2346.8M306.1 2377.0L395.2 2314.9" stroke="#222222" stroke-width="0.62" fill="none"/>
<path d="M78.0 2227.5L121.6 2245.6M248.7 2207.6L223.7 2241.2M223.3 2240.0L299.4 2214.0M300.1 2215.4L272.1 2249.4M273.4 2249.1L274.4 2267.6M272.6 2248.3L341.2 2315.9M333.5 2247.7L339.5 2316.8M273.6 2267.6L279.6 2312.6M278.8 2312.7L355.9 2352.8M392.4 2268.8L437.0 2273.3M436.9 2273.7L425.4 2324.7M101.6 2287.7L96.1 2314.2M56.6 2311.3L96.1 2313.8M96.1 2314.2L129.1 2320.2M96.1 2313.8L169.6 2308.3M129.5 2320.0L160.5 2363.0M129.1 2320.6L207.6 2333.1M169.9 2309.1L121.8 2341.6M169.3 2308.7L159.8 2363.2M159.5 2362.3L184.6 2346.7M161.3 2364.4L107.8 2421.9M160.0 2363.7L243.6 2391.7M219.7 2402.3L305.8 2375.8M220.8 2403.2L253.3 2432.8M220.6 2402.7L282.2 2424.2M219.1 2404.2L240.1 2464.8M220.4 2404.6L273.4 2395.1M273.8 2395.4L306.9 2378.4M307.3 2378.0L242.2 2465.1M252.5 2432.6L281.6 2424.6M241.2 2465.2L274.3 2465.2M305.6 2376.9L355.1 2279.8M415.8 2369.6L473.4 2403.1M358.3 2192.4L393.8 2268.5M340.3 2315.9L395.4 2314.4M339.9 2317.9L377.4 2332.9M341.8 2317.4L357.3 2280.8M339.5 2315.8L368.1 2290.3M394.9 2316.8L424.9 2326.3M395.9 2315.8L356.4 2353.4M394.2 2315.1L389.2 2361.2M396.5 2314.8L416.5 2369.9M397.0 2315.4L388.5 2390.5M396.2 2314.3L356.7 2279.3M425.4 2324.3L377.8 2331.4M425.3 2324.4L355.7 2352.4M378.2 2332.0L356.1 2353.1M377.5 2331.7L366.5 2373.7M407.1 2346.8L356.1 2354.4M407.4 2345.9L367.3 2374.4M407.7 2345.0L416.2 2370.0M355.9 2352.8L415.4 2370.3M356.8 2352.0L387.8 2389.5M391.5 2360.9L370.0 2290.9M366.9 2373.8L368.9 2291.2M414.1 2371.2L354.5 2281.1M385.7 2390.5L367.7 2291.4M306.3 2376.5L366.8 2373.0M306.4 2376.5L387.0 2389.5M306.3 2377.3L406.9 2345.3" stroke="#8fcf3f" stroke-width="0.62" fill="none"/>
<path d="M77.7 2228.3L121.3 2246.3M248.9 2206.4L300.0 2213.9M299.7 2214.7L336.3 2207.7M271.6 2248.8L336.1 2207.8M278.5 2311.6L207.4 2331.6M278.0 2314.2L355.1 2354.2M129.9 2320.5L122.4 2341.5M170.9 2308.9L161.3 2363.5M169.5 2309.1L207.5 2333.1M160.8 2361.4L244.4 2389.4M243.4 2390.6L219.8 2403.1M243.5 2390.1L306.0 2376.1M242.6 2391.6L251.6 2433.6M219.1 2405.0L251.7 2434.5M273.1 2394.0L306.1 2376.9M306.9 2377.8L253.3 2433.9M306.7 2377.5L282.1 2425.5M306.3 2377.3L355.9 2280.2M333.4 2248.5L394.5 2316.0M395.8 2315.1L415.8 2370.2M425.7 2325.0L390.7 2361.6M425.7 2325.1L367.1 2374.1M424.8 2325.8L368.3 2292.2M377.1 2332.1L355.1 2280.5M407.7 2346.1L391.2 2362.1M406.1 2345.5L414.7 2370.5M407.9 2344.6L369.9 2290.5M354.8 2353.3L365.8 2374.4M355.6 2353.5L415.2 2371.1M357.5 2352.8L357.5 2280.2M390.2 2360.9L366.7 2373.4M306.3 2377.3L415.4 2370.3" stroke="#3a3ad0" stroke-width="0.62" fill="none"/>
<path d="M80.1 2200.1L77.6 2228.6M398.4 2223.1L441.4 2216.6M160.2 2363.3L220.2 2403.8M185.2 2347.8L220.2 2403.8" stroke="#c9d04a" stroke-width="0.62" fill="none"/>
<circle cx="320.32" cy="2144.86" r="6.30" fill="#000" stroke="none" stroke-width="0" opacity="0.12"/>
<circle cx="320.32" cy="2144.06" r="6.20" fill="#8fc9a0" stroke="#4f4f4f" stroke-width="0.9" />
<circle cx="320.32" cy="2144.06" r="6.20" fill="url(#gloss)" stroke="none" stroke-width="1" />
<text transform="translate(326.62,2138.46)" text-anchor="start" font-size="4.3" fill="#111">ASS1</text>
<circle cx="221.72" cy="2184.40" r="6.30" fill="#000" stroke="none" stroke-width="0" opacity="0.12"/>
<circle cx="221.72" cy="2183.60" r="6.20" fill="#a8d8a0" stroke="#4f4f4f" stroke-width="0.9" />
<circle cx="221.72" cy="2183.60" r="6.20" fill="url(#gloss)" stroke="none" stroke-width="1" />
<text transform="translate(228.02,2178.00)" text-anchor="start" font-size="4.3" fill="#111">TAGLN2</text>
<circle cx="80.08" cy="2200.92" r="6.30" fill="#000" stroke="none" stroke-width="0" opacity="0.12"/>
<circle cx="80.08" cy="2200.12" r="6.20" fill="#8fd8b0" stroke="#4f4f4f" stroke-width="0.9" />
<circle cx="80.08" cy="2200.12" r="6.20" fill="url(#gloss)" stroke="none" stroke-width="1" />
<text transform="translate(86.38,2194.52)" text-anchor="start" font-size="4.3" fill="#111">TMSB10</text>
<circle cx="356.86" cy="2193.91" r="6.30" fill="#000" stroke="none" stroke-width="0" opacity="0.12"/>
<circle cx="356.86" cy="2193.11" r="6.20" fill="#80d0a8" stroke="#4f4f4f" stroke-width="0.9" />
<circle cx="356.86" cy="2193.11" r="6.20" fill="url(#gloss)" stroke="none" stroke-width="1" />
<text transform="translate(363.16,2187.51)" text-anchor="start" font-size="4.3" fill="#111">PPA1</text>
<circle cx="415.42" cy="2188.41" r="6.30" fill="#000" stroke="none" stroke-width="0" opacity="0.12"/>
<circle cx="415.42" cy="2187.61" r="6.20" fill="#c8cc90" stroke="#4f4f4f" stroke-width="0.9" />
<circle cx="415.42" cy="2187.61" r="6.20" fill="url(#gloss)" stroke="none" stroke-width="1" />
<text transform="translate(421.72,2182.01)" text-anchor="start" font-size="4.3" fill="#111">SPINT1</text>
<circle cx="173.17" cy="2208.93" r="6.30" fill="#000" stroke="none" stroke-width="0" opacity="0.12"/>
<circle cx="173.17" cy="2208.13" r="6.20" fill="#d8a0a0" stroke="#4f4f4f" stroke-width="0.9" />
<circle cx="173.17" cy="2208.13" r="6.20" fill="url(#gloss)" stroke="none" stroke-width="1" />
<text transform="translate(179.47,2202.53)" text-anchor="start" font-size="4.3" fill="#111">CAPG</text>
<circle cx="248.75" cy="2208.43" r="6.30" fill="#000" stroke="none" stroke-width="0" opacity="0.12"/>
<circle cx="248.75" cy="2207.63" r="6.20" fill="#90c890" stroke="#4f4f4f" stroke-width="0.9" />
<circle cx="248.75" cy="2207.63" r="6.20" fill="url(#gloss)" stroke="none" stroke-width="1" />
<text transform="translate(255.05,2202.03)" text-anchor="start" font-size="4.3" fill="#111">PGAM1</text>
<circle cx="299.80" cy="2215.94" r="6.30" fill="#000" stroke="none" stroke-width="0" opacity="0.12"/>
<circle cx="299.80" cy="2215.14" r="6.20" fill="#40a850" stroke="#4f4f4f" stroke-width="0.9" />
<circle cx="299.80" cy="2215.14" r="6.20" fill="url(#gloss)" stroke="none" stroke-width="1" />
<text transform="translate(306.10,2209.54)" text-anchor="start" font-size="4.3" fill="#111">TPI1</text>
<circle cx="336.34" cy="2208.93" r="6.30" fill="#000" stroke="none" stroke-width="0" opacity="0.12"/>
<circle cx="336.34" cy="2208.13" r="6.20" fill="#d8a098" stroke="#4f4f4f" stroke-width="0.9" />
<circle cx="336.34" cy="2208.13" r="6.20" fill="url(#gloss)" stroke="none" stroke-width="1" />
<text transform="translate(342.64,2202.53)" text-anchor="start" font-size="4.3" fill="#111">YWHAE</text>
<circle cx="441.44" cy="2217.44" r="6.30" fill="#000" stroke="none" stroke-width="0" opacity="0.12"/>
<circle cx="441.44" cy="2216.64" r="6.20" fill="#d0cc98" stroke="#4f4f4f" stroke-width="0.9" />
<circle cx="441.44" cy="2216.64" r="6.20" fill="url(#gloss)" stroke="none" stroke-width="1" />
<text transform="translate(447.74,2211.04)" text-anchor="start" font-size="4.3" fill="#111">COX5A</text>
<circle cx="398.40" cy="2223.94" r="6.30" fill="#000" stroke="none" stroke-width="0" opacity="0.12"/>
<circle cx="398.40" cy="2223.14" r="6.20" fill="#80d0b0" stroke="#4f4f4f" stroke-width="0.9" />
<circle cx="398.40" cy="2223.14" r="6.20" fill="url(#gloss)" stroke="none" stroke-width="1" />
<text transform="translate(404.70,2217.54)" text-anchor="start" font-size="4.3" fill="#111">F10</text>
<circle cx="218.22" cy="2215.94" r="6.30" fill="#000" stroke="none" stroke-width="0" opacity="0.12"/>
<circle cx="218.22" cy="2215.14" r="6.20" fill="#a0d890" stroke="#4f4f4f" stroke-width="0.9" />
<circle cx="218.22" cy="2215.14" r="6.20" fill="url(#gloss)" stroke="none" stroke-width="1" />
<text transform="translate(224.52,2209.54)" text-anchor="start" font-size="4.3" fill="#111">MIF</text>
<circle cx="77.58" cy="2229.45" r="6.30" fill="#000" stroke="none" stroke-width="0" opacity="0.12"/>
<circle cx="77.58" cy="2228.65" r="6.20" fill="#70c0b0" stroke="#4f4f4f" stroke-width="0.9" />
<circle cx="77.58" cy="2228.65" r="6.20" fill="url(#gloss)" stroke="none" stroke-width="1" />
<text transform="translate(83.88,2223.05)" text-anchor="start" font-size="4.3" fill="#111">GPNMB</text>
<circle cx="121.12" cy="2247.47" r="6.30" fill="#000" stroke="none" stroke-width="0" opacity="0.12"/>
<circle cx="121.12" cy="2246.67" r="6.20" fill="#a080d8" stroke="#4f4f4f" stroke-width="0.9" />
<circle cx="121.12" cy="2246.67" r="6.20" fill="url(#gloss)" stroke="none" stroke-width="1" />
<text transform="translate(127.42,2241.07)" text-anchor="start" font-size="4.3" fill="#111">LGALS3</text>
<circle cx="223.72" cy="2241.96" r="6.30" fill="#000" stroke="none" stroke-width="0" opacity="0.12"/>
<circle cx="223.72" cy="2241.16" r="6.20" fill="#90b8d8" stroke="#4f4f4f" stroke-width="0.9" />
<circle cx="223.72" cy="2241.16" r="6.20" fill="url(#gloss)" stroke="none" stroke-width="1" />
<text transform="translate(230.02,2235.56)" text-anchor="start" font-size="4.3" fill="#111">LDHA</text>
<circle cx="271.77" cy="2249.97" r="6.30" fill="#000" stroke="none" stroke-width="0" opacity="0.12"/>
<circle cx="271.77" cy="2249.17" r="6.20" fill="#40b0a0" stroke="#4f4f4f" stroke-width="0.9" />
<circle cx="271.77" cy="2249.17" r="6.20" fill="url(#gloss)" stroke="none" stroke-width="1" />
<text transform="translate(278.07,2243.57)" text-anchor="start" font-size="4.3" fill="#111">ENO1</text>
<circle cx="334.33" cy="2248.47" r="6.30" fill="#000" stroke="none" stroke-width="0" opacity="0.12"/>
<circle cx="334.33" cy="2247.67" r="6.20" fill="#90b0d8" stroke="#4f4f4f" stroke-width="0.9" />
<circle cx="334.33" cy="2247.67" r="6.20" fill="url(#gloss)" stroke="none" stroke-width="1" />
<text transform="translate(340.63,2242.07)" text-anchor="start" font-size="4.3" fill="#111">RAN</text>
<circle cx="272.77" cy="2268.49" r="6.30" fill="#000" stroke="none" stroke-width="0" opacity="0.12"/>
<circle cx="272.77" cy="2267.69" r="6.20" fill="#90d0a0" stroke="#4f4f4f" stroke-width="0.9" />
<circle cx="272.77" cy="2267.69" r="6.20" fill="url(#gloss)" stroke="none" stroke-width="1" />
<text transform="translate(279.07,2262.09)" text-anchor="start" font-size="4.3" fill="#111">SRSF3</text>
<circle cx="170.17" cy="2277.50" r="6.30" fill="#000" stroke="none" stroke-width="0" opacity="0.12"/>
<circle cx="170.17" cy="2276.70" r="6.20" fill="#c8b088" stroke="#4f4f4f" stroke-width="0.9" />
<circle cx="170.17" cy="2276.70" r="6.20" fill="url(#gloss)" stroke="none" stroke-width="1" />
<text transform="translate(176.47,2271.10)" text-anchor="start" font-size="4.3" fill="#111">NAAA</text>
<circle cx="392.39" cy="2269.99" r="6.30" fill="#000" stroke="none" stroke-width="0" opacity="0.12"/>
<circle cx="392.39" cy="2269.19" r="6.20" fill="#70c070" stroke="#4f4f4f" stroke-width="0.9" />
<circle cx="392.39" cy="2269.19" r="6.20" fill="url(#gloss)" stroke="none" stroke-width="1" />
<text transform="translate(398.69,2263.59)" text-anchor="start" font-size="4.3" fill="#111">PSMA7</text>
<circle cx="436.94" cy="2274.49" r="6.30" fill="#000" stroke="none" stroke-width="0" opacity="0.12"/>
<circle cx="436.94" cy="2273.69" r="6.20" fill="#b080c8" stroke="#4f4f4f" stroke-width="0.9" />
<circle cx="436.94" cy="2273.69" r="6.20" fill="url(#gloss)" stroke="none" stroke-width="1" />
<text transform="translate(443.24,2268.09)" text-anchor="start" font-size="4.3" fill="#111">PSMB3</text>
<circle cx="355.86" cy="2281.00" r="6.30" fill="#000" stroke="none" stroke-width="0" opacity="0.12"/>
<circle cx="355.86" cy="2280.20" r="6.20" fill="#d8d890" stroke="#4f4f4f" stroke-width="0.9" />
<circle cx="355.86" cy="2280.20" r="6.20" fill="url(#gloss)" stroke="none" stroke-width="1" />
<text transform="translate(362.16,2274.60)" text-anchor="start" font-size="4.3" fill="#111">EIF5A</text>
<circle cx="368.87" cy="2292.01" r="6.30" fill="#000" stroke="none" stroke-width="0" opacity="0.12"/>
<circle cx="368.87" cy="2291.21" r="6.20" fill="#e05048" stroke="#4f4f4f" stroke-width="0.9" />
<circle cx="368.87" cy="2291.21" r="6.20" fill="url(#gloss)" stroke="none" stroke-width="1" />
<text transform="translate(375.17,2285.61)" text-anchor="start" font-size="4.3" fill="#111">PSMA4</text>
<circle cx="101.60" cy="2288.51" r="6.30" fill="#000" stroke="none" stroke-width="0" opacity="0.12"/>
<circle cx="101.60" cy="2287.71" r="6.20" fill="#d8b098" stroke="#4f4f4f" stroke-width="0.9" />
<circle cx="101.60" cy="2287.71" r="6.20" fill="url(#gloss)" stroke="none" stroke-width="1" />
<text transform="translate(107.90,2282.11)" text-anchor="start" font-size="4.3" fill="#111">GRN</text>
<circle cx="169.67" cy="2309.53" r="6.30" fill="#000" stroke="none" stroke-width="0" opacity="0.12"/>
<circle cx="169.67" cy="2308.73" r="6.20" fill="#90b8e0" stroke="#4f4f4f" stroke-width="0.9" />
<circle cx="169.67" cy="2308.73" r="6.20" fill="url(#gloss)" stroke="none" stroke-width="1" />
<text transform="translate(175.97,2303.13)" text-anchor="start" font-size="4.3" fill="#111">CTSD</text>
<circle cx="56.56" cy="2312.53" r="6.30" fill="#000" stroke="none" stroke-width="0" opacity="0.12"/>
<circle cx="56.56" cy="2311.73" r="6.20" fill="#d8a0a0" stroke="#4f4f4f" stroke-width="0.9" />
<circle cx="56.56" cy="2311.73" r="6.20" fill="url(#gloss)" stroke="none" stroke-width="1" />
<text transform="translate(62.86,2306.13)" text-anchor="start" font-size="4.3" fill="#111">HEXA</text>
<circle cx="96.10" cy="2315.03" r="6.30" fill="#000" stroke="none" stroke-width="0" opacity="0.12"/>
<circle cx="96.10" cy="2314.23" r="6.20" fill="#90d8c8" stroke="#4f4f4f" stroke-width="0.9" />
<circle cx="96.10" cy="2314.23" r="6.20" fill="url(#gloss)" stroke="none" stroke-width="1" />
<text transform="translate(102.40,2308.63)" text-anchor="start" font-size="4.3" fill="#111">PSAP</text>
<circle cx="129.13" cy="2321.04" r="6.30" fill="#000" stroke="none" stroke-width="0" opacity="0.12"/>
<circle cx="129.13" cy="2320.24" r="6.20" fill="#c8c898" stroke="#4f4f4f" stroke-width="0.9" />
<circle cx="129.13" cy="2320.24" r="6.20" fill="url(#gloss)" stroke="none" stroke-width="1" />
<text transform="translate(135.43,2314.64)" text-anchor="start" font-size="4.3" fill="#111">CTSB</text>
<circle cx="278.78" cy="2313.53" r="6.30" fill="#000" stroke="none" stroke-width="0" opacity="0.12"/>
<circle cx="278.78" cy="2312.73" r="6.20" fill="#d8b898" stroke="#4f4f4f" stroke-width="0.9" />
<circle cx="278.78" cy="2312.73" r="6.20" fill="url(#gloss)" stroke="none" stroke-width="1" />
<text transform="translate(285.08,2307.13)" text-anchor="start" font-size="4.3" fill="#111">PCBP1</text>
<circle cx="340.34" cy="2317.54" r="6.30" fill="#000" stroke="none" stroke-width="0" opacity="0.12"/>
<circle cx="340.34" cy="2316.74" r="6.20" fill="#d0d098" stroke="#4f4f4f" stroke-width="0.9" />
<circle cx="340.34" cy="2316.74" r="6.20" fill="url(#gloss)" stroke="none" stroke-width="1" />
<text transform="translate(346.64,2311.14)" text-anchor="start" font-size="4.3" fill="#111">EEF1A1</text>
<circle cx="395.40" cy="2316.04" r="6.30" fill="#000" stroke="none" stroke-width="0" opacity="0.12"/>
<circle cx="395.40" cy="2315.24" r="6.20" fill="#a8d0e0" stroke="#4f4f4f" stroke-width="0.9" />
<circle cx="395.40" cy="2315.24" r="6.20" fill="url(#gloss)" stroke="none" stroke-width="1" />
<text transform="translate(401.70,2309.64)" text-anchor="start" font-size="4.3" fill="#111">RPS8</text>
<circle cx="425.43" cy="2325.54" r="6.30" fill="#000" stroke="none" stroke-width="0" opacity="0.12"/>
<circle cx="425.43" cy="2324.74" r="6.20" fill="#80c8a0" stroke="#4f4f4f" stroke-width="0.9" />
<circle cx="425.43" cy="2324.74" r="6.20" fill="url(#gloss)" stroke="none" stroke-width="1" />
<text transform="translate(431.73,2319.14)" text-anchor="start" font-size="4.3" fill="#111">RPL11</text>
<circle cx="207.71" cy="2333.55" r="6.30" fill="#000" stroke="none" stroke-width="0" opacity="0.12"/>
<circle cx="207.71" cy="2332.75" r="6.20" fill="#e0a8a0" stroke="#4f4f4f" stroke-width="0.9" />
<circle cx="207.71" cy="2332.75" r="6.20" fill="url(#gloss)" stroke="none" stroke-width="1" />
<text transform="translate(214.01,2327.15)" text-anchor="start" font-size="4.3" fill="#111">FTH1</text>
<circle cx="121.62" cy="2342.06" r="6.30" fill="#000" stroke="none" stroke-width="0" opacity="0.12"/>
<circle cx="121.62" cy="2341.26" r="6.20" fill="#3848a0" stroke="#4f4f4f" stroke-width="0.9" />
<circle cx="121.62" cy="2341.26" r="6.20" fill="url(#gloss)" stroke="none" stroke-width="1" />
<text transform="translate(127.92,2335.66)" text-anchor="start" font-size="4.3" fill="#111">CD68</text>
<circle cx="377.88" cy="2332.55" r="6.30" fill="#000" stroke="none" stroke-width="0" opacity="0.12"/>
<circle cx="377.88" cy="2331.75" r="6.20" fill="#d8d8a0" stroke="#4f4f4f" stroke-width="0.9" />
<circle cx="377.88" cy="2331.75" r="6.20" fill="url(#gloss)" stroke="none" stroke-width="1" />
<text transform="translate(384.18,2326.15)" text-anchor="start" font-size="4.3" fill="#111">RPL13</text>
<circle cx="406.91" cy="2346.07" r="6.30" fill="#000" stroke="none" stroke-width="0" opacity="0.12"/>
<circle cx="406.91" cy="2345.27" r="6.20" fill="#c0d070" stroke="#4f4f4f" stroke-width="0.9" />
<circle cx="406.91" cy="2345.27" r="6.20" fill="url(#gloss)" stroke="none" stroke-width="1" />
<text transform="translate(413.21,2339.67)" text-anchor="start" font-size="4.3" fill="#111">RPS15A</text>
<circle cx="185.19" cy="2348.57" r="6.30" fill="#000" stroke="none" stroke-width="0" opacity="0.12"/>
<circle cx="185.19" cy="2347.77" r="6.20" fill="#d8b890" stroke="#4f4f4f" stroke-width="0.9" />
<circle cx="185.19" cy="2347.77" r="6.20" fill="url(#gloss)" stroke="none" stroke-width="1" />
<text transform="translate(191.49,2342.17)" text-anchor="start" font-size="4.3" fill="#111">CSTB</text>
<circle cx="355.86" cy="2353.57" r="6.30" fill="#000" stroke="none" stroke-width="0" opacity="0.12"/>
<circle cx="355.86" cy="2352.77" r="6.20" fill="#90a8e0" stroke="#4f4f4f" stroke-width="0.9" />
<circle cx="355.86" cy="2352.77" r="6.20" fill="url(#gloss)" stroke="none" stroke-width="1" />
<text transform="translate(362.16,2347.17)" text-anchor="start" font-size="4.3" fill="#111">RPL30</text>
<circle cx="390.39" cy="2362.08" r="6.30" fill="#000" stroke="none" stroke-width="0" opacity="0.12"/>
<circle cx="390.39" cy="2361.28" r="6.20" fill="#b0d0e8" stroke="#4f4f4f" stroke-width="0.9" />
<circle cx="390.39" cy="2361.28" r="6.20" fill="url(#gloss)" stroke="none" stroke-width="1" />
<text transform="translate(396.69,2355.68)" text-anchor="start" font-size="4.3" fill="#111">RPL23</text>
<circle cx="53.55" cy="2357.58" r="6.30" fill="#000" stroke="none" stroke-width="0" opacity="0.12"/>
<circle cx="53.55" cy="2356.78" r="6.20" fill="#90d8d0" stroke="#4f4f4f" stroke-width="0.9" />
<circle cx="53.55" cy="2356.78" r="6.20" fill="url(#gloss)" stroke="none" stroke-width="1" />
<text transform="translate(59.85,2351.18)" text-anchor="start" font-size="4.3" fill="#111">TSPO</text>
<circle cx="88.59" cy="2371.59" r="6.30" fill="#000" stroke="none" stroke-width="0" opacity="0.12"/>
<circle cx="88.59" cy="2370.79" r="6.20" fill="#8890d0" stroke="#4f4f4f" stroke-width="0.9" />
<circle cx="88.59" cy="2370.79" r="6.20" fill="url(#gloss)" stroke="none" stroke-width="1" />
<text transform="translate(94.89,2365.19)" text-anchor="start" font-size="4.3" fill="#111">ACP5</text>
<circle cx="160.16" cy="2364.08" r="6.30" fill="#000" stroke="none" stroke-width="0" opacity="0.12"/>
<circle cx="160.16" cy="2363.28" r="6.20" fill="#80d080" stroke="#4f4f4f" stroke-width="0.9" />
<circle cx="160.16" cy="2363.28" r="6.20" fill="url(#gloss)" stroke="none" stroke-width="1" />
<text transform="translate(166.46,2357.68)" text-anchor="start" font-size="4.3" fill="#111">CTSS</text>
<circle cx="250.25" cy="2365.58" r="6.30" fill="#000" stroke="none" stroke-width="0" opacity="0.12"/>
<circle cx="250.25" cy="2364.78" r="6.20" fill="#b0a850" stroke="#4f4f4f" stroke-width="0.9" />
<circle cx="250.25" cy="2364.78" r="6.20" fill="url(#gloss)" stroke="none" stroke-width="1" />
<text transform="translate(256.55,2359.18)" text-anchor="start" font-size="4.3" fill="#111">PTPN18</text>
<circle cx="366.87" cy="2374.59" r="6.30" fill="#000" stroke="none" stroke-width="0" opacity="0.12"/>
<circle cx="366.87" cy="2373.79" r="6.20" fill="#a0d0e0" stroke="#4f4f4f" stroke-width="0.9" />
<circle cx="366.87" cy="2373.79" r="6.20" fill="url(#gloss)" stroke="none" stroke-width="1" />
<text transform="translate(373.17,2368.19)" text-anchor="start" font-size="4.3" fill="#111">RPL32</text>
<circle cx="415.42" cy="2371.09" r="6.30" fill="#000" stroke="none" stroke-width="0" opacity="0.12"/>
<circle cx="415.42" cy="2370.29" r="6.20" fill="#90a0e0" stroke="#4f4f4f" stroke-width="0.9" />
<circle cx="415.42" cy="2370.29" r="6.20" fill="url(#gloss)" stroke="none" stroke-width="1" />
<text transform="translate(421.72,2364.69)" text-anchor="start" font-size="4.3" fill="#111">RPS5</text>
<circle cx="306.31" cy="2378.10" r="6.30" fill="#000" stroke="none" stroke-width="0" opacity="0.12"/>
<circle cx="306.31" cy="2377.30" r="6.20" fill="#80c8a8" stroke="#4f4f4f" stroke-width="0.9" />
<circle cx="306.31" cy="2377.30" r="6.20" fill="url(#gloss)" stroke="none" stroke-width="1" />
<text transform="translate(312.61,2371.70)" text-anchor="start" font-size="4.3" fill="#111">ISG15</text>
<circle cx="386.89" cy="2391.11" r="6.30" fill="#000" stroke="none" stroke-width="0" opacity="0.12"/>
<circle cx="386.89" cy="2390.31" r="6.20" fill="#d8b090" stroke="#4f4f4f" stroke-width="0.9" />
<circle cx="386.89" cy="2390.31" r="6.20" fill="url(#gloss)" stroke="none" stroke-width="1" />
<text transform="translate(393.19,2384.71)" text-anchor="start" font-size="4.3" fill="#111">RPL37</text>
<circle cx="243.74" cy="2392.11" r="6.30" fill="#000" stroke="none" stroke-width="0" opacity="0.12"/>
<circle cx="243.74" cy="2391.31" r="6.20" fill="#90d090" stroke="#4f4f4f" stroke-width="0.9" />
<circle cx="243.74" cy="2391.31" r="6.20" fill="url(#gloss)" stroke="none" stroke-width="1" />
<text transform="translate(250.04,2385.71)" text-anchor="start" font-size="4.3" fill="#111">GBP2</text>
<circle cx="273.27" cy="2395.11" r="6.30" fill="#000" stroke="none" stroke-width="0" opacity="0.12"/>
<circle cx="273.27" cy="2394.31" r="6.20" fill="#e09890" stroke="#4f4f4f" stroke-width="0.9" />
<circle cx="273.27" cy="2394.31" r="6.20" fill="url(#gloss)" stroke="none" stroke-width="1" />
<text transform="translate(279.57,2388.71)" text-anchor="start" font-size="4.3" fill="#111">SAMHD1</text>
<circle cx="220.22" cy="2404.62" r="6.30" fill="#000" stroke="none" stroke-width="0" opacity="0.12"/>
<circle cx="220.22" cy="2403.82" r="6.20" fill="#b0d890" stroke="#4f4f4f" stroke-width="0.9" />
<circle cx="220.22" cy="2403.82" r="6.20" fill="url(#gloss)" stroke="none" stroke-width="1" />
<text transform="translate(226.52,2398.22)" text-anchor="start" font-size="4.3" fill="#111">STAT1</text>
<circle cx="472.97" cy="2404.62" r="6.30" fill="#000" stroke="none" stroke-width="0" opacity="0.12"/>
<circle cx="472.97" cy="2403.82" r="6.20" fill="#c0d090" stroke="#4f4f4f" stroke-width="0.9" />
<circle cx="472.97" cy="2403.82" r="6.20" fill="url(#gloss)" stroke="none" stroke-width="1" />
<text transform="translate(479.27,2398.22)" text-anchor="start" font-size="4.3" fill="#111">MRPL</text>
<circle cx="349.35" cy="2424.64" r="6.30" fill="#000" stroke="none" stroke-width="0" opacity="0.12"/>
<circle cx="349.35" cy="2423.84" r="6.20" fill="#90b8d8" stroke="#4f4f4f" stroke-width="0.9" />
<circle cx="349.35" cy="2423.84" r="6.20" fill="url(#gloss)" stroke="none" stroke-width="1" />
<text transform="translate(355.65,2418.24)" text-anchor="start" font-size="4.3" fill="#111">CFB</text>
<circle cx="414.91" cy="2424.64" r="6.30" fill="#000" stroke="none" stroke-width="0" opacity="0.12"/>
<circle cx="414.91" cy="2423.84" r="6.20" fill="#a0c880" stroke="#4f4f4f" stroke-width="0.9" />
<circle cx="414.91" cy="2423.84" r="6.20" fill="url(#gloss)" stroke="none" stroke-width="1" />
<text transform="translate(421.21,2418.24)" text-anchor="start" font-size="4.3" fill="#111">ABRACL</text>
<circle cx="281.78" cy="2426.15" r="6.30" fill="#000" stroke="none" stroke-width="0" opacity="0.12"/>
<circle cx="281.78" cy="2425.35" r="6.20" fill="#b0d8a0" stroke="#4f4f4f" stroke-width="0.9" />
<circle cx="281.78" cy="2425.35" r="6.20" fill="url(#gloss)" stroke="none" stroke-width="1" />
<text transform="translate(288.08,2419.75)" text-anchor="start" font-size="4.3" fill="#111">IFNGR1</text>
<circle cx="106.61" cy="2421.64" r="6.30" fill="#000" stroke="none" stroke-width="0" opacity="0.12"/>
<circle cx="106.61" cy="2420.84" r="6.20" fill="#90d8b0" stroke="#4f4f4f" stroke-width="0.9" />
<circle cx="106.61" cy="2420.84" r="6.20" fill="url(#gloss)" stroke="none" stroke-width="1" />
<text transform="translate(112.91,2415.24)" text-anchor="start" font-size="4.3" fill="#111">LY86</text>
<circle cx="252.75" cy="2434.15" r="6.30" fill="#000" stroke="none" stroke-width="0" opacity="0.12"/>
<circle cx="252.75" cy="2433.35" r="6.20" fill="#a0d8e0" stroke="#4f4f4f" stroke-width="0.9" />
<circle cx="252.75" cy="2433.35" r="6.20" fill="url(#gloss)" stroke="none" stroke-width="1" />
<text transform="translate(259.05,2427.75)" text-anchor="start" font-size="4.3" fill="#111">IRF7</text>
<circle cx="122.62" cy="2450.67" r="6.30" fill="#000" stroke="none" stroke-width="0" opacity="0.12"/>
<circle cx="122.62" cy="2449.87" r="6.20" fill="#8088d0" stroke="#4f4f4f" stroke-width="0.9" />
<circle cx="122.62" cy="2449.87" r="6.20" fill="url(#gloss)" stroke="none" stroke-width="1" />
<text transform="translate(128.92,2444.27)" text-anchor="start" font-size="4.3" fill="#111">ALOX5AP</text>
<circle cx="61.06" cy="2460.18" r="6.30" fill="#000" stroke="none" stroke-width="0" opacity="0.12"/>
<circle cx="61.06" cy="2459.38" r="6.20" fill="#80d0a0" stroke="#4f4f4f" stroke-width="0.9" />
<circle cx="61.06" cy="2459.38" r="6.20" fill="url(#gloss)" stroke="none" stroke-width="1" />
<text transform="translate(67.36,2453.78)" text-anchor="start" font-size="4.3" fill="#111">PLD4</text>
<circle cx="241.24" cy="2465.18" r="6.30" fill="#000" stroke="none" stroke-width="0" opacity="0.12"/>
<circle cx="241.24" cy="2464.38" r="6.20" fill="#60c070" stroke="#4f4f4f" stroke-width="0.9" />
<circle cx="241.24" cy="2464.38" r="6.20" fill="url(#gloss)" stroke="none" stroke-width="1" />
<text transform="translate(247.54,2458.78)" text-anchor="start" font-size="4.3" fill="#111">ZBP1</text>
<circle cx="274.27" cy="2465.18" r="6.30" fill="#000" stroke="none" stroke-width="0" opacity="0.12"/>
<circle cx="274.27" cy="2464.38" r="6.20" fill="#e0a0a0" stroke="#4f4f4f" stroke-width="0.9" />
<circle cx="274.27" cy="2464.38" r="6.20" fill="url(#gloss)" stroke="none" stroke-width="1" />
<text transform="translate(280.57,2458.78)" text-anchor="start" font-size="4.3" fill="#111">RTP4</text>
<!-- p_j.py -->
<text transform="translate(546.50,2111.50)" text-anchor="start" font-size="19.5" font-weight="bold" fill="#000">J</text>
<g><line x1="775.25" y1="2126.95" x2="784.75" y2="2215.36" stroke="#ababab" stroke-width="3.5100000000000002" stroke-linecap="round" stroke-opacity="0.34"/><line x1="775.25" y1="2126.95" x2="847.18" y2="2160.92" stroke="#ababab" stroke-width="3.5100000000000002" stroke-linecap="round" stroke-opacity="0.34"/><line x1="775.25" y1="2126.95" x2="826.70" y2="2188.89" stroke="#ababab" stroke-width="3.5100000000000002" stroke-linecap="round" stroke-opacity="0.34"/><line x1="775.25" y1="2126.95" x2="881.65" y2="2252.33" stroke="#ababab" stroke-width="3.5100000000000002" stroke-linecap="round" stroke-opacity="0.34"/><line x1="847.18" y1="2160.92" x2="826.70" y2="2188.89" stroke="#ababab" stroke-width="3.5100000000000002" stroke-linecap="round" stroke-opacity="0.34"/><line x1="847.18" y1="2160.92" x2="784.75" y2="2215.36" stroke="#ababab" stroke-width="3.5100000000000002" stroke-linecap="round" stroke-opacity="0.34"/><line x1="847.18" y1="2160.92" x2="881.65" y2="2252.33" stroke="#ababab" stroke-width="3.5100000000000002" stroke-linecap="round" stroke-opacity="0.34"/><line x1="871.16" y1="2169.41" x2="784.75" y2="2215.36" stroke="#ababab" stroke-width="3.5100000000000002" stroke-linecap="round" stroke-opacity="0.34"/><line x1="871.16" y1="2169.41" x2="826.70" y2="2188.89" stroke="#ababab" stroke-width="3.5100000000000002" stroke-linecap="round" stroke-opacity="0.34"/><line x1="871.16" y1="2169.41" x2="881.65" y2="2252.33" stroke="#ababab" stroke-width="3.5100000000000002" stroke-linecap="round" stroke-opacity="0.34"/><line x1="826.70" y1="2188.89" x2="784.75" y2="2215.36" stroke="#ababab" stroke-width="3.5100000000000002" stroke-linecap="round" stroke-opacity="0.34"/><line x1="826.70" y1="2188.89" x2="795.73" y2="2236.34" stroke="#ababab" stroke-width="3.5100000000000002" stroke-linecap="round" stroke-opacity="0.34"/><line x1="826.70" y1="2188.89" x2="836.69" y2="2256.32" stroke="#ababab" stroke-width="3.5100000000000002" stroke-linecap="round" stroke-opacity="0.34"/><line x1="826.70" y1="2188.89" x2="881.65" y2="2252.33" stroke="#ababab" stroke-width="5.4" stroke-linecap="round" stroke-opacity="0.34"/><line x1="784.75" y1="2215.36" x2="795.73" y2="2236.34" stroke="#ababab" stroke-width="3.5100000000000002" stroke-linecap="round" stroke-opacity="0.34"/><line x1="784.75" y1="2215.36" x2="836.69" y2="2256.32" stroke="#ababab" stroke-width="3.5100000000000002" stroke-linecap="round" stroke-opacity="0.34"/><line x1="784.75" y1="2215.36" x2="881.65" y2="2252.33" stroke="#ababab" stroke-width="6.075" stroke-linecap="round" stroke-opacity="0.34"/><line x1="784.75" y1="2215.36" x2="707.32" y2="2257.82" stroke="#ababab" stroke-width="3.5100000000000002" stroke-linecap="round" stroke-opacity="0.34"/><line x1="784.75" y1="2215.36" x2="737.29" y2="2277.80" stroke="#ababab" stroke-width="3.5100000000000002" stroke-linecap="round" stroke-opacity="0.34"/><line x1="795.73" y1="2236.34" x2="881.65" y2="2252.33" stroke="#ababab" stroke-width="5.4" stroke-linecap="round" stroke-opacity="0.34"/><line x1="795.73" y1="2236.34" x2="836.69" y2="2256.32" stroke="#ababab" stroke-width="3.5100000000000002" stroke-linecap="round" stroke-opacity="0.34"/><line x1="795.73" y1="2236.34" x2="707.32" y2="2257.82" stroke="#ababab" stroke-width="3.5100000000000002" stroke-linecap="round" stroke-opacity="0.34"/><line x1="836.69" y1="2256.32" x2="881.65" y2="2252.33" stroke="#ababab" stroke-width="3.5100000000000002" stroke-linecap="round" stroke-opacity="0.34"/><line x1="881.65" y1="2252.33" x2="843.19" y2="2360.22" stroke="#ababab" stroke-width="4.050000000000001" stroke-linecap="round" stroke-opacity="0.34"/><line x1="881.65" y1="2252.33" x2="890.14" y2="2343.24" stroke="#ababab" stroke-width="3.5100000000000002" stroke-linecap="round" stroke-opacity="0.34"/><line x1="836.69" y1="2256.32" x2="890.14" y2="2343.24" stroke="#ababab" stroke-width="3.5100000000000002" stroke-linecap="round" stroke-opacity="0.34"/><line x1="707.32" y1="2257.82" x2="667.36" y2="2168.41" stroke="#ababab" stroke-width="3.5100000000000002" stroke-linecap="round" stroke-opacity="0.34"/><line x1="707.32" y1="2257.82" x2="627.90" y2="2205.87" stroke="#ababab" stroke-width="3.5100000000000002" stroke-linecap="round" stroke-opacity="0.34"/><line x1="707.32" y1="2257.82" x2="616.41" y2="2222.86" stroke="#ababab" stroke-width="3.5100000000000002" stroke-linecap="round" stroke-opacity="0.34"/><line x1="707.32" y1="2257.82" x2="691.84" y2="2290.29" stroke="#ababab" stroke-width="3.5100000000000002" stroke-linecap="round" stroke-opacity="0.34"/><line x1="707.32" y1="2257.82" x2="741.29" y2="2343.24" stroke="#ababab" stroke-width="5.4" stroke-linecap="round" stroke-opacity="0.34"/><line x1="707.32" y1="2257.82" x2="737.29" y2="2277.80" stroke="#ababab" stroke-width="4.7250000000000005" stroke-linecap="round" stroke-opacity="0.34"/><line x1="707.32" y1="2257.82" x2="664.87" y2="2335.74" stroke="#ababab" stroke-width="3.5100000000000002" stroke-linecap="round" stroke-opacity="0.34"/><line x1="707.32" y1="2257.82" x2="675.85" y2="2373.71" stroke="#ababab" stroke-width="3.5100000000000002" stroke-linecap="round" stroke-opacity="0.34"/><line x1="691.84" y1="2290.29" x2="592.94" y2="2260.82" stroke="#ababab" stroke-width="3.5100000000000002" stroke-linecap="round" stroke-opacity="0.34"/><line x1="691.84" y1="2290.29" x2="645.38" y2="2312.77" stroke="#ababab" stroke-width="3.5100000000000002" stroke-linecap="round" stroke-opacity="0.34"/><line x1="691.84" y1="2290.29" x2="664.87" y2="2335.74" stroke="#ababab" stroke-width="5.4" stroke-linecap="round" stroke-opacity="0.34"/><line x1="691.84" y1="2290.29" x2="741.29" y2="2343.24" stroke="#ababab" stroke-width="6.075" stroke-linecap="round" stroke-opacity="0.34"/><line x1="691.84" y1="2290.29" x2="647.88" y2="2396.68" stroke="#ababab" stroke-width="3.5100000000000002" stroke-linecap="round" stroke-opacity="0.34"/><line x1="691.84" y1="2290.29" x2="737.29" y2="2277.80" stroke="#ababab" stroke-width="3.5100000000000002" stroke-linecap="round" stroke-opacity="0.34"/><line x1="691.84" y1="2290.29" x2="675.85" y2="2373.71" stroke="#ababab" stroke-width="3.5100000000000002" stroke-linecap="round" stroke-opacity="0.34"/><line x1="737.29" y1="2277.80" x2="741.29" y2="2343.24" stroke="#ababab" stroke-width="5.4" stroke-linecap="round" stroke-opacity="0.34"/><line x1="737.29" y1="2277.80" x2="784.75" y2="2313.27" stroke="#ababab" stroke-width="3.5100000000000002" stroke-linecap="round" stroke-opacity="0.34"/><line x1="741.29" y1="2343.24" x2="784.75" y2="2313.27" stroke="#ababab" stroke-width="3.5100000000000002" stroke-linecap="round" stroke-opacity="0.34"/><line x1="741.29" y1="2343.24" x2="664.87" y2="2335.74" stroke="#ababab" stroke-width="5.4" stroke-linecap="round" stroke-opacity="0.34"/><line x1="741.29" y1="2343.24" x2="645.38" y2="2312.77" stroke="#ababab" stroke-width="3.5100000000000002" stroke-linecap="round" stroke-opacity="0.34"/><line x1="741.29" y1="2343.24" x2="675.85" y2="2373.71" stroke="#ababab" stroke-width="3.5100000000000002" stroke-linecap="round" stroke-opacity="0.34"/><line x1="741.29" y1="2343.24" x2="843.19" y2="2360.22" stroke="#ababab" stroke-width="3.5100000000000002" stroke-linecap="round" stroke-opacity="0.34"/><line x1="741.29" y1="2343.24" x2="791.24" y2="2406.17" stroke="#ababab" stroke-width="3.5100000000000002" stroke-linecap="round" stroke-opacity="0.34"/><line x1="664.87" y1="2335.74" x2="645.38" y2="2312.77" stroke="#ababab" stroke-width="3.5100000000000002" stroke-linecap="round" stroke-opacity="0.34"/><line x1="664.87" y1="2335.74" x2="563.97" y2="2344.24" stroke="#ababab" stroke-width="3.5100000000000002" stroke-linecap="round" stroke-opacity="0.34"/><line x1="664.87" y1="2335.74" x2="675.85" y2="2373.71" stroke="#ababab" stroke-width="3.5100000000000002" stroke-linecap="round" stroke-opacity="0.34"/><line x1="664.87" y1="2335.74" x2="647.88" y2="2396.68" stroke="#ababab" stroke-width="3.5100000000000002" stroke-linecap="round" stroke-opacity="0.34"/><line x1="645.38" y1="2312.77" x2="563.97" y2="2344.24" stroke="#ababab" stroke-width="3.5100000000000002" stroke-linecap="round" stroke-opacity="0.34"/><line x1="645.38" y1="2312.77" x2="675.85" y2="2373.71" stroke="#ababab" stroke-width="3.5100000000000002" stroke-linecap="round" stroke-opacity="0.34"/><line x1="647.88" y1="2396.68" x2="569.46" y2="2444.64" stroke="#ababab" stroke-width="3.5100000000000002" stroke-linecap="round" stroke-opacity="0.34"/><line x1="647.88" y1="2396.68" x2="729.30" y2="2464.62" stroke="#ababab" stroke-width="3.5100000000000002" stroke-linecap="round" stroke-opacity="0.34"/><line x1="729.30" y1="2464.62" x2="837.69" y2="2431.15" stroke="#ababab" stroke-width="4.7250000000000005" stroke-linecap="round" stroke-opacity="0.34"/><line x1="729.30" y1="2464.62" x2="857.67" y2="2460.62" stroke="#ababab" stroke-width="3.5100000000000002" stroke-linecap="round" stroke-opacity="0.34"/><line x1="784.75" y1="2313.27" x2="890.14" y2="2343.24" stroke="#ababab" stroke-width="3.5100000000000002" stroke-linecap="round" stroke-opacity="0.34"/><line x1="843.19" y1="2360.22" x2="890.14" y2="2343.24" stroke="#ababab" stroke-width="3.5100000000000002" stroke-linecap="round" stroke-opacity="0.34"/><line x1="843.19" y1="2360.22" x2="791.24" y2="2406.17" stroke="#ababab" stroke-width="5.4" stroke-linecap="round" stroke-opacity="0.34"/><line x1="843.19" y1="2360.22" x2="837.69" y2="2431.15" stroke="#ababab" stroke-width="6.075" stroke-linecap="round" stroke-opacity="0.34"/><line x1="843.19" y1="2360.22" x2="901.63" y2="2411.17" stroke="#ababab" stroke-width="6.075" stroke-linecap="round" stroke-opacity="0.34"/><line x1="843.19" y1="2360.22" x2="925.10" y2="2373.21" stroke="#ababab" stroke-width="3.5100000000000002" stroke-linecap="round" stroke-opacity="0.34"/><line x1="843.19" y1="2360.22" x2="947.08" y2="2332.75" stroke="#ababab" stroke-width="3.5100000000000002" stroke-linecap="round" stroke-opacity="0.34"/><line x1="843.19" y1="2360.22" x2="810.22" y2="2459.62" stroke="#ababab" stroke-width="3.5100000000000002" stroke-linecap="round" stroke-opacity="0.34"/><line x1="843.19" y1="2360.22" x2="857.67" y2="2460.62" stroke="#ababab" stroke-width="3.5100000000000002" stroke-linecap="round" stroke-opacity="0.34"/><line x1="843.19" y1="2360.22" x2="890.64" y2="2384.20" stroke="#ababab" stroke-width="3.5100000000000002" stroke-linecap="round" stroke-opacity="0.34"/><line x1="791.24" y1="2406.17" x2="837.69" y2="2431.15" stroke="#ababab" stroke-width="3.5100000000000002" stroke-linecap="round" stroke-opacity="0.34"/><line x1="791.24" y1="2406.17" x2="901.63" y2="2411.17" stroke="#ababab" stroke-width="5.4" stroke-linecap="round" stroke-opacity="0.34"/><line x1="791.24" y1="2406.17" x2="857.67" y2="2460.62" stroke="#ababab" stroke-width="3.5100000000000002" stroke-linecap="round" stroke-opacity="0.34"/><line x1="837.69" y1="2431.15" x2="901.63" y2="2411.17" stroke="#ababab" stroke-width="5.4" stroke-linecap="round" stroke-opacity="0.34"/><line x1="837.69" y1="2431.15" x2="857.67" y2="2460.62" stroke="#ababab" stroke-width="3.5100000000000002" stroke-linecap="round" stroke-opacity="0.34"/><line x1="837.69" y1="2431.15" x2="810.22" y2="2459.62" stroke="#ababab" stroke-width="3.5100000000000002" stroke-linecap="round" stroke-opacity="0.34"/><line x1="810.22" y1="2459.62" x2="857.67" y2="2460.62" stroke="#ababab" stroke-width="3.5100000000000002" stroke-linecap="round" stroke-opacity="0.34"/><line x1="901.63" y1="2411.17" x2="925.10" y2="2373.21" stroke="#ababab" stroke-width="5.4" stroke-linecap="round" stroke-opacity="0.34"/><line x1="901.63" y1="2411.17" x2="890.14" y2="2343.24" stroke="#ababab" stroke-width="3.5100000000000002" stroke-linecap="round" stroke-opacity="0.34"/><line x1="901.63" y1="2411.17" x2="947.08" y2="2332.75" stroke="#ababab" stroke-width="3.5100000000000002" stroke-linecap="round" stroke-opacity="0.34"/><line x1="901.63" y1="2411.17" x2="947.58" y2="2400.18" stroke="#ababab" stroke-width="3.5100000000000002" stroke-linecap="round" stroke-opacity="0.34"/><line x1="901.63" y1="2411.17" x2="952.58" y2="2494.09" stroke="#ababab" stroke-width="3.5100000000000002" stroke-linecap="round" stroke-opacity="0.34"/><line x1="901.63" y1="2411.17" x2="857.67" y2="2460.62" stroke="#ababab" stroke-width="3.5100000000000002" stroke-linecap="round" stroke-opacity="0.34"/><line x1="901.63" y1="2411.17" x2="912.12" y2="2314.77" stroke="#ababab" stroke-width="3.5100000000000002" stroke-linecap="round" stroke-opacity="0.34"/><line x1="901.63" y1="2411.17" x2="890.64" y2="2384.20" stroke="#ababab" stroke-width="3.5100000000000002" stroke-linecap="round" stroke-opacity="0.34"/><line x1="925.10" y1="2373.21" x2="947.08" y2="2332.75" stroke="#ababab" stroke-width="5.4" stroke-linecap="round" stroke-opacity="0.34"/><line x1="925.10" y1="2373.21" x2="890.14" y2="2343.24" stroke="#ababab" stroke-width="3.5100000000000002" stroke-linecap="round" stroke-opacity="0.34"/><line x1="925.10" y1="2373.21" x2="947.58" y2="2400.18" stroke="#ababab" stroke-width="3.5100000000000002" stroke-linecap="round" stroke-opacity="0.34"/><line x1="925.10" y1="2373.21" x2="986.04" y2="2345.23" stroke="#ababab" stroke-width="3.5100000000000002" stroke-linecap="round" stroke-opacity="0.34"/><line x1="925.10" y1="2373.21" x2="912.12" y2="2314.77" stroke="#ababab" stroke-width="3.5100000000000002" stroke-linecap="round" stroke-opacity="0.34"/><line x1="925.10" y1="2373.21" x2="982.05" y2="2436.64" stroke="#ababab" stroke-width="3.5100000000000002" stroke-linecap="round" stroke-opacity="0.34"/><line x1="925.10" y1="2373.21" x2="890.64" y2="2384.20" stroke="#ababab" stroke-width="3.5100000000000002" stroke-linecap="round" stroke-opacity="0.34"/><line x1="947.08" y1="2332.75" x2="986.04" y2="2345.23" stroke="#ababab" stroke-width="3.5100000000000002" stroke-linecap="round" stroke-opacity="0.34"/><line x1="947.08" y1="2332.75" x2="1049.48" y2="2344.24" stroke="#ababab" stroke-width="3.5100000000000002" stroke-linecap="round" stroke-opacity="0.34"/><line x1="986.04" y1="2345.23" x2="1049.48" y2="2344.24" stroke="#ababab" stroke-width="3.5100000000000002" stroke-linecap="round" stroke-opacity="0.34"/><line x1="986.04" y1="2345.23" x2="968.56" y2="2316.26" stroke="#ababab" stroke-width="3.5100000000000002" stroke-linecap="round" stroke-opacity="0.34"/><line x1="968.56" y1="2316.26" x2="1049.48" y2="2344.24" stroke="#ababab" stroke-width="3.5100000000000002" stroke-linecap="round" stroke-opacity="0.34"/><line x1="971.06" y1="2221.36" x2="1047.48" y2="2171.41" stroke="#ababab" stroke-width="3.5100000000000002" stroke-linecap="round" stroke-opacity="0.34"/><line x1="947.08" y1="2332.75" x2="947.58" y2="2400.18" stroke="#ababab" stroke-width="3.5100000000000002" stroke-linecap="round" stroke-opacity="0.34"/><line x1="947.08" y1="2332.75" x2="982.05" y2="2436.64" stroke="#ababab" stroke-width="3.5100000000000002" stroke-linecap="round" stroke-opacity="0.34"/><line x1="912.12" y1="2314.77" x2="890.14" y2="2343.24" stroke="#ababab" stroke-width="3.5100000000000002" stroke-linecap="round" stroke-opacity="0.34"/><line x1="947.08" y1="2332.75" x2="890.14" y2="2343.24" stroke="#ababab" stroke-width="3.5100000000000002" stroke-linecap="round" stroke-opacity="0.34"/><line x1="990.04" y1="2293.29" x2="1049.48" y2="2344.24" stroke="#ababab" stroke-width="3.5100000000000002" stroke-linecap="round" stroke-opacity="0.34"/><line x1="1001.03" y1="2264.82" x2="1049.48" y2="2344.24" stroke="#ababab" stroke-width="3.5100000000000002" stroke-linecap="round" stroke-opacity="0.34"/><line x1="935.59" y1="2221.86" x2="971.06" y2="2221.36" stroke="#ababab" stroke-width="3.5100000000000002" stroke-linecap="round" stroke-opacity="0.34"/><line x1="935.59" y1="2221.86" x2="958.07" y2="2247.33" stroke="#ababab" stroke-width="3.5100000000000002" stroke-linecap="round" stroke-opacity="0.34"/><line x1="935.59" y1="2221.86" x2="984.55" y2="2252.33" stroke="#ababab" stroke-width="3.5100000000000002" stroke-linecap="round" stroke-opacity="0.34"/><line x1="935.59" y1="2221.86" x2="1001.03" y2="2264.82" stroke="#ababab" stroke-width="3.5100000000000002" stroke-linecap="round" stroke-opacity="0.34"/><line x1="935.59" y1="2221.86" x2="929.60" y2="2260.82" stroke="#ababab" stroke-width="3.5100000000000002" stroke-linecap="round" stroke-opacity="0.34"/><line x1="935.59" y1="2221.86" x2="922.11" y2="2285.29" stroke="#ababab" stroke-width="3.5100000000000002" stroke-linecap="round" stroke-opacity="0.34"/><line x1="935.59" y1="2221.86" x2="951.58" y2="2287.29" stroke="#ababab" stroke-width="3.5100000000000002" stroke-linecap="round" stroke-opacity="0.34"/><line x1="935.59" y1="2221.86" x2="990.04" y2="2293.29" stroke="#ababab" stroke-width="3.5100000000000002" stroke-linecap="round" stroke-opacity="0.34"/><line x1="935.59" y1="2221.86" x2="912.12" y2="2314.77" stroke="#ababab" stroke-width="3.5100000000000002" stroke-linecap="round" stroke-opacity="0.34"/><line x1="935.59" y1="2221.86" x2="968.56" y2="2316.26" stroke="#ababab" stroke-width="3.5100000000000002" stroke-linecap="round" stroke-opacity="0.34"/><line x1="935.59" y1="2221.86" x2="947.08" y2="2332.75" stroke="#ababab" stroke-width="3.5100000000000002" stroke-linecap="round" stroke-opacity="0.34"/><line x1="971.06" y1="2221.36" x2="958.07" y2="2247.33" stroke="#ababab" stroke-width="3.5100000000000002" stroke-linecap="round" stroke-opacity="0.34"/><line x1="971.06" y1="2221.36" x2="984.55" y2="2252.33" stroke="#ababab" stroke-width="3.5100000000000002" stroke-linecap="round" stroke-opacity="0.34"/><line x1="971.06" y1="2221.36" x2="1001.03" y2="2264.82" stroke="#ababab" stroke-width="3.5100000000000002" stroke-linecap="round" stroke-opacity="0.34"/><line x1="971.06" y1="2221.36" x2="929.60" y2="2260.82" stroke="#ababab" stroke-width="3.5100000000000002" stroke-linecap="round" stroke-opacity="0.34"/><line x1="971.06" y1="2221.36" x2="922.11" y2="2285.29" stroke="#ababab" stroke-width="3.5100000000000002" stroke-linecap="round" stroke-opacity="0.34"/><line x1="971.06" y1="2221.36" x2="951.58" y2="2287.29" stroke="#ababab" stroke-width="3.5100000000000002" stroke-linecap="round" stroke-opacity="0.34"/><line x1="971.06" y1="2221.36" x2="990.04" y2="2293.29" stroke="#ababab" stroke-width="3.5100000000000002" stroke-linecap="round" stroke-opacity="0.34"/><line x1="971.06" y1="2221.36" x2="912.12" y2="2314.77" stroke="#ababab" stroke-width="3.5100000000000002" stroke-linecap="round" stroke-opacity="0.34"/><line x1="971.06" y1="2221.36" x2="968.56" y2="2316.26" stroke="#ababab" stroke-width="3.5100000000000002" stroke-linecap="round" stroke-opacity="0.34"/><line x1="971.06" y1="2221.36" x2="947.08" y2="2332.75" stroke="#ababab" stroke-width="3.5100000000000002" stroke-linecap="round" stroke-opacity="0.34"/><line x1="958.07" y1="2247.33" x2="984.55" y2="2252.33" stroke="#ababab" stroke-width="3.5100000000000002" stroke-linecap="round" stroke-opacity="0.34"/><line x1="958.07" y1="2247.33" x2="1001.03" y2="2264.82" stroke="#ababab" stroke-width="3.5100000000000002" stroke-linecap="round" stroke-opacity="0.34"/><line x1="958.07" y1="2247.33" x2="929.60" y2="2260.82" stroke="#ababab" stroke-width="3.5100000000000002" stroke-linecap="round" stroke-opacity="0.34"/><line x1="958.07" y1="2247.33" x2="922.11" y2="2285.29" stroke="#ababab" stroke-width="3.5100000000000002" stroke-linecap="round" stroke-opacity="0.34"/><line x1="958.07" y1="2247.33" x2="951.58" y2="2287.29" stroke="#ababab" stroke-width="3.5100000000000002" stroke-linecap="round" stroke-opacity="0.34"/><line x1="958.07" y1="2247.33" x2="990.04" y2="2293.29" stroke="#ababab" stroke-width="3.5100000000000002" stroke-linecap="round" stroke-opacity="0.34"/><line x1="958.07" y1="2247.33" x2="912.12" y2="2314.77" stroke="#ababab" stroke-width="3.5100000000000002" stroke-linecap="round" stroke-opacity="0.34"/><line x1="958.07" y1="2247.33" x2="968.56" y2="2316.26" stroke="#ababab" stroke-width="3.5100000000000002" stroke-linecap="round" stroke-opacity="0.34"/><line x1="958.07" y1="2247.33" x2="947.08" y2="2332.75" stroke="#ababab" stroke-width="3.5100000000000002" stroke-linecap="round" stroke-opacity="0.34"/><line x1="984.55" y1="2252.33" x2="1001.03" y2="2264.82" stroke="#ababab" stroke-width="3.5100000000000002" stroke-linecap="round" stroke-opacity="0.34"/><line x1="984.55" y1="2252.33" x2="929.60" y2="2260.82" stroke="#ababab" stroke-width="3.5100000000000002" stroke-linecap="round" stroke-opacity="0.34"/><line x1="984.55" y1="2252.33" x2="922.11" y2="2285.29" stroke="#ababab" stroke-width="3.5100000000000002" stroke-linecap="round" stroke-opacity="0.34"/><line x1="984.55" y1="2252.33" x2="951.58" y2="2287.29" stroke="#ababab" stroke-width="3.5100000000000002" stroke-linecap="round" stroke-opacity="0.34"/><line x1="984.55" y1="2252.33" x2="990.04" y2="2293.29" stroke="#ababab" stroke-width="3.5100000000000002" stroke-linecap="round" stroke-opacity="0.34"/><line x1="984.55" y1="2252.33" x2="912.12" y2="2314.77" stroke="#ababab" stroke-width="3.5100000000000002" stroke-linecap="round" stroke-opacity="0.34"/><line x1="984.55" y1="2252.33" x2="968.56" y2="2316.26" stroke="#ababab" stroke-width="3.5100000000000002" stroke-linecap="round" stroke-opacity="0.34"/><line x1="984.55" y1="2252.33" x2="947.08" y2="2332.75" stroke="#ababab" stroke-width="3.5100000000000002" stroke-linecap="round" stroke-opacity="0.34"/><line x1="1001.03" y1="2264.82" x2="929.60" y2="2260.82" stroke="#ababab" stroke-width="3.5100000000000002" stroke-linecap="round" stroke-opacity="0.34"/><line x1="1001.03" y1="2264.82" x2="922.11" y2="2285.29" stroke="#ababab" stroke-width="3.5100000000000002" stroke-linecap="round" stroke-opacity="0.34"/><line x1="1001.03" y1="2264.82" x2="951.58" y2="2287.29" stroke="#ababab" stroke-width="3.5100000000000002" stroke-linecap="round" stroke-opacity="0.34"/><line x1="1001.03" y1="2264.82" x2="990.04" y2="2293.29" stroke="#ababab" stroke-width="3.5100000000000002" stroke-linecap="round" stroke-opacity="0.34"/><line x1="1001.03" y1="2264.82" x2="912.12" y2="2314.77" stroke="#ababab" stroke-width="3.5100000000000002" stroke-linecap="round" stroke-opacity="0.34"/><line x1="1001.03" y1="2264.82" x2="968.56" y2="2316.26" stroke="#ababab" stroke-width="3.5100000000000002" stroke-linecap="round" stroke-opacity="0.34"/><line x1="1001.03" y1="2264.82" x2="947.08" y2="2332.75" stroke="#ababab" stroke-width="3.5100000000000002" stroke-linecap="round" stroke-opacity="0.34"/><line x1="929.60" y1="2260.82" x2="922.11" y2="2285.29" stroke="#ababab" stroke-width="3.5100000000000002" stroke-linecap="round" stroke-opacity="0.34"/><line x1="929.60" y1="2260.82" x2="951.58" y2="2287.29" stroke="#ababab" stroke-width="3.5100000000000002" stroke-linecap="round" stroke-opacity="0.34"/><line x1="929.60" y1="2260.82" x2="990.04" y2="2293.29" stroke="#ababab" stroke-width="3.5100000000000002" stroke-linecap="round" stroke-opacity="0.34"/><line x1="929.60" y1="2260.82" x2="912.12" y2="2314.77" stroke="#ababab" stroke-width="3.5100000000000002" stroke-linecap="round" stroke-opacity="0.34"/><line x1="929.60" y1="2260.82" x2="968.56" y2="2316.26" stroke="#ababab" stroke-width="3.5100000000000002" stroke-linecap="round" stroke-opacity="0.34"/><line x1="929.60" y1="2260.82" x2="947.08" y2="2332.75" stroke="#ababab" stroke-width="3.5100000000000002" stroke-linecap="round" stroke-opacity="0.34"/><line x1="922.11" y1="2285.29" x2="951.58" y2="2287.29" stroke="#ababab" stroke-width="3.5100000000000002" stroke-linecap="round" stroke-opacity="0.34"/><line x1="922.11" y1="2285.29" x2="990.04" y2="2293.29" stroke="#ababab" stroke-width="3.5100000000000002" stroke-linecap="round" stroke-opacity="0.34"/><line x1="922.11" y1="2285.29" x2="912.12" y2="2314.77" stroke="#ababab" stroke-width="3.5100000000000002" stroke-linecap="round" stroke-opacity="0.34"/><line x1="922.11" y1="2285.29" x2="968.56" y2="2316.26" stroke="#ababab" stroke-width="3.5100000000000002" stroke-linecap="round" stroke-opacity="0.34"/><line x1="922.11" y1="2285.29" x2="947.08" y2="2332.75" stroke="#ababab" stroke-width="3.5100000000000002" stroke-linecap="round" stroke-opacity="0.34"/><line x1="951.58" y1="2287.29" x2="990.04" y2="2293.29" stroke="#ababab" stroke-width="3.5100000000000002" stroke-linecap="round" stroke-opacity="0.34"/><line x1="951.58" y1="2287.29" x2="912.12" y2="2314.77" stroke="#ababab" stroke-width="3.5100000000000002" stroke-linecap="round" stroke-opacity="0.34"/><line x1="951.58" y1="2287.29" x2="968.56" y2="2316.26" stroke="#ababab" stroke-width="3.5100000000000002" stroke-linecap="round" stroke-opacity="0.34"/><line x1="951.58" y1="2287.29" x2="947.08" y2="2332.75" stroke="#ababab" stroke-width="3.5100000000000002" stroke-linecap="round" stroke-opacity="0.34"/><line x1="990.04" y1="2293.29" x2="912.12" y2="2314.77" stroke="#ababab" stroke-width="3.5100000000000002" stroke-linecap="round" stroke-opacity="0.34"/><line x1="990.04" y1="2293.29" x2="968.56" y2="2316.26" stroke="#ababab" stroke-width="3.5100000000000002" stroke-linecap="round" stroke-opacity="0.34"/><line x1="990.04" y1="2293.29" x2="947.08" y2="2332.75" stroke="#ababab" stroke-width="3.5100000000000002" stroke-linecap="round" stroke-opacity="0.34"/><line x1="912.12" y1="2314.77" x2="968.56" y2="2316.26" stroke="#ababab" stroke-width="3.5100000000000002" stroke-linecap="round" stroke-opacity="0.34"/><line x1="912.12" y1="2314.77" x2="947.08" y2="2332.75" stroke="#ababab" stroke-width="3.5100000000000002" stroke-linecap="round" stroke-opacity="0.34"/><line x1="968.56" y1="2316.26" x2="947.08" y2="2332.75" stroke="#ababab" stroke-width="3.5100000000000002" stroke-linecap="round" stroke-opacity="0.34"/><line x1="881.65" y1="2252.33" x2="935.59" y2="2221.86" stroke="#ababab" stroke-width="3.5100000000000002" stroke-linecap="round" stroke-opacity="0.34"/><line x1="881.65" y1="2252.33" x2="971.06" y2="2221.36" stroke="#ababab" stroke-width="3.5100000000000002" stroke-linecap="round" stroke-opacity="0.34"/><line x1="881.65" y1="2252.33" x2="958.07" y2="2247.33" stroke="#ababab" stroke-width="3.5100000000000002" stroke-linecap="round" stroke-opacity="0.34"/><line x1="881.65" y1="2252.33" x2="984.55" y2="2252.33" stroke="#ababab" stroke-width="3.5100000000000002" stroke-linecap="round" stroke-opacity="0.34"/><line x1="881.65" y1="2252.33" x2="1001.03" y2="2264.82" stroke="#ababab" stroke-width="3.5100000000000002" stroke-linecap="round" stroke-opacity="0.34"/><line x1="881.65" y1="2252.33" x2="929.60" y2="2260.82" stroke="#ababab" stroke-width="3.5100000000000002" stroke-linecap="round" stroke-opacity="0.34"/><line x1="881.65" y1="2252.33" x2="922.11" y2="2285.29" stroke="#ababab" stroke-width="3.5100000000000002" stroke-linecap="round" stroke-opacity="0.34"/><line x1="881.65" y1="2252.33" x2="951.58" y2="2287.29" stroke="#ababab" stroke-width="3.5100000000000002" stroke-linecap="round" stroke-opacity="0.34"/><line x1="881.65" y1="2252.33" x2="990.04" y2="2293.29" stroke="#ababab" stroke-width="3.5100000000000002" stroke-linecap="round" stroke-opacity="0.34"/><line x1="881.65" y1="2252.33" x2="912.12" y2="2314.77" stroke="#ababab" stroke-width="3.5100000000000002" stroke-linecap="round" stroke-opacity="0.34"/><line x1="925.10" y1="2373.21" x2="922.11" y2="2285.29" stroke="#ababab" stroke-width="3.5100000000000002" stroke-linecap="round" stroke-opacity="0.34"/><line x1="925.10" y1="2373.21" x2="951.58" y2="2287.29" stroke="#ababab" stroke-width="3.5100000000000002" stroke-linecap="round" stroke-opacity="0.34"/><line x1="925.10" y1="2373.21" x2="929.60" y2="2260.82" stroke="#ababab" stroke-width="3.5100000000000002" stroke-linecap="round" stroke-opacity="0.34"/><line x1="925.10" y1="2373.21" x2="990.04" y2="2293.29" stroke="#ababab" stroke-width="3.5100000000000002" stroke-linecap="round" stroke-opacity="0.34"/><line x1="925.10" y1="2373.21" x2="935.59" y2="2221.86" stroke="#ababab" stroke-width="3.5100000000000002" stroke-linecap="round" stroke-opacity="0.34"/><line x1="925.10" y1="2373.21" x2="958.07" y2="2247.33" stroke="#ababab" stroke-width="3.5100000000000002" stroke-linecap="round" stroke-opacity="0.34"/><line x1="901.63" y1="2411.17" x2="922.11" y2="2285.29" stroke="#ababab" stroke-width="3.5100000000000002" stroke-linecap="round" stroke-opacity="0.34"/><line x1="901.63" y1="2411.17" x2="929.60" y2="2260.82" stroke="#ababab" stroke-width="3.5100000000000002" stroke-linecap="round" stroke-opacity="0.34"/><line x1="901.63" y1="2411.17" x2="912.12" y2="2314.77" stroke="#ababab" stroke-width="3.5100000000000002" stroke-linecap="round" stroke-opacity="0.34"/><line x1="901.63" y1="2411.17" x2="951.58" y2="2287.29" stroke="#ababab" stroke-width="3.5100000000000002" stroke-linecap="round" stroke-opacity="0.34"/></g>
<circle cx="775.25" cy="2126.95" r="4.60" fill="#6cc268" stroke="none" stroke-width="1" />
<text transform="translate(775.25,2127.75)" text-anchor="middle" font-size="2.3" fill="#2c5a2a">ZBP1</text>
<circle cx="847.18" cy="2160.92" r="4.60" fill="#6cc268" stroke="none" stroke-width="1" />
<text transform="translate(847.18,2161.72)" text-anchor="middle" font-size="2.3" fill="#2c5a2a">RTP4</text>
<circle cx="871.16" cy="2169.41" r="4.60" fill="#6cc268" stroke="none" stroke-width="1" />
<text transform="translate(871.16,2171.81) scale(0.950,1)" text-anchor="middle" font-size="6.88" fill="#333">IFNGR1</text>
<circle cx="826.70" cy="2188.89" r="4.60" fill="#6cc268" stroke="none" stroke-width="1" />
<text transform="translate(826.70,2189.69)" text-anchor="middle" font-size="2.3" fill="#2c5a2a">IRF7</text>
<circle cx="667.36" cy="2168.41" r="4.60" fill="#6cc268" stroke="none" stroke-width="1" />
<text transform="translate(667.36,2169.21)" text-anchor="middle" font-size="2.3" fill="#2c5a2a">ALOX5AP</text>
<circle cx="627.90" cy="2205.87" r="4.60" fill="#6cc268" stroke="none" stroke-width="1" />
<text transform="translate(627.90,2206.67)" text-anchor="middle" font-size="2.3" fill="#2c5a2a">PLD4</text>
<circle cx="616.41" cy="2222.86" r="4.60" fill="#6cc268" stroke="none" stroke-width="1" />
<text transform="translate(616.41,2223.66)" text-anchor="middle" font-size="2.3" fill="#2c5a2a">LY86</text>
<circle cx="592.94" cy="2260.82" r="4.60" fill="#6cc268" stroke="none" stroke-width="1" />
<text transform="translate(592.94,2261.62)" text-anchor="middle" font-size="2.3" fill="#2c5a2a">ACP5</text>
<circle cx="795.73" cy="2236.34" r="4.60" fill="#6cc268" stroke="none" stroke-width="1" />
<text transform="translate(795.73,2238.59) scale(0.950,1)" text-anchor="middle" font-size="6.45" fill="#333">GBP2</text>
<circle cx="836.69" cy="2256.32" r="4.60" fill="#6cc268" stroke="none" stroke-width="1" />
<text transform="translate(836.69,2258.42) scale(0.950,1)" text-anchor="middle" font-size="6.02" fill="#333">SAMHD1</text>
<circle cx="737.29" cy="2277.80" r="4.60" fill="#6cc268" stroke="none" stroke-width="1" />
<text transform="translate(737.29,2278.60)" text-anchor="middle" font-size="2.3" fill="#2c5a2a">CSTB</text>
<circle cx="645.38" cy="2312.77" r="4.60" fill="#6cc268" stroke="none" stroke-width="1" />
<text transform="translate(645.38,2313.57)" text-anchor="middle" font-size="2.3" fill="#2c5a2a">PSAP</text>
<circle cx="784.75" cy="2313.27" r="4.60" fill="#6cc268" stroke="none" stroke-width="1" />
<text transform="translate(784.75,2315.37) scale(0.950,1)" text-anchor="middle" font-size="6.02" fill="#333">FTH1</text>
<circle cx="563.97" cy="2344.24" r="4.60" fill="#6cc268" stroke="none" stroke-width="1" />
<text transform="translate(563.97,2345.04)" text-anchor="middle" font-size="2.3" fill="#2c5a2a">HEXA</text>
<circle cx="675.85" cy="2373.71" r="4.60" fill="#6cc268" stroke="none" stroke-width="1" />
<text transform="translate(675.85,2374.51)" text-anchor="middle" font-size="2.3" fill="#2c5a2a">GRN</text>
<circle cx="569.46" cy="2444.64" r="4.60" fill="#6cc268" stroke="none" stroke-width="1" />
<text transform="translate(569.46,2445.44)" text-anchor="middle" font-size="2.3" fill="#2c5a2a">GPNMB</text>
<circle cx="729.30" cy="2464.62" r="4.60" fill="#6cc268" stroke="none" stroke-width="1" />
<text transform="translate(729.30,2466.87) scale(0.950,1)" text-anchor="middle" font-size="6.45" fill="#333">CAPG</text>
<circle cx="810.22" cy="2459.62" r="4.60" fill="#6cc268" stroke="none" stroke-width="1" />
<text transform="translate(810.22,2460.42)" text-anchor="middle" font-size="2.3" fill="#2c5a2a">PTPN18</text>
<circle cx="857.67" cy="2460.62" r="4.60" fill="#6cc268" stroke="none" stroke-width="1" />
<text transform="translate(857.67,2461.42)" text-anchor="middle" font-size="2.3" fill="#2c5a2a">PGAM1</text>
<circle cx="890.14" cy="2343.24" r="4.60" fill="#6cc268" stroke="none" stroke-width="1" />
<text transform="translate(890.14,2345.34) scale(0.950,1)" text-anchor="middle" font-size="6.02" fill="#333">PCBP1</text>
<circle cx="890.64" cy="2384.20" r="4.60" fill="#6cc268" stroke="none" stroke-width="1" />
<text transform="translate(890.64,2385.00)" text-anchor="middle" font-size="2.3" fill="#2c5a2a">PPA1</text>
<circle cx="947.58" cy="2400.18" r="4.60" fill="#6cc268" stroke="none" stroke-width="1" />
<text transform="translate(947.58,2400.98)" text-anchor="middle" font-size="2.3" fill="#2c5a2a">YWHAE</text>
<circle cx="982.05" cy="2436.64" r="4.60" fill="#6cc268" stroke="none" stroke-width="1" />
<text transform="translate(982.05,2437.44)" text-anchor="middle" font-size="2.3" fill="#2c5a2a">SRSF3</text>
<circle cx="952.58" cy="2494.09" r="4.60" fill="#6cc268" stroke="none" stroke-width="1" />
<text transform="translate(952.58,2494.89)" text-anchor="middle" font-size="2.3" fill="#2c5a2a">ASS1</text>
<circle cx="1047.48" cy="2171.41" r="4.60" fill="#6cc268" stroke="none" stroke-width="1" />
<text transform="translate(1047.48,2172.21)" text-anchor="middle" font-size="2.3" fill="#2c5a2a">MRPL52</text>
<circle cx="1049.48" cy="2344.24" r="4.60" fill="#6cc268" stroke="none" stroke-width="1" />
<text transform="translate(1049.48,2345.04)" text-anchor="middle" font-size="2.3" fill="#2c5a2a">PSMB3</text>
<circle cx="935.59" cy="2221.86" r="4.60" fill="#6cc268" stroke="none" stroke-width="1" />
<text transform="translate(935.59,2222.66)" text-anchor="middle" font-size="2.3" fill="#2c5a2a">RPL30</text>
<circle cx="958.07" cy="2247.33" r="4.60" fill="#6cc268" stroke="none" stroke-width="1" />
<text transform="translate(958.07,2248.13)" text-anchor="middle" font-size="2.3" fill="#2c5a2a">RPS15A</text>
<circle cx="984.55" cy="2252.33" r="4.60" fill="#6cc268" stroke="none" stroke-width="1" />
<text transform="translate(984.55,2253.13)" text-anchor="middle" font-size="2.3" fill="#2c5a2a">RPL23</text>
<circle cx="1001.03" cy="2264.82" r="4.60" fill="#6cc268" stroke="none" stroke-width="1" />
<text transform="translate(1001.03,2265.62)" text-anchor="middle" font-size="2.3" fill="#2c5a2a">RPL32</text>
<circle cx="929.60" cy="2260.82" r="4.60" fill="#6cc268" stroke="none" stroke-width="1" />
<text transform="translate(929.60,2261.62)" text-anchor="middle" font-size="2.3" fill="#2c5a2a">RPL37</text>
<circle cx="922.11" cy="2285.29" r="4.60" fill="#6cc268" stroke="none" stroke-width="1" />
<text transform="translate(922.11,2287.24) scale(0.950,1)" text-anchor="middle" font-size="5.59" fill="#333">RPL13</text>
<circle cx="951.58" cy="2287.29" r="4.60" fill="#6cc268" stroke="none" stroke-width="1" />
<text transform="translate(951.58,2288.09)" text-anchor="middle" font-size="2.3" fill="#2c5a2a">RPS8</text>
<circle cx="990.04" cy="2293.29" r="4.60" fill="#6cc268" stroke="none" stroke-width="1" />
<text transform="translate(990.04,2295.39) scale(0.950,1)" text-anchor="middle" font-size="6.02" fill="#333">RPL11</text>
<circle cx="912.12" cy="2314.77" r="4.60" fill="#6cc268" stroke="none" stroke-width="1" />
<text transform="translate(912.12,2316.87) scale(0.950,1)" text-anchor="middle" font-size="6.02" fill="#333">EEF1A1</text>
<circle cx="968.56" cy="2316.26" r="4.60" fill="#6cc268" stroke="none" stroke-width="1" />
<text transform="translate(968.56,2318.21) scale(0.950,1)" text-anchor="middle" font-size="5.59" fill="#333">PSMA4</text>
<circle cx="784.75" cy="2215.36" r="6.49" fill="#e05a5a" stroke="none" stroke-width="1" />
<text transform="translate(784.75,2218.66) scale(0.950,1)" text-anchor="middle" font-size="9.24" fill="#2a2a2a">STAT1</text>
<circle cx="881.65" cy="2252.33" r="7.99" fill="#e05a5a" stroke="none" stroke-width="1" />
<text transform="translate(881.65,2255.93) scale(0.950,1)" text-anchor="middle" font-size="10.08" fill="#2a2a2a">ISG15</text>
<circle cx="707.32" cy="2257.82" r="6.49" fill="#e05a5a" stroke="none" stroke-width="1" />
<text transform="translate(707.32,2261.12) scale(0.950,1)" text-anchor="middle" font-size="9.24" fill="#2a2a2a">CTSS</text>
<circle cx="691.84" cy="2290.29" r="6.99" fill="#e05a5a" stroke="none" stroke-width="1" />
<text transform="translate(691.84,2293.89) scale(0.950,1)" text-anchor="middle" font-size="10.08" fill="#2a2a2a">CD68</text>
<circle cx="741.29" cy="2343.24" r="6.99" fill="#e05a5a" stroke="none" stroke-width="1" />
<text transform="translate(741.29,2346.84) scale(0.950,1)" text-anchor="middle" font-size="10.08" fill="#2a2a2a">CTSD</text>
<circle cx="843.19" cy="2360.22" r="6.99" fill="#e05a5a" stroke="none" stroke-width="1" />
<text transform="translate(843.19,2363.82) scale(0.950,1)" text-anchor="middle" font-size="10.08" fill="#2a2a2a">ENO1</text>
<circle cx="664.87" cy="2335.74" r="5.00" fill="#e05a5a" stroke="none" stroke-width="1" />
<text transform="translate(664.87,2337.99) scale(0.950,1)" text-anchor="middle" font-size="6.3" fill="#2a2a2a">CTSB</text>
<circle cx="647.88" cy="2396.68" r="5.49" fill="#e05a5a" stroke="none" stroke-width="1" />
<text transform="translate(647.88,2399.23) scale(0.950,1)" text-anchor="middle" font-size="7.14" fill="#2a2a2a">LGALS3</text>
<circle cx="791.24" cy="2406.17" r="5.00" fill="#e05a5a" stroke="none" stroke-width="1" />
<text transform="translate(791.24,2408.42) scale(0.950,1)" text-anchor="middle" font-size="6.3" fill="#2a2a2a">LDHA</text>
<circle cx="837.69" cy="2431.15" r="5.49" fill="#e05a5a" stroke="none" stroke-width="1" />
<text transform="translate(837.69,2433.70) scale(0.950,1)" text-anchor="middle" font-size="7.14" fill="#2a2a2a">MIF</text>
<circle cx="901.63" cy="2411.17" r="5.99" fill="#e05a5a" stroke="none" stroke-width="1" />
<text transform="translate(901.63,2413.87) scale(0.950,1)" text-anchor="middle" font-size="7.56" fill="#2a2a2a">TPI1</text>
<circle cx="925.10" cy="2373.21" r="5.99" fill="#e05a5a" stroke="none" stroke-width="1" />
<text transform="translate(925.10,2375.91) scale(0.950,1)" text-anchor="middle" font-size="7.56" fill="#2a2a2a">RAN</text>
<circle cx="947.08" cy="2332.75" r="5.99" fill="#e05a5a" stroke="none" stroke-width="1" />
<text transform="translate(947.08,2335.45) scale(0.950,1)" text-anchor="middle" font-size="7.56" fill="#2a2a2a">EIF5A</text>
<circle cx="986.04" cy="2345.23" r="5.49" fill="#e05a5a" stroke="none" stroke-width="1" />
<text transform="translate(986.04,2347.48) scale(0.950,1)" text-anchor="middle" font-size="6.3" fill="#2a2a2a">PSMA7</text>
<circle cx="971.06" cy="2221.36" r="5.49" fill="#e05a5a" stroke="none" stroke-width="1" />
<text transform="translate(971.06,2223.61) scale(0.950,1)" text-anchor="middle" font-size="6.3" fill="#2a2a2a">RPS5</text>
</svg>
</body></html>
